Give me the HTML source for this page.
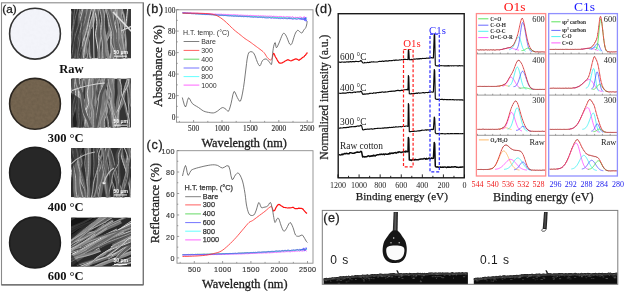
<!DOCTYPE html><html><head><meta charset="utf-8"><title>Figure</title><style>html,body{margin:0;padding:0;background:#fff;}body{width:625px;height:292px;overflow:hidden;}svg{display:block;}</style></head><body>
<svg width="625" height="292" viewBox="0 0 625 292">
<rect x="0" y="0" width="625" height="292" fill="#fff"/>
<rect x="1.5" y="2.8" width="141.8" height="282" fill="none" stroke="#8a8a8a" stroke-width="1.1"/>
<line x1="1.5" y1="284.8" x2="143.3" y2="284.8" stroke="#666" stroke-width="1.2"/>
<line x1="143.3" y1="2.8" x2="143.3" y2="284.8" stroke="#707070" stroke-width="1.1"/>
<text x="2.3" y="12.7" font-family="'Liberation Sans', Arial, sans-serif" font-size="11.8" fill="#222" text-anchor="start" font-weight="normal" stroke="#222" stroke-width="0.3">(a)</text>
<defs><filter id="paper" x="0" y="0" width="100%" height="100%"><feTurbulence type="fractalNoise" baseFrequency="0.35" numOctaves="2" seed="3" result="n"/><feColorMatrix in="n" type="matrix" values="0 0 0 0 0  0 0 0 0 0  0 0 0 0 0  0.35 0 0 0 -0.1" result="a"/><feComposite in="a" in2="SourceGraphic" operator="in"/></filter></defs>
<circle cx="35" cy="33.7" r="25.4" fill="#f3f4fa" stroke="#333" stroke-width="1.6"/>
<circle cx="35" cy="33.7" r="24.5" fill="#000" filter="url(#paper)" opacity="0.06"/>
<circle cx="35" cy="103.8" r="25.4" fill="#766651" stroke="#2b2620" stroke-width="1.6"/>
<circle cx="35" cy="103.8" r="24.5" fill="#000" filter="url(#paper)" opacity="0.4"/>
<circle cx="35" cy="172.7" r="25.4" fill="#272727" stroke="#1e1e1e" stroke-width="1.6"/>
<circle cx="35" cy="242.5" r="25.4" fill="#282828" stroke="#1e1e1e" stroke-width="1.6"/>
<clipPath id="semclip0"><rect x="71" y="9" width="60" height="49.5"/></clipPath>
<g clip-path="url(#semclip0)">
<rect x="71" y="9" width="60" height="49.5" fill="#3a3a3a"/>
<path d="M98.84 6 L98.54 8.4 L98.14 11.82 L97.89 15.25 L97.93 18.33 L98.13 21.42 L98.34 24.5 L98.57 27.58 L98.81 30.67 L98.89 33.75 L98.65 36.83 L98.26 39.92 L98.1 43 L98.38 46.08 L98.9 49.17 L99.35 52.25 L99.63 55.68 L99.86 59.1 L100.01 61.5" fill="none" stroke="#5d5d5d" stroke-width="1.41"/>
<path d="M99.55 6 L99.25 8.4 L98.84 11.82 L98.59 15.25 L98.64 18.33 L98.83 21.42 L99.04 24.5 L99.27 27.58 L99.51 30.67 L99.6 33.75 L99.36 36.83 L98.97 39.92 L98.8 43 L99.09 46.08 L99.6 49.17 L100.05 52.25 L100.34 55.68 L100.56 59.1 L100.71 61.5" fill="none" stroke="#b7b7b7" stroke-width="0.55"/>
<path d="M120.42 6 L121.49 8.4 L122.96 11.82 L124.13 15.25 L124.7 18.33 L124.97 21.42 L125.16 24.5 L125.26 27.58 L125.27 30.67 L125.36 33.75 L125.67 36.83 L126.06 39.92 L126.33 43 L126.31 46.08 L126.16 49.17 L126.12 52.25 L126.3 55.68 L126.58 59.1 L126.79 61.5" fill="none" stroke="#898989" stroke-width="1.34"/>
<path d="M119.76 6 L120.82 8.4 L122.29 11.82 L123.46 15.25 L124.03 18.33 L124.31 21.42 L124.49 24.5 L124.59 27.58 L124.6 30.67 L124.69 33.75 L125 36.83 L125.39 39.92 L125.66 43 L125.64 46.08 L125.49 49.17 L125.45 52.25 L125.63 55.68 L125.91 59.1 L126.12 61.5" fill="none" stroke="#bdbdbd" stroke-width="0.94"/>
<path d="M106.79 6 L107.45 8.4 L108.36 11.82 L109.07 15.25 L109.31 18.33 L109.34 21.42 L109.51 24.5 L109.97 27.58 L110.56 30.67 L111.16 33.75 L111.76 36.83 L112.37 39.92 L112.87 43 L113.15 46.08 L113.32 49.17 L113.6 52.25 L114.18 55.68 L114.88 59.1 L115.37 61.5" fill="none" stroke="#696969" stroke-width="2.09"/>
<path d="M105.74 6 L106.4 8.4 L107.31 11.82 L108.02 15.25 L108.26 18.33 L108.29 21.42 L108.46 24.5 L108.92 27.58 L109.51 30.67 L110.11 33.75 L110.71 36.83 L111.32 39.92 L111.82 43 L112.1 46.08 L112.27 49.17 L112.56 52.25 L113.13 55.68 L113.83 59.1 L114.32 61.5" fill="none" stroke="#c5c5c5" stroke-width="0.66"/>
<path d="M81.79 6 L82.11 8.4 L82.5 11.82 L82.57 15.25 L81.98 18.33 L81.05 21.42 L80.38 24.5 L80.33 27.58 L80.53 30.67 L80.45 33.75 L79.72 36.83 L78.7 39.92 L78 43 L78 46.08 L78.32 49.17 L78.43 52.25 L78.02 55.68 L77.4 59.1 L76.94 61.5" fill="none" stroke="#464646" stroke-width="1.67"/>
<path d="M80.96 6 L81.27 8.4 L81.67 11.82 L81.74 15.25 L81.14 18.33 L80.22 21.42 L79.54 24.5 L79.49 27.58 L79.7 30.67 L79.62 33.75 L78.88 36.83 L77.86 39.92 L77.16 43 L77.16 46.08 L77.48 49.17 L77.59 52.25 L77.18 55.68 L76.56 59.1 L76.11 61.5" fill="none" stroke="#e1e1e1" stroke-width="0.69"/>
<path d="M115.53 6 L115.07 8.4 L114.43 11.82 L114.06 15.25 L114.27 18.33 L114.73 21.42 L114.95 24.5 L114.62 27.58 L114.04 30.67 L113.56 33.75 L113.35 36.83 L113.24 39.92 L113.04 43 L112.6 46.08 L112.08 49.17 L111.77 52.25 L111.87 55.68 L112.18 59.1 L112.43 61.5" fill="none" stroke="#555555" stroke-width="1.5"/>
<path d="M114.79 6 L114.32 8.4 L113.68 11.82 L113.31 15.25 L113.52 18.33 L113.99 21.42 L114.2 24.5 L113.87 27.58 L113.29 30.67 L112.81 33.75 L112.6 36.83 L112.49 39.92 L112.29 43 L111.85 46.08 L111.33 49.17 L111.02 52.25 L111.12 55.68 L111.44 59.1 L111.68 61.5" fill="none" stroke="#a6a6a6" stroke-width="0.53"/>
<path d="M121.94 6 L121.41 8.4 L120.65 11.82 L119.84 15.25 L118.95 18.33 L118.02 21.42 L117.33 24.5 L117.2 27.58 L117.31 30.67 L117.06 33.75 L116.02 36.83 L114.63 39.92 L113.59 43 L113.35 46.08 L113.45 49.17 L113.24 52.25 L112.24 55.68 L110.92 59.1 L109.97 61.5" fill="none" stroke="#7b7b7b" stroke-width="3.38"/>
<path d="M120.25 6 L119.72 8.4 L118.96 11.82 L118.15 15.25 L117.26 18.33 L116.33 21.42 L115.64 24.5 L115.51 27.58 L115.62 30.67 L115.37 33.75 L114.34 36.83 L112.94 39.92 L111.9 43 L111.66 46.08 L111.76 49.17 L111.55 52.25 L110.55 55.68 L109.24 59.1 L108.28 61.5" fill="none" stroke="#c7c7c7" stroke-width="0.93"/>
<path d="M134.52 6 L133.82 8.4 L132.88 11.82 L132.29 15.25 L132.32 18.33 L132.7 21.42 L133.28 24.5 L134.2 27.58 L135.31 30.67 L136.06 33.75 L136.07 36.83 L135.71 39.92 L135.47 43 L135.59 46.08 L135.83 49.17 L135.91 52.25 L135.65 55.68 L135.24 59.1 L134.93 61.5" fill="none" stroke="#585858" stroke-width="1.67"/>
<path d="M135.35 6 L134.66 8.4 L133.71 11.82 L133.13 15.25 L133.15 18.33 L133.53 21.42 L134.11 24.5 L135.03 27.58 L136.15 30.67 L136.89 33.75 L136.91 36.83 L136.55 39.92 L136.3 43 L136.43 46.08 L136.67 49.17 L136.75 52.25 L136.49 55.68 L136.07 59.1 L135.76 61.5" fill="none" stroke="#a6a6a6" stroke-width="0.89"/>
<path d="M88.54 6 L88.21 8.4 L87.76 11.82 L87.46 15.25 L87.53 18.33 L87.75 21.42 L87.71 24.5 L87.11 27.58 L86.26 30.67 L85.62 33.75 L85.5 36.83 L85.59 39.92 L85.5 43 L85 46.08 L84.31 49.17 L83.72 52.25 L83.33 55.68 L83.02 59.1 L82.82 61.5" fill="none" stroke="#838383" stroke-width="3.03"/>
<path d="M87.03 6 L86.7 8.4 L86.24 11.82 L85.94 15.25 L86.01 18.33 L86.23 21.42 L86.19 24.5 L85.6 27.58 L84.74 30.67 L84.11 33.75 L83.98 36.83 L84.07 39.92 L83.98 43 L83.48 46.08 L82.8 49.17 L82.21 52.25 L81.81 55.68 L81.51 59.1 L81.31 61.5" fill="none" stroke="#d6d6d6" stroke-width="0.59"/>
<path d="M77.64 6 L77.76 8.4 L77.96 11.82 L78.31 15.25 L78.84 18.33 L79.53 21.42 L80.41 24.5 L81.59 27.58 L82.96 30.67 L84.22 33.75 L85.33 36.83 L86.34 39.92 L87.05 43 L87.15 46.08 L86.96 49.17 L87.23 52.25 L88.54 55.68 L90.32 59.1 L91.61 61.5" fill="none" stroke="#838383" stroke-width="2.53"/>
<path d="M78.9 6 L79.02 8.4 L79.22 11.82 L79.58 15.25 L80.11 18.33 L80.8 21.42 L81.67 24.5 L82.85 27.58 L84.22 30.67 L85.48 33.75 L86.59 36.83 L87.6 39.92 L88.31 43 L88.41 46.08 L88.22 49.17 L88.49 52.25 L89.8 55.68 L91.58 59.1 L92.87 61.5" fill="none" stroke="#ababab" stroke-width="0.55"/>
<path d="M68.07 6 L69.16 8.4 L70.69 11.82 L71.94 15.25 L72.46 18.33 L72.7 21.42 L73.25 24.5 L74.51 27.58 L76.08 30.67 L77.41 33.75 L78.22 36.83 L78.79 39.92 L79.34 43 L79.91 46.08 L80.46 49.17 L81.06 52.25 L81.85 55.68 L82.7 59.1 L83.3 61.5" fill="none" stroke="#4e4e4e" stroke-width="1.48"/>
<path d="M68.81 6 L69.9 8.4 L71.43 11.82 L72.68 15.25 L73.2 18.33 L73.44 21.42 L73.99 24.5 L75.25 27.58 L76.82 30.67 L78.15 33.75 L78.96 36.83 L79.53 39.92 L80.08 43 L80.65 46.08 L81.19 49.17 L81.8 52.25 L82.59 55.68 L83.44 59.1 L84.04 61.5" fill="none" stroke="#aeaeae" stroke-width="0.64"/>
<path d="M128.56 6 L128.33 8.4 L127.99 11.82 L127.62 15.25 L127.32 18.33 L126.98 21.42 L126.48 24.5 L125.63 27.58 L124.62 30.67 L123.75 33.75 L123.2 36.83 L122.81 39.92 L122.44 43 L122.05 46.08 L121.69 49.17 L121.33 52.25 L120.93 55.68 L120.54 59.1 L120.26 61.5" fill="none" stroke="#565656" stroke-width="1.4"/>
<path d="M127.86 6 L127.62 8.4 L127.29 11.82 L126.92 15.25 L126.61 18.33 L126.28 21.42 L125.77 24.5 L124.93 27.58 L123.91 30.67 L123.05 33.75 L122.5 36.83 L122.11 39.92 L121.73 43 L121.35 46.08 L120.99 49.17 L120.63 52.25 L120.23 55.68 L119.83 59.1 L119.56 61.5" fill="none" stroke="#dedede" stroke-width="0.99"/>
<path d="M111.56 6 L111.48 8.4 L111.38 11.82 L111.38 15.25 L111.56 18.33 L111.84 21.42 L112.15 24.5 L112.37 27.58 L112.63 30.67 L113.16 33.75 L114.27 36.83 L115.67 39.92 L116.72 43 L117.06 46.08 L117.05 49.17 L117.2 52.25 L117.76 55.68 L118.48 59.1 L118.99 61.5" fill="none" stroke="#484848" stroke-width="2.52"/>
<path d="M110.31 6 L110.22 8.4 L110.12 11.82 L110.12 15.25 L110.3 18.33 L110.58 21.42 L110.89 24.5 L111.11 27.58 L111.37 30.67 L111.9 33.75 L113.02 36.83 L114.41 39.92 L115.46 43 L115.8 46.08 L115.8 49.17 L115.94 52.25 L116.5 55.68 L117.22 59.1 L117.73 61.5" fill="none" stroke="#e2e2e2" stroke-width="0.53"/>
<path d="M87.61 6 L87.41 8.4 L87.11 11.82 L86.66 15.25 L86.03 18.33 L85.25 21.42 L84.4 24.5 L83.35 27.58 L82.23 30.67 L81.48 33.75 L81.5 36.83 L81.9 39.92 L81.96 43 L81.37 46.08 L80.44 49.17 L79.39 52.25 L78.09 55.68 L76.67 59.1 L75.67 61.5" fill="none" stroke="#717171" stroke-width="1.97"/>
<path d="M88.6 6 L88.4 8.4 L88.09 11.82 L87.65 15.25 L87.01 18.33 L86.24 21.42 L85.39 24.5 L84.34 27.58 L83.21 30.67 L82.47 33.75 L82.49 36.83 L82.89 39.92 L82.95 43 L82.36 46.08 L81.43 49.17 L80.37 52.25 L79.08 55.68 L77.66 59.1 L76.66 61.5" fill="none" stroke="#aeaeae" stroke-width="0.94"/>
<path d="M95.86 6 L96.03 8.4 L96.29 11.82 L96.66 15.25 L97.21 18.33 L97.86 21.42 L98.42 24.5 L98.74 27.58 L98.98 30.67 L99.35 33.75 L100 36.83 L100.79 39.92 L101.52 43 L102.18 46.08 L102.78 49.17 L103.21 52.25 L103.37 55.68 L103.37 59.1 L103.34 61.5" fill="none" stroke="#545454" stroke-width="3.39"/>
<path d="M97.55 6 L97.73 8.4 L97.99 11.82 L98.35 15.25 L98.9 18.33 L99.55 21.42 L100.11 24.5 L100.44 27.58 L100.67 30.67 L101.04 33.75 L101.69 36.83 L102.48 39.92 L103.22 43 L103.87 46.08 L104.47 49.17 L104.9 52.25 L105.07 55.68 L105.06 59.1 L105.04 61.5" fill="none" stroke="#cfcfcf" stroke-width="0.69"/>
<path d="M116.67 6 L117.2 8.4 L117.89 11.82 L118.23 15.25 L117.77 18.33 L116.95 21.42 L116.57 24.5 L117.19 27.58 L118.25 30.67 L118.89 33.75 L118.52 36.83 L117.72 39.92 L117.32 43 L117.8 46.08 L118.69 49.17 L119.37 52.25 L119.55 55.68 L119.52 59.1 L119.48 61.5" fill="none" stroke="#636363" stroke-width="3.31"/>
<path d="M115.02 6 L115.54 8.4 L116.24 11.82 L116.58 15.25 L116.12 18.33 L115.3 21.42 L114.92 24.5 L115.54 27.58 L116.6 30.67 L117.23 33.75 L116.86 36.83 L116.06 39.92 L115.66 43 L116.15 46.08 L117.04 49.17 L117.71 52.25 L117.9 55.68 L117.87 59.1 L117.83 61.5" fill="none" stroke="#e4e4e4" stroke-width="0.89"/>
<path d="M113.02 6 L112.59 8.4 L111.98 11.82 L111.47 15.25 L111.1 18.33 L110.82 21.42 L110.76 24.5 L111.09 27.58 L111.63 30.67 L112 33.75 L111.97 36.83 L111.76 39.92 L111.66 43 L111.85 46.08 L112.15 49.17 L112.24 52.25 L111.92 55.68 L111.4 59.1 L111.02 61.5" fill="none" stroke="#7e7e7e" stroke-width="2.3"/>
<path d="M111.88 6 L111.44 8.4 L110.83 11.82 L110.32 15.25 L109.95 18.33 L109.67 21.42 L109.61 24.5 L109.94 27.58 L110.48 30.67 L110.85 33.75 L110.82 36.83 L110.62 39.92 L110.51 43 L110.71 46.08 L111 49.17 L111.1 52.25 L110.78 55.68 L110.25 59.1 L109.87 61.5" fill="none" stroke="#cecece" stroke-width="0.7"/>
<path d="M84.65 6 L84.86 8.4 L85.14 11.82 L85.26 15.25 L85.03 18.33 L84.65 21.42 L84.45 24.5 L84.59 27.58 L84.91 30.67 L85.23 33.75 L85.42 36.83 L85.6 39.92 L85.99 43 L86.9 46.08 L88.02 49.17 L88.7 52.25 L88.53 55.68 L87.92 59.1 L87.45 61.5" fill="none" stroke="#575757" stroke-width="2.29"/>
<path d="M83.5 6 L83.71 8.4 L83.99 11.82 L84.11 15.25 L83.89 18.33 L83.51 21.42 L83.3 24.5 L83.45 27.58 L83.77 30.67 L84.09 33.75 L84.27 36.83 L84.45 39.92 L84.85 43 L85.75 46.08 L86.87 49.17 L87.55 52.25 L87.39 55.68 L86.78 59.1 L86.31 61.5" fill="none" stroke="#adadad" stroke-width="0.98"/>
<path d="M86.28 6 L85.66 8.4 L84.79 11.82 L83.95 15.25 L83.23 18.33 L82.55 21.42 L81.94 24.5 L81.46 27.58 L81.06 30.67 L80.67 33.75 L80.29 36.83 L79.91 39.92 L79.42 43 L78.77 46.08 L78 49.17 L77.22 52.25 L76.36 55.68 L75.49 59.1 L74.88 61.5" fill="none" stroke="#7f7f7f" stroke-width="1.9"/>
<path d="M85.33 6 L84.71 8.4 L83.84 11.82 L83 15.25 L82.28 18.33 L81.6 21.42 L80.99 24.5 L80.51 27.58 L80.11 30.67 L79.72 33.75 L79.33 36.83 L78.96 39.92 L78.47 43 L77.81 46.08 L77.05 49.17 L76.27 52.25 L75.41 55.68 L74.54 59.1 L73.93 61.5" fill="none" stroke="#c8c8c8" stroke-width="0.94"/>
<path d="M69.64 6 L69.68 8.4 L69.76 11.82 L70.07 15.25 L70.88 18.33 L71.92 21.42 L72.58 24.5 L72.41 27.58 L71.85 30.67 L71.57 33.75 L71.86 36.83 L72.43 39.92 L73.06 43 L73.78 46.08 L74.56 49.17 L75.11 52.25 L75.25 55.68 L75.15 59.1 L75.06 61.5" fill="none" stroke="#686868" stroke-width="1.72"/>
<path d="M68.78 6 L68.82 8.4 L68.9 11.82 L69.21 15.25 L70.02 18.33 L71.06 21.42 L71.72 24.5 L71.55 27.58 L70.99 30.67 L70.71 33.75 L71 36.83 L71.57 39.92 L72.2 43 L72.92 46.08 L73.7 49.17 L74.25 52.25 L74.39 55.68 L74.29 59.1 L74.2 61.5" fill="none" stroke="#ababab" stroke-width="0.99"/>
<path d="M75.64 6 L75.2 8.4 L74.54 11.82 L73.77 15.25 L72.87 18.33 L71.86 21.42 L70.84 24.5 L69.8 27.58 L68.76 30.67 L67.85 33.75 L67.1 36.83 L66.48 39.92 L66.02 43 L65.9 46.08 L65.94 49.17 L65.6 52.25 L64.46 55.68 L62.94 59.1 L61.84 61.5" fill="none" stroke="#474747" stroke-width="2.86"/>
<path d="M74.21 6 L73.77 8.4 L73.11 11.82 L72.34 15.25 L71.44 18.33 L70.43 21.42 L69.41 24.5 L68.37 27.58 L67.33 30.67 L66.42 33.75 L65.67 36.83 L65.05 39.92 L64.59 43 L64.47 46.08 L64.51 49.17 L64.17 52.25 L63.03 55.68 L61.51 59.1 L60.41 61.5" fill="none" stroke="#bbbbbb" stroke-width="0.61"/>
<path d="M121.12 6 L120.76 8.4 L120.28 11.82 L120.09 15.25 L120.57 18.33 L121.35 21.42 L121.7 24.5 L121.11 27.58 L120.11 30.67 L119.58 33.75 L120.07 36.83 L121.03 39.92 L121.73 43 L121.87 46.08 L121.75 49.17 L121.53 52.25 L121.19 55.68 L120.74 59.1 L120.42 61.5" fill="none" stroke="#7a7a7a" stroke-width="3.25"/>
<path d="M122.75 6 L122.38 8.4 L121.91 11.82 L121.72 15.25 L122.2 18.33 L122.97 21.42 L123.33 24.5 L122.74 27.58 L121.73 30.67 L121.2 33.75 L121.69 36.83 L122.65 39.92 L123.36 43 L123.5 46.08 L123.38 49.17 L123.16 52.25 L122.81 55.68 L122.37 59.1 L122.05 61.5" fill="none" stroke="#b5b5b5" stroke-width="0.73"/>
<path d="M78.31 6 L79.31 8.4 L80.71 11.82 L81.98 15.25 L82.91 18.33 L83.7 21.42 L84.42 24.5 L85 27.58 L85.5 30.67 L86.15 33.75 L87.14 36.83 L88.29 39.92 L89.18 43 L89.57 46.08 L89.71 49.17 L90 52.25 L90.68 55.68 L91.51 59.1 L92.1 61.5" fill="none" stroke="#606060" stroke-width="1.42"/>
<path d="M77.6 6 L78.6 8.4 L80 11.82 L81.27 15.25 L82.2 18.33 L82.99 21.42 L83.71 24.5 L84.29 27.58 L84.79 30.67 L85.44 33.75 L86.44 36.83 L87.58 39.92 L88.47 43 L88.86 46.08 L89.01 49.17 L89.29 52.25 L89.97 55.68 L90.8 59.1 L91.39 61.5" fill="none" stroke="#c0c0c0" stroke-width="0.62"/>
<path d="M93.74 6 L93.71 8.4 L93.63 11.82 L93.32 15.25 L92.73 18.33 L91.92 21.42 L90.91 24.5 L89.54 27.58 L87.97 30.67 L86.75 33.75 L86.3 36.83 L86.2 39.92 L85.74 43 L84.44 46.08 L82.77 49.17 L81.48 52.25 L80.9 55.68 L80.68 59.1 L80.57 61.5" fill="none" stroke="#4a4a4a" stroke-width="2.17"/>
<path d="M94.83 6 L94.79 8.4 L94.71 11.82 L94.41 15.25 L93.82 18.33 L93.01 21.42 L92 24.5 L90.62 27.58 L89.05 30.67 L87.83 33.75 L87.38 36.83 L87.28 39.92 L86.82 43 L85.52 46.08 L83.86 49.17 L82.57 52.25 L81.98 55.68 L81.76 59.1 L81.65 61.5" fill="none" stroke="#c8c8c8" stroke-width="0.74"/>
<path d="M67.15 6 L68.28 8.4 L69.81 11.82 L70.93 15.25 L71.12 18.33 L70.88 21.42 L70.89 24.5 L71.42 27.58 L72.2 30.67 L73.06 33.75 L74.11 36.83 L75.25 39.92 L76.04 43 L76.17 46.08 L75.96 49.17 L75.95 52.25 L76.46 55.68 L77.17 59.1 L77.69 61.5" fill="none" stroke="#888888" stroke-width="3.18"/>
<path d="M68.75 6 L69.87 8.4 L71.41 11.82 L72.52 15.25 L72.71 18.33 L72.47 21.42 L72.48 24.5 L73.01 27.58 L73.79 30.67 L74.65 33.75 L75.7 36.83 L76.84 39.92 L77.64 43 L77.76 46.08 L77.55 49.17 L77.54 52.25 L78.05 55.68 L78.76 59.1 L79.28 61.5" fill="none" stroke="#e4e4e4" stroke-width="0.79"/>
<path d="M113.22 6 L113.66 8.4 L114.3 11.82 L114.99 15.25 L115.74 18.33 L116.55 21.42 L117.18 24.5 L117.53 27.58 L117.71 30.67 L117.86 33.75 L117.91 36.83 L117.93 39.92 L118.18 43 L118.82 46.08 L119.7 49.17 L120.59 52.25 L121.52 55.68 L122.46 59.1 L123.12 61.5" fill="none" stroke="#666666" stroke-width="1.89"/>
<path d="M114.17 6 L114.61 8.4 L115.25 11.82 L115.93 15.25 L116.69 18.33 L117.49 21.42 L118.12 24.5 L118.48 27.58 L118.66 30.67 L118.8 33.75 L118.86 36.83 L118.87 39.92 L119.12 43 L119.76 46.08 L120.64 49.17 L121.53 52.25 L122.46 55.68 L123.4 59.1 L124.06 61.5" fill="none" stroke="#bfbfbf" stroke-width="0.65"/>
<path d="M75.88 6 L76.14 8.4 L76.5 11.82 L76.76 15.25 L76.85 18.33 L76.84 21.42 L76.77 24.5 L76.59 27.58 L76.36 30.67 L76.18 33.75 L76.07 36.83 L76.02 39.92 L76.12 43 L76.48 46.08 L76.98 49.17 L77.41 52.25 L77.72 55.68 L77.95 59.1 L78.11 61.5" fill="none" stroke="#4b4b4b" stroke-width="2.34"/>
<path d="M77.05 6 L77.31 8.4 L77.67 11.82 L77.93 15.25 L78.02 18.33 L78.01 21.42 L77.93 24.5 L77.76 27.58 L77.53 30.67 L77.35 33.75 L77.24 36.83 L77.19 39.92 L77.29 43 L77.64 46.08 L78.15 49.17 L78.58 52.25 L78.88 55.68 L79.12 59.1 L79.28 61.5" fill="none" stroke="#b4b4b4" stroke-width="0.75"/>
<path d="M114.88 6 L114.09 8.4 L113 11.82 L112.12 15.25 L111.74 18.33 L111.58 21.42 L111.23 24.5 L110.58 27.58 L109.75 30.67 L108.73 33.75 L107.35 36.83 L105.79 39.92 L104.49 43 L103.75 46.08 L103.28 49.17 L102.65 52.25 L101.51 55.68 L100.2 59.1 L99.27 61.5" fill="none" stroke="#7d7d7d" stroke-width="3.18"/>
<path d="M116.47 6 L115.68 8.4 L114.59 11.82 L113.71 15.25 L113.33 18.33 L113.17 21.42 L112.82 24.5 L112.17 27.58 L111.34 30.67 L110.32 33.75 L108.94 36.83 L107.38 39.92 L106.08 43 L105.34 46.08 L104.88 49.17 L104.24 52.25 L103.1 55.68 L101.79 59.1 L100.86 61.5" fill="none" stroke="#cdcdcd" stroke-width="0.55"/>
<path d="M95.7 6 L95.37 8.4 L94.87 11.82 L94.33 15.25 L93.88 18.33 L93.37 21.42 L92.49 24.5 L90.88 27.58 L88.9 30.67 L87.24 33.75 L86.29 36.83 L85.67 39.92 L84.96 43 L83.97 46.08 L82.9 49.17 L81.95 52.25 L81.18 55.68 L80.54 59.1 L80.1 61.5" fill="none" stroke="#737373" stroke-width="1.74"/>
<path d="M96.57 6 L96.23 8.4 L95.74 11.82 L95.2 15.25 L94.75 18.33 L94.24 21.42 L93.36 24.5 L91.75 27.58 L89.76 30.67 L88.11 33.75 L87.16 36.83 L86.54 39.92 L85.83 43 L84.84 46.08 L83.76 49.17 L82.82 52.25 L82.05 55.68 L81.41 59.1 L80.97 61.5" fill="none" stroke="#b2b2b2" stroke-width="0.75"/>
<path d="M106.3 6 L106.89 8.4 L107.72 11.82 L108.52 15.25 L109.16 18.33 L109.76 21.42 L110.43 24.5 L111.31 27.58 L112.26 30.67 L112.88 33.75 L112.79 36.83 L112.39 39.92 L112.44 43 L113.4 46.08 L114.81 49.17 L116.1 52.25 L117.11 55.68 L117.99 59.1 L118.59 61.5" fill="none" stroke="#5a5a5a" stroke-width="2.38"/>
<path d="M105.11 6 L105.7 8.4 L106.53 11.82 L107.33 15.25 L107.97 18.33 L108.57 21.42 L109.24 24.5 L110.12 27.58 L111.06 30.67 L111.69 33.75 L111.6 36.83 L111.19 39.92 L111.24 43 L112.2 46.08 L113.62 49.17 L114.9 52.25 L115.91 55.68 L116.79 59.1 L117.4 61.5" fill="none" stroke="#c0c0c0" stroke-width="0.93"/>
<path d="M107.21 6 L108.13 8.4 L109.44 11.82 L110.61 15.25 L111.42 18.33 L112.1 21.42 L112.78 24.5 L113.6 27.58 L114.41 30.67 L115.02 33.75 L115.21 36.83 L115.2 39.92 L115.36 43 L115.83 46.08 L116.49 49.17 L117.34 52.25 L118.57 55.68 L120 59.1 L121.02 61.5" fill="none" stroke="#616161" stroke-width="2.91"/>
<path d="M105.75 6 L106.68 8.4 L107.98 11.82 L109.15 15.25 L109.97 18.33 L110.64 21.42 L111.33 24.5 L112.14 27.58 L112.96 30.67 L113.57 33.75 L113.76 36.83 L113.74 39.92 L113.9 43 L114.38 46.08 L115.03 49.17 L115.88 52.25 L117.12 55.68 L118.54 59.1 L119.56 61.5" fill="none" stroke="#b1b1b1" stroke-width="0.57"/>
<path d="M82.19 6 L82.31 8.4 L82.51 11.82 L83 15.25 L84.03 18.33 L85.35 21.42 L86.31 24.5 L86.51 27.58 L86.34 30.67 L86.42 33.75 L87.13 36.83 L88.08 39.92 L88.71 43 L88.63 46.08 L88.22 49.17 L88.11 52.25 L88.67 55.68 L89.52 59.1 L90.14 61.5" fill="none" stroke="#484848" stroke-width="1.41"/>
<path d="M82.9 6 L83.02 8.4 L83.22 11.82 L83.7 15.25 L84.74 18.33 L86.06 21.42 L87.02 24.5 L87.21 27.58 L87.05 30.67 L87.13 33.75 L87.83 36.83 L88.79 39.92 L89.42 43 L89.33 46.08 L88.93 49.17 L88.81 52.25 L89.37 55.68 L90.22 59.1 L90.85 61.5" fill="none" stroke="#d3d3d3" stroke-width="0.56"/>
<path d="M100.93 6 L101.5 8.4 L102.29 11.82 L102.87 15.25 L102.99 18.33 L102.89 21.42 L102.92 24.5 L103.19 27.58 L103.58 30.67 L104.02 33.75 L104.51 36.83 L105.04 39.92 L105.55 43 L105.92 46.08 L106.27 49.17 L106.79 52.25 L107.73 55.68 L108.86 59.1 L109.66 61.5" fill="none" stroke="#878787" stroke-width="3.19"/>
<path d="M102.53 6 L103.1 8.4 L103.89 11.82 L104.47 15.25 L104.59 18.33 L104.49 21.42 L104.51 24.5 L104.78 27.58 L105.17 30.67 L105.61 33.75 L106.1 36.83 L106.64 39.92 L107.15 43 L107.52 46.08 L107.86 49.17 L108.39 52.25 L109.33 55.68 L110.45 59.1 L111.26 61.5" fill="none" stroke="#b7b7b7" stroke-width="0.59"/>
<path d="M74.45 6 L74.04 8.4 L73.47 11.82 L72.98 15.25 L72.73 18.33 L72.57 21.42 L72.25 24.5 L71.7 27.58 L70.99 30.67 L70.18 33.75 L69.12 36.83 L67.96 39.92 L67.11 43 L66.93 46.08 L67.06 49.17 L66.82 52.25 L65.76 55.68 L64.35 59.1 L63.32 61.5" fill="none" stroke="#525252" stroke-width="1.92"/>
<path d="M75.41 6 L75 8.4 L74.43 11.82 L73.94 15.25 L73.69 18.33 L73.53 21.42 L73.21 24.5 L72.66 27.58 L71.95 30.67 L71.14 33.75 L70.08 36.83 L68.92 39.92 L68.07 43 L67.89 46.08 L68.02 49.17 L67.78 52.25 L66.72 55.68 L65.31 59.1 L64.28 61.5" fill="none" stroke="#dbdbdb" stroke-width="0.76"/>
<path d="M94.7 6 L95.4 8.4 L96.38 11.82 L97.19 15.25 L97.7 18.33 L98.05 21.42 L98.15 24.5 L97.79 27.58 L97.17 30.67 L96.85 33.75 L97.1 36.83 L97.63 39.92 L98.18 43 L98.69 46.08 L99.21 49.17 L99.53 52.25 L99.52 55.68 L99.32 59.1 L99.16 61.5" fill="none" stroke="#5e5e5e" stroke-width="2.53"/>
<path d="M93.44 6 L94.14 8.4 L95.11 11.82 L95.92 15.25 L96.44 18.33 L96.79 21.42 L96.88 24.5 L96.52 27.58 L95.91 30.67 L95.59 33.75 L95.83 36.83 L96.37 39.92 L96.91 43 L97.42 46.08 L97.94 49.17 L98.27 52.25 L98.26 55.68 L98.06 59.1 L97.89 61.5" fill="none" stroke="#e6e6e6" stroke-width="0.9"/>
<path d="M90.72 6 L90.14 8.4 L89.32 11.82 L88.51 15.25 L87.77 18.33 L87.03 21.42 L86.29 24.5 L85.6 27.58 L84.9 30.67 L84.08 33.75 L83.05 36.83 L81.89 39.92 L80.74 43 L79.54 46.08 L78.33 49.17 L77.37 52.25 L76.77 55.68 L76.4 59.1 L76.17 61.5" fill="none" stroke="#717171" stroke-width="2.97"/>
<path d="M92.2 6 L91.63 8.4 L90.81 11.82 L89.99 15.25 L89.25 18.33 L88.52 21.42 L87.78 24.5 L87.08 27.58 L86.38 30.67 L85.56 33.75 L84.53 36.83 L83.38 39.92 L82.22 43 L81.02 46.08 L79.82 49.17 L78.86 52.25 L78.25 55.68 L77.89 59.1 L77.66 61.5" fill="none" stroke="#c8c8c8" stroke-width="0.96"/>
<path d="M118 6 L118.01 8.4 L118.07 11.82 L118.4 15.25 L119.24 18.33 L120.36 21.42 L121.32 24.5 L121.94 27.58 L122.4 30.67 L122.81 33.75 L123.16 36.83 L123.46 39.92 L123.84 43 L124.37 46.08 L124.99 49.17 L125.58 52.25 L126.17 55.68 L126.73 59.1 L127.12 61.5" fill="none" stroke="#797979" stroke-width="1.66"/>
<path d="M117.17 6 L117.18 8.4 L117.24 11.82 L117.57 15.25 L118.41 18.33 L119.53 21.42 L120.49 24.5 L121.11 27.58 L121.57 30.67 L121.99 33.75 L122.34 36.83 L122.63 39.92 L123.01 43 L123.55 46.08 L124.16 49.17 L124.76 52.25 L125.34 55.68 L125.9 59.1 L126.29 61.5" fill="none" stroke="#aeaeae" stroke-width="0.9"/>
<path d="M89.32 6 L88.84 8.4 L88.15 11.82 L87.39 15.25 L86.69 18.33 L85.93 21.42 L84.93 24.5 L83.44 27.58 L81.72 30.67 L80.33 33.75 L79.53 36.83 L79.06 39.92 L78.74 43 L78.68 46.08 L78.78 49.17 L78.45 52.25 L77.22 55.68 L75.57 59.1 L74.38 61.5" fill="none" stroke="#616161" stroke-width="2.65"/>
<path d="M87.99 6 L87.51 8.4 L86.82 11.82 L86.07 15.25 L85.36 18.33 L84.6 21.42 L83.6 24.5 L82.12 27.58 L80.39 30.67 L79 33.75 L78.2 36.83 L77.73 39.92 L77.41 43 L77.36 46.08 L77.45 49.17 L77.12 52.25 L75.9 55.68 L74.25 59.1 L73.05 61.5" fill="none" stroke="#aeaeae" stroke-width="0.69"/>
<path d="M135.3 6 L135.53 8.4 L135.87 11.82 L136.26 15.25 L136.81 18.33 L137.42 21.42 L137.66 24.5 L137.11 27.58 L136.2 30.67 L135.77 33.75 L136.31 36.83 L137.34 39.92 L138.22 43 L138.76 46.08 L139.15 49.17 L139.35 52.25 L139.27 55.68 L139 59.1 L138.79 61.5" fill="none" stroke="#797979" stroke-width="2.31"/>
<path d="M134.14 6 L134.38 8.4 L134.72 11.82 L135.1 15.25 L135.66 18.33 L136.26 21.42 L136.5 24.5 L135.96 27.58 L135.04 30.67 L134.61 33.75 L135.16 36.83 L136.18 39.92 L137.06 43 L137.6 46.08 L137.99 49.17 L138.2 52.25 L138.12 55.68 L137.85 59.1 L137.64 61.5" fill="none" stroke="#d5d5d5" stroke-width="0.51"/>
<path d="M84.54 6 L84.4 8.4 L84.18 11.82 L83.85 15.25 L83.37 18.33 L82.78 21.42 L82.26 24.5 L81.87 27.58 L81.56 30.67 L81.31 33.75 L81.26 36.83 L81.29 39.92 L80.98 43 L79.97 46.08 L78.64 49.17 L77.64 52.25 L77.31 55.68 L77.32 59.1 L77.36 61.5" fill="none" stroke="#4f4f4f" stroke-width="2.41"/>
<path d="M83.34 6 L83.19 8.4 L82.97 11.82 L82.65 15.25 L82.16 18.33 L81.57 21.42 L81.06 24.5 L80.67 27.58 L80.35 30.67 L80.1 33.75 L80.06 36.83 L80.08 39.92 L79.77 43 L78.77 46.08 L77.43 49.17 L76.44 52.25 L76.11 55.68 L76.12 59.1 L76.16 61.5" fill="none" stroke="#d6d6d6" stroke-width="0.97"/>
<path d="M77 6 L77.22 8.4 L77.52 11.82 L77.76 15.25 L77.93 18.33 L78.03 21.42 L77.92 24.5 L77.35 27.58 L76.56 30.67 L76.22 33.75 L76.84 36.83 L77.91 39.92 L78.55 43 L78.23 46.08 L77.48 49.17 L76.92 52.25 L76.84 55.68 L76.96 59.1 L77.06 61.5" fill="none" stroke="#6d6d6d" stroke-width="2"/>
<path d="M78 6 L78.22 8.4 L78.52 11.82 L78.76 15.25 L78.93 18.33 L79.03 21.42 L78.93 24.5 L78.35 27.58 L77.56 30.67 L77.22 33.75 L77.85 36.83 L78.92 39.92 L79.55 43 L79.23 46.08 L78.48 49.17 L77.92 52.25 L77.84 55.68 L77.96 59.1 L78.06 61.5" fill="none" stroke="#e2e2e2" stroke-width="0.83"/>
<path d="M106.12 6 L105.49 8.4 L104.59 11.82 L103.74 15.25 L103 18.33 L102.29 21.42 L101.75 24.5 L101.5 27.58 L101.42 30.67 L101.2 33.75 L100.66 36.83 L100 39.92 L99.43 43 L99.02 46.08 L98.71 49.17 L98.54 52.25 L98.62 55.68 L98.85 59.1 L99.02 61.5" fill="none" stroke="#777777" stroke-width="1.32"/>
<path d="M106.78 6 L106.15 8.4 L105.25 11.82 L104.4 15.25 L103.65 18.33 L102.95 21.42 L102.41 24.5 L102.16 27.58 L102.07 30.67 L101.85 33.75 L101.32 36.83 L100.65 39.92 L100.09 43 L99.68 46.08 L99.36 49.17 L99.2 52.25 L99.28 55.68 L99.5 59.1 L99.68 61.5" fill="none" stroke="#d7d7d7" stroke-width="0.53"/>
<path d="M132.24 6 L133.62 8.4 L135.53 11.82 L137.04 15.25 L137.63 18.33 L137.82 21.42 L138.17 24.5 L138.88 27.58 L139.76 30.67 L140.77 33.75 L142.09 36.83 L143.55 39.92 L144.63 43 L144.92 46.08 L144.83 49.17 L145.05 52.25 L146.05 55.68 L147.35 59.1 L148.3 61.5" fill="none" stroke="#818181" stroke-width="1.52"/>
<path d="M131.48 6 L132.86 8.4 L134.77 11.82 L136.28 15.25 L136.87 18.33 L137.06 21.42 L137.41 24.5 L138.13 27.58 L139 30.67 L140.02 33.75 L141.33 36.83 L142.79 39.92 L143.87 43 L144.16 46.08 L144.07 49.17 L144.29 52.25 L145.29 55.68 L146.6 59.1 L147.54 61.5" fill="none" stroke="#b3b3b3" stroke-width="0.53"/>
<path d="M97.07 6 L96.12 8.4 L94.78 11.82 L93.53 15.25 L92.53 18.33 L91.63 21.42 L90.85 24.5 L90.29 27.58 L89.87 30.67 L89.31 33.75 L88.43 36.83 L87.42 39.92 L86.56 43 L86.02 46.08 L85.64 49.17 L85.22 52.25 L84.65 55.68 L84.04 59.1 L83.62 61.5" fill="none" stroke="#7b7b7b" stroke-width="2"/>
<path d="M96.07 6 L95.12 8.4 L93.78 11.82 L92.53 15.25 L91.53 18.33 L90.63 21.42 L89.85 24.5 L89.29 27.58 L88.87 30.67 L88.31 33.75 L87.43 36.83 L86.42 39.92 L85.56 43 L85.02 46.08 L84.64 49.17 L84.22 52.25 L83.64 55.68 L83.04 59.1 L82.62 61.5" fill="none" stroke="#cacaca" stroke-width="0.87"/>
<path d="M85.01 6 L84.38 8.4 L83.48 11.82 L82.56 15.25 L81.72 18.33 L80.86 21.42 L79.97 24.5 L79.01 27.58 L78.02 30.67 L77.08 33.75 L76.2 36.83 L75.37 39.92 L74.7 43 L74.32 46.08 L74.1 49.17 L73.71 52.25 L72.9 55.68 L71.93 59.1 L71.23 61.5" fill="none" stroke="#5e5e5e" stroke-width="2.59"/>
<path d="M83.71 6 L83.08 8.4 L82.18 11.82 L81.26 15.25 L80.42 18.33 L79.56 21.42 L78.67 24.5 L77.72 27.58 L76.72 30.67 L75.79 33.75 L74.9 36.83 L74.07 39.92 L73.4 43 L73.02 46.08 L72.8 49.17 L72.41 52.25 L71.61 55.68 L70.63 59.1 L69.93 61.5" fill="none" stroke="#bdbdbd" stroke-width="0.98"/>
<path d="M100.02 6 L100.65 8.4 L101.53 11.82 L102.23 15.25 L102.64 18.33 L102.87 21.42 L102.93 24.5 L102.66 27.58 L102.22 30.67 L102.04 33.75 L102.43 36.83 L103.09 39.92 L103.59 43 L103.73 46.08 L103.72 49.17 L103.79 52.25 L104.07 55.68 L104.42 59.1 L104.67 61.5" fill="none" stroke="#626262" stroke-width="2.39"/>
<path d="M98.82 6 L99.45 8.4 L100.33 11.82 L101.04 15.25 L101.44 18.33 L101.67 21.42 L101.73 24.5 L101.46 27.58 L101.02 30.67 L100.85 33.75 L101.23 36.83 L101.89 39.92 L102.4 43 L102.54 46.08 L102.53 49.17 L102.59 52.25 L102.87 55.68 L103.22 59.1 L103.47 61.5" fill="none" stroke="#b0b0b0" stroke-width="0.96"/>
<path d="M79.76 6 L78.98 8.4 L77.88 11.82 L76.9 15.25 L76.2 18.33 L75.61 21.42 L75.06 24.5 L74.52 27.58 L74 30.67 L73.55 33.75 L73.22 36.83 L72.95 39.92 L72.51 43 L71.68 46.08 L70.68 49.17 L70.03 52.25 L70.02 55.68 L70.35 59.1 L70.62 61.5" fill="none" stroke="#555555" stroke-width="2.18"/>
<path d="M78.67 6 L77.89 8.4 L76.79 11.82 L75.81 15.25 L75.11 18.33 L74.52 21.42 L73.97 24.5 L73.42 27.58 L72.91 30.67 L72.45 33.75 L72.13 36.83 L71.85 39.92 L71.42 43 L70.59 46.08 L69.59 49.17 L68.94 52.25 L68.93 55.68 L69.26 59.1 L69.53 61.5" fill="none" stroke="#dddddd" stroke-width="0.71"/>
<path d="M71 9 L79 9 L83 58.5 L71 58.5 Z" fill="#111" opacity="0.45"/>
<path d="M113 12 L132 32" fill="none" stroke="#e0e0e0" stroke-width="1.6"/>
<path d="M121 31 L132 26" fill="none" stroke="#d0d0d0" stroke-width="1.3"/>
<path d="M93 9 L94 58.5" fill="none" stroke="#c8c8c8" stroke-width="1.0"/>
<text x="113.5" y="54" font-family="'Liberation Sans', Arial, sans-serif" font-size="5" font-weight="bold" fill="#fff">50 μm</text>
<rect x="114" y="55.7" width="13" height="0.9" fill="#fff"/>
</g>
<clipPath id="semclip1"><rect x="71" y="78.5" width="60" height="49"/></clipPath>
<g clip-path="url(#semclip1)">
<rect x="71" y="78.5" width="60" height="49" fill="#333333"/>
<path d="M99.45 75.5 L99.26 77.88 L98.99 81.27 L98.85 84.67 L98.89 87.72 L99.04 90.78 L99.35 93.83 L99.92 96.89 L100.65 99.94 L101.23 103 L101.46 106.06 L101.54 109.11 L101.82 112.17 L102.54 115.22 L103.47 118.28 L104.19 121.33 L104.52 124.73 L104.65 128.12 L104.72 130.5" fill="none" stroke="#636363" stroke-width="2.43"/>
<path d="M98.24 75.5 L98.04 77.88 L97.78 81.27 L97.64 84.67 L97.67 87.72 L97.83 90.78 L98.14 93.83 L98.71 96.89 L99.44 99.94 L100.02 103 L100.25 106.06 L100.33 109.11 L100.61 112.17 L101.33 115.22 L102.25 118.28 L102.97 121.33 L103.31 124.73 L103.43 128.12 L103.5 130.5" fill="none" stroke="#dddddd" stroke-width="0.68"/>
<path d="M90.83 75.5 L90.08 77.88 L89.02 81.27 L88.19 84.67 L87.8 87.72 L87.64 90.78 L87.47 93.83 L87.27 96.89 L87.07 99.94 L86.73 103 L86.14 106.06 L85.41 109.11 L84.75 112.17 L84.36 115.22 L84.05 118.28 L83.49 121.33 L82.33 124.73 L80.92 128.12 L79.9 130.5" fill="none" stroke="#4d4d4d" stroke-width="3"/>
<path d="M89.33 75.5 L88.57 77.88 L87.52 81.27 L86.68 84.67 L86.3 87.72 L86.14 90.78 L85.97 93.83 L85.77 96.89 L85.57 99.94 L85.23 103 L84.64 106.06 L83.9 109.11 L83.25 112.17 L82.86 115.22 L82.55 118.28 L81.98 121.33 L80.83 124.73 L79.42 128.12 L78.4 130.5" fill="none" stroke="#b0b0b0" stroke-width="0.99"/>
<path d="M96.37 75.5 L96.59 77.88 L96.88 81.27 L96.93 84.67 L96.5 87.72 L95.83 90.78 L95.41 93.83 L95.54 96.89 L95.9 99.94 L96.06 103 L95.72 106.06 L95.17 109.11 L94.85 112.17 L95.03 115.22 L95.45 118.28 L95.71 121.33 L95.6 124.73 L95.34 128.12 L95.14 130.5" fill="none" stroke="#5b5b5b" stroke-width="2.32"/>
<path d="M95.21 75.5 L95.43 77.88 L95.72 81.27 L95.77 84.67 L95.34 87.72 L94.68 90.78 L94.25 93.83 L94.38 96.89 L94.75 99.94 L94.9 103 L94.56 106.06 L94.01 109.11 L93.69 112.17 L93.87 115.22 L94.29 118.28 L94.55 121.33 L94.45 124.73 L94.18 128.12 L93.99 130.5" fill="none" stroke="#d8d8d8" stroke-width="0.8"/>
<path d="M112.79 75.5 L112.68 77.88 L112.53 81.27 L112.44 84.67 L112.51 87.72 L112.63 90.78 L112.55 93.83 L112.04 96.89 L111.32 99.94 L110.82 103 L110.68 106.06 L110.74 109.11 L110.96 112.17 L111.47 115.22 L112.14 118.28 L112.46 121.33 L112.08 124.73 L111.36 128.12 L110.82 130.5" fill="none" stroke="#747474" stroke-width="3.11"/>
<path d="M114.35 75.5 L114.24 77.88 L114.09 81.27 L113.99 84.67 L114.06 87.72 L114.18 90.78 L114.1 93.83 L113.59 96.89 L112.88 99.94 L112.37 103 L112.23 106.06 L112.29 109.11 L112.51 112.17 L113.03 115.22 L113.69 118.28 L114.01 121.33 L113.64 124.73 L112.91 128.12 L112.37 130.5" fill="none" stroke="#cccccc" stroke-width="0.56"/>
<path d="M83.26 75.5 L83.34 77.88 L83.44 81.27 L83.34 84.67 L82.94 87.72 L82.36 90.78 L81.72 93.83 L80.93 96.89 L80.09 99.94 L79.65 103 L80 106.06 L80.74 109.11 L81.12 112.17 L80.7 115.22 L79.91 118.28 L79.27 121.33 L78.98 124.73 L78.85 128.12 L78.77 130.5" fill="none" stroke="#626262" stroke-width="2.69"/>
<path d="M81.91 75.5 L82 77.88 L82.09 81.27 L82 84.67 L81.6 87.72 L81.01 90.78 L80.38 93.83 L79.59 96.89 L78.75 99.94 L78.3 103 L78.66 106.06 L79.4 109.11 L79.78 112.17 L79.36 115.22 L78.57 118.28 L77.93 121.33 L77.64 124.73 L77.5 128.12 L77.42 130.5" fill="none" stroke="#d6d6d6" stroke-width="0.6"/>
<path d="M107.06 75.5 L107.28 77.88 L107.61 81.27 L108.05 84.67 L108.63 87.72 L109.32 90.78 L109.99 93.83 L110.62 96.89 L111.24 99.94 L111.83 103 L112.37 106.06 L112.88 109.11 L113.41 112.17 L113.96 115.22 L114.52 118.28 L115.09 121.33 L115.73 124.73 L116.38 128.12 L116.83 130.5" fill="none" stroke="#878787" stroke-width="2.21"/>
<path d="M105.95 75.5 L106.17 77.88 L106.51 81.27 L106.95 84.67 L107.53 87.72 L108.21 90.78 L108.89 93.83 L109.52 96.89 L110.14 99.94 L110.73 103 L111.27 106.06 L111.78 109.11 L112.3 112.17 L112.85 115.22 L113.42 118.28 L113.99 121.33 L114.63 124.73 L115.27 128.12 L115.73 130.5" fill="none" stroke="#d0d0d0" stroke-width="0.64"/>
<path d="M98.51 75.5 L99.64 77.88 L101.19 81.27 L102.36 84.67 L102.57 87.72 L102.38 90.78 L102.68 93.83 L104.04 96.89 L105.88 99.94 L107.32 103 L107.87 106.06 L108.01 109.11 L108.27 112.17 L108.79 115.22 L109.44 118.28 L110.31 121.33 L111.67 124.73 L113.26 128.12 L114.39 130.5" fill="none" stroke="#464646" stroke-width="3.28"/>
<path d="M100.15 75.5 L101.28 77.88 L102.84 81.27 L104 84.67 L104.21 87.72 L104.02 90.78 L104.32 93.83 L105.68 96.89 L107.53 99.94 L108.96 103 L109.51 106.06 L109.65 109.11 L109.91 112.17 L110.44 115.22 L111.08 118.28 L111.95 121.33 L113.31 124.73 L114.9 128.12 L116.04 130.5" fill="none" stroke="#bbbbbb" stroke-width="0.62"/>
<path d="M68.75 75.5 L68.39 77.88 L67.87 81.27 L67.24 84.67 L66.54 87.72 L65.72 90.78 L64.75 93.83 L63.55 96.89 L62.19 99.94 L60.84 103 L59.46 106.06 L58.09 109.11 L56.96 112.17 L56.22 115.22 L55.72 118.28 L55.27 121.33 L54.78 124.73 L54.34 128.12 L54.04 130.5" fill="none" stroke="#696969" stroke-width="2.61"/>
<path d="M67.44 75.5 L67.09 77.88 L66.57 81.27 L65.94 84.67 L65.23 87.72 L64.42 90.78 L63.45 93.83 L62.25 96.89 L60.89 99.94 L59.53 103 L58.16 106.06 L56.79 109.11 L55.66 112.17 L54.92 115.22 L54.41 118.28 L53.96 121.33 L53.48 124.73 L53.04 128.12 L52.74 130.5" fill="none" stroke="#e5e5e5" stroke-width="0.74"/>
<path d="M111.31 75.5 L111.01 77.88 L110.54 81.27 L109.86 84.67 L108.8 87.72 L107.52 90.78 L106.51 93.83 L105.97 96.89 L105.69 99.94 L105.56 103 L105.7 106.06 L105.98 109.11 L105.89 112.17 L105.01 115.22 L103.77 118.28 L102.92 121.33 L102.86 124.73 L103.2 128.12 L103.47 130.5" fill="none" stroke="#878787" stroke-width="2.61"/>
<path d="M112.62 75.5 L112.31 77.88 L111.85 81.27 L111.17 84.67 L110.1 87.72 L108.82 90.78 L107.81 93.83 L107.27 96.89 L107 99.94 L106.87 103 L107 106.06 L107.28 109.11 L107.19 112.17 L106.31 115.22 L105.07 118.28 L104.22 121.33 L104.17 124.73 L104.5 128.12 L104.78 130.5" fill="none" stroke="#c0c0c0" stroke-width="0.87"/>
<path d="M101.89 75.5 L101.18 77.88 L100.19 81.27 L99.36 84.67 L98.97 87.72 L98.74 90.78 L98.25 93.83 L97.27 96.89 L96.03 99.94 L94.84 103 L93.8 106.06 L92.82 109.11 L91.89 112.17 L91.02 115.22 L90.21 118.28 L89.47 121.33 L88.75 124.73 L88.09 128.12 L87.64 130.5" fill="none" stroke="#4d4d4d" stroke-width="2.43"/>
<path d="M103.1 75.5 L102.39 77.88 L101.41 81.27 L100.57 84.67 L100.19 87.72 L99.95 90.78 L99.47 93.83 L98.48 96.89 L97.24 99.94 L96.06 103 L95.02 106.06 L94.03 109.11 L93.11 112.17 L92.24 115.22 L91.43 118.28 L90.69 121.33 L89.96 124.73 L89.31 128.12 L88.85 130.5" fill="none" stroke="#aaaaaa" stroke-width="0.71"/>
<path d="M107.1 75.5 L107.52 77.88 L108.13 81.27 L108.72 84.67 L109.22 87.72 L109.71 90.78 L110.28 93.83 L110.94 96.89 L111.69 99.94 L112.54 103 L113.6 106.06 L114.77 109.11 L115.77 112.17 L116.5 115.22 L117.06 118.28 L117.5 121.33 L117.82 124.73 L118.04 128.12 L118.17 130.5" fill="none" stroke="#595959" stroke-width="3.19"/>
<path d="M105.51 75.5 L105.93 77.88 L106.53 81.27 L107.13 84.67 L107.62 87.72 L108.11 90.78 L108.68 93.83 L109.35 96.89 L110.09 99.94 L110.95 103 L112.01 106.06 L113.18 109.11 L114.18 112.17 L114.9 115.22 L115.46 118.28 L115.9 121.33 L116.23 124.73 L116.44 128.12 L116.58 130.5" fill="none" stroke="#aeaeae" stroke-width="0.96"/>
<path d="M102.52 75.5 L102.67 77.88 L102.91 81.27 L103.32 84.67 L104.01 87.72 L104.86 90.78 L105.62 93.83 L106.11 96.89 L106.5 99.94 L107.1 103 L108.16 106.06 L109.43 109.11 L110.43 112.17 L110.9 115.22 L111.1 118.28 L111.34 121.33 L111.75 124.73 L112.2 128.12 L112.51 130.5" fill="none" stroke="#555555" stroke-width="1.67"/>
<path d="M103.35 75.5 L103.5 77.88 L103.75 81.27 L104.15 84.67 L104.84 87.72 L105.7 90.78 L106.46 93.83 L106.94 96.89 L107.33 99.94 L107.93 103 L109 106.06 L110.26 109.11 L111.26 112.17 L111.74 115.22 L111.94 118.28 L112.17 121.33 L112.58 124.73 L113.03 128.12 L113.35 130.5" fill="none" stroke="#c4c4c4" stroke-width="0.54"/>
<path d="M91.47 75.5 L91.17 77.88 L90.72 81.27 L90.17 84.67 L89.55 87.72 L88.83 90.78 L87.97 93.83 L86.88 96.89 L85.66 99.94 L84.52 103 L83.51 106.06 L82.59 109.11 L81.86 112.17 L81.48 115.22 L81.3 118.28 L80.96 121.33 L80.18 124.73 L79.23 128.12 L78.55 130.5" fill="none" stroke="#7d7d7d" stroke-width="2"/>
<path d="M90.47 75.5 L90.17 77.88 L89.72 81.27 L89.17 84.67 L88.55 87.72 L87.82 90.78 L86.97 93.83 L85.88 96.89 L84.66 99.94 L83.52 103 L82.51 106.06 L81.58 109.11 L80.86 112.17 L80.48 115.22 L80.3 118.28 L79.96 121.33 L79.17 124.73 L78.22 128.12 L77.54 130.5" fill="none" stroke="#bfbfbf" stroke-width="0.74"/>
<path d="M98.22 75.5 L97.5 77.88 L96.49 81.27 L95.54 84.67 L94.79 87.72 L94.11 90.78 L93.49 93.83 L92.89 96.89 L92.35 99.94 L91.97 103 L92.01 106.06 L92.22 109.11 L91.94 112.17 L90.66 115.22 L88.91 118.28 L87.55 121.33 L87 124.73 L86.84 128.12 L86.78 130.5" fill="none" stroke="#696969" stroke-width="3.07"/>
<path d="M99.75 75.5 L99.03 77.88 L98.02 81.27 L97.07 84.67 L96.32 87.72 L95.64 90.78 L95.02 93.83 L94.42 96.89 L93.88 99.94 L93.51 103 L93.55 106.06 L93.75 109.11 L93.47 112.17 L92.2 115.22 L90.44 118.28 L89.09 121.33 L88.53 124.73 L88.38 128.12 L88.31 130.5" fill="none" stroke="#cacaca" stroke-width="0.61"/>
<path d="M130.04 75.5 L129.56 77.88 L128.92 81.27 L128.54 84.67 L128.67 87.72 L129.06 90.78 L129.39 93.83 L129.55 96.89 L129.66 99.94 L129.8 103 L130.08 106.06 L130.4 109.11 L130.46 112.17 L130 115.22 L129.28 118.28 L128.81 121.33 L128.86 124.73 L129.16 128.12 L129.4 130.5" fill="none" stroke="#4c4c4c" stroke-width="3.03"/>
<path d="M128.52 75.5 L128.05 77.88 L127.41 81.27 L127.03 84.67 L127.15 87.72 L127.54 90.78 L127.88 93.83 L128.04 96.89 L128.14 99.94 L128.28 103 L128.57 106.06 L128.89 109.11 L128.95 112.17 L128.49 115.22 L127.77 118.28 L127.29 121.33 L127.35 124.73 L127.65 128.12 L127.89 130.5" fill="none" stroke="#d9d9d9" stroke-width="0.77"/>
<path d="M119.44 75.5 L119.25 77.88 L119 81.27 L118.84 84.67 L118.94 87.72 L119.15 90.78 L119.13 93.83 L118.64 96.89 L117.92 99.94 L117.38 103 L117.24 106.06 L117.27 109.11 L117.16 112.17 L116.68 115.22 L116.06 118.28 L115.66 121.33 L115.69 124.73 L115.95 128.12 L116.15 130.5" fill="none" stroke="#6f6f6f" stroke-width="2.91"/>
<path d="M120.89 75.5 L120.71 77.88 L120.45 81.27 L120.29 84.67 L120.4 87.72 L120.6 90.78 L120.58 93.83 L120.09 96.89 L119.38 99.94 L118.83 103 L118.69 106.06 L118.72 109.11 L118.61 112.17 L118.13 115.22 L117.51 118.28 L117.11 121.33 L117.15 124.73 L117.4 128.12 L117.6 130.5" fill="none" stroke="#cccccc" stroke-width="0.59"/>
<path d="M97.88 75.5 L98.61 77.88 L99.64 81.27 L100.54 84.67 L101.12 87.72 L101.56 90.78 L102.01 93.83 L102.49 96.89 L102.97 99.94 L103.49 103 L104.04 106.06 L104.62 109.11 L105.26 112.17 L106.04 115.22 L106.87 118.28 L107.53 121.33 L107.9 124.73 L108.1 128.12 L108.22 130.5" fill="none" stroke="#6f6f6f" stroke-width="1.53"/>
<path d="M98.64 75.5 L99.37 77.88 L100.4 81.27 L101.3 84.67 L101.88 87.72 L102.33 90.78 L102.77 93.83 L103.25 96.89 L103.73 99.94 L104.25 103 L104.8 106.06 L105.39 109.11 L106.03 112.17 L106.8 115.22 L107.64 118.28 L108.29 121.33 L108.67 124.73 L108.86 128.12 L108.98 130.5" fill="none" stroke="#a9a9a9" stroke-width="0.92"/>
<path d="M107.62 75.5 L108.23 77.88 L109.08 81.27 L109.76 84.67 L110.01 87.72 L110.1 90.78 L110.33 93.83 L110.9 96.89 L111.63 99.94 L112.3 103 L112.83 106.06 L113.3 109.11 L113.78 112.17 L114.3 115.22 L114.83 118.28 L115.36 121.33 L115.96 124.73 L116.55 128.12 L116.97 130.5" fill="none" stroke="#5d5d5d" stroke-width="1.57"/>
<path d="M106.83 75.5 L107.45 77.88 L108.3 81.27 L108.97 84.67 L109.23 87.72 L109.31 90.78 L109.54 93.83 L110.11 96.89 L110.84 99.94 L111.51 103 L112.04 106.06 L112.51 109.11 L113 112.17 L113.52 115.22 L114.04 118.28 L114.58 121.33 L115.17 124.73 L115.76 128.12 L116.18 130.5" fill="none" stroke="#c5c5c5" stroke-width="0.55"/>
<path d="M85.55 75.5 L85.92 77.88 L86.45 81.27 L87.08 84.67 L87.82 87.72 L88.66 90.78 L89.46 93.83 L90.14 96.89 L90.79 99.94 L91.52 103 L92.45 106.06 L93.47 109.11 L94.39 112.17 L95.12 115.22 L95.74 118.28 L96.34 121.33 L97 124.73 L97.63 128.12 L98.07 130.5" fill="none" stroke="#6d6d6d" stroke-width="3.03"/>
<path d="M84.04 75.5 L84.4 77.88 L84.93 81.27 L85.56 84.67 L86.31 87.72 L87.14 90.78 L87.95 93.83 L88.63 96.89 L89.27 99.94 L90 103 L90.94 106.06 L91.96 109.11 L92.88 112.17 L93.6 115.22 L94.23 118.28 L94.83 121.33 L95.48 124.73 L96.12 128.12 L96.56 130.5" fill="none" stroke="#a8a8a8" stroke-width="0.78"/>
<path d="M68.48 75.5 L68.86 77.88 L69.43 81.27 L70.19 84.67 L71.26 87.72 L72.51 90.78 L73.61 93.83 L74.4 96.89 L75.04 99.94 L75.65 103 L76.31 106.06 L76.95 109.11 L77.51 112.17 L77.94 115.22 L78.29 118.28 L78.64 121.33 L79.04 124.73 L79.43 128.12 L79.71 130.5" fill="none" stroke="#484848" stroke-width="2.54"/>
<path d="M67.22 75.5 L67.6 77.88 L68.17 81.27 L68.93 84.67 L69.99 87.72 L71.25 90.78 L72.35 93.83 L73.13 96.89 L73.77 99.94 L74.38 103 L75.04 106.06 L75.68 109.11 L76.24 112.17 L76.67 115.22 L77.02 118.28 L77.37 121.33 L77.77 124.73 L78.16 128.12 L78.44 130.5" fill="none" stroke="#d3d3d3" stroke-width="0.84"/>
<path d="M103.63 75.5 L103.65 77.88 L103.67 81.27 L103.7 84.67 L103.78 87.72 L103.88 90.78 L103.83 93.83 L103.51 96.89 L103.05 99.94 L102.72 103 L102.69 106.06 L102.79 109.11 L102.8 112.17 L102.58 115.22 L102.26 118.28 L102.05 121.33 L102.05 124.73 L102.15 128.12 L102.23 130.5" fill="none" stroke="#777777" stroke-width="3.08"/>
<path d="M102.1 75.5 L102.11 77.88 L102.13 81.27 L102.16 84.67 L102.25 87.72 L102.34 90.78 L102.29 93.83 L101.97 96.89 L101.51 99.94 L101.18 103 L101.15 106.06 L101.26 109.11 L101.26 112.17 L101.04 115.22 L100.72 118.28 L100.51 121.33 L100.51 124.73 L100.61 128.12 L100.69 130.5" fill="none" stroke="#c8c8c8" stroke-width="0.51"/>
<path d="M76.71 75.5 L76.78 77.88 L76.92 81.27 L77.38 84.67 L78.42 87.72 L79.77 90.78 L80.87 93.83 L81.48 96.89 L81.85 99.94 L82.15 103 L82.37 106.06 L82.52 109.11 L82.87 112.17 L83.7 115.22 L84.73 118.28 L85.45 121.33 L85.57 124.73 L85.38 128.12 L85.22 130.5" fill="none" stroke="#4f4f4f" stroke-width="3.05"/>
<path d="M75.18 75.5 L75.26 77.88 L75.4 81.27 L75.86 84.67 L76.9 87.72 L78.24 90.78 L79.35 93.83 L79.96 96.89 L80.33 99.94 L80.63 103 L80.84 106.06 L80.99 109.11 L81.35 112.17 L82.18 115.22 L83.21 118.28 L83.92 121.33 L84.05 124.73 L83.86 128.12 L83.69 130.5" fill="none" stroke="#d1d1d1" stroke-width="0.53"/>
<path d="M73.86 75.5 L73.2 77.88 L72.28 81.27 L71.44 84.67 L70.88 87.72 L70.41 90.78 L69.83 93.83 L68.94 96.89 L67.94 99.94 L67.16 103 L66.85 106.06 L66.76 109.11 L66.47 112.17 L65.74 115.22 L64.8 118.28 L63.99 121.33 L63.42 124.73 L62.98 128.12 L62.69 130.5" fill="none" stroke="#494949" stroke-width="2.51"/>
<path d="M75.11 75.5 L74.45 77.88 L73.53 81.27 L72.69 84.67 L72.13 87.72 L71.67 90.78 L71.08 93.83 L70.2 96.89 L69.19 99.94 L68.41 103 L68.1 106.06 L68.01 109.11 L67.73 112.17 L66.99 115.22 L66.05 118.28 L65.25 121.33 L64.67 124.73 L64.23 128.12 L63.94 130.5" fill="none" stroke="#bfbfbf" stroke-width="0.73"/>
<path d="M90.55 75.5 L90.78 77.88 L91.1 81.27 L91.29 84.67 L91.19 87.72 L90.98 90.78 L90.97 93.83 L91.41 96.89 L92.07 99.94 L92.54 103 L92.63 106.06 L92.54 109.11 L92.47 112.17 L92.37 115.22 L92.28 118.28 L92.51 121.33 L93.37 124.73 L94.55 128.12 L95.41 130.5" fill="none" stroke="#747474" stroke-width="1.51"/>
<path d="M89.8 75.5 L90.03 77.88 L90.34 81.27 L90.54 84.67 L90.44 87.72 L90.22 90.78 L90.21 93.83 L90.66 96.89 L91.31 99.94 L91.78 103 L91.88 106.06 L91.79 109.11 L91.71 112.17 L91.61 115.22 L91.53 118.28 L91.76 121.33 L92.62 124.73 L93.79 128.12 L94.65 130.5" fill="none" stroke="#e3e3e3" stroke-width="0.8"/>
<path d="M112.62 75.5 L112.11 77.88 L111.38 81.27 L110.65 84.67 L110 87.72 L109.36 90.78 L108.66 93.83 L107.9 96.89 L107.1 99.94 L106.25 103 L105.36 106.06 L104.42 109.11 L103.37 112.17 L102.11 115.22 L100.75 118.28 L99.52 121.33 L98.48 124.73 L97.58 128.12 L96.96 130.5" fill="none" stroke="#848484" stroke-width="1.95"/>
<path d="M113.59 75.5 L113.08 77.88 L112.35 81.27 L111.62 84.67 L110.98 87.72 L110.33 90.78 L109.64 93.83 L108.88 96.89 L108.08 99.94 L107.22 103 L106.33 106.06 L105.4 109.11 L104.35 112.17 L103.09 115.22 L101.72 118.28 L100.5 121.33 L99.45 124.73 L98.55 128.12 L97.94 130.5" fill="none" stroke="#adadad" stroke-width="0.62"/>
<path d="M91.96 75.5 L92.42 77.88 L93.08 81.27 L93.73 84.67 L94.39 87.72 L95.04 90.78 L95.5 93.83 L95.67 96.89 L95.65 99.94 L95.54 103 L95.28 106.06 L94.93 109.11 L94.78 112.17 L95.05 115.22 L95.53 118.28 L95.86 121.33 L95.87 124.73 L95.72 128.12 L95.6 130.5" fill="none" stroke="#858585" stroke-width="1.58"/>
<path d="M91.17 75.5 L91.63 77.88 L92.29 81.27 L92.94 84.67 L93.6 87.72 L94.25 90.78 L94.71 93.83 L94.88 96.89 L94.86 99.94 L94.75 103 L94.49 106.06 L94.14 109.11 L93.99 112.17 L94.26 115.22 L94.74 118.28 L95.07 121.33 L95.08 124.73 L94.93 128.12 L94.81 130.5" fill="none" stroke="#c8c8c8" stroke-width="0.69"/>
<path d="M89.72 75.5 L88.95 77.88 L87.87 81.27 L87.06 84.67 L86.8 87.72 L86.8 90.78 L86.74 93.83 L86.5 96.89 L86.2 99.94 L85.82 103 L85.29 106.06 L84.67 109.11 L84.22 112.17 L84.1 115.22 L84.15 118.28 L84.06 121.33 L83.65 124.73 L83.11 128.12 L82.71 130.5" fill="none" stroke="#6f6f6f" stroke-width="2.57"/>
<path d="M91.01 75.5 L90.23 77.88 L89.15 81.27 L88.34 84.67 L88.08 87.72 L88.09 90.78 L88.02 93.83 L87.79 96.89 L87.48 99.94 L87.11 103 L86.57 106.06 L85.96 109.11 L85.5 112.17 L85.39 115.22 L85.43 118.28 L85.34 121.33 L84.93 124.73 L84.39 128.12 L84 130.5" fill="none" stroke="#b7b7b7" stroke-width="0.65"/>
<path d="M89.03 75.5 L89.34 77.88 L89.78 81.27 L90.23 84.67 L90.71 87.72 L91.2 90.78 L91.46 93.83 L91.24 96.89 L90.8 99.94 L90.72 103 L91.45 106.06 L92.54 109.11 L93.26 112.17 L93.19 115.22 L92.75 118.28 L92.53 121.33 L92.86 124.73 L93.41 128.12 L93.82 130.5" fill="none" stroke="#848484" stroke-width="3.38"/>
<path d="M90.72 75.5 L91.03 77.88 L91.47 81.27 L91.92 84.67 L92.4 87.72 L92.89 90.78 L93.15 93.83 L92.93 96.89 L92.49 99.94 L92.41 103 L93.14 106.06 L94.23 109.11 L94.95 112.17 L94.88 115.22 L94.44 118.28 L94.22 121.33 L94.55 124.73 L95.1 128.12 L95.51 130.5" fill="none" stroke="#bababa" stroke-width="0.9"/>
<path d="M83.85 75.5 L82.81 77.88 L81.34 81.27 L80.07 84.67 L79.26 87.72 L78.63 90.78 L77.93 93.83 L77.02 96.89 L76.03 99.94 L75.12 103 L74.37 106.06 L73.7 109.11 L72.99 112.17 L72.13 115.22 L71.24 118.28 L70.53 121.33 L70.11 124.73 L69.87 128.12 L69.72 130.5" fill="none" stroke="#6d6d6d" stroke-width="2.21"/>
<path d="M84.95 75.5 L83.91 77.88 L82.45 81.27 L81.17 84.67 L80.36 87.72 L79.73 90.78 L79.03 93.83 L78.12 96.89 L77.13 99.94 L76.22 103 L75.48 106.06 L74.81 109.11 L74.1 112.17 L73.24 115.22 L72.35 118.28 L71.63 121.33 L71.21 124.73 L70.97 128.12 L70.82 130.5" fill="none" stroke="#d7d7d7" stroke-width="0.72"/>
<path d="M94.97 75.5 L94.02 77.88 L92.71 81.27 L91.74 84.67 L91.49 87.72 L91.57 90.78 L91.6 93.83 L91.46 96.89 L91.25 99.94 L90.89 103 L90.25 106.06 L89.45 109.11 L88.81 112.17 L88.47 115.22 L88.27 118.28 L88.05 121.33 L87.67 124.73 L87.25 128.12 L86.95 130.5" fill="none" stroke="#717171" stroke-width="1.98"/>
<path d="M95.96 75.5 L95.01 77.88 L93.7 81.27 L92.73 84.67 L92.48 87.72 L92.56 90.78 L92.59 93.83 L92.45 96.89 L92.24 99.94 L91.88 103 L91.24 106.06 L90.45 109.11 L89.8 112.17 L89.46 115.22 L89.27 118.28 L89.04 121.33 L88.66 124.73 L88.24 128.12 L87.95 130.5" fill="none" stroke="#b6b6b6" stroke-width="0.51"/>
<path d="M126.71 75.5 L127.61 77.88 L128.87 81.27 L129.92 84.67 L130.6 87.72 L131.07 90.78 L131.34 93.83 L131.16 96.89 L130.77 99.94 L130.83 103 L131.82 106.06 L133.25 109.11 L134.34 112.17 L134.68 115.22 L134.68 118.28 L134.77 121.33 L135.19 124.73 L135.7 128.12 L136.07 130.5" fill="none" stroke="#676767" stroke-width="2.13"/>
<path d="M125.65 75.5 L126.55 77.88 L127.8 81.27 L128.86 84.67 L129.53 87.72 L130.01 90.78 L130.27 93.83 L130.1 96.89 L129.71 99.94 L129.76 103 L130.75 106.06 L132.18 109.11 L133.28 112.17 L133.62 115.22 L133.61 118.28 L133.71 121.33 L134.12 124.73 L134.63 128.12 L135 130.5" fill="none" stroke="#b7b7b7" stroke-width="0.53"/>
<path d="M74.34 75.5 L73.96 77.88 L73.45 81.27 L73.18 84.67 L73.45 87.72 L73.96 90.78 L74.1 93.83 L73.51 96.89 L72.56 99.94 L71.78 103 L71.41 106.06 L71.22 109.11 L71.03 112.17 L70.75 115.22 L70.48 118.28 L70.28 121.33 L70.18 124.73 L70.16 128.12 L70.15 130.5" fill="none" stroke="#585858" stroke-width="3.05"/>
<path d="M75.86 75.5 L75.48 77.88 L74.97 81.27 L74.7 84.67 L74.97 87.72 L75.48 90.78 L75.63 93.83 L75.03 96.89 L74.08 99.94 L73.3 103 L72.93 106.06 L72.74 109.11 L72.55 112.17 L72.28 115.22 L72 118.28 L71.8 121.33 L71.71 124.73 L71.68 128.12 L71.67 130.5" fill="none" stroke="#c5c5c5" stroke-width="0.97"/>
<path d="M102.3 75.5 L102.72 77.88 L103.29 81.27 L103.59 84.67 L103.4 87.72 L102.93 90.78 L102.45 93.83 L101.97 96.89 L101.48 99.94 L101.12 103 L101.09 106.06 L101.19 109.11 L101.06 112.17 L100.4 115.22 L99.5 118.28 L98.84 121.33 L98.69 124.73 L98.78 128.12 L98.88 130.5" fill="none" stroke="#7e7e7e" stroke-width="1.44"/>
<path d="M101.58 75.5 L102 77.88 L102.57 81.27 L102.87 84.67 L102.68 87.72 L102.21 90.78 L101.73 93.83 L101.25 96.89 L100.76 99.94 L100.4 103 L100.37 106.06 L100.47 109.11 L100.34 112.17 L99.68 115.22 L98.78 118.28 L98.12 121.33 L97.97 124.73 L98.07 128.12 L98.16 130.5" fill="none" stroke="#acacac" stroke-width="0.72"/>
<path d="M68.08 75.5 L68.14 77.88 L68.21 81.27 L68.16 84.67 L67.8 87.72 L67.33 90.78 L67.23 93.83 L67.89 96.89 L68.91 99.94 L69.55 103 L69.38 106.06 L68.82 109.11 L68.4 112.17 L68.31 115.22 L68.36 118.28 L68.48 121.33 L68.71 124.73 L69.01 128.12 L69.24 130.5" fill="none" stroke="#8c8c8c" stroke-width="2.08"/>
<path d="M67.04 75.5 L67.1 77.88 L67.17 81.27 L67.12 84.67 L66.76 87.72 L66.29 90.78 L66.19 93.83 L66.85 96.89 L67.87 99.94 L68.51 103 L68.34 106.06 L67.78 109.11 L67.36 112.17 L67.27 115.22 L67.32 118.28 L67.44 121.33 L67.67 124.73 L67.98 128.12 L68.2 130.5" fill="none" stroke="#e5e5e5" stroke-width="0.69"/>
<path d="M129.91 75.5 L129 77.88 L127.72 81.27 L126.54 84.67 L125.66 87.72 L124.88 90.78 L124.19 93.83 L123.73 96.89 L123.34 99.94 L122.61 103 L121.15 106.06 L119.34 109.11 L117.83 112.17 L116.92 115.22 L116.3 118.28 L115.74 121.33 L115.14 124.73 L114.6 128.12 L114.23 130.5" fill="none" stroke="#787878" stroke-width="2.35"/>
<path d="M128.74 75.5 L127.82 77.88 L126.54 81.27 L125.37 84.67 L124.48 87.72 L123.71 90.78 L123.02 93.83 L122.55 96.89 L122.17 99.94 L121.43 103 L119.98 106.06 L118.17 109.11 L116.66 112.17 L115.74 115.22 L115.12 118.28 L114.57 121.33 L113.96 124.73 L113.42 128.12 L113.05 130.5" fill="none" stroke="#c9c9c9" stroke-width="0.83"/>
<path d="M90.92 75.5 L90.66 77.88 L90.28 81.27 L89.86 84.67 L89.31 87.72 L88.73 90.78 L88.46 93.83 L88.91 96.89 L89.68 99.94 L89.9 103 L88.96 106.06 L87.48 109.11 L86.39 112.17 L86.26 115.22 L86.53 118.28 L86.51 121.33 L85.78 124.73 L84.77 128.12 L84.03 130.5" fill="none" stroke="#868686" stroke-width="2.37"/>
<path d="M89.73 75.5 L89.47 77.88 L89.09 81.27 L88.67 84.67 L88.13 87.72 L87.54 90.78 L87.27 93.83 L87.73 96.89 L88.5 99.94 L88.71 103 L87.78 106.06 L86.29 109.11 L85.2 112.17 L85.07 115.22 L85.34 118.28 L85.33 121.33 L84.6 124.73 L83.58 128.12 L82.84 130.5" fill="none" stroke="#d2d2d2" stroke-width="0.99"/>
<path d="M82.81 75.5 L82.33 77.88 L81.67 81.27 L81.22 84.67 L81.19 87.72 L81.36 90.78 L81.49 93.83 L81.47 96.89 L81.41 99.94 L81.32 103 L81.2 106.06 L81.06 109.11 L80.92 112.17 L80.82 115.22 L80.73 118.28 L80.59 121.33 L80.35 124.73 L80.06 128.12 L79.85 130.5" fill="none" stroke="#6a6a6a" stroke-width="2.15"/>
<path d="M83.89 75.5 L83.41 77.88 L82.75 81.27 L82.29 84.67 L82.26 87.72 L82.44 90.78 L82.56 93.83 L82.55 96.89 L82.48 99.94 L82.4 103 L82.28 106.06 L82.14 109.11 L82 112.17 L81.9 115.22 L81.81 118.28 L81.67 121.33 L81.42 124.73 L81.13 128.12 L80.93 130.5" fill="none" stroke="#bfbfbf" stroke-width="0.58"/>
<path d="M67.79 75.5 L67.71 77.88 L67.61 81.27 L67.72 84.67 L68.23 87.72 L68.94 90.78 L69.51 93.83 L69.76 96.89 L69.87 99.94 L69.97 103 L70.08 106.06 L70.18 109.11 L70.39 112.17 L70.8 115.22 L71.31 118.28 L71.74 121.33 L72.01 124.73 L72.21 128.12 L72.33 130.5" fill="none" stroke="#898989" stroke-width="2.57"/>
<path d="M66.51 75.5 L66.42 77.88 L66.33 81.27 L66.44 84.67 L66.95 87.72 L67.66 90.78 L68.22 93.83 L68.47 96.89 L68.58 99.94 L68.68 103 L68.79 106.06 L68.9 109.11 L69.11 112.17 L69.51 115.22 L70.02 118.28 L70.45 121.33 L70.73 124.73 L70.92 128.12 L71.05 130.5" fill="none" stroke="#cbcbcb" stroke-width="0.81"/>
<path d="M106.63 75.5 L106.25 77.88 L105.68 81.27 L104.87 84.67 L103.63 87.72 L102.15 90.78 L100.98 93.83 L100.41 96.89 L100.14 99.94 L99.86 103 L99.44 106.06 L99.01 109.11 L98.54 112.17 L98.02 115.22 L97.46 118.28 L96.86 121.33 L96.14 124.73 L95.39 128.12 L94.85 130.5" fill="none" stroke="#515151" stroke-width="3.31"/>
<path d="M104.97 75.5 L104.6 77.88 L104.02 81.27 L103.21 84.67 L101.97 87.72 L100.5 90.78 L99.33 93.83 L98.76 96.89 L98.49 99.94 L98.2 103 L97.79 106.06 L97.35 109.11 L96.88 112.17 L96.36 115.22 L95.8 118.28 L95.21 121.33 L94.49 124.73 L93.73 128.12 L93.2 130.5" fill="none" stroke="#bbbbbb" stroke-width="0.87"/>
<path d="M133.25 75.5 L133.9 77.88 L134.83 81.27 L135.72 84.67 L136.39 87.72 L137.02 90.78 L137.77 93.83 L138.75 96.89 L139.84 99.94 L140.94 103 L142 106.06 L143.05 109.11 L144.05 112.17 L144.91 115.22 L145.71 118.28 L146.62 121.33 L147.85 124.73 L149.18 128.12 L150.12 130.5" fill="none" stroke="#6e6e6e" stroke-width="2.65"/>
<path d="M134.57 75.5 L135.23 77.88 L136.16 81.27 L137.04 84.67 L137.72 87.72 L138.35 90.78 L139.1 93.83 L140.07 96.89 L141.17 99.94 L142.26 103 L143.32 106.06 L144.38 109.11 L145.37 112.17 L146.24 115.22 L147.04 118.28 L147.95 121.33 L149.18 124.73 L150.51 128.12 L151.45 130.5" fill="none" stroke="#bfbfbf" stroke-width="0.93"/>
<path d="M109.12 75.5 L109.41 77.88 L109.84 81.27 L110.42 84.67 L111.31 87.72 L112.35 90.78 L113.1 93.83 L113.22 96.89 L113.05 99.94 L113.09 103 L113.51 106.06 L114.15 109.11 L114.99 112.17 L116.21 115.22 L117.65 118.28 L118.75 121.33 L119.25 124.73 L119.42 128.12 L119.5 130.5" fill="none" stroke="#777777" stroke-width="2.75"/>
<path d="M107.74 75.5 L108.03 77.88 L108.46 81.27 L109.04 84.67 L109.93 87.72 L110.97 90.78 L111.72 93.83 L111.84 96.89 L111.67 99.94 L111.71 103 L112.13 106.06 L112.77 109.11 L113.61 112.17 L114.84 115.22 L116.27 118.28 L117.37 121.33 L117.87 124.73 L118.04 128.12 L118.13 130.5" fill="none" stroke="#b6b6b6" stroke-width="0.8"/>
<path d="M78.37 75.5 L78.09 77.88 L77.69 81.27 L77.4 84.67 L77.3 87.72 L77.31 90.78 L77.37 93.83 L77.53 96.89 L77.74 99.94 L77.8 103 L77.55 106.06 L77.16 109.11 L76.99 112.17 L77.29 115.22 L77.8 118.28 L78.09 121.33 L77.88 124.73 L77.43 128.12 L77.1 130.5" fill="none" stroke="#7f7f7f" stroke-width="2.34"/>
<path d="M79.54 75.5 L79.25 77.88 L78.86 81.27 L78.57 84.67 L78.47 87.72 L78.48 90.78 L78.54 93.83 L78.7 96.89 L78.9 99.94 L78.97 103 L78.72 106.06 L78.33 109.11 L78.16 112.17 L78.46 115.22 L78.97 118.28 L79.26 121.33 L79.04 124.73 L78.6 128.12 L78.27 130.5" fill="none" stroke="#d7d7d7" stroke-width="0.95"/>
<path d="M78.06 75.5 L78.19 77.88 L78.4 81.27 L78.86 84.67 L79.8 87.72 L80.98 90.78 L81.88 93.83 L82.12 96.89 L82.09 99.94 L82.4 103 L83.44 106.06 L84.82 109.11 L86.02 112.17 L86.81 115.22 L87.42 118.28 L87.99 121.33 L88.61 124.73 L89.2 128.12 L89.61 130.5" fill="none" stroke="#5b5b5b" stroke-width="1.3"/>
<path d="M78.71 75.5 L78.84 77.88 L79.05 81.27 L79.51 84.67 L80.45 87.72 L81.62 90.78 L82.53 93.83 L82.77 96.89 L82.73 99.94 L83.04 103 L84.09 106.06 L85.47 109.11 L86.67 112.17 L87.46 115.22 L88.07 118.28 L88.63 121.33 L89.26 124.73 L89.85 128.12 L90.26 130.5" fill="none" stroke="#e3e3e3" stroke-width="0.87"/>
<path d="M76.77 75.5 L76.97 77.88 L77.31 81.27 L77.93 84.67 L79.09 87.72 L80.55 90.78 L81.7 93.83 L82.24 96.89 L82.49 99.94 L82.76 103 L83.08 106.06 L83.43 109.11 L84.1 112.17 L85.37 115.22 L86.95 118.28 L88.34 121.33 L89.36 124.73 L90.17 128.12 L90.73 130.5" fill="none" stroke="#585858" stroke-width="3.17"/>
<path d="M75.18 75.5 L75.39 77.88 L75.72 81.27 L76.35 84.67 L77.51 87.72 L78.96 90.78 L80.12 93.83 L80.66 96.89 L80.9 99.94 L81.18 103 L81.5 106.06 L81.85 109.11 L82.52 112.17 L83.79 115.22 L85.37 118.28 L86.75 121.33 L87.77 124.73 L88.59 128.12 L89.14 130.5" fill="none" stroke="#c6c6c6" stroke-width="0.63"/>
<path d="M94.79 75.5 L94.55 77.88 L94.22 81.27 L94.02 84.67 L94.11 87.72 L94.33 90.78 L94.37 93.83 L93.95 96.89 L93.36 99.94 L93.11 103 L93.57 106.06 L94.39 109.11 L94.97 112.17 L95.05 115.22 L94.9 118.28 L94.82 121.33 L94.95 124.73 L95.14 128.12 L95.28 130.5" fill="none" stroke="#5f5f5f" stroke-width="2.59"/>
<path d="M93.5 75.5 L93.26 77.88 L92.93 81.27 L92.73 84.67 L92.82 87.72 L93.04 90.78 L93.08 93.83 L92.66 96.89 L92.06 99.94 L91.82 103 L92.28 106.06 L93.09 109.11 L93.68 112.17 L93.76 115.22 L93.61 118.28 L93.53 121.33 L93.65 124.73 L93.85 128.12 L93.99 130.5" fill="none" stroke="#acacac" stroke-width="0.84"/>
<path d="M69.03 75.5 L68.37 77.88 L67.44 81.27 L66.59 84.67 L66.05 87.72 L65.6 90.78 L64.95 93.83 L63.84 96.89 L62.54 99.94 L61.56 103 L61.23 106.06 L61.22 109.11 L61.05 112.17 L60.51 115.22 L59.81 118.28 L59.14 121.33 L58.49 124.73 L57.86 128.12 L57.43 130.5" fill="none" stroke="#515151" stroke-width="2.32"/>
<path d="M70.19 75.5 L69.53 77.88 L68.6 81.27 L67.75 84.67 L67.21 87.72 L66.76 90.78 L66.11 93.83 L65 96.89 L63.7 99.94 L62.72 103 L62.39 106.06 L62.38 109.11 L62.21 112.17 L61.67 115.22 L60.97 118.28 L60.3 121.33 L59.65 124.73 L59.02 128.12 L58.59 130.5" fill="none" stroke="#adadad" stroke-width="0.9"/>
<path d="M129.67 75.5 L129.6 77.88 L129.43 81.27 L128.82 84.67 L127.41 87.72 L125.56 90.78 L123.94 93.83 L122.82 96.89 L121.94 99.94 L121.13 103 L120.34 106.06 L119.62 109.11 L119.04 112.17 L118.79 115.22 L118.68 118.28 L118.18 121.33 L116.82 124.73 L115.08 128.12 L113.81 130.5" fill="none" stroke="#737373" stroke-width="1.46"/>
<path d="M128.94 75.5 L128.87 77.88 L128.7 81.27 L128.09 84.67 L126.68 87.72 L124.83 90.78 L123.21 93.83 L122.09 96.89 L121.21 99.94 L120.4 103 L119.61 106.06 L118.89 109.11 L118.31 112.17 L118.06 115.22 L117.95 118.28 L117.45 121.33 L116.09 124.73 L114.34 128.12 L113.08 130.5" fill="none" stroke="#dddddd" stroke-width="0.8"/>
<path d="M116.63 75.5 L117.68 77.88 L119.14 81.27 L120.25 84.67 L120.52 87.72 L120.44 90.78 L120.71 93.83 L121.74 96.89 L123.12 99.94 L124.31 103 L125.08 106.06 L125.67 109.11 L126.3 112.17 L127.15 115.22 L128.03 118.28 L128.62 121.33 L128.67 124.73 L128.41 128.12 L128.2 130.5" fill="none" stroke="#696969" stroke-width="1.71"/>
<path d="M117.48 75.5 L118.54 77.88 L120 81.27 L121.1 84.67 L121.37 87.72 L121.29 90.78 L121.56 93.83 L122.59 96.89 L123.97 99.94 L125.17 103 L125.94 106.06 L126.53 109.11 L127.15 112.17 L128 115.22 L128.89 118.28 L129.47 121.33 L129.52 124.73 L129.26 128.12 L129.05 130.5" fill="none" stroke="#c5c5c5" stroke-width="0.89"/>
<path d="M71 92.5 L80 98.5 L85 127.5 L71 127.5 Z" fill="#111" opacity="0.55"/>
<path d="M72 90.5 Q87 84.5 105 83" fill="none" stroke="#d8d8d8" stroke-width="1.2"/>
<text x="113.5" y="123" font-family="'Liberation Sans', Arial, sans-serif" font-size="5" font-weight="bold" fill="#fff">50 μm</text>
<rect x="114" y="124.7" width="13" height="0.9" fill="#fff"/>
</g>
<clipPath id="semclip2"><rect x="71" y="148" width="60" height="49.3"/></clipPath>
<g clip-path="url(#semclip2)">
<rect x="71" y="148" width="60" height="49.3" fill="#2e2e2e"/>
<path d="M84.79 145 L85.27 147.39 L85.9 150.8 L86.28 154.22 L86.1 157.29 L85.66 160.36 L85.45 163.43 L85.7 166.51 L86.17 169.58 L86.6 172.65 L86.87 175.72 L87.11 178.79 L87.39 181.87 L87.73 184.94 L88.11 188.01 L88.63 191.08 L89.45 194.5 L90.4 197.91 L91.08 200.3" fill="none" stroke="#424242" stroke-width="1.36"/>
<path d="M84.12 145 L84.59 147.39 L85.22 150.8 L85.6 154.22 L85.42 157.29 L84.99 160.36 L84.77 163.43 L85.02 166.51 L85.49 169.58 L85.92 172.65 L86.19 175.72 L86.43 178.79 L86.71 181.87 L87.05 184.94 L87.43 188.01 L87.95 191.08 L88.77 194.5 L89.72 197.91 L90.4 200.3" fill="none" stroke="#bbbbbb" stroke-width="0.65"/>
<path d="M96.04 145 L96.01 147.39 L95.99 150.8 L96.25 154.22 L96.98 157.29 L97.97 160.36 L98.85 163.43 L99.34 166.51 L99.71 169.58 L100.35 172.65 L101.56 175.72 L103.02 178.79 L104.25 181.87 L104.97 184.94 L105.45 188.01 L105.94 191.08 L106.62 194.5 L107.31 197.91 L107.8 200.3" fill="none" stroke="#6e6e6e" stroke-width="2.19"/>
<path d="M97.14 145 L97.1 147.39 L97.09 150.8 L97.34 154.22 L98.07 157.29 L99.07 160.36 L99.94 163.43 L100.44 166.51 L100.81 169.58 L101.45 172.65 L102.65 175.72 L104.12 178.79 L105.34 181.87 L106.07 184.94 L106.54 188.01 L107.04 191.08 L107.72 194.5 L108.41 197.91 L108.9 200.3" fill="none" stroke="#c8c8c8" stroke-width="0.57"/>
<path d="M126.15 145 L126.53 147.39 L127.03 150.8 L127.21 154.22 L126.75 157.29 L125.97 160.36 L125.44 163.43 L125.49 166.51 L125.79 169.58 L125.85 172.65 L125.39 175.72 L124.71 178.79 L124.18 181.87 L124.06 184.94 L124.1 188.01 L124 191.08 L123.54 194.5 L122.94 197.91 L122.5 200.3" fill="none" stroke="#636363" stroke-width="1.46"/>
<path d="M126.88 145 L127.26 147.39 L127.76 150.8 L127.94 154.22 L127.48 157.29 L126.7 160.36 L126.17 163.43 L126.22 166.51 L126.52 169.58 L126.58 172.65 L126.12 175.72 L125.44 178.79 L124.91 181.87 L124.79 184.94 L124.83 188.01 L124.73 191.08 L124.27 194.5 L123.66 197.91 L123.23 200.3" fill="none" stroke="#b8b8b8" stroke-width="0.72"/>
<path d="M107.52 145 L108.47 147.39 L109.82 150.8 L111.02 154.22 L111.84 157.29 L112.51 160.36 L113.17 163.43 L113.84 166.51 L114.49 169.58 L115.19 172.65 L115.92 175.72 L116.7 178.79 L117.56 181.87 L118.58 184.94 L119.69 188.01 L120.75 191.08 L121.8 194.5 L122.79 197.91 L123.49 200.3" fill="none" stroke="#4a4a4a" stroke-width="2.53"/>
<path d="M108.78 145 L109.74 147.39 L111.09 150.8 L112.29 154.22 L113.11 157.29 L113.78 160.36 L114.44 163.43 L115.11 166.51 L115.76 169.58 L116.45 172.65 L117.19 175.72 L117.96 178.79 L118.83 181.87 L119.85 184.94 L120.96 188.01 L122.02 191.08 L123.06 194.5 L124.06 197.91 L124.75 200.3" fill="none" stroke="#c4c4c4" stroke-width="0.57"/>
<path d="M100.11 145 L99.68 147.39 L99.08 150.8 L98.54 154.22 L98.21 157.29 L97.96 160.36 L97.55 163.43 L96.8 166.51 L95.9 169.58 L95.27 172.65 L95.17 175.72 L95.34 178.79 L95.43 181.87 L95.37 184.94 L95.22 188.01 L94.81 191.08 L93.86 194.5 L92.65 197.91 L91.77 200.3" fill="none" stroke="#686868" stroke-width="2.13"/>
<path d="M99.05 145 L98.62 147.39 L98.01 150.8 L97.47 154.22 L97.15 157.29 L96.89 160.36 L96.49 163.43 L95.73 166.51 L94.83 169.58 L94.2 172.65 L94.1 175.72 L94.27 178.79 L94.36 181.87 L94.3 184.94 L94.16 188.01 L93.74 191.08 L92.8 194.5 L91.58 197.91 L90.7 200.3" fill="none" stroke="#9a9a9a" stroke-width="0.57"/>
<path d="M121.6 145 L121.66 147.39 L121.78 150.8 L122.12 154.22 L122.81 157.29 L123.73 160.36 L124.7 163.43 L125.75 166.51 L126.87 169.58 L127.85 172.65 L128.59 175.72 L129.19 178.79 L129.77 181.87 L130.39 184.94 L130.98 188.01 L131.4 191.08 L131.58 194.5 L131.6 197.91 L131.59 200.3" fill="none" stroke="#707070" stroke-width="2.59"/>
<path d="M120.3 145 L120.36 147.39 L120.48 150.8 L120.83 154.22 L121.52 157.29 L122.43 160.36 L123.41 163.43 L124.46 166.51 L125.58 169.58 L126.55 172.65 L127.29 175.72 L127.9 178.79 L128.47 181.87 L129.09 184.94 L129.68 188.01 L130.11 191.08 L130.29 194.5 L130.3 197.91 L130.3 200.3" fill="none" stroke="#c5c5c5" stroke-width="0.99"/>
<path d="M106.83 145 L107.49 147.39 L108.41 150.8 L109.2 154.22 L109.66 157.29 L109.99 160.36 L110.33 163.43 L110.76 166.51 L111.21 169.58 L111.59 172.65 L111.77 175.72 L111.88 178.79 L112.17 181.87 L112.88 184.94 L113.77 188.01 L114.43 191.08 L114.64 194.5 L114.62 197.91 L114.58 200.3" fill="none" stroke="#4c4c4c" stroke-width="1.62"/>
<path d="M106.02 145 L106.68 147.39 L107.6 150.8 L108.38 154.22 L108.85 157.29 L109.17 160.36 L109.51 163.43 L109.95 166.51 L110.4 169.58 L110.78 172.65 L110.96 175.72 L111.06 178.79 L111.36 181.87 L112.07 184.94 L112.96 188.01 L113.62 191.08 L113.83 194.5 L113.81 197.91 L113.77 200.3" fill="none" stroke="#c5c5c5" stroke-width="0.61"/>
<path d="M71.6 145 L71.85 147.39 L72.18 150.8 L72.36 154.22 L72.16 157.29 L71.81 160.36 L71.74 163.43 L72.24 166.51 L73.03 169.58 L73.66 172.65 L73.95 175.72 L74.09 178.79 L74.18 181.87 L74.22 184.94 L74.22 188.01 L74.27 191.08 L74.44 194.5 L74.66 197.91 L74.81 200.3" fill="none" stroke="#4d4d4d" stroke-width="1.47"/>
<path d="M72.33 145 L72.58 147.39 L72.91 150.8 L73.09 154.22 L72.89 157.29 L72.54 160.36 L72.47 163.43 L72.98 166.51 L73.76 169.58 L74.39 172.65 L74.68 175.72 L74.82 178.79 L74.91 181.87 L74.96 184.94 L74.96 188.01 L75.01 191.08 L75.17 194.5 L75.39 197.91 L75.55 200.3" fill="none" stroke="#c6c6c6" stroke-width="0.63"/>
<path d="M108.29 145 L107.55 147.39 L106.52 150.8 L105.66 154.22 L105.34 157.29 L105.19 160.36 L104.64 163.43 L103.23 166.51 L101.43 169.58 L99.98 172.65 L99.29 175.72 L98.95 178.79 L98.56 181.87 L97.94 184.94 L97.26 188.01 L96.68 191.08 L96.24 194.5 L95.9 197.91 L95.67 200.3" fill="none" stroke="#5b5b5b" stroke-width="3.01"/>
<path d="M106.78 145 L106.04 147.39 L105.01 150.8 L104.16 154.22 L103.83 157.29 L103.68 160.36 L103.13 163.43 L101.73 166.51 L99.92 169.58 L98.47 172.65 L97.78 175.72 L97.44 178.79 L97.06 181.87 L96.43 184.94 L95.75 188.01 L95.17 191.08 L94.73 194.5 L94.39 197.91 L94.16 200.3" fill="none" stroke="#b6b6b6" stroke-width="0.6"/>
<path d="M122.14 145 L121.5 147.39 L120.61 150.8 L119.9 154.22 L119.52 157.29 L119.3 160.36 L119.18 163.43 L119.14 166.51 L119.19 169.58 L119.28 172.65 L119.5 175.72 L119.76 178.79 L119.71 181.87 L119.04 184.94 L118.05 188.01 L117.32 191.08 L117.11 194.5 L117.16 197.91 L117.22 200.3" fill="none" stroke="#494949" stroke-width="1.98"/>
<path d="M121.15 145 L120.51 147.39 L119.62 150.8 L118.91 154.22 L118.52 157.29 L118.31 160.36 L118.19 163.43 L118.15 166.51 L118.2 169.58 L118.29 172.65 L118.51 175.72 L118.77 178.79 L118.72 181.87 L118.05 184.94 L117.06 188.01 L116.33 191.08 L116.12 194.5 L116.17 197.91 L116.23 200.3" fill="none" stroke="#b1b1b1" stroke-width="0.64"/>
<path d="M79.84 145 L79.95 147.39 L80.09 150.8 L80.02 154.22 L79.49 157.29 L78.75 160.36 L78.32 163.43 L78.56 166.51 L79.1 169.58 L79.38 172.65 L79.17 175.72 L78.71 178.79 L78.11 181.87 L77.23 184.94 L76.21 188.01 L75.62 191.08 L75.83 194.5 L76.46 197.91 L76.95 200.3" fill="none" stroke="#464646" stroke-width="2.19"/>
<path d="M80.93 145 L81.05 147.39 L81.18 150.8 L81.11 154.22 L80.59 157.29 L79.85 160.36 L79.42 163.43 L79.65 166.51 L80.19 169.58 L80.47 172.65 L80.27 175.72 L79.8 178.79 L79.2 181.87 L78.32 184.94 L77.3 188.01 L76.71 191.08 L76.92 194.5 L77.56 197.91 L78.04 200.3" fill="none" stroke="#a1a1a1" stroke-width="0.53"/>
<path d="M101.11 145 L101.65 147.39 L102.43 150.8 L103.34 154.22 L104.44 157.29 L105.66 160.36 L106.72 163.43 L107.43 166.51 L107.97 169.58 L108.62 172.65 L109.51 175.72 L110.5 178.79 L111.55 181.87 L112.69 184.94 L113.87 188.01 L114.87 191.08 L115.6 194.5 L116.13 197.91 L116.49 200.3" fill="none" stroke="#505050" stroke-width="1.48"/>
<path d="M101.85 145 L102.39 147.39 L103.17 150.8 L104.08 154.22 L105.18 157.29 L106.4 160.36 L107.46 163.43 L108.17 166.51 L108.71 169.58 L109.37 172.65 L110.25 175.72 L111.25 178.79 L112.29 181.87 L113.43 184.94 L114.61 188.01 L115.61 191.08 L116.34 194.5 L116.88 197.91 L117.23 200.3" fill="none" stroke="#ababab" stroke-width="0.72"/>
<path d="M124.44 145 L125.59 147.39 L127.2 150.8 L128.52 154.22 L129.12 157.29 L129.44 160.36 L130.1 163.43 L131.52 166.51 L133.29 169.58 L134.69 172.65 L135.28 175.72 L135.5 178.79 L136.06 181.87 L137.37 184.94 L139.01 188.01 L140.36 191.08 L141.19 194.5 L141.74 197.91 L142.1 200.3" fill="none" stroke="#424242" stroke-width="3.19"/>
<path d="M122.85 145 L124 147.39 L125.6 150.8 L126.93 154.22 L127.53 157.29 L127.85 160.36 L128.5 163.43 L129.93 166.51 L131.7 169.58 L133.1 172.65 L133.69 175.72 L133.91 178.79 L134.46 181.87 L135.78 184.94 L137.41 188.01 L138.77 191.08 L139.6 194.5 L140.15 197.91 L140.5 200.3" fill="none" stroke="#c6c6c6" stroke-width="0.93"/>
<path d="M76.86 145 L76.76 147.39 L76.64 150.8 L76.67 154.22 L77.07 157.29 L77.61 160.36 L77.83 163.43 L77.35 166.51 L76.54 169.58 L76.07 172.65 L76.33 175.72 L76.94 178.79 L77.37 181.87 L77.36 184.94 L77.18 188.01 L77.1 191.08 L77.27 194.5 L77.54 197.91 L77.74 200.3" fill="none" stroke="#5b5b5b" stroke-width="2.93"/>
<path d="M78.33 145 L78.23 147.39 L78.11 150.8 L78.14 154.22 L78.53 157.29 L79.08 160.36 L79.3 163.43 L78.81 166.51 L78 169.58 L77.53 172.65 L77.8 175.72 L78.4 178.79 L78.83 181.87 L78.83 184.94 L78.65 188.01 L78.57 191.08 L78.74 194.5 L79.01 197.91 L79.21 200.3" fill="none" stroke="#989898" stroke-width="0.79"/>
<path d="M109.7 145 L109.54 147.39 L109.34 150.8 L109.39 154.22 L109.83 157.29 L110.52 160.36 L111.33 163.43 L112.26 166.51 L113.31 169.58 L114.32 172.65 L115.29 175.72 L116.22 178.79 L116.98 181.87 L117.45 184.94 L117.76 188.01 L118.08 191.08 L118.52 194.5 L118.98 197.91 L119.3 200.3" fill="none" stroke="#5c5c5c" stroke-width="1.86"/>
<path d="M108.78 145 L108.61 147.39 L108.41 150.8 L108.46 154.22 L108.9 157.29 L109.6 160.36 L110.4 163.43 L111.33 166.51 L112.38 169.58 L113.39 172.65 L114.36 175.72 L115.29 178.79 L116.05 181.87 L116.53 184.94 L116.83 188.01 L117.15 191.08 L117.59 194.5 L118.05 197.91 L118.37 200.3" fill="none" stroke="#a3a3a3" stroke-width="0.53"/>
<path d="M67.56 145 L68.37 147.39 L69.52 150.8 L70.52 154.22 L71.17 157.29 L71.69 160.36 L72.19 163.43 L72.77 166.51 L73.35 169.58 L73.82 172.65 L74.15 175.72 L74.38 178.79 L74.54 181.87 L74.58 184.94 L74.56 188.01 L74.72 191.08 L75.27 194.5 L76 197.91 L76.53 200.3" fill="none" stroke="#6f6f6f" stroke-width="2.68"/>
<path d="M68.9 145 L69.72 147.39 L70.86 150.8 L71.86 154.22 L72.52 157.29 L73.03 160.36 L73.54 163.43 L74.12 166.51 L74.69 169.58 L75.16 172.65 L75.49 175.72 L75.72 178.79 L75.89 181.87 L75.93 184.94 L75.9 188.01 L76.06 191.08 L76.61 194.5 L77.34 197.91 L77.87 200.3" fill="none" stroke="#c6c6c6" stroke-width="0.88"/>
<path d="M76.17 145 L75.49 147.39 L74.52 150.8 L73.65 154.22 L72.96 157.29 L72.38 160.36 L72.02 163.43 L72.08 166.51 L72.38 169.58 L72.4 172.65 L71.93 175.72 L71.19 178.79 L70.41 181.87 L69.61 184.94 L68.78 188.01 L68.1 191.08 L67.64 194.5 L67.32 197.91 L67.11 200.3" fill="none" stroke="#4a4a4a" stroke-width="1.81"/>
<path d="M75.27 145 L74.58 147.39 L73.61 150.8 L72.74 154.22 L72.06 157.29 L71.47 160.36 L71.11 163.43 L71.18 166.51 L71.47 169.58 L71.5 172.65 L71.02 175.72 L70.28 178.79 L69.5 181.87 L68.71 184.94 L67.88 188.01 L67.2 191.08 L66.73 194.5 L66.41 197.91 L66.21 200.3" fill="none" stroke="#c7c7c7" stroke-width="1"/>
<path d="M130.71 145 L131.1 147.39 L131.71 150.8 L132.6 154.22 L133.95 157.29 L135.59 160.36 L137 163.43 L137.99 166.51 L138.75 169.58 L139.4 172.65 L139.93 175.72 L140.35 178.79 L140.81 181.87 L141.31 184.94 L141.85 188.01 L142.6 191.08 L143.82 194.5 L145.26 197.91 L146.29 200.3" fill="none" stroke="#5c5c5c" stroke-width="2.22"/>
<path d="M131.82 145 L132.21 147.39 L132.82 150.8 L133.71 154.22 L135.06 157.29 L136.7 160.36 L138.11 163.43 L139.1 166.51 L139.86 169.58 L140.51 172.65 L141.04 175.72 L141.46 178.79 L141.92 181.87 L142.42 184.94 L142.96 188.01 L143.71 191.08 L144.93 194.5 L146.37 197.91 L147.4 200.3" fill="none" stroke="#b9b9b9" stroke-width="0.74"/>
<path d="M78.53 145 L79.36 147.39 L80.47 150.8 L81.14 154.22 L80.91 157.29 L80.24 160.36 L79.74 163.43 L79.63 166.51 L79.7 169.58 L79.94 172.65 L80.49 175.72 L81.21 178.79 L81.7 181.87 L81.64 184.94 L81.34 188.01 L81.31 191.08 L81.89 194.5 L82.72 197.91 L83.34 200.3" fill="none" stroke="#595959" stroke-width="2.46"/>
<path d="M77.31 145 L78.13 147.39 L79.24 150.8 L79.91 154.22 L79.68 157.29 L79.01 160.36 L78.52 163.43 L78.4 166.51 L78.47 169.58 L78.71 172.65 L79.26 175.72 L79.98 178.79 L80.47 181.87 L80.41 184.94 L80.12 188.01 L80.09 191.08 L80.66 194.5 L81.49 197.91 L82.11 200.3" fill="none" stroke="#999999" stroke-width="0.85"/>
<path d="M127.29 145 L127.96 147.39 L128.9 150.8 L129.76 154.22 L130.43 157.29 L131.02 160.36 L131.5 163.43 L131.87 166.51 L132.12 169.58 L132.29 172.65 L132.27 175.72 L132.17 178.79 L132.28 181.87 L132.82 184.94 L133.57 188.01 L134.24 191.08 L134.72 194.5 L135.11 197.91 L135.38 200.3" fill="none" stroke="#686868" stroke-width="2.3"/>
<path d="M128.44 145 L129.11 147.39 L130.05 150.8 L130.91 154.22 L131.58 157.29 L132.17 160.36 L132.65 163.43 L133.02 166.51 L133.28 169.58 L133.44 172.65 L133.43 175.72 L133.32 178.79 L133.43 181.87 L133.97 184.94 L134.72 188.01 L135.39 191.08 L135.87 194.5 L136.26 197.91 L136.53 200.3" fill="none" stroke="#9a9a9a" stroke-width="0.74"/>
<path d="M108.89 145 L108.05 147.39 L106.88 150.8 L106.02 154.22 L105.77 157.29 L105.82 160.36 L105.83 163.43 L105.75 166.51 L105.63 169.58 L105.28 172.65 L104.54 175.72 L103.57 178.79 L102.69 181.87 L102.05 184.94 L101.5 188.01 L100.94 191.08 L100.25 194.5 L99.54 197.91 L99.05 200.3" fill="none" stroke="#666666" stroke-width="3.38"/>
<path d="M107.2 145 L106.36 147.39 L105.19 150.8 L104.33 154.22 L104.08 157.29 L104.13 160.36 L104.14 163.43 L104.06 166.51 L103.94 169.58 L103.59 172.65 L102.85 175.72 L101.88 178.79 L101 181.87 L100.36 184.94 L99.81 188.01 L99.25 191.08 L98.56 194.5 L97.85 197.91 L97.35 200.3" fill="none" stroke="#c6c6c6" stroke-width="0.76"/>
<path d="M67.12 145 L67.2 147.39 L67.31 150.8 L67.28 154.22 L67.04 157.29 L66.65 160.36 L66.24 163.43 L65.77 166.51 L65.27 169.58 L64.9 172.65 L64.8 175.72 L64.84 178.79 L64.77 181.87 L64.47 184.94 L64.06 188.01 L63.71 191.08 L63.47 194.5 L63.28 197.91 L63.15 200.3" fill="none" stroke="#3f3f3f" stroke-width="1.77"/>
<path d="M66.23 145 L66.32 147.39 L66.43 150.8 L66.4 154.22 L66.15 157.29 L65.77 160.36 L65.36 163.43 L64.89 166.51 L64.39 169.58 L64.02 172.65 L63.92 175.72 L63.95 178.79 L63.89 181.87 L63.58 184.94 L63.18 188.01 L62.83 191.08 L62.58 194.5 L62.39 197.91 L62.26 200.3" fill="none" stroke="#949494" stroke-width="0.86"/>
<path d="M108.76 145 L108.11 147.39 L107.17 150.8 L106.22 154.22 L105.28 157.29 L104.33 160.36 L103.49 163.43 L102.86 166.51 L102.34 169.58 L101.77 172.65 L101.15 175.72 L100.47 178.79 L99.6 181.87 L98.35 184.94 L96.91 188.01 L95.77 191.08 L95.11 194.5 L94.75 197.91 L94.53 200.3" fill="none" stroke="#595959" stroke-width="2.97"/>
<path d="M110.24 145 L109.59 147.39 L108.66 150.8 L107.7 154.22 L106.77 157.29 L105.82 160.36 L104.97 163.43 L104.34 166.51 L103.83 169.58 L103.26 172.65 L102.63 175.72 L101.95 178.79 L101.09 181.87 L99.84 184.94 L98.4 188.01 L97.25 191.08 L96.6 194.5 L96.24 197.91 L96.01 200.3" fill="none" stroke="#909090" stroke-width="0.97"/>
<path d="M95.96 145 L96.86 147.39 L98.14 150.8 L99.39 154.22 L100.52 157.29 L101.62 160.36 L102.57 163.43 L103.29 166.51 L103.87 169.58 L104.43 172.65 L104.99 175.72 L105.53 178.79 L106.07 181.87 L106.55 184.94 L107.03 188.01 L107.73 191.08 L108.93 194.5 L110.35 197.91 L111.36 200.3" fill="none" stroke="#545454" stroke-width="1.86"/>
<path d="M95.03 145 L95.93 147.39 L97.21 150.8 L98.46 154.22 L99.59 157.29 L100.69 160.36 L101.64 163.43 L102.36 166.51 L102.94 169.58 L103.5 172.65 L104.06 175.72 L104.6 178.79 L105.14 181.87 L105.62 184.94 L106.1 188.01 L106.8 191.08 L108 194.5 L109.42 197.91 L110.43 200.3" fill="none" stroke="#b9b9b9" stroke-width="0.72"/>
<path d="M95.5 145 L95.02 147.39 L94.37 150.8 L93.98 154.22 L94.08 157.29 L94.43 160.36 L94.71 163.43 L94.78 166.51 L94.79 169.58 L94.87 172.65 L95.13 175.72 L95.46 178.79 L95.73 181.87 L95.79 184.94 L95.8 188.01 L96.01 191.08 L96.69 194.5 L97.59 197.91 L98.24 200.3" fill="none" stroke="#474747" stroke-width="2.15"/>
<path d="M96.57 145 L96.1 147.39 L95.45 150.8 L95.05 154.22 L95.15 157.29 L95.5 160.36 L95.79 163.43 L95.86 166.51 L95.86 169.58 L95.95 172.65 L96.2 175.72 L96.53 178.79 L96.8 181.87 L96.87 184.94 L96.87 188.01 L97.09 191.08 L97.77 194.5 L98.67 197.91 L99.31 200.3" fill="none" stroke="#8c8c8c" stroke-width="0.6"/>
<path d="M132.91 145 L132.34 147.39 L131.52 150.8 L130.68 154.22 L129.84 157.29 L128.98 160.36 L128.24 163.43 L127.75 166.51 L127.38 169.58 L126.86 172.65 L126.03 175.72 L125.05 178.79 L124.1 181.87 L123.28 184.94 L122.49 188.01 L121.68 191.08 L120.71 194.5 L119.71 197.91 L119.01 200.3" fill="none" stroke="#666666" stroke-width="1.61"/>
<path d="M132.11 145 L131.54 147.39 L130.72 150.8 L129.88 154.22 L129.04 157.29 L128.18 160.36 L127.43 163.43 L126.95 166.51 L126.58 169.58 L126.06 172.65 L125.23 175.72 L124.24 178.79 L123.3 181.87 L122.47 184.94 L121.69 188.01 L120.88 191.08 L119.9 194.5 L118.9 197.91 L118.2 200.3" fill="none" stroke="#9a9a9a" stroke-width="0.72"/>
<path d="M135.34 145 L134.61 147.39 L133.57 150.8 L132.55 154.22 L131.57 157.29 L130.59 160.36 L129.85 163.43 L129.52 166.51 L129.42 169.58 L129.21 172.65 L128.76 175.72 L128.2 178.79 L127.5 181.87 L126.55 184.94 L125.47 188.01 L124.59 191.08 L124.05 194.5 L123.7 197.91 L123.48 200.3" fill="none" stroke="#3d3d3d" stroke-width="2.34"/>
<path d="M134.17 145 L133.44 147.39 L132.4 150.8 L131.38 154.22 L130.39 157.29 L129.42 160.36 L128.68 163.43 L128.35 166.51 L128.25 169.58 L128.03 172.65 L127.59 175.72 L127.03 178.79 L126.33 181.87 L125.38 184.94 L124.3 188.01 L123.42 191.08 L122.88 194.5 L122.53 197.91 L122.31 200.3" fill="none" stroke="#919191" stroke-width="0.85"/>
<path d="M95.43 145 L95.31 147.39 L95.16 150.8 L95.1 154.22 L95.21 157.29 L95.4 160.36 L95.5 163.43 L95.36 166.51 L95.12 169.58 L94.99 172.65 L95.2 175.72 L95.53 178.79 L95.55 181.87 L94.91 184.94 L93.97 188.01 L93.36 191.08 L93.43 194.5 L93.83 197.91 L94.14 200.3" fill="none" stroke="#404040" stroke-width="3.05"/>
<path d="M93.9 145 L93.79 147.39 L93.64 150.8 L93.57 154.22 L93.69 157.29 L93.88 160.36 L93.97 163.43 L93.83 166.51 L93.59 169.58 L93.47 172.65 L93.68 175.72 L94 178.79 L94.02 181.87 L93.39 184.94 L92.45 188.01 L91.84 191.08 L91.91 194.5 L92.31 197.91 L92.62 200.3" fill="none" stroke="#969696" stroke-width="0.52"/>
<path d="M73.68 145 L74.79 147.39 L76.31 150.8 L77.45 154.22 L77.84 157.29 L77.85 160.36 L77.81 163.43 L77.72 166.51 L77.58 169.58 L77.73 172.65 L78.41 175.72 L79.36 178.79 L80.23 181.87 L80.92 184.94 L81.53 188.01 L81.92 191.08 L82 194.5 L81.88 197.91 L81.77 200.3" fill="none" stroke="#737373" stroke-width="2.47"/>
<path d="M74.92 145 L76.02 147.39 L77.54 150.8 L78.68 154.22 L79.07 157.29 L79.08 160.36 L79.04 163.43 L78.95 166.51 L78.82 169.58 L78.97 172.65 L79.64 175.72 L80.6 178.79 L81.46 181.87 L82.16 184.94 L82.76 188.01 L83.16 191.08 L83.24 194.5 L83.11 197.91 L83.01 200.3" fill="none" stroke="#949494" stroke-width="0.85"/>
<path d="M82.79 145 L82.16 147.39 L81.31 150.8 L80.85 154.22 L81.28 157.29 L82.1 160.36 L82.39 163.43 L81.6 166.51 L80.29 169.58 L79.23 172.65 L78.69 175.72 L78.4 178.79 L78.33 181.87 L78.6 184.94 L79.08 188.01 L79.35 191.08 L79.17 194.5 L78.77 197.91 L78.48 200.3" fill="none" stroke="#565656" stroke-width="1.23"/>
<path d="M82.17 145 L81.54 147.39 L80.69 150.8 L80.23 154.22 L80.66 157.29 L81.48 160.36 L81.78 163.43 L80.98 166.51 L79.67 169.58 L78.61 172.65 L78.07 175.72 L77.79 178.79 L77.71 181.87 L77.98 184.94 L78.46 188.01 L78.73 191.08 L78.55 194.5 L78.16 197.91 L77.86 200.3" fill="none" stroke="#b9b9b9" stroke-width="0.5"/>
<path d="M101.88 145 L102.23 147.39 L102.66 150.8 L102.57 154.22 L101.49 157.29 L99.89 160.36 L98.67 163.43 L98.26 166.51 L98.23 169.58 L98.22 172.65 L98.14 175.72 L98.08 178.79 L97.89 181.87 L97.56 184.94 L97.11 188.01 L96.46 191.08 L95.41 194.5 L94.15 197.91 L93.25 200.3" fill="none" stroke="#696969" stroke-width="1.55"/>
<path d="M101.1 145 L101.45 147.39 L101.88 150.8 L101.8 154.22 L100.71 157.29 L99.11 160.36 L97.9 163.43 L97.49 166.51 L97.46 169.58 L97.44 172.65 L97.37 175.72 L97.3 178.79 L97.12 181.87 L96.79 184.94 L96.33 188.01 L95.69 191.08 L94.63 194.5 L93.38 197.91 L92.48 200.3" fill="none" stroke="#b4b4b4" stroke-width="0.71"/>
<path d="M69.84 145 L70.21 147.39 L70.77 150.8 L71.5 154.22 L72.54 157.29 L73.76 160.36 L74.83 163.43 L75.57 166.51 L76.16 169.58 L76.8 172.65 L77.47 175.72 L78.19 178.79 L79.17 181.87 L80.68 184.94 L82.45 188.01 L83.92 191.08 L84.9 194.5 L85.58 197.91 L86.03 200.3" fill="none" stroke="#535353" stroke-width="2.94"/>
<path d="M71.31 145 L71.68 147.39 L72.23 150.8 L72.97 154.22 L74.01 157.29 L75.23 160.36 L76.3 163.43 L77.04 166.51 L77.63 169.58 L78.26 172.65 L78.94 175.72 L79.66 178.79 L80.64 181.87 L82.15 184.94 L83.92 188.01 L85.39 191.08 L86.37 194.5 L87.05 197.91 L87.5 200.3" fill="none" stroke="#c6c6c6" stroke-width="0.71"/>
<path d="M86.18 145 L86.64 147.39 L87.27 150.8 L87.69 154.22 L87.69 157.29 L87.48 160.36 L87.33 163.43 L87.33 166.51 L87.39 169.58 L87.53 172.65 L87.85 175.72 L88.25 178.79 L88.47 181.87 L88.32 184.94 L88 188.01 L87.82 191.08 L87.94 194.5 L88.2 197.91 L88.39 200.3" fill="none" stroke="#6a6a6a" stroke-width="2.33"/>
<path d="M87.34 145 L87.8 147.39 L88.43 150.8 L88.86 154.22 L88.85 157.29 L88.64 160.36 L88.49 163.43 L88.49 166.51 L88.55 169.58 L88.7 172.65 L89.01 175.72 L89.41 178.79 L89.63 181.87 L89.49 184.94 L89.17 188.01 L88.98 191.08 L89.1 194.5 L89.36 197.91 L89.55 200.3" fill="none" stroke="#bbbbbb" stroke-width="0.57"/>
<path d="M121.43 145 L120.1 147.39 L118.28 150.8 L116.96 154.22 L116.85 157.29 L117.26 160.36 L117.08 163.43 L115.64 166.51 L113.62 169.58 L111.96 172.65 L111.1 175.72 L110.6 178.79 L110.07 181.87 L109.37 184.94 L108.64 188.01 L107.97 191.08 L107.36 194.5 L106.81 197.91 L106.43 200.3" fill="none" stroke="#464646" stroke-width="2.83"/>
<path d="M122.85 145 L121.52 147.39 L119.69 150.8 L118.37 154.22 L118.27 157.29 L118.67 160.36 L118.5 163.43 L117.06 166.51 L115.04 169.58 L113.37 172.65 L112.51 175.72 L112.01 178.79 L111.49 181.87 L110.78 184.94 L110.05 188.01 L109.39 191.08 L108.77 194.5 L108.22 197.91 L107.84 200.3" fill="none" stroke="#a5a5a5" stroke-width="0.92"/>
<path d="M77.19 145 L77.74 147.39 L78.51 150.8 L79.07 154.22 L79.14 157.29 L79 160.36 L79.14 163.43 L79.78 166.51 L80.68 169.58 L81.61 172.65 L82.52 175.72 L83.44 178.79 L84.23 181.87 L84.77 184.94 L85.17 188.01 L85.53 191.08 L85.93 194.5 L86.3 197.91 L86.55 200.3" fill="none" stroke="#555555" stroke-width="1.65"/>
<path d="M76.36 145 L76.92 147.39 L77.68 150.8 L78.24 154.22 L78.31 157.29 L78.18 160.36 L78.31 163.43 L78.95 166.51 L79.86 169.58 L80.78 172.65 L81.69 175.72 L82.62 178.79 L83.4 181.87 L83.94 184.94 L84.34 188.01 L84.71 191.08 L85.11 194.5 L85.48 197.91 L85.73 200.3" fill="none" stroke="#b8b8b8" stroke-width="0.51"/>
<path d="M102.05 145 L102.79 147.39 L103.81 150.8 L104.53 154.22 L104.61 157.29 L104.39 160.36 L104.41 163.43 L105.01 166.51 L105.84 169.58 L106.44 172.65 L106.51 175.72 L106.34 178.79 L106.31 181.87 L106.6 184.94 L107.03 188.01 L107.45 191.08 L107.83 194.5 L108.2 197.91 L108.46 200.3" fill="none" stroke="#626262" stroke-width="2.19"/>
<path d="M100.95 145 L101.7 147.39 L102.71 150.8 L103.44 154.22 L103.51 157.29 L103.29 160.36 L103.31 163.43 L103.91 166.51 L104.75 169.58 L105.35 172.65 L105.42 175.72 L105.25 178.79 L105.22 181.87 L105.51 184.94 L105.94 188.01 L106.35 191.08 L106.74 194.5 L107.11 197.91 L107.37 200.3" fill="none" stroke="#8f8f8f" stroke-width="0.86"/>
<path d="M101.47 145 L100.36 147.39 L98.84 150.8 L97.74 154.22 L97.57 157.29 L97.83 160.36 L97.84 163.43 L97.3 166.51 L96.51 169.58 L95.66 172.65 L94.71 175.72 L93.69 178.79 L92.87 181.87 L92.44 184.94 L92.21 188.01 L91.86 191.08 L91.21 194.5 L90.44 197.91 L89.89 200.3" fill="none" stroke="#3c3c3c" stroke-width="1.64"/>
<path d="M102.29 145 L101.18 147.39 L99.66 150.8 L98.56 154.22 L98.39 157.29 L98.66 160.36 L98.66 163.43 L98.13 166.51 L97.34 169.58 L96.48 172.65 L95.53 175.72 L94.52 178.79 L93.7 181.87 L93.26 184.94 L93.03 188.01 L92.69 191.08 L92.03 194.5 L91.26 197.91 L90.72 200.3" fill="none" stroke="#adadad" stroke-width="0.98"/>
<path d="M77.13 145 L76.91 147.39 L76.65 150.8 L76.78 154.22 L77.66 157.29 L78.93 160.36 L79.94 163.43 L80.33 166.51 L80.47 169.58 L80.81 172.65 L81.6 175.72 L82.6 178.79 L83.55 181.87 L84.43 184.94 L85.26 188.01 L85.92 191.08 L86.34 194.5 L86.57 197.91 L86.72 200.3" fill="none" stroke="#595959" stroke-width="1.2"/>
<path d="M76.53 145 L76.31 147.39 L76.05 150.8 L76.18 154.22 L77.06 157.29 L78.33 160.36 L79.34 163.43 L79.73 166.51 L79.86 169.58 L80.21 172.65 L81 175.72 L82 178.79 L82.95 181.87 L83.83 184.94 L84.66 188.01 L85.32 191.08 L85.73 194.5 L85.97 197.91 L86.12 200.3" fill="none" stroke="#909090" stroke-width="0.73"/>
<path d="M73.3 145 L74.04 147.39 L75.05 150.8 L75.82 154.22 L75.99 157.29 L75.91 160.36 L76.06 163.43 L76.77 166.51 L77.7 169.58 L78.36 172.65 L78.43 175.72 L78.22 178.79 L78.16 181.87 L78.37 184.94 L78.74 188.01 L79.3 191.08 L80.24 194.5 L81.37 197.91 L82.19 200.3" fill="none" stroke="#686868" stroke-width="3.4"/>
<path d="M75 145 L75.74 147.39 L76.75 150.8 L77.51 154.22 L77.69 157.29 L77.61 160.36 L77.76 163.43 L78.47 166.51 L79.4 169.58 L80.06 172.65 L80.13 175.72 L79.92 178.79 L79.86 181.87 L80.07 184.94 L80.44 188.01 L81 191.08 L81.94 194.5 L83.07 197.91 L83.89 200.3" fill="none" stroke="#b7b7b7" stroke-width="0.9"/>
<path d="M89.71 145 L89.76 147.39 L89.83 150.8 L89.89 154.22 L89.93 157.29 L89.95 160.36 L89.92 163.43 L89.84 166.51 L89.71 169.58 L89.52 172.65 L89.16 175.72 L88.73 178.79 L88.5 181.87 L88.67 184.94 L89.04 188.01 L89.22 191.08 L88.99 194.5 L88.58 197.91 L88.27 200.3" fill="none" stroke="#6c6c6c" stroke-width="2.46"/>
<path d="M88.48 145 L88.53 147.39 L88.6 150.8 L88.66 154.22 L88.7 157.29 L88.72 160.36 L88.7 163.43 L88.61 166.51 L88.48 169.58 L88.29 172.65 L87.93 175.72 L87.5 178.79 L87.27 181.87 L87.44 184.94 L87.81 188.01 L87.99 191.08 L87.76 194.5 L87.35 197.91 L87.04 200.3" fill="none" stroke="#acacac" stroke-width="0.86"/>
<path d="M71 148 L85 148 L71 170 Z" fill="#111" opacity="0.5"/>
<path d="M71 164 Q81 154 95 152" fill="none" stroke="#b8b8b8" stroke-width="1.1"/>
<ellipse cx="104" cy="183" rx="1.6" ry="1.2" fill="#f0f0f0"/>
<path d="M104 183 Q107 172 114 168" fill="none" stroke="#c0c0c0" stroke-width="1.2"/>
<text x="113.5" y="192.8" font-family="'Liberation Sans', Arial, sans-serif" font-size="5" font-weight="bold" fill="#fff">50 μm</text>
<rect x="114" y="194.5" width="13" height="0.9" fill="#fff"/>
</g>
<clipPath id="semclip3"><rect x="71" y="217.5" width="60" height="49.3"/></clipPath>
<g clip-path="url(#semclip3)">
<rect x="71" y="217.5" width="60" height="49.3" fill="#2a2a2a"/>
<path d="M30.6 265.4 L33.69 264.11 L38.13 262.26 L42.7 260.35 L47.09 258.58 L51.61 256.75 L55.98 254.84 L60.09 252.82 L64.05 250.71 L67.94 248.5 L71.69 246.16 L75.36 243.72 L79.22 241.18 L83.5 238.53 L87.98 235.79 L92.28 232.98 L96.63 229.76 L100.81 226.48 L103.72 224.18" fill="none" stroke="#555555" stroke-width="1.78"/>
<path d="M31.04 265.84 L34.14 264.55 L38.58 262.7 L43.14 260.8 L47.53 259.02 L52.06 257.2 L56.43 255.28 L60.54 253.27 L64.5 251.16 L68.38 248.94 L72.13 246.61 L75.8 244.17 L79.67 241.63 L83.95 238.98 L88.42 236.23 L92.72 233.42 L97.08 230.21 L101.26 226.93 L104.17 224.63" fill="none" stroke="#d7d7d7" stroke-width="0.9"/>
<path d="M55.66 266.7 L58.35 265.77 L62.19 264.42 L66.07 262.96 L69.59 261.5 L73.14 259.92 L76.78 258.25 L80.51 256.47 L84.33 254.59 L88.27 252.65 L92.48 250.64 L96.82 248.56 L100.87 246.46 L104.32 244.35 L107.48 242.22 L110.85 240.14 L115.13 237.9 L119.62 235.69 L122.79 234.15" fill="none" stroke="#767676" stroke-width="2.09"/>
<path d="M56.18 267.22 L58.87 266.29 L62.71 264.94 L66.59 263.48 L70.11 262.02 L73.66 260.45 L77.3 258.77 L81.03 256.99 L84.85 255.12 L88.79 253.17 L93 251.16 L97.34 249.08 L101.39 246.98 L104.84 244.87 L108 242.75 L111.38 240.66 L115.65 238.42 L120.15 236.21 L123.31 234.68" fill="none" stroke="#b6b6b6" stroke-width="0.94"/>
<path d="M85.49 251.55 L88.41 249.71 L92.61 247.07 L97.05 244.37 L101.55 241.83 L106.27 239.22 L110.69 236.6 L114.53 233.96 L118.06 231.31 L121.6 228.7 L125.2 226.12 L128.82 223.59 L132.6 221.13 L136.67 218.77 L140.89 216.49 L144.99 214.31 L149.23 212.07 L153.33 209.93 L156.2 208.45" fill="none" stroke="#6a6a6a" stroke-width="2.3"/>
<path d="M84.91 250.98 L87.83 249.14 L92.04 246.5 L96.48 243.79 L100.97 241.25 L105.7 238.65 L110.12 236.03 L113.95 233.39 L117.48 230.74 L121.02 228.12 L124.63 225.55 L128.25 223.01 L132.02 220.56 L136.09 218.19 L140.32 215.91 L144.41 213.74 L148.65 211.49 L152.76 209.36 L155.62 207.87" fill="none" stroke="#b9b9b9" stroke-width="0.91"/>
<path d="M28.58 253.48 L31.11 251.33 L34.7 248.25 L38.06 245.22 L40.63 242.53 L42.97 239.87 L45.52 237.3 L48.53 234.82 L51.77 232.42 L54.95 230.12 L58.01 227.94 L61.02 225.87 L63.94 223.9 L66.71 222.05 L69.38 220.3 L72.07 218.62 L75.14 216.87 L78.22 215.2 L80.38 214.03" fill="none" stroke="#848484" stroke-width="2.21"/>
<path d="M29.13 254.03 L31.67 251.88 L35.25 248.81 L38.62 245.77 L41.18 243.08 L43.52 240.43 L46.08 237.85 L49.09 235.37 L52.32 232.97 L55.5 230.68 L58.56 228.5 L61.57 226.42 L64.49 224.46 L67.26 222.6 L69.93 220.85 L72.63 219.17 L75.69 217.42 L78.77 215.75 L80.93 214.58" fill="none" stroke="#b6b6b6" stroke-width="0.63"/>
<path d="M58.6 254.88 L61.66 253.2 L66.01 250.81 L70.33 248.54 L74.12 246.64 L77.87 244.85 L81.72 243.16 L85.75 241.58 L89.88 240.11 L94.07 238.72 L98.38 237.41 L102.75 236.17 L106.91 234.97 L110.6 233.8 L114.08 232.65 L117.83 231.49 L122.58 230.14 L127.6 228.77 L131.14 227.8" fill="none" stroke="#484848" stroke-width="1.96"/>
<path d="M59.09 255.37 L62.15 253.69 L66.51 251.31 L70.83 249.03 L74.61 247.13 L78.36 245.34 L82.21 243.65 L86.24 242.07 L90.37 240.6 L94.56 239.21 L98.87 237.9 L103.24 236.66 L107.4 235.46 L111.09 234.29 L114.57 233.15 L118.32 231.98 L123.07 230.63 L128.09 229.26 L131.64 228.29" fill="none" stroke="#e6e6e6" stroke-width="0.63"/>
<path d="M49.13 246.36 L52.37 245.2 L56.97 243.56 L61.45 241.99 L65.19 240.7 L68.81 239.48 L72.6 238.3 L76.67 237.15 L80.92 236.03 L85.26 234.89 L89.83 233.72 L94.49 232.53 L98.87 231.27 L102.74 229.93 L106.32 228.52 L109.92 227.01 L114.08 225.15 L118.26 223.2 L121.19 221.82" fill="none" stroke="#737373" stroke-width="3.38"/>
<path d="M48.29 245.52 L51.52 244.36 L56.13 242.71 L60.6 241.14 L64.35 239.85 L67.97 238.64 L71.75 237.46 L75.83 236.31 L80.07 235.19 L84.42 234.05 L88.98 232.88 L93.65 231.69 L98.03 230.43 L101.89 229.09 L105.47 227.68 L109.07 226.16 L113.23 224.31 L117.42 222.36 L120.35 220.98" fill="none" stroke="#aeaeae" stroke-width="0.98"/>
<path d="M93.86 243.55 L96.37 242.65 L99.98 241.35 L103.71 240.03 L107.35 238.83 L111.1 237.61 L114.64 236.31 L117.71 234.93 L120.55 233.49 L123.6 231.94 L127.06 230.28 L130.72 228.52 L134.33 226.65 L137.86 224.67 L141.34 222.57 L144.54 220.39 L147.58 217.85 L150.35 215.21 L152.26 213.36" fill="none" stroke="#5a5a5a" stroke-width="2.32"/>
<path d="M93.28 242.97 L95.79 242.07 L99.4 240.77 L103.13 239.46 L106.77 238.25 L110.52 237.03 L114.06 235.73 L117.13 234.35 L119.97 232.91 L123.02 231.36 L126.48 229.7 L130.14 227.94 L133.75 226.07 L137.28 224.09 L140.76 221.99 L143.96 219.81 L147 217.27 L149.77 214.63 L151.68 212.78" fill="none" stroke="#d8d8d8" stroke-width="0.75"/>
<path d="M44.23 258.72 L47.64 257.27 L52.46 255.18 L56.91 252.98 L60.14 250.87 L63 248.65 L66.26 246.33 L70.41 243.89 L74.96 241.34 L79.3 238.7 L83.08 235.97 L86.64 233.16 L90.34 230.3 L94.47 227.39 L98.74 224.43 L102.73 221.49 L106.59 218.24 L110.17 215.01 L112.66 212.75" fill="none" stroke="#535353" stroke-width="1.49"/>
<path d="M43.86 258.35 L47.27 256.9 L52.09 254.81 L56.54 252.61 L59.77 250.5 L62.63 248.28 L65.89 245.96 L70.04 243.52 L74.59 240.97 L78.92 238.33 L82.7 235.6 L86.26 232.79 L89.97 229.93 L94.1 227.02 L98.37 224.06 L102.36 221.11 L106.22 217.87 L109.8 214.64 L112.28 212.38" fill="none" stroke="#bcbcbc" stroke-width="0.61"/>
<path d="M66.32 252.29 L70.28 251.09 L75.9 249.36 L81.32 247.54 L85.85 245.76 L90.17 243.91 L94.5 242 L98.9 240.05 L103.32 238.05 L107.77 236.06 L112.32 234.08 L116.91 232.11 L121.4 230.2 L125.61 228.35 L129.72 226.56 L134.11 224.86 L139.58 223.15 L145.34 221.52 L149.4 220.39" fill="none" stroke="#5c5c5c" stroke-width="1.52"/>
<path d="M65.94 251.91 L69.9 250.71 L75.52 248.97 L80.94 247.16 L85.47 245.38 L89.79 243.52 L94.12 241.62 L98.52 239.67 L102.93 237.67 L107.39 235.68 L111.94 233.7 L116.53 231.73 L121.02 229.82 L125.23 227.97 L129.34 226.18 L133.73 224.48 L139.2 222.76 L144.96 221.14 L149.02 220.01" fill="none" stroke="#d7d7d7" stroke-width="1"/>
<path d="M77.49 270.62 L81.12 268.62 L86.26 265.76 L91.11 262.92 L94.91 260.35 L98.41 257.79 L102.01 255.29 L105.84 252.85 L109.78 250.48 L113.86 248.19 L118.11 246.02 L122.5 243.94 L126.99 241.96 L131.66 240.11 L136.43 238.36 L140.93 236.71 L145.4 235.02 L149.6 233.42 L152.52 232.31" fill="none" stroke="#8b8b8b" stroke-width="3.01"/>
<path d="M76.74 269.86 L80.37 267.86 L85.51 265.01 L90.35 262.16 L94.15 259.6 L97.66 257.04 L101.26 254.54 L105.09 252.1 L109.03 249.72 L113.11 247.44 L117.36 245.26 L121.75 243.18 L126.23 241.21 L130.91 239.35 L135.68 237.61 L140.18 235.96 L144.65 234.26 L148.85 232.67 L151.77 231.56" fill="none" stroke="#e0e0e0" stroke-width="0.92"/>
<path d="M30.74 243.96 L34.42 242.44 L39.62 240.29 L44.47 238.23 L48.09 236.5 L51.36 234.87 L55.05 233.36 L59.64 231.95 L64.66 230.66 L69.4 229.46 L73.6 228.37 L77.51 227.37 L81.26 226.43 L84.69 225.55 L87.95 224.73 L91.59 223.92 L96.47 223.01 L101.73 222.1 L105.45 221.47" fill="none" stroke="#818181" stroke-width="2.93"/>
<path d="M31.48 244.69 L35.15 243.17 L40.35 241.02 L45.2 238.96 L48.82 237.23 L52.09 235.61 L55.78 234.09 L60.38 232.68 L65.39 231.39 L70.13 230.19 L74.33 229.1 L78.25 228.1 L81.99 227.16 L85.42 226.28 L88.68 225.46 L92.33 224.65 L97.2 223.74 L102.46 222.83 L106.18 222.2" fill="none" stroke="#acacac" stroke-width="0.65"/>
<path d="M112.09 247.96 L116.05 246.5 L121.65 244.44 L126.78 242.48 L130.46 240.85 L133.66 239.32 L137.26 237.85 L141.77 236.44 L146.68 235.1 L151.38 233.75 L155.57 232.42 L159.55 231.09 L163.54 229.72 L167.62 228.3 L171.7 226.83 L175.78 225.28 L180.3 223.4 L184.82 221.43 L187.98 220.05" fill="none" stroke="#787878" stroke-width="2.04"/>
<path d="M112.6 248.47 L116.56 247.01 L122.16 244.95 L127.29 242.99 L130.97 241.36 L134.17 239.83 L137.77 238.36 L142.28 236.96 L147.19 235.61 L151.89 234.26 L156.09 232.93 L160.06 231.6 L164.05 230.23 L168.13 228.81 L172.21 227.34 L176.29 225.79 L180.81 223.91 L185.33 221.94 L188.49 220.56" fill="none" stroke="#d6d6d6" stroke-width="0.86"/>
<path d="M53.32 249.93 L55.59 248.94 L58.85 247.51 L62.2 246.1 L65.35 244.85 L68.59 243.62 L71.95 242.33 L75.5 241 L79.16 239.62 L82.82 238.15 L86.51 236.59 L90.19 234.94 L93.55 233.19 L96.26 231.31 L98.64 229.33 L101.43 227.25 L105.41 224.78 L109.79 222.21 L112.9 220.4" fill="none" stroke="#7e7e7e" stroke-width="1.95"/>
<path d="M53.81 250.42 L56.08 249.42 L59.34 248 L62.69 246.59 L65.83 245.34 L69.08 244.1 L72.44 242.82 L75.98 241.49 L79.65 240.11 L83.3 238.64 L87 237.08 L90.67 235.43 L94.04 233.67 L96.74 231.8 L99.13 229.82 L101.92 227.74 L105.9 225.27 L110.28 222.69 L113.39 220.88" fill="none" stroke="#e0e0e0" stroke-width="0.63"/>
<path d="M93.23 275.17 L97.14 273.93 L102.7 272.15 L108.04 270.27 L112.38 268.47 L116.51 266.58 L120.91 264.59 L125.88 262.47 L131.13 260.25 L136.28 257.93 L141.18 255.5 L145.97 252.96 L150.66 250.36 L155.2 247.67 L159.64 244.92 L164.15 242.15 L169.34 239.05 L174.61 235.92 L178.31 233.73" fill="none" stroke="#5e5e5e" stroke-width="1.76"/>
<path d="M92.79 274.73 L96.7 273.49 L102.26 271.7 L107.6 269.83 L111.94 268.03 L116.07 266.14 L120.47 264.15 L125.44 262.03 L130.69 259.81 L135.84 257.49 L140.74 255.06 L145.53 252.52 L150.22 249.92 L154.76 247.23 L159.2 244.48 L163.71 241.71 L168.9 238.61 L174.17 235.48 L177.87 233.29" fill="none" stroke="#c9c9c9" stroke-width="0.9"/>
<path d="M64.82 268.16 L66.94 266.98 L69.96 265.28 L72.95 263.48 L75.5 261.71 L78.01 259.83 L80.81 257.89 L84.18 255.87 L87.82 253.77 L91.14 251.66 L93.72 249.52 L95.97 247.36 L98.48 245.23 L101.65 243.13 L105.08 241.07 L108.16 239.08 L110.85 237.01 L113.19 235.01 L114.8 233.62" fill="none" stroke="#4f4f4f" stroke-width="2.75"/>
<path d="M64.13 267.47 L66.25 266.29 L69.27 264.59 L72.26 262.79 L74.81 261.02 L77.33 259.15 L80.12 257.2 L83.49 255.18 L87.14 253.09 L90.45 250.97 L93.03 248.83 L95.28 246.67 L97.79 244.54 L100.96 242.44 L104.39 240.38 L107.48 238.39 L110.16 236.32 L112.5 234.33 L114.11 232.94" fill="none" stroke="#d9d9d9" stroke-width="0.73"/>
<path d="M40.68 250.39 L43.12 248.76 L46.64 246.42 L50.3 244.07 L53.82 241.89 L57.5 239.7 L61.23 237.54 L65.15 235.41 L69.14 233.31 L72.76 231.29 L75.61 229.36 L78.1 227.5 L80.98 225.75 L84.71 224.11 L88.84 222.57 L92.78 221.14 L96.65 219.72 L100.33 218.4 L102.88 217.49" fill="none" stroke="#696969" stroke-width="2.25"/>
<path d="M41.24 250.95 L43.68 249.32 L47.2 246.98 L50.86 244.63 L54.39 242.46 L58.06 240.26 L61.8 238.1 L65.72 235.97 L69.7 233.88 L73.32 231.86 L76.17 229.92 L78.66 228.06 L81.54 226.31 L85.28 224.67 L89.4 223.13 L93.34 221.7 L97.21 220.28 L100.89 218.96 L103.44 218.05" fill="none" stroke="#b0b0b0" stroke-width="0.58"/>
<path d="M70.18 263.65 L73.57 261.65 L78.35 258.79 L82.77 256.01 L85.98 253.61 L88.83 251.29 L92.05 249.07 L96.15 246.97 L100.62 244.97 L104.72 243.07 L107.96 241.29 L110.83 239.62 L114.03 238.03 L118 236.52 L122.3 235.1 L126.36 233.72 L130.27 232.22 L133.93 230.76 L136.47 229.75" fill="none" stroke="#565656" stroke-width="3.13"/>
<path d="M69.4 262.87 L72.79 260.86 L77.57 258.01 L81.99 255.23 L85.2 252.83 L88.05 250.51 L91.27 248.29 L95.37 246.19 L99.84 244.18 L103.94 242.29 L107.18 240.51 L110.05 238.84 L113.25 237.25 L117.22 235.74 L121.52 234.32 L125.58 232.94 L129.49 231.44 L133.15 229.98 L135.69 228.96" fill="none" stroke="#d1d1d1" stroke-width="0.92"/>
<path d="M76.53 265.13 L80.38 263.93 L85.85 262.24 L91.09 260.66 L95.42 259.39 L99.52 258.22 L103.61 257.14 L107.7 256.15 L111.76 255.24 L115.96 254.36 L120.36 253.53 L124.88 252.73 L129.48 251.92 L134.27 251.09 L139.14 250.24 L143.65 249.33 L147.95 248.19 L151.91 246.99 L154.64 246.14" fill="none" stroke="#4b4b4b" stroke-width="1.87"/>
<path d="M77 265.59 L80.85 264.4 L86.31 262.71 L91.55 261.12 L95.88 259.85 L99.99 258.69 L104.08 257.61 L108.16 256.61 L112.23 255.7 L116.43 254.83 L120.83 254 L125.35 253.2 L129.95 252.39 L134.74 251.55 L139.61 250.71 L144.12 249.79 L148.42 248.66 L152.37 247.46 L155.1 246.61" fill="none" stroke="#bfbfbf" stroke-width="0.65"/>
<path d="M98.76 247.51 L101.22 246.29 L104.76 244.56 L108.52 242.86 L112.3 241.4 L116.29 239.98 L120.23 238.54 L124.01 237.08 L127.74 235.61 L131.41 234.07 L134.9 232.46 L138.34 230.78 L142.08 229.01 L146.46 227.13 L151.15 225.15 L155.5 223.06 L159.58 220.56 L163.32 217.96 L165.9 216.13" fill="none" stroke="#4f4f4f" stroke-width="2.75"/>
<path d="M98.07 246.82 L100.53 245.61 L104.07 243.87 L107.83 242.17 L111.61 240.71 L115.6 239.29 L119.54 237.85 L123.32 236.39 L127.05 234.92 L130.73 233.38 L134.22 231.77 L137.65 230.1 L141.39 228.32 L145.77 226.44 L150.46 224.46 L154.81 222.37 L158.89 219.87 L162.63 217.27 L165.21 215.44" fill="none" stroke="#b1b1b1" stroke-width="0.8"/>
<path d="M40.6 261.14 L43.55 260.32 L47.8 259.14 L52.36 257.89 L57.07 256.68 L62.08 255.41 L66.83 254.04 L71.02 252.56 L74.94 250.98 L78.99 249.29 L83.39 247.49 L87.92 245.58 L92.19 243.57 L95.88 241.47 L99.31 239.28 L103.11 237.03 L108.16 234.47 L113.59 231.86 L117.43 230.03" fill="none" stroke="#515151" stroke-width="3.12"/>
<path d="M39.82 260.36 L42.77 259.54 L47.02 258.36 L51.58 257.11 L56.29 255.9 L61.3 254.63 L66.06 253.26 L70.24 251.78 L74.16 250.2 L78.21 248.51 L82.62 246.71 L87.14 244.8 L91.41 242.79 L95.1 240.69 L98.53 238.5 L102.33 236.25 L107.38 233.69 L112.81 231.08 L116.65 229.25" fill="none" stroke="#c6c6c6" stroke-width="0.95"/>
<path d="M30.05 262.26 L33.32 261.06 L37.98 259.32 L42.57 257.48 L46.64 255.67 L50.64 253.75 L54.38 251.73 L57.65 249.62 L60.67 247.42 L64 245.16 L68.02 242.85 L72.34 240.49 L76.37 238.13 L79.77 235.77 L82.87 233.41 L86.11 231.11 L90.06 228.65 L94.15 226.24 L97.03 224.56" fill="none" stroke="#808080" stroke-width="2.26"/>
<path d="M29.48 261.69 L32.75 260.49 L37.42 258.76 L42 256.92 L46.08 255.1 L50.07 253.18 L53.82 251.17 L57.08 249.05 L60.11 246.85 L63.43 244.6 L67.45 242.29 L71.77 239.93 L75.8 237.56 L79.2 235.21 L82.3 232.85 L85.54 230.54 L89.5 228.08 L93.59 225.68 L96.46 224" fill="none" stroke="#d7d7d7" stroke-width="0.52"/>
<path d="M63.26 248.4 L65.38 246.72 L68.43 244.32 L71.62 241.86 L74.76 239.56 L78.05 237.21 L81.3 234.86 L84.45 232.51 L87.56 230.17 L90.64 227.87 L93.69 225.63 L96.71 223.45 L99.68 221.36 L102.64 219.37 L105.56 217.46 L108.35 215.67 L111.22 213.86 L113.97 212.15 L115.87 210.96" fill="none" stroke="#5c5c5c" stroke-width="2.86"/>
<path d="M62.55 247.69 L64.67 246.01 L67.72 243.61 L70.91 241.15 L74.05 238.85 L77.33 236.5 L80.58 234.15 L83.73 231.8 L86.85 229.45 L89.93 227.16 L92.98 224.92 L95.99 222.74 L98.97 220.64 L101.93 218.65 L104.85 216.75 L107.64 214.96 L110.51 213.14 L113.25 211.44 L115.16 210.25" fill="none" stroke="#e0e0e0" stroke-width="0.81"/>
<path d="M67.68 250.18 L70.82 247.91 L75.33 244.68 L80.05 241.5 L84.71 238.7 L89.58 235.95 L94.31 233.3 L98.69 230.74 L102.93 228.28 L107.28 225.92 L111.9 223.68 L116.63 221.55 L121.21 219.52 L125.47 217.6 L129.59 215.77 L133.88 214.01 L139.01 212.14 L144.32 210.34 L148.05 209.08" fill="none" stroke="#6b6b6b" stroke-width="1.68"/>
<path d="M67.26 249.76 L70.4 247.49 L74.91 244.26 L79.64 241.08 L84.3 238.28 L89.16 235.53 L93.89 232.88 L98.27 230.32 L102.51 227.86 L106.86 225.5 L111.48 223.26 L116.21 221.13 L120.8 219.1 L125.06 217.18 L129.17 215.35 L133.46 213.59 L138.6 211.72 L143.9 209.92 L147.63 208.66" fill="none" stroke="#cacaca" stroke-width="0.62"/>
<path d="M80.54 247.28 L82.8 245.88 L86.07 243.89 L89.59 242.01 L93.27 240.47 L97.2 239.04 L100.92 237.71 L104.22 236.49 L107.3 235.37 L110.3 234.3 L113.18 233.31 L115.99 232.39 L119.05 231.48 L122.63 230.58 L126.46 229.7 L130.04 228.78 L133.45 227.67 L136.61 226.53 L138.8 225.72" fill="none" stroke="#626262" stroke-width="1.93"/>
<path d="M80.06 246.8 L82.32 245.4 L85.59 243.41 L89.1 241.53 L92.78 239.99 L96.72 238.56 L100.44 237.23 L103.73 236.01 L106.81 234.88 L109.82 233.82 L112.7 232.83 L115.51 231.9 L118.56 230.99 L122.14 230.1 L125.97 229.21 L129.56 228.29 L132.97 227.19 L136.13 226.04 L138.32 225.24" fill="none" stroke="#c7c7c7" stroke-width="0.53"/>
<path d="M47.5 246.34 L50.22 244.94 L54.12 242.96 L58.18 241.04 L62.08 239.42 L66.15 237.86 L70.23 236.31 L74.31 234.79 L78.41 233.27 L82.44 231.72 L86.34 230.13 L90.16 228.49 L93.92 226.78 L97.62 224.97 L101.25 223.08 L104.86 221.09 L108.84 218.69 L112.8 216.2 L115.57 214.44" fill="none" stroke="#606060" stroke-width="2.76"/>
<path d="M48.2 247.03 L50.91 245.63 L54.81 243.65 L58.87 241.73 L62.78 240.11 L66.84 238.55 L70.92 237.01 L75 235.48 L79.11 233.97 L83.13 232.41 L87.03 230.82 L90.85 229.19 L94.62 227.47 L98.31 225.66 L101.94 223.77 L105.55 221.78 L109.53 219.39 L113.49 216.89 L116.26 215.13" fill="none" stroke="#c3c3c3" stroke-width="0.75"/>
<path d="M106.35 253.15 L109.42 252.13 L113.76 250.67 L117.67 249.16 L120.39 247.77 L122.68 246.34 L125.17 244.82 L128.16 243.21 L131.35 241.52 L134.47 239.73 L137.41 237.82 L140.29 235.8 L143.21 233.68 L146.21 231.45 L149.25 229.11 L152.34 226.69 L155.86 223.9 L159.42 221.04 L161.92 219.02" fill="none" stroke="#474747" stroke-width="3.37"/>
<path d="M105.5 252.31 L108.58 251.29 L112.92 249.82 L116.83 248.32 L119.55 246.93 L121.84 245.49 L124.33 243.98 L127.32 242.37 L130.5 240.68 L133.63 238.89 L136.57 236.98 L139.44 234.96 L142.37 232.84 L145.36 230.6 L148.41 228.27 L151.5 225.85 L155.01 223.06 L158.58 220.2 L161.07 218.18" fill="none" stroke="#c9c9c9" stroke-width="0.58"/>
<path d="M39.57 255.1 L41.89 253.76 L45.25 251.82 L48.97 249.77 L52.95 247.78 L57.29 245.69 L61.55 243.49 L65.66 241.17 L69.69 238.76 L73.45 236.26 L76.68 233.69 L79.64 231.04 L82.81 228.36 L86.38 225.64 L90.16 222.9 L94.07 220.18 L98.59 217.22 L103.24 214.28 L106.51 212.23" fill="none" stroke="#606060" stroke-width="2.89"/>
<path d="M40.29 255.82 L42.61 254.48 L45.97 252.54 L49.69 250.5 L53.67 248.51 L58.01 246.41 L62.27 244.21 L66.38 241.9 L70.42 239.48 L74.17 236.99 L77.41 234.41 L80.36 231.76 L83.53 229.08 L87.1 226.37 L90.88 223.62 L94.79 220.9 L99.31 217.94 L103.96 215 L107.23 212.95" fill="none" stroke="#dfdfdf" stroke-width="0.86"/>
<path d="M64.76 259.09 L67.96 257.44 L72.56 255.09 L77.24 252.65 L81.64 250.34 L86.14 247.96 L90.54 245.54 L94.68 243.09 L98.73 240.61 L103.06 238.16 L107.99 235.73 L113.21 233.33 L118.12 230.99 L122.37 228.74 L126.3 226.56 L130.41 224.48 L135.43 222.34 L140.61 220.31 L144.26 218.89" fill="none" stroke="#848484" stroke-width="2.66"/>
<path d="M64.09 258.42 L67.3 256.78 L71.89 254.42 L76.58 251.99 L80.98 249.68 L85.47 247.29 L89.88 244.87 L94.01 242.42 L98.06 239.95 L102.39 237.49 L107.33 235.06 L112.55 232.66 L117.45 230.33 L121.7 228.08 L125.64 225.89 L129.75 223.82 L134.76 221.68 L139.95 219.64 L143.59 218.23" fill="none" stroke="#e6e6e6" stroke-width="0.96"/>
<path d="M26.39 257.9 L30.21 255.66 L35.62 252.45 L40.78 249.28 L44.93 246.43 L48.81 243.62 L52.85 240.87 L57.18 238.2 L61.66 235.61 L66.25 233.12 L70.93 230.73 L75.71 228.45 L80.6 226.28 L85.75 224.23 L91 222.28 L95.85 220.42 L100.41 218.47 L104.57 216.62 L107.44 215.33" fill="none" stroke="#6f6f6f" stroke-width="1.34"/>
<path d="M26.06 257.57 L29.87 255.32 L35.29 252.12 L40.44 248.94 L44.59 246.1 L48.48 243.28 L52.52 240.54 L56.85 237.87 L61.33 235.27 L65.91 232.78 L70.59 230.4 L75.38 228.12 L80.26 225.95 L85.41 223.89 L90.66 221.94 L95.51 220.08 L100.08 218.14 L104.23 216.28 L107.1 214.99" fill="none" stroke="#acacac" stroke-width="0.55"/>
<path d="M28.9 271.47 L31.46 269.96 L35.08 267.83 L38.43 265.79 L40.91 264.1 L43.12 262.52 L45.53 261.04 L48.38 259.68 L51.44 258.42 L54.5 257.26 L57.53 256.18 L60.55 255.19 L63.47 254.25 L66.16 253.35 L68.74 252.5 L71.42 251.64 L74.65 250.64 L77.99 249.64 L80.34 248.94" fill="none" stroke="#484848" stroke-width="2.58"/>
<path d="M29.54 272.11 L32.1 270.6 L35.73 268.47 L39.08 266.44 L41.56 264.75 L43.76 263.16 L46.18 261.68 L49.03 260.32 L52.08 259.07 L55.14 257.9 L58.17 256.82 L61.2 255.84 L64.11 254.89 L66.8 253.99 L69.38 253.14 L72.07 252.28 L75.3 251.29 L78.63 250.29 L80.98 249.59" fill="none" stroke="#acacac" stroke-width="0.95"/>
<path d="M26.21 269.17 L29.66 268.18 L34.55 266.79 L39.2 265.48 L42.91 264.44 L46.37 263.49 L50.06 262.58 L54.26 261.71 L58.68 260.9 L62.98 260.07 L66.92 259.23 L70.75 258.38 L74.79 257.47 L79.31 256.5 L84.04 255.47 L88.54 254.34 L93.01 252.92 L97.25 251.41 L100.19 250.34" fill="none" stroke="#818181" stroke-width="2.89"/>
<path d="M26.93 269.89 L30.38 268.91 L35.27 267.51 L39.93 266.21 L43.63 265.17 L47.09 264.21 L50.79 263.3 L54.98 262.44 L59.4 261.62 L63.7 260.79 L67.65 259.95 L71.47 259.1 L75.52 258.2 L80.03 257.23 L84.77 256.19 L89.27 255.06 L93.74 253.65 L97.97 252.13 L100.91 251.07" fill="none" stroke="#c1c1c1" stroke-width="0.62"/>
<path d="M113.34 267.16 L116.82 266.32 L121.79 265.11 L126.84 263.9 L131.57 262.81 L136.38 261.72 L141.09 260.56 L145.55 259.34 L149.91 258.06 L154.41 256.69 L159.24 255.21 L164.22 253.63 L169.05 251.94 L173.58 250.14 L177.95 248.23 L182.35 246.22 L187.31 243.85 L192.3 241.38 L195.79 239.65" fill="none" stroke="#838383" stroke-width="1.55"/>
<path d="M112.96 266.77 L116.43 265.93 L121.4 264.72 L126.45 263.51 L131.18 262.43 L135.99 261.33 L140.7 260.18 L145.16 258.96 L149.52 257.68 L154.02 256.3 L158.86 254.82 L163.83 253.24 L168.66 251.56 L173.19 249.75 L177.56 247.84 L181.96 245.83 L186.93 243.46 L191.91 240.99 L195.4 239.26" fill="none" stroke="#dbdbdb" stroke-width="0.67"/>
<path d="M39.17 270.27 L42.18 269.38 L46.47 268.1 L50.61 266.72 L54.04 265.35 L57.32 263.89 L60.78 262.31 L64.62 260.62 L68.64 258.82 L72.47 256.92 L75.87 254.92 L79.1 252.83 L82.56 250.67 L86.46 248.46 L90.6 246.19 L94.82 243.91 L99.55 241.39 L104.36 238.86 L107.73 237.09" fill="none" stroke="#878787" stroke-width="2.93"/>
<path d="M38.44 269.54 L41.45 268.65 L45.73 267.37 L49.87 265.99 L53.3 264.62 L56.59 263.15 L60.05 261.58 L63.89 259.88 L67.9 258.08 L71.74 256.19 L75.14 254.19 L78.36 252.09 L81.83 249.94 L85.73 247.73 L89.87 245.46 L94.08 243.18 L98.82 240.66 L103.63 238.13 L107 236.36" fill="none" stroke="#adadad" stroke-width="0.77"/>
<path d="M107.22 258.35 L110.3 256.57 L114.68 254.01 L119.06 251.36 L122.99 248.82 L126.91 246.19 L130.85 243.5 L134.88 240.75 L138.93 237.95 L142.87 235.13 L146.63 232.31 L150.28 229.49 L153.91 226.71 L157.53 223.98 L161.13 221.3 L164.75 218.7 L168.84 215.97 L172.96 213.33 L175.84 211.49" fill="none" stroke="#565656" stroke-width="2.98"/>
<path d="M107.97 259.1 L111.04 257.32 L115.43 254.76 L119.81 252.1 L123.73 249.57 L127.65 246.94 L131.59 244.25 L135.62 241.5 L139.68 238.69 L143.62 235.88 L147.38 233.06 L151.03 230.23 L154.66 227.45 L158.27 224.72 L161.87 222.04 L165.5 219.45 L169.59 216.72 L173.7 214.07 L176.59 212.23" fill="none" stroke="#dddddd" stroke-width="0.93"/>
<path d="M49.74 272.53 L52.99 270.51 L57.64 267.62 L62.35 264.73 L66.71 262.09 L71.14 259.46 L75.52 256.86 L79.84 254.32 L84.12 251.83 L88.26 249.42 L92.1 247.11 L95.8 244.89 L99.73 242.77 L104.17 240.77 L108.84 238.88 L113.21 237.09 L117.41 235.26 L121.31 233.53 L124.01 232.33" fill="none" stroke="#7f7f7f" stroke-width="1.44"/>
<path d="M49.38 272.17 L52.63 270.15 L57.28 267.26 L61.99 264.36 L66.35 261.73 L70.78 259.09 L75.16 256.5 L79.48 253.96 L83.76 251.47 L87.9 249.06 L91.74 246.75 L95.44 244.53 L99.37 242.41 L103.81 240.41 L108.48 238.52 L112.85 236.73 L117.05 234.9 L120.95 233.17 L123.65 231.97" fill="none" stroke="#dadada" stroke-width="0.69"/>
<path d="M31.8 252.76 L34.76 250.7 L38.99 247.76 L43.08 244.92 L46.57 242.47 L49.93 240.11 L53.14 237.86 L56.1 235.73 L58.91 233.71 L61.97 231.79 L65.48 229.97 L69.23 228.26 L72.93 226.62 L76.58 225.05 L80.19 223.56 L83.5 222.08 L86.65 220.46 L89.51 218.86 L91.48 217.74" fill="none" stroke="#8c8c8c" stroke-width="1.84"/>
<path d="M32.26 253.22 L35.23 251.16 L39.45 248.22 L43.54 245.38 L47.03 242.93 L50.39 240.57 L53.61 238.33 L56.56 236.19 L59.37 234.17 L62.43 232.25 L65.94 230.43 L69.69 228.72 L73.4 227.08 L77.04 225.51 L80.65 224.02 L83.96 222.54 L87.11 220.92 L89.97 219.32 L91.94 218.2" fill="none" stroke="#bababa" stroke-width="0.67"/>
<path d="M111.02 268 L113.86 266.45 L117.91 264.26 L122.01 262.17 L125.88 260.44 L129.78 258.81 L133.36 257.25 L136.34 255.77 L138.99 254.35 L141.83 252.96 L145.05 251.59 L148.45 250.25 L152.02 248.87 L155.91 247.46 L159.96 246.01 L163.69 244.49 L167.15 242.65 L170.3 240.74 L172.47 239.4" fill="none" stroke="#6e6e6e" stroke-width="2.77"/>
<path d="M110.33 267.3 L113.16 265.76 L117.22 263.56 L121.32 261.47 L125.18 259.74 L129.09 258.11 L132.67 256.56 L135.64 255.07 L138.3 253.66 L141.14 252.27 L144.36 250.9 L147.76 249.55 L151.33 248.18 L155.22 246.76 L159.26 245.32 L162.99 243.79 L166.46 241.96 L169.6 240.05 L171.77 238.71" fill="none" stroke="#bdbdbd" stroke-width="0.54"/>
<path d="M78.28 268.27 L81.63 266.93 L86.42 265.01 L91.35 263.12 L96.06 261.46 L100.89 259.83 L105.58 258.16 L109.94 256.46 L114.16 254.73 L118.46 252.92 L123 251.02 L127.63 249.05 L132.12 246.97 L136.32 244.78 L140.39 242.48 L144.56 240.08 L149.45 237.24 L154.45 234.3 L157.95 232.23" fill="none" stroke="#6e6e6e" stroke-width="3.01"/>
<path d="M77.53 267.52 L80.87 266.18 L85.67 264.26 L90.6 262.37 L95.3 260.71 L100.14 259.08 L104.83 257.41 L109.19 255.71 L113.4 253.98 L117.7 252.17 L122.25 250.27 L126.87 248.3 L131.37 246.22 L135.57 244.02 L139.64 241.73 L143.81 239.32 L148.7 236.49 L153.7 233.55 L157.2 231.48" fill="none" stroke="#eaeaea" stroke-width="0.74"/>
<path d="M30.35 258.06 L33.13 257.18 L37.08 255.92 L40.96 254.57 L44.33 253.27 L47.62 251.88 L50.86 250.39 L54.05 248.78 L57.2 247.07 L60.35 245.26 L63.58 243.33 L66.8 241.29 L69.82 239.17 L72.41 236.97 L74.8 234.68 L77.51 232.36 L81.24 229.74 L85.29 227.08 L88.15 225.22" fill="none" stroke="#737373" stroke-width="2.54"/>
<path d="M30.98 258.69 L33.76 257.82 L37.72 256.55 L41.6 255.21 L44.96 253.9 L48.25 252.51 L51.49 251.02 L54.69 249.42 L57.84 247.71 L60.99 245.89 L64.21 243.96 L67.43 241.93 L70.46 239.81 L73.04 237.6 L75.43 235.32 L78.15 233 L81.87 230.38 L85.92 227.72 L88.79 225.86" fill="none" stroke="#e6e6e6" stroke-width="0.71"/>
<path d="M111.98 256.63 L114.42 254.97 L117.94 252.58 L121.61 250.09 L125.24 247.68 L129.03 245.18 L132.61 242.59 L135.73 239.91 L138.65 237.15 L141.72 234.36 L145.13 231.52 L148.69 228.65 L152.25 225.8 L155.82 222.97 L159.38 220.15 L162.76 217.4 L166.15 214.47 L169.35 211.6 L171.57 209.6" fill="none" stroke="#7f7f7f" stroke-width="1.81"/>
<path d="M111.52 256.18 L113.97 254.52 L117.49 252.13 L121.15 249.63 L124.79 247.23 L128.58 244.72 L132.16 242.14 L135.28 239.46 L138.2 236.7 L141.27 233.91 L144.67 231.07 L148.24 228.2 L151.8 225.35 L155.37 222.52 L158.93 219.7 L162.31 216.95 L165.69 214.02 L168.89 211.15 L171.11 209.15" fill="none" stroke="#e7e7e7" stroke-width="0.64"/>
<path d="M114.21 262.55 L115.79 260.48 L118.11 257.52 L120.85 254.53 L124.1 251.76 L127.77 248.96 L131.23 246.17 L134.21 243.4 L136.97 240.65 L139.71 237.97 L142.54 235.36 L145.35 232.82 L148.1 230.37 L150.71 228.03 L153.26 225.8 L155.98 223.67 L159.37 221.48 L162.94 219.39 L165.45 217.94" fill="none" stroke="#555555" stroke-width="2.41"/>
<path d="M114.81 263.15 L116.39 261.09 L118.71 258.12 L121.45 255.13 L124.7 252.36 L128.37 249.56 L131.84 246.77 L134.81 244.01 L137.57 241.26 L140.32 238.57 L143.14 235.96 L145.95 233.42 L148.7 230.97 L151.31 228.64 L153.86 226.4 L156.59 224.27 L159.97 222.08 L163.54 219.99 L166.05 218.54" fill="none" stroke="#c4c4c4" stroke-width="0.79"/>
<path d="M87.62 250.36 L90.2 248.59 L93.92 246.08 L97.78 243.63 L101.52 241.51 L105.41 239.46 L109.19 237.51 L112.77 235.66 L116.24 233.91 L119.69 232.28 L123.12 230.76 L126.52 229.34 L130 228.02 L133.62 226.8 L137.32 225.67 L141.06 224.59 L145.26 223.45 L149.5 222.36 L152.47 221.6" fill="none" stroke="#5f5f5f" stroke-width="1.89"/>
<path d="M88.09 250.83 L90.68 249.06 L94.39 246.55 L98.25 244.1 L101.99 241.98 L105.88 239.93 L109.67 237.98 L113.24 236.13 L116.71 234.39 L120.17 232.75 L123.59 231.23 L126.99 229.82 L130.47 228.5 L134.09 227.27 L137.79 226.14 L141.53 225.06 L145.73 223.92 L149.97 222.83 L152.94 222.07" fill="none" stroke="#bebebe" stroke-width="0.57"/>
<path d="M56.01 255.46 L59.46 253.68 L64.4 251.14 L69.36 248.72 L73.84 246.69 L78.35 244.77 L82.91 242.95 L87.53 241.22 L92.19 239.58 L96.86 237.99 L101.53 236.46 L106.22 234.98 L110.98 233.49 L115.96 232.01 L121.02 230.52 L125.72 228.98 L130.23 227.16 L134.38 225.29 L137.25 223.97" fill="none" stroke="#5e5e5e" stroke-width="2.17"/>
<path d="M56.55 256 L60 254.22 L64.94 251.68 L69.9 249.26 L74.38 247.23 L78.9 245.32 L83.45 243.49 L88.07 241.76 L92.73 240.12 L97.41 238.53 L102.08 237 L106.76 235.52 L111.52 234.03 L116.51 232.55 L121.56 231.06 L126.26 229.52 L130.77 227.7 L134.92 225.83 L137.79 224.52" fill="none" stroke="#b2b2b2" stroke-width="0.8"/>
<path d="M88.56 270.43 L91.48 269.02 L95.68 267.01 L100 265.05 L104.11 263.37 L108.34 261.74 L112.58 260.12 L116.83 258.49 L121.09 256.85 L125.26 255.17 L129.32 253.42 L133.3 251.63 L137.16 249.73 L140.82 247.74 L144.37 245.66 L148.11 243.47 L152.66 240.86 L157.4 238.14 L160.73 236.22" fill="none" stroke="#898989" stroke-width="3.26"/>
<path d="M87.74 269.62 L90.67 268.21 L94.87 266.19 L99.19 264.23 L103.3 262.56 L107.53 260.93 L111.77 259.3 L116.02 257.67 L120.27 256.04 L124.45 254.35 L128.51 252.61 L132.48 250.81 L136.35 248.92 L140.01 246.93 L143.56 244.84 L147.29 242.65 L151.84 240.04 L156.58 237.32 L159.92 235.41" fill="none" stroke="#bababa" stroke-width="0.66"/>
<path d="M60.05 262.21 L62.01 261.36 L64.86 260.13 L68.05 258.85 L71.55 257.64 L75.38 256.37 L79.02 255.01 L82.19 253.55 L85.17 252 L88.28 250.34 L91.68 248.56 L95.21 246.67 L98.77 244.69 L102.33 242.6 L105.93 240.41 L109.56 238.15 L113.64 235.56 L117.76 232.91 L120.65 231.05" fill="none" stroke="#686868" stroke-width="2.23"/>
<path d="M60.61 262.76 L62.57 261.91 L65.42 260.69 L68.6 259.41 L72.1 258.2 L75.93 256.93 L79.58 255.57 L82.74 254.11 L85.72 252.56 L88.84 250.9 L92.23 249.12 L95.76 247.23 L99.33 245.24 L102.89 243.15 L106.48 240.96 L110.11 238.71 L114.2 236.12 L118.32 233.47 L121.21 231.6" fill="none" stroke="#b9b9b9" stroke-width="0.58"/>
<path d="M48.33 251.19 L51.12 249.59 L55.16 247.29 L59.53 244.88 L64.08 242.55 L68.97 240.11 L73.79 237.58 L78.43 234.94 L82.99 232.2 L87.36 229.4 L91.37 226.53 L95.2 223.6 L99.24 220.65 L103.83 217.69 L108.64 214.72 L113.15 211.78 L117.48 208.6 L121.5 205.46 L124.29 203.27" fill="none" stroke="#888888" stroke-width="3.15"/>
<path d="M49.11 251.98 L51.91 250.38 L55.94 248.07 L60.32 245.66 L64.87 243.34 L69.76 240.9 L74.58 238.37 L79.21 235.73 L83.78 232.99 L88.15 230.19 L92.16 227.32 L95.98 224.39 L100.03 221.44 L104.62 218.48 L109.43 215.5 L113.93 212.57 L118.27 209.39 L122.29 206.25 L125.07 204.06" fill="none" stroke="#b6b6b6" stroke-width="0.79"/>
<path d="M73.74 274.2 L75.65 272.88 L78.4 270.97 L81.37 269.01 L84.52 267.14 L87.9 265.2 L90.99 263.25 L93.48 261.28 L95.7 259.31 L98.1 257.37 L100.87 255.47 L103.83 253.62 L106.95 251.85 L110.31 250.16 L113.82 248.57 L117.19 247.08 L120.58 245.59 L123.81 244.22 L126.06 243.27" fill="none" stroke="#8b8b8b" stroke-width="1.54"/>
<path d="M73.36 273.82 L75.26 272.49 L78.01 270.59 L80.99 268.63 L84.14 266.75 L87.51 264.82 L90.61 262.87 L93.1 260.9 L95.31 258.92 L97.71 256.98 L100.48 255.09 L103.45 253.23 L106.56 251.46 L109.92 249.78 L113.44 248.18 L116.8 246.69 L120.19 245.21 L123.43 243.83 L125.68 242.88" fill="none" stroke="#dedede" stroke-width="0.53"/>
<path d="M113.89 262.17 L115.59 259.84 L118.06 256.51 L120.82 253.23 L123.86 250.31 L127.2 247.44 L130.35 244.64 L133.1 241.94 L135.67 239.33 L138.3 236.82 L141.09 234.42 L143.95 232.13 L146.81 229.95 L149.59 227.87 L152.39 225.9 L155.41 224.01 L159.21 222.01 L163.25 220.09 L166.1 218.76" fill="none" stroke="#626262" stroke-width="2.75"/>
<path d="M113.21 261.48 L114.91 259.15 L117.38 255.82 L120.13 252.54 L123.18 249.62 L126.51 246.75 L129.66 243.96 L132.41 241.26 L134.98 238.64 L137.61 236.13 L140.41 233.73 L143.26 231.44 L146.12 229.26 L148.91 227.19 L151.7 225.22 L154.72 223.32 L158.53 221.33 L162.56 219.4 L165.41 218.07" fill="none" stroke="#d5d5d5" stroke-width="0.64"/>
<path d="M111.34 247.74 L113.29 246.44 L116.12 244.6 L119.3 242.87 L122.82 241.47 L126.7 240.17 L130.42 238.97 L133.83 237.89 L137.07 236.91 L140.11 236 L142.78 235.18 L145.24 234.43 L147.92 233.71 L151.05 233.03 L154.4 232.37 L157.79 231.68 L161.54 230.86 L165.33 230.02 L167.99 229.42" fill="none" stroke="#848484" stroke-width="2.19"/>
<path d="M110.79 247.19 L112.74 245.89 L115.57 244.06 L118.75 242.33 L122.28 240.92 L126.15 239.62 L129.87 238.42 L133.28 237.34 L136.53 236.36 L139.56 235.46 L142.23 234.63 L144.69 233.89 L147.38 233.17 L150.5 232.48 L153.85 231.82 L157.24 231.13 L160.99 230.31 L164.79 229.47 L167.45 228.87" fill="none" stroke="#d7d7d7" stroke-width="1"/>
<path d="M43.2 265.75 L45.96 264.29 L49.84 262.21 L53.29 260.21 L55.56 258.54 L57.4 256.93 L59.54 255.36 L62.33 253.81 L65.43 252.3 L68.53 250.76 L71.54 249.19 L74.56 247.6 L77.55 245.93 L80.49 244.18 L83.39 242.37 L86.35 240.45 L89.72 238.14 L93.15 235.73 L95.55 234.04" fill="none" stroke="#565656" stroke-width="1.27"/>
<path d="M42.88 265.43 L45.64 263.97 L49.52 261.9 L52.98 259.9 L55.24 258.22 L57.08 256.61 L59.22 255.04 L62.01 253.5 L65.11 251.98 L68.21 250.44 L71.23 248.87 L74.24 247.28 L77.24 245.61 L80.17 243.87 L83.08 242.05 L86.03 240.13 L89.41 237.82 L92.83 235.42 L95.23 233.72" fill="none" stroke="#c8c8c8" stroke-width="0.99"/>
<path d="M29.46 265.79 L32.36 264.65 L36.47 263.03 L40.33 261.39 L43.33 259.88 L46.08 258.36 L49.04 256.76 L52.45 255.08 L56.08 253.33 L59.63 251.47 L63 249.51 L66.31 247.44 L69.57 245.26 L72.79 242.97 L75.96 240.57 L79.11 238.09 L82.6 235.2 L86.07 232.23 L88.49 230.14" fill="none" stroke="#7e7e7e" stroke-width="1.38"/>
<path d="M29.8 266.13 L32.7 265 L36.81 263.38 L40.68 261.73 L43.67 260.23 L46.43 258.7 L49.39 257.1 L52.8 255.42 L56.42 253.67 L59.97 251.82 L63.35 249.85 L66.66 247.78 L69.92 245.61 L73.13 243.32 L76.3 240.92 L79.46 238.43 L82.94 235.55 L86.41 232.57 L88.84 230.48" fill="none" stroke="#b8b8b8" stroke-width="0.54"/>
<path d="M111.06 250.55 L112.75 249.87 L115.21 248.89 L118.02 247.8 L121.16 246.68 L124.64 245.45 L128.04 244.12 L131.19 242.67 L134.27 241.12 L137.28 239.48 L140.16 237.74 L142.99 235.93 L145.98 234.06 L149.34 232.15 L152.87 230.2 L156.16 228.26 L159.29 226.14 L162.17 224.03 L164.16 222.55" fill="none" stroke="#464646" stroke-width="2.99"/>
<path d="M110.31 249.8 L112 249.12 L114.47 248.14 L117.27 247.05 L120.41 245.93 L123.89 244.71 L127.29 243.37 L130.45 241.93 L133.52 240.37 L136.53 238.73 L139.42 237 L142.24 235.18 L145.23 233.32 L148.6 231.41 L152.13 229.46 L155.41 227.51 L158.54 225.39 L161.42 223.28 L163.42 221.8" fill="none" stroke="#dbdbdb" stroke-width="0.95"/>
<path d="M42.74 268.18 L45.34 266.63 L49.07 264.41 L52.98 262.1 L56.85 259.89 L60.9 257.59 L64.84 255.25 L68.49 252.87 L72.03 250.44 L75.64 248.02 L79.42 245.61 L83.27 243.21 L87.07 240.87 L90.81 238.6 L94.5 236.39 L98 234.27 L101.53 232.09 L104.87 230 L107.19 228.55" fill="none" stroke="#898989" stroke-width="1.91"/>
<path d="M42.27 267.7 L44.86 266.16 L48.59 263.93 L52.5 261.63 L56.37 259.41 L60.43 257.12 L64.36 254.78 L68.02 252.39 L71.56 249.96 L75.17 247.54 L78.95 245.13 L82.8 242.73 L86.59 240.4 L90.33 238.12 L94.02 235.91 L97.52 233.8 L101.05 231.61 L104.39 229.52 L106.71 228.07" fill="none" stroke="#c3c3c3" stroke-width="0.72"/>
<path d="M106.45 256.39 L109.6 254.08 L114.05 250.79 L118.25 247.5 L121.52 244.54 L124.54 241.59 L127.75 238.7 L131.43 235.87 L135.32 233.11 L139.05 230.44 L142.51 227.88 L145.82 225.41 L149.01 223.06 L151.96 220.82 L154.79 218.69 L157.86 216.65 L161.75 214.53 L165.88 212.5 L168.79 211.09" fill="none" stroke="#888888" stroke-width="1.44"/>
<path d="M106.81 256.75 L109.96 254.44 L114.41 251.15 L118.61 247.86 L121.88 244.9 L124.9 241.95 L128.11 239.06 L131.79 236.23 L135.68 233.47 L139.41 230.8 L142.87 228.24 L146.18 225.77 L149.37 223.42 L152.32 221.18 L155.15 219.05 L158.21 217.01 L162.11 214.89 L166.24 212.86 L169.15 211.45" fill="none" stroke="#dbdbdb" stroke-width="0.84"/>
<path d="M112.25 244.97 L116.05 243 L121.45 240.21 L126.73 237.51 L131.28 235.22 L135.7 233.02 L140.08 230.92 L144.5 228.95 L148.88 227.09 L153.07 225.32 L156.88 223.65 L160.52 222.07 L164.38 220.56 L168.67 219.1 L173.19 217.7 L177.77 216.31 L182.92 214.75 L188.13 213.2 L191.79 212.11" fill="none" stroke="#5d5d5d" stroke-width="2.22"/>
<path d="M112.81 245.52 L116.61 243.56 L122.01 240.76 L127.29 238.07 L131.84 235.77 L136.26 233.57 L140.64 231.48 L145.06 229.51 L149.43 227.64 L153.62 225.87 L157.44 224.2 L161.07 222.63 L164.93 221.11 L169.22 219.66 L173.74 218.26 L178.33 216.86 L183.47 215.31 L188.69 213.75 L192.35 212.66" fill="none" stroke="#c5c5c5" stroke-width="0.73"/>
<path d="M71 217.5 L99 217.5 L71 239.5 Z" fill="#0c0c0c" opacity="0.7"/>
<path d="M71 266.8 L71 252.8 L81 266.8 Z" fill="#0c0c0c" opacity="0.5"/>
<text x="113.5" y="262.3" font-family="'Liberation Sans', Arial, sans-serif" font-size="5" font-weight="bold" fill="#fff">50 μm</text>
<rect x="114" y="264" width="13" height="0.9" fill="#fff"/>
</g>
<text x="83.6" y="72.5" font-family="'Liberation Serif', 'Times New Roman', serif" font-size="12.5" fill="#111" text-anchor="end" font-weight="bold" >Raw</text>
<text x="83.6" y="141.7" font-family="'Liberation Serif', 'Times New Roman', serif" font-size="12.5" fill="#111" text-anchor="end" font-weight="bold" >300 °C</text>
<text x="83.6" y="211.3" font-family="'Liberation Serif', 'Times New Roman', serif" font-size="12.5" fill="#111" text-anchor="end" font-weight="bold" >400 °C</text>
<text x="83.6" y="280.4" font-family="'Liberation Serif', 'Times New Roman', serif" font-size="12.5" fill="#111" text-anchor="end" font-weight="bold" >600 °C</text>
<rect x="176.5" y="9.8" width="136.5" height="112.4" fill="none" stroke="#8c8c8c" stroke-width="0.9"/>
<line x1="176.5" y1="117.1" x2="178.7" y2="117.1" stroke="#777" stroke-width="0.7"/>
<text x="175.3" y="120" font-family="'Liberation Serif', 'Times New Roman', serif" font-size="7.3" fill="#333" text-anchor="end" font-weight="normal" letter-spacing="0.0" stroke="#333" stroke-width="0.15">0</text>
<line x1="176.5" y1="106.35" x2="177.8" y2="106.35" stroke="#777" stroke-width="0.7"/>
<line x1="176.5" y1="95.6" x2="178.7" y2="95.6" stroke="#777" stroke-width="0.7"/>
<text x="175.3" y="98.5" font-family="'Liberation Serif', 'Times New Roman', serif" font-size="7.3" fill="#333" text-anchor="end" font-weight="normal" letter-spacing="0.0" stroke="#333" stroke-width="0.15">20</text>
<line x1="176.5" y1="84.85" x2="177.8" y2="84.85" stroke="#777" stroke-width="0.7"/>
<line x1="176.5" y1="74.1" x2="178.7" y2="74.1" stroke="#777" stroke-width="0.7"/>
<text x="175.3" y="77" font-family="'Liberation Serif', 'Times New Roman', serif" font-size="7.3" fill="#333" text-anchor="end" font-weight="normal" letter-spacing="0.0" stroke="#333" stroke-width="0.15">40</text>
<line x1="176.5" y1="63.35" x2="177.8" y2="63.35" stroke="#777" stroke-width="0.7"/>
<line x1="176.5" y1="52.6" x2="178.7" y2="52.6" stroke="#777" stroke-width="0.7"/>
<text x="175.3" y="55.5" font-family="'Liberation Serif', 'Times New Roman', serif" font-size="7.3" fill="#333" text-anchor="end" font-weight="normal" letter-spacing="0.0" stroke="#333" stroke-width="0.15">60</text>
<line x1="176.5" y1="41.85" x2="177.8" y2="41.85" stroke="#777" stroke-width="0.7"/>
<line x1="176.5" y1="31.1" x2="178.7" y2="31.1" stroke="#777" stroke-width="0.7"/>
<text x="175.3" y="34" font-family="'Liberation Serif', 'Times New Roman', serif" font-size="7.3" fill="#333" text-anchor="end" font-weight="normal" letter-spacing="0.0" stroke="#333" stroke-width="0.15">80</text>
<line x1="176.5" y1="20.35" x2="177.8" y2="20.35" stroke="#777" stroke-width="0.7"/>
<line x1="176.5" y1="9.6" x2="178.7" y2="9.6" stroke="#777" stroke-width="0.7"/>
<text x="175.3" y="12.5" font-family="'Liberation Serif', 'Times New Roman', serif" font-size="7.3" fill="#333" text-anchor="end" font-weight="normal" letter-spacing="0.0" stroke="#333" stroke-width="0.15">100</text>
<line x1="179.4" y1="122.2" x2="179.4" y2="120.9" stroke="#777" stroke-width="0.7"/>
<line x1="193.6" y1="122.2" x2="193.6" y2="120" stroke="#777" stroke-width="0.7"/>
<text x="193.6" y="131.1" font-family="'Liberation Serif', 'Times New Roman', serif" font-size="7.3" fill="#333" text-anchor="middle" font-weight="normal" letter-spacing="0.0" stroke="#333" stroke-width="0.15">500</text>
<line x1="207.8" y1="122.2" x2="207.8" y2="120.9" stroke="#777" stroke-width="0.7"/>
<line x1="222" y1="122.2" x2="222" y2="120" stroke="#777" stroke-width="0.7"/>
<text x="222" y="131.1" font-family="'Liberation Serif', 'Times New Roman', serif" font-size="7.3" fill="#333" text-anchor="middle" font-weight="normal" letter-spacing="0.0" stroke="#333" stroke-width="0.15">1000</text>
<line x1="236.2" y1="122.2" x2="236.2" y2="120.9" stroke="#777" stroke-width="0.7"/>
<line x1="250.4" y1="122.2" x2="250.4" y2="120" stroke="#777" stroke-width="0.7"/>
<text x="250.4" y="131.1" font-family="'Liberation Serif', 'Times New Roman', serif" font-size="7.3" fill="#333" text-anchor="middle" font-weight="normal" letter-spacing="0.0" stroke="#333" stroke-width="0.15">1500</text>
<line x1="264.6" y1="122.2" x2="264.6" y2="120.9" stroke="#777" stroke-width="0.7"/>
<line x1="278.8" y1="122.2" x2="278.8" y2="120" stroke="#777" stroke-width="0.7"/>
<text x="278.8" y="131.1" font-family="'Liberation Serif', 'Times New Roman', serif" font-size="7.3" fill="#333" text-anchor="middle" font-weight="normal" letter-spacing="0.0" stroke="#333" stroke-width="0.15">2000</text>
<line x1="293" y1="122.2" x2="293" y2="120.9" stroke="#777" stroke-width="0.7"/>
<line x1="307.2" y1="122.2" x2="307.2" y2="120" stroke="#777" stroke-width="0.7"/>
<text x="307.2" y="131.1" font-family="'Liberation Serif', 'Times New Roman', serif" font-size="7.3" fill="#333" text-anchor="middle" font-weight="normal" letter-spacing="0.0" stroke="#333" stroke-width="0.15">2500</text>
<text x="244.2" y="147" font-family="'Liberation Serif', 'Times New Roman', serif" font-size="12.3" fill="#222" text-anchor="middle" font-weight="normal" stroke="#222" stroke-width="0.3">Wavelength (nm)</text>
<text x="0" y="0" font-family="'Liberation Serif', 'Times New Roman', serif" font-size="12.55" fill="#222" stroke="#222" stroke-width="0.3" text-anchor="middle" transform="translate(161.9 66.1) rotate(-90)">Absorbance (%)</text>
<text x="146.3" y="12.9" font-family="'Liberation Sans', Arial, sans-serif" font-size="12.6" fill="#222" text-anchor="start" font-weight="normal" letter-spacing="0.8" stroke="#222" stroke-width="0.3">(b)</text>
<path d="M182.5 12.82 L183.1 13.01 L183.7 13.03 L184.3 12.96 L184.9 13.04 L185.5 13.07 L186.1 13.15 L186.7 13.21 L187.3 13.1 L187.9 13.12 L188.5 13.33 L189.1 13.28 L189.7 13.39 L190.3 13.26 L190.9 13.39 L191.5 13.49 L192.1 13.42 L192.7 13.6 L193.3 13.63 L193.9 13.48 L194.5 13.52 L195.1 13.66 L195.7 13.78 L196.3 13.7 L196.9 13.7 L197.5 13.78 L198.1 13.73 L198.7 13.81 L199.3 13.89 L199.9 13.94 L200.5 13.91 L201.1 13.95 L201.7 13.98 L202.3 14.07 L202.9 14.07 L203.5 14.04 L204.1 14.25 L204.7 14.23 L205.3 14.28 L205.9 14.22 L206.5 14.43 L207.1 14.43 L207.7 14.31 L208.3 14.39 L208.9 14.5 L209.5 14.54 L210.1 14.62 L210.7 14.54 L211.3 14.66 L211.9 14.66 L212.5 14.62 L213.1 14.71 L213.7 14.81 L214.3 14.84 L214.9 14.79 L215.5 14.85 L216.1 14.75 L216.7 14.83 L217.3 14.99 L217.9 14.94 L218.5 14.91 L219.1 15.03 L219.7 15.1 L220.3 15.13 L220.9 15.09 L221.5 15.14 L222.1 15.18 L222.7 15.28 L223.3 15.25 L223.9 15.25 L224.5 15.31 L225.1 15.23 L225.7 15.26 L226.3 15.45 L226.9 15.55 L227.5 15.49 L228.1 15.47 L228.7 15.44 L229.3 15.56 L229.9 15.71 L230.5 15.69 L231.1 15.66 L231.7 15.77 L232.3 15.64 L232.9 15.74 L233.5 15.89 L234.1 15.82 L234.7 15.81 L235.3 15.79 L235.9 15.9 L236.5 16.04 L237.1 15.8 L237.7 16.05 L238.3 16.09 L238.9 16.14 L239.5 16.12 L240.1 16.17 L240.7 16.12 L241.3 16.16 L241.9 16.14 L242.5 16.06 L243.1 16.33 L243.7 16.27 L244.3 16.18 L244.9 16.3 L245.5 16.32 L246.1 16.31 L246.7 16.33 L247.3 16.42 L247.9 16.48 L248.5 16.5 L249.1 16.47 L249.7 16.35 L250.3 16.45 L250.9 16.45 L251.5 16.62 L252.1 16.74 L252.7 16.75 L253.3 16.77 L253.9 16.81 L254.5 16.62 L255.1 16.87 L255.7 16.83 L256.3 16.63 L256.9 16.63 L257.5 16.65 L258.1 16.96 L258.7 16.79 L259.3 16.75 L259.9 16.98 L260.5 16.89 L261.1 16.8 L261.7 16.86 L262.3 17.04 L262.9 16.91 L263.5 16.97 L264.1 17.19 L264.7 17.1 L265.3 17.06 L265.9 17.15 L266.5 16.96 L267.1 17.15 L267.7 17.19 L268.3 17.1 L268.9 17.08 L269.5 17.49 L270.1 17.32 L270.7 17.19 L271.3 17.41 L271.9 17.55 L272.5 17.15 L273.1 17.17 L273.7 17.25 L274.3 17.58 L274.9 17.3 L275.5 17.62 L276.1 17.63 L276.7 17.57 L277.3 17.41 L277.9 17.87 L278.5 17.78 L279.1 17.64 L279.7 17.48 L280.3 17.76 L280.9 17.62 L281.5 17.76 L282.1 17.61 L282.7 17.83 L283.3 17.48 L283.9 17.65 L284.5 18.12 L285.1 18.08 L285.7 17.71 L286.3 18.11 L286.9 17.75 L287.5 18.21 L288.1 18.1 L288.7 17.88 L289.3 17.77 L289.9 17.61 L290.5 18.28 L291.1 17.66 L291.7 18.28 L292.3 18.41 L292.9 18.13 L293.5 17.82 L294.1 18.4 L294.7 18.51 L295.3 18.31 L295.9 18.17 L296.5 18.08 L297.1 18.07 L297.7 17.96 L298.3 18.39 L298.9 17.98 L299.5 18.42 L300.1 18.29 L300.7 18.65 L301.3 17.87 L301.9 18.18 L302.5 18.63 L303.1 18.1 L303.7 18.73 L304.3 18.26 L304.9 18.62 L305.5 18.94 L306.1 18.7 L306.7 18.14" fill="none" stroke="#33cc33" stroke-width="0.75" stroke-linejoin="round" />
<path d="M182.5 12.8 L183.1 12.83 L183.7 12.68 L184.3 12.72 L184.9 12.91 L185.5 12.92 L186.1 12.94 L186.7 12.9 L187.3 13 L187.9 13.03 L188.5 13.06 L189.1 13.01 L189.7 13.1 L190.3 13.12 L190.9 13.23 L191.5 13.32 L192.1 13.34 L192.7 13.29 L193.3 13.31 L193.9 13.3 L194.5 13.29 L195.1 13.32 L195.7 13.45 L196.3 13.45 L196.9 13.5 L197.5 13.64 L198.1 13.6 L198.7 13.64 L199.3 13.6 L199.9 13.59 L200.5 13.69 L201.1 13.68 L201.7 13.8 L202.3 13.93 L202.9 13.9 L203.5 13.83 L204.1 14.01 L204.7 14.03 L205.3 14.05 L205.9 14.12 L206.5 14.12 L207.1 14.16 L207.7 14.1 L208.3 14.27 L208.9 14.3 L209.5 14.16 L210.1 14.32 L210.7 14.34 L211.3 14.32 L211.9 14.37 L212.5 14.39 L213.1 14.52 L213.7 14.46 L214.3 14.57 L214.9 14.49 L215.5 14.64 L216.1 14.68 L216.7 14.61 L217.3 14.67 L217.9 14.78 L218.5 14.77 L219.1 14.75 L219.7 14.72 L220.3 14.77 L220.9 14.89 L221.5 14.8 L222.1 15.01 L222.7 14.89 L223.3 15.07 L223.9 14.96 L224.5 15.15 L225.1 15.12 L225.7 15.1 L226.3 15.13 L226.9 15.2 L227.5 15.21 L228.1 15.18 L228.7 15.18 L229.3 15.29 L229.9 15.43 L230.5 15.38 L231.1 15.27 L231.7 15.49 L232.3 15.5 L232.9 15.57 L233.5 15.41 L234.1 15.59 L234.7 15.44 L235.3 15.63 L235.9 15.55 L236.5 15.57 L237.1 15.78 L237.7 15.59 L238.3 15.74 L238.9 15.87 L239.5 15.72 L240.1 15.74 L240.7 15.96 L241.3 15.86 L241.9 15.97 L242.5 15.8 L243.1 15.92 L243.7 15.89 L244.3 16.08 L244.9 15.92 L245.5 16.23 L246.1 15.96 L246.7 16.21 L247.3 16.01 L247.9 16.11 L248.5 16.33 L249.1 16.13 L249.7 16.17 L250.3 16.37 L250.9 16.29 L251.5 16.2 L252.1 16.56 L252.7 16.29 L253.3 16.27 L253.9 16.41 L254.5 16.54 L255.1 16.61 L255.7 16.4 L256.3 16.51 L256.9 16.42 L257.5 16.61 L258.1 16.76 L258.7 16.78 L259.3 16.87 L259.9 16.84 L260.5 16.91 L261.1 16.87 L261.7 16.8 L262.3 16.72 L262.9 16.93 L263.5 16.81 L264.1 16.74 L264.7 16.92 L265.3 17.14 L265.9 16.82 L266.5 17.06 L267.1 16.99 L267.7 17.07 L268.3 16.92 L268.9 17.34 L269.5 17.02 L270.1 17.22 L270.7 17.15 L271.3 16.97 L271.9 17.27 L272.5 17.08 L273.1 17.05 L273.7 17.06 L274.3 17.15 L274.9 17.14 L275.5 17.46 L276.1 17.42 L276.7 17.71 L277.3 17.71 L277.9 17.77 L278.5 17.35 L279.1 17.5 L279.7 17.4 L280.3 17.63 L280.9 17.68 L281.5 17.81 L282.1 17.78 L282.7 17.52 L283.3 17.65 L283.9 17.74 L284.5 17.41 L285.1 17.45 L285.7 17.73 L286.3 17.54 L286.9 17.99 L287.5 17.67 L288.1 17.59 L288.7 17.67 L289.3 17.73 L289.9 17.74 L290.5 17.99 L291.1 17.97 L291.7 17.87 L292.3 18.15 L292.9 17.84 L293.5 18.41 L294.1 18.49 L294.7 18.32 L295.3 18.1 L295.9 18.19 L296.5 18.27 L297.1 17.84 L297.7 18.17 L298.3 18.29 L298.9 17.88 L299.5 18.3 L300.1 18.73 L300.7 18.25 L301.3 18.73 L301.9 18.01 L302.5 17.69 L303.1 19.16 L303.7 17.55 L304.3 18.3 L304.9 17.96 L305.5 17.29 L306.1 18.67 L306.7 17.65" fill="none" stroke="#33ffff" stroke-width="0.75" stroke-linejoin="round" />
<path d="M182.5 12.54 L183.1 12.64 L183.7 12.62 L184.3 12.71 L184.9 12.74 L185.5 12.63 L186.1 12.65 L186.7 12.87 L187.3 12.76 L187.9 12.78 L188.5 12.99 L189.1 12.89 L189.7 13.01 L190.3 12.95 L190.9 13.01 L191.5 12.92 L192.1 13.07 L192.7 13.15 L193.3 13.09 L193.9 13.17 L194.5 13.18 L195.1 13.06 L195.7 13.26 L196.3 13.24 L196.9 13.2 L197.5 13.16 L198.1 13.39 L198.7 13.32 L199.3 13.41 L199.9 13.47 L200.5 13.46 L201.1 13.54 L201.7 13.44 L202.3 13.56 L202.9 13.5 L203.5 13.65 L204.1 13.66 L204.7 13.5 L205.3 13.53 L205.9 13.58 L206.5 13.79 L207.1 13.69 L207.7 13.76 L208.3 13.71 L208.9 13.78 L209.5 13.78 L210.1 13.8 L210.7 13.88 L211.3 13.91 L211.9 14.02 L212.5 13.99 L213.1 14.08 L213.7 14.08 L214.3 14.14 L214.9 14.09 L215.5 13.98 L216.1 14.19 L216.7 14.24 L217.3 14.25 L217.9 14.19 L218.5 14.26 L219.1 14.15 L219.7 14.34 L220.3 14.3 L220.9 14.25 L221.5 14.21 L222.1 14.45 L222.7 14.51 L223.3 14.29 L223.9 14.52 L224.5 14.43 L225.1 14.39 L225.7 14.45 L226.3 14.61 L226.9 14.67 L227.5 14.46 L228.1 14.64 L228.7 14.5 L229.3 14.72 L229.9 14.64 L230.5 14.82 L231.1 14.88 L231.7 14.76 L232.3 14.94 L232.9 14.75 L233.5 14.71 L234.1 14.89 L234.7 14.74 L235.3 14.82 L235.9 14.91 L236.5 15 L237.1 14.88 L237.7 14.86 L238.3 15.15 L238.9 15 L239.5 15.24 L240.1 15.24 L240.7 15.09 L241.3 15.14 L241.9 15.19 L242.5 15.26 L243.1 15.26 L243.7 15.27 L244.3 15.32 L244.9 15.46 L245.5 15.33 L246.1 15.32 L246.7 15.46 L247.3 15.3 L247.9 15.35 L248.5 15.63 L249.1 15.48 L249.7 15.51 L250.3 15.32 L250.9 15.51 L251.5 15.6 L252.1 15.39 L252.7 15.66 L253.3 15.69 L253.9 15.47 L254.5 15.74 L255.1 15.69 L255.7 15.81 L256.3 15.69 L256.9 15.87 L257.5 15.9 L258.1 15.6 L258.7 15.64 L259.3 15.95 L259.9 16.11 L260.5 15.79 L261.1 15.91 L261.7 16 L262.3 15.89 L262.9 15.94 L263.5 15.93 L264.1 15.98 L264.7 16.12 L265.3 15.99 L265.9 16.05 L266.5 16.28 L267.1 15.91 L267.7 16.22 L268.3 16.34 L268.9 16.12 L269.5 16.09 L270.1 16.45 L270.7 16.14 L271.3 16.13 L271.9 16.3 L272.5 16.48 L273.1 16.14 L273.7 16.3 L274.3 16.32 L274.9 16.66 L275.5 16.43 L276.1 16.72 L276.7 16.3 L277.3 16.43 L277.9 16.66 L278.5 16.84 L279.1 16.57 L279.7 16.43 L280.3 16.38 L280.9 16.69 L281.5 16.47 L282.1 16.94 L282.7 16.98 L283.3 16.52 L283.9 16.61 L284.5 17.03 L285.1 16.93 L285.7 17.08 L286.3 16.74 L286.9 16.59 L287.5 16.74 L288.1 17.17 L288.7 16.76 L289.3 16.84 L289.9 16.92 L290.5 16.94 L291.1 16.95 L291.7 17.43 L292.3 16.77 L292.9 16.65 L293.5 17.52 L294.1 17.49 L294.7 17.62 L295.3 17.12 L295.9 17.64 L296.5 17.64 L297.1 16.97 L297.7 17.51 L298.3 17.63 L298.9 17.35 L299.5 17.09 L300.1 16.75 L300.7 17.21 L301.3 17.21 L301.9 18.1 L302.5 18.46 L303.1 18.18 L303.7 16.88 L304.3 16.61 L304.9 17.91 L305.5 17.84 L306.1 17.67 L306.7 17.31" fill="none" stroke="#ff33ff" stroke-width="0.75" stroke-linejoin="round" />
<path d="M182.5 12.93 L183.1 12.93 L183.7 13.05 L184.3 13.02 L184.9 13.04 L185.5 13.17 L186.1 13.34 L186.7 13.35 L187.3 13.38 L187.9 13.27 L188.5 13.39 L189.1 13.36 L189.7 13.37 L190.3 13.39 L190.9 13.46 L191.5 13.69 L192.1 13.7 L192.7 13.73 L193.3 13.77 L193.9 13.64 L194.5 13.71 L195.1 13.84 L195.7 13.9 L196.3 13.97 L196.9 14.02 L197.5 13.84 L198.1 14.02 L198.7 14.08 L199.3 14.07 L199.9 14.02 L200.5 14.14 L201.1 14.07 L201.7 14.34 L202.3 14.36 L202.9 14.31 L203.5 14.28 L204.1 14.48 L204.7 14.42 L205.3 14.55 L205.9 14.58 L206.5 14.52 L207.1 14.53 L207.7 14.62 L208.3 14.61 L208.9 14.57 L209.5 14.65 L210.1 14.82 L210.7 14.64 L211.3 14.68 L211.9 14.88 L212.5 14.82 L213.1 14.93 L213.7 14.95 L214.3 14.95 L214.9 15.17 L215.5 14.97 L216.1 15.07 L216.7 15.05 L217.3 15.21 L217.9 15.14 L218.5 15.2 L219.1 15.35 L219.7 15.26 L220.3 15.36 L220.9 15.5 L221.5 15.3 L222.1 15.32 L222.7 15.4 L223.3 15.6 L223.9 15.59 L224.5 15.51 L225.1 15.57 L225.7 15.56 L226.3 15.68 L226.9 15.58 L227.5 15.83 L228.1 15.92 L228.7 15.98 L229.3 15.94 L229.9 16.05 L230.5 15.77 L231.1 15.89 L231.7 16.15 L232.3 16.12 L232.9 16.03 L233.5 16.25 L234.1 16.17 L234.7 16.27 L235.3 16.12 L235.9 16.12 L236.5 16.24 L237.1 16.16 L237.7 16.28 L238.3 16.53 L238.9 16.33 L239.5 16.24 L240.1 16.28 L240.7 16.36 L241.3 16.62 L241.9 16.49 L242.5 16.5 L243.1 16.45 L243.7 16.83 L244.3 16.64 L244.9 16.58 L245.5 16.55 L246.1 16.58 L246.7 16.66 L247.3 16.9 L247.9 16.71 L248.5 16.69 L249.1 16.91 L249.7 16.84 L250.3 17.2 L250.9 16.84 L251.5 17.05 L252.1 17.19 L252.7 17.05 L253.3 17.35 L253.9 17.14 L254.5 17.06 L255.1 17.17 L255.7 17.01 L256.3 17.23 L256.9 17.17 L257.5 17.52 L258.1 17.52 L258.7 17.38 L259.3 17.16 L259.9 17.31 L260.5 17.33 L261.1 17.33 L261.7 17.37 L262.3 17.75 L262.9 17.38 L263.5 17.35 L264.1 17.88 L264.7 17.7 L265.3 17.97 L265.9 17.65 L266.5 17.98 L267.1 17.86 L267.7 17.97 L268.3 17.97 L268.9 17.84 L269.5 17.61 L270.1 17.71 L270.7 18.17 L271.3 18.21 L271.9 18.26 L272.5 17.89 L273.1 18.14 L273.7 18.26 L274.3 18.18 L274.9 18.33 L275.5 18.15 L276.1 18.27 L276.7 18.32 L277.3 18.03 L277.9 18.55 L278.5 18.61 L279.1 17.95 L279.7 18.68 L280.3 18.7 L280.9 18.49 L281.5 18.01 L282.1 18.73 L282.7 18.12 L283.3 18.85 L283.9 18.62 L284.5 18.13 L285.1 18.24 L285.7 18.67 L286.3 18.64 L286.9 18.83 L287.5 19.02 L288.1 18.39 L288.7 18.21 L289.3 19.1 L289.9 18.26 L290.5 19.11 L291.1 18.39 L291.7 19.1 L292.3 19.1 L292.9 19.23 L293.5 18.92 L294.1 19.29 L294.7 18.6 L295.3 19.12 L295.9 18.78 L296.5 19.41 L297.1 19.31 L297.7 19 L298.3 19.08 L298.9 18.4 L299.5 19.16 L300.1 19.66 L300.7 18.43 L301.3 19.72 L301.9 18.45 L302.5 19.61 L303.1 19.23 L303.7 20.06 L304.3 18.2 L304.9 20.85 L305.5 17.63 L306.1 21.39 L306.7 19.49" fill="none" stroke="#4646ff" stroke-width="0.75" stroke-linejoin="round" />
<path d="M182.5 13.2 L185.82 13.21 L190.62 13.21 L195.74 13.24 L200 13.3 L203.12 13.4 L205.72 13.52 L207.96 13.68 L210 13.9 L211.78 14.14 L213.25 14.42 L214.59 14.78 L216 15.3 L217.5 15.99 L219 16.81 L220.5 17.76 L222 18.8 L223.5 19.97 L225 21.26 L226.5 22.62 L228 24 L229.5 25.43 L231 26.92 L232.5 28.41 L234 29.8 L235.52 31.09 L237.06 32.31 L238.57 33.48 L240 34.6 L241.32 35.67 L242.56 36.69 L243.77 37.67 L245 38.6 L246.25 39.46 L247.5 40.27 L248.75 41.06 L250 41.9 L251.25 42.8 L252.5 43.73 L253.75 44.67 L255 45.6 L256.27 46.53 L257.56 47.48 L258.82 48.4 L260 49.3 L261.08 50.11 L262.1 50.87 L263.07 51.66 L264 52.6 L264.9 53.79 L265.76 55.16 L266.59 56.49 L267.4 57.6 L268.23 58.49 L269.06 59.24 L269.83 59.78 L270.5 60 L271.03 59.84 L271.45 59.37 L271.82 58.69 L272.2 57.87 L272.59 56.72 L272.96 55.19 L273.33 54.48" fill="none" stroke="#ff2a2a" stroke-width="0.8" stroke-linejoin="round" />
<path d="M273.33 54.48 L273.7 53.25 L274.05 53.76 L274.37 54.72 L274.74 55.11 L275.2 56.44 L275.8 57.58 L276.51 58.46 L277.24 59.96 L277.9 61.24 L278.44 61.89 L278.92 62.78 L279.41 62.89 L280 63.22 L280.7 63.07 L281.46 63.03 L282.3 62.86 L283.2 62.16 L284.2 61.76 L285.29 60.84 L286.41 60.52 L287.5 59.72 L288.55 59.89 L289.6 60.45 L290.65 60.79 L291.7 60.65 L292.79 60.09 L293.91 59.67 L295 59.09 L296 58.85 L296.88 59.35 L297.68 59.31 L298.43 60.18 L299.2 60.27 L299.98 59.4 L300.75 59.1 L301.52 58.54 L302.3 57.57 L303.13 57.19 L303.99 56.81 L304.8 55.52 L305.5 55.17 L306.07 54.13 L306.55 53.73 L306.93 53.32 L307.2 52.39" fill="none" stroke="#ff1010" stroke-width="1.2" stroke-linejoin="round" />
<path d="M182.3 97.5 L183.14 100.66 L184.33 104.87 L185.5 107 L186.49 104.77 L187.45 100.46 L188.5 97.8 L189.62 98.66 L190.83 101.17 L192.3 103.5 L194.23 104.98 L196.43 106.27 L198.5 107.5 L200.26 108.78 L201.88 110.01 L203.5 111 L205.17 111.66 L206.83 112.08 L208.5 112.4 L210.21 112.71 L211.92 112.93 L213.5 112.9 L214.81 112.57 L215.99 111.99 L217.3 111.2 L218.93 109.94 L220.69 108.48 L222.3 107.6 L223.67 107.77 L224.9 108.52 L226 109.3 L226.92 110.26 L227.71 111.25 L228.5 111.2 L229.31 109.6 L230.13 106.97 L231 103.8 L231.95 99.39 L232.96 94.43 L234 91.5 L235.08 92.24 L236.2 95.01 L237.3 97.5 L238.38 99.48 L239.45 101.19 L240.5 101 L241.53 97.98 L242.54 93.07 L243.5 87.5 L244.41 81.13 L245.26 74.09 L246 68 L246.56 63.48 L247 59.91 L247.5 57 L248.04 54.66 L248.64 52.99 L249.5 52 L250.79 51.64 L252.33 51.97 L253.8 53.2 L255.12 55.92 L256.38 59.54 L257.5 62.5 L258.42 64.36 L259.21 65.56 L260 65.8 L260.79 64.53 L261.58 62.3 L262.5 60.5 L263.66 59.55 L264.96 59.02 L266.2 59 L267.34 59.73 L268.43 60.96 L269.4 62.1 L270.25 63.38 L270.99 64.56 L271.6 64.3 L272.02 61.57 L272.3 57.4 L272.6 53.6 L272.94 50.75 L273.3 48.27 L273.7 46.2 L274.18 44.36 L274.71 42.93 L275.2 42.5 L275.57 43.97 L275.91 46.45 L276.4 47.8 L277.17 47 L278.09 45.09 L279 43 L279.87 40.9 L280.73 38.63 L281.5 36.7 L282.13 35.27 L282.66 34.19 L283.2 33.5 L283.75 33.24 L284.3 33.38 L284.9 33.9 L285.55 34.82 L286.25 36.12 L287 37.7 L287.85 39.85 L288.75 42.27 L289.6 44 L290.34 44.7 L291.02 44.7 L291.7 44 L292.41 42.31 L293.13 39.91 L293.8 37.7 L294.38 35.94 L294.91 34.36 L295.5 33 L296.2 31.8 L296.96 30.81 L297.7 30.3 L298.41 30.5 L299.1 31.17 L299.8 31.8 L300.5 32.39 L301.2 32.94 L301.9 33 L302.62 32.17 L303.34 30.83 L304 29.7 L304.56 29.13 L305.05 28.76 L305.5 28.2 L305.91 27.28 L306.29 26.17 L306.6 25 L306.86 23.64 L307.06 22.21 L307.2 21.2" fill="none" stroke="#555555" stroke-width="0.8" stroke-linejoin="round" />
<text x="183" y="35.4" font-family="'Liberation Sans', Arial, sans-serif" font-size="7" fill="#333" text-anchor="start" font-weight="normal" >H.T. temp. (°C)</text>
<line x1="183.6" y1="41.5" x2="199.3" y2="41.5" stroke="#555555" stroke-width="0.75"/>
<text x="201.2" y="44" font-family="'Liberation Sans', Arial, sans-serif" font-size="7" fill="#333" text-anchor="start" font-weight="normal" >Bare</text>
<line x1="183.6" y1="50.4" x2="199.3" y2="50.4" stroke="#ff2a2a" stroke-width="0.75"/>
<text x="201.2" y="52.9" font-family="'Liberation Sans', Arial, sans-serif" font-size="7" fill="#333" text-anchor="start" font-weight="normal" >300</text>
<line x1="183.6" y1="59.2" x2="199.3" y2="59.2" stroke="#33cc33" stroke-width="0.75"/>
<text x="201.2" y="61.7" font-family="'Liberation Sans', Arial, sans-serif" font-size="7" fill="#333" text-anchor="start" font-weight="normal" >400</text>
<line x1="183.6" y1="68" x2="199.3" y2="68" stroke="#4646ff" stroke-width="0.75"/>
<text x="201.2" y="70.5" font-family="'Liberation Sans', Arial, sans-serif" font-size="7" fill="#333" text-anchor="start" font-weight="normal" >600</text>
<line x1="183.6" y1="76.6" x2="199.3" y2="76.6" stroke="#33ffff" stroke-width="0.75"/>
<text x="201.2" y="79.1" font-family="'Liberation Sans', Arial, sans-serif" font-size="7" fill="#333" text-anchor="start" font-weight="normal" >800</text>
<line x1="183.6" y1="85.1" x2="199.3" y2="85.1" stroke="#ff33ff" stroke-width="0.75"/>
<text x="201.2" y="87.6" font-family="'Liberation Sans', Arial, sans-serif" font-size="7" fill="#333" text-anchor="start" font-weight="normal" >1000</text>
<rect x="177" y="150.7" width="136" height="112.5" fill="none" stroke="#8c8c8c" stroke-width="0.9"/>
<line x1="177" y1="257.9" x2="179.2" y2="257.9" stroke="#777" stroke-width="0.7"/>
<text x="174.8" y="261.1" font-family="'Liberation Sans', Arial, sans-serif" font-size="7.2" fill="#333" text-anchor="end" font-weight="normal" letter-spacing="0.4" stroke="#333" stroke-width="0.15">0</text>
<line x1="177" y1="247.16" x2="178.3" y2="247.16" stroke="#777" stroke-width="0.7"/>
<line x1="177" y1="236.43" x2="179.2" y2="236.43" stroke="#777" stroke-width="0.7"/>
<text x="174.8" y="239.63" font-family="'Liberation Sans', Arial, sans-serif" font-size="7.2" fill="#333" text-anchor="end" font-weight="normal" letter-spacing="0.4" stroke="#333" stroke-width="0.15">20</text>
<line x1="177" y1="225.69" x2="178.3" y2="225.69" stroke="#777" stroke-width="0.7"/>
<line x1="177" y1="214.96" x2="179.2" y2="214.96" stroke="#777" stroke-width="0.7"/>
<text x="174.8" y="218.16" font-family="'Liberation Sans', Arial, sans-serif" font-size="7.2" fill="#333" text-anchor="end" font-weight="normal" letter-spacing="0.4" stroke="#333" stroke-width="0.15">40</text>
<line x1="177" y1="204.22" x2="178.3" y2="204.22" stroke="#777" stroke-width="0.7"/>
<line x1="177" y1="193.49" x2="179.2" y2="193.49" stroke="#777" stroke-width="0.7"/>
<text x="174.8" y="196.69" font-family="'Liberation Sans', Arial, sans-serif" font-size="7.2" fill="#333" text-anchor="end" font-weight="normal" letter-spacing="0.4" stroke="#333" stroke-width="0.15">60</text>
<line x1="177" y1="182.75" x2="178.3" y2="182.75" stroke="#777" stroke-width="0.7"/>
<line x1="177" y1="172.02" x2="179.2" y2="172.02" stroke="#777" stroke-width="0.7"/>
<text x="174.8" y="175.22" font-family="'Liberation Sans', Arial, sans-serif" font-size="7.2" fill="#333" text-anchor="end" font-weight="normal" letter-spacing="0.4" stroke="#333" stroke-width="0.15">80</text>
<line x1="177" y1="161.28" x2="178.3" y2="161.28" stroke="#777" stroke-width="0.7"/>
<line x1="177" y1="150.55" x2="179.2" y2="150.55" stroke="#777" stroke-width="0.7"/>
<text x="174.8" y="153.75" font-family="'Liberation Sans', Arial, sans-serif" font-size="7.2" fill="#333" text-anchor="end" font-weight="normal" letter-spacing="0.4" stroke="#333" stroke-width="0.15">100</text>
<line x1="180.15" y1="263.2" x2="180.15" y2="261.9" stroke="#777" stroke-width="0.7"/>
<line x1="194.3" y1="263.2" x2="194.3" y2="261" stroke="#777" stroke-width="0.7"/>
<text x="194.5" y="271.6" font-family="'Liberation Sans', Arial, sans-serif" font-size="7.2" fill="#333" text-anchor="middle" font-weight="normal" letter-spacing="0.4" stroke="#333" stroke-width="0.15">500</text>
<line x1="208.45" y1="263.2" x2="208.45" y2="261.9" stroke="#777" stroke-width="0.7"/>
<line x1="222.6" y1="263.2" x2="222.6" y2="261" stroke="#777" stroke-width="0.7"/>
<text x="222.8" y="271.6" font-family="'Liberation Sans', Arial, sans-serif" font-size="7.2" fill="#333" text-anchor="middle" font-weight="normal" letter-spacing="0.4" stroke="#333" stroke-width="0.15">1000</text>
<line x1="236.75" y1="263.2" x2="236.75" y2="261.9" stroke="#777" stroke-width="0.7"/>
<line x1="250.9" y1="263.2" x2="250.9" y2="261" stroke="#777" stroke-width="0.7"/>
<text x="251.1" y="271.6" font-family="'Liberation Sans', Arial, sans-serif" font-size="7.2" fill="#333" text-anchor="middle" font-weight="normal" letter-spacing="0.4" stroke="#333" stroke-width="0.15">1500</text>
<line x1="265.05" y1="263.2" x2="265.05" y2="261.9" stroke="#777" stroke-width="0.7"/>
<line x1="279.2" y1="263.2" x2="279.2" y2="261" stroke="#777" stroke-width="0.7"/>
<text x="279.4" y="271.6" font-family="'Liberation Sans', Arial, sans-serif" font-size="7.2" fill="#333" text-anchor="middle" font-weight="normal" letter-spacing="0.4" stroke="#333" stroke-width="0.15">2000</text>
<line x1="293.35" y1="263.2" x2="293.35" y2="261.9" stroke="#777" stroke-width="0.7"/>
<line x1="307.5" y1="263.2" x2="307.5" y2="261" stroke="#777" stroke-width="0.7"/>
<text x="307.7" y="271.6" font-family="'Liberation Sans', Arial, sans-serif" font-size="7.2" fill="#333" text-anchor="middle" font-weight="normal" letter-spacing="0.4" stroke="#333" stroke-width="0.15">2500</text>
<text x="244.8" y="287.8" font-family="'Liberation Serif', 'Times New Roman', serif" font-size="12.3" fill="#222" text-anchor="middle" font-weight="normal" stroke="#222" stroke-width="0.3">Wavelength (nm)</text>
<text x="0" y="0" font-family="'Liberation Serif', 'Times New Roman', serif" font-size="12.4" fill="#222" stroke="#222" stroke-width="0.3" text-anchor="middle" transform="translate(159.1 203.2) rotate(-90)">Reflectance (%)</text>
<text x="146.4" y="149.2" font-family="'Liberation Sans', Arial, sans-serif" font-size="12.6" fill="#222" text-anchor="start" font-weight="normal" letter-spacing="0.8" stroke="#222" stroke-width="0.3">(c)</text>
<path d="M182.5 254.54 L183.1 254.62 L183.7 254.6 L184.3 254.57 L184.9 254.51 L185.5 254.6 L186.1 254.6 L186.7 254.53 L187.3 254.52 L187.9 254.46 L188.5 254.41 L189.1 254.47 L189.7 254.5 L190.3 254.39 L190.9 254.51 L191.5 254.4 L192.1 254.39 L192.7 254.35 L193.3 254.51 L193.9 254.45 L194.5 254.47 L195.1 254.41 L195.7 254.29 L196.3 254.33 L196.9 254.35 L197.5 254.27 L198.1 254.41 L198.7 254.3 L199.3 254.25 L199.9 254.36 L200.5 254.22 L201.1 254.35 L201.7 254.26 L202.3 254.26 L202.9 254.21 L203.5 254.23 L204.1 254.16 L204.7 254.12 L205.3 254.26 L205.9 254.13 L206.5 254.22 L207.1 254.1 L207.7 254.23 L208.3 254.2 L208.9 254.16 L209.5 254.15 L210.1 254.1 L210.7 254.12 L211.3 253.99 L211.9 254.04 L212.5 254.1 L213.1 253.96 L213.7 254.09 L214.3 254.07 L214.9 253.96 L215.5 253.94 L216.1 253.94 L216.7 253.91 L217.3 254.01 L217.9 253.88 L218.5 253.79 L219.1 253.79 L219.7 253.9 L220.3 253.94 L220.9 253.82 L221.5 253.8 L222.1 253.8 L222.7 253.82 L223.3 253.7 L223.9 253.76 L224.5 253.73 L225.1 253.73 L225.7 253.62 L226.3 253.6 L226.9 253.62 L227.5 253.72 L228.1 253.58 L228.7 253.61 L229.3 253.53 L229.9 253.47 L230.5 253.44 L231.1 253.58 L231.7 253.56 L232.3 253.45 L232.9 253.5 L233.5 253.47 L234.1 253.5 L234.7 253.5 L235.3 253.35 L235.9 253.46 L236.5 253.44 L237.1 253.33 L237.7 253.37 L238.3 253.26 L238.9 253.21 L239.5 253.15 L240.1 253.29 L240.7 253.08 L241.3 253.03 L241.9 253.2 L242.5 253.17 L243.1 253.07 L243.7 253.14 L244.3 252.9 L244.9 252.93 L245.5 252.92 L246.1 252.93 L246.7 252.83 L247.3 252.77 L247.9 252.82 L248.5 252.96 L249.1 252.96 L249.7 252.86 L250.3 252.76 L250.9 252.66 L251.5 252.85 L252.1 252.69 L252.7 252.72 L253.3 252.48 L253.9 252.51 L254.5 252.68 L255.1 252.63 L255.7 252.63 L256.3 252.51 L256.9 252.43 L257.5 252.45 L258.1 252.51 L258.7 252.3 L259.3 252.34 L259.9 252.22 L260.5 252.37 L261.1 252.06 L261.7 252.28 L262.3 252.34 L262.9 251.97 L263.5 252.15 L264.1 252.14 L264.7 252.19 L265.3 252.05 L265.9 251.89 L266.5 251.91 L267.1 252.1 L267.7 252.05 L268.3 251.7 L268.9 251.65 L269.5 251.61 L270.1 251.55 L270.7 251.69 L271.3 251.53 L271.9 251.81 L272.5 251.68 L273.1 251.41 L273.7 251.56 L274.3 251.43 L274.9 251.47 L275.5 251.3 L276.1 251.24 L276.7 251.21 L277.3 251.27 L277.9 251.4 L278.5 251.28 L279.1 250.99 L279.7 251.3 L280.3 251.35 L280.9 251.26 L281.5 251.23 L282.1 250.77 L282.7 250.98 L283.3 250.72 L283.9 251.08 L284.5 250.7 L285.1 250.97 L285.7 250.67 L286.3 250.89 L286.9 250.62 L287.5 250.42 L288.1 250.59 L288.7 250.5 L289.3 250.84 L289.9 250.41 L290.5 250.51 L291.1 250.5 L291.7 250.72 L292.3 250.12 L292.9 250.42 L293.5 250.32 L294.1 250.43 L294.7 250.56 L295.3 250.06 L295.9 250.3 L296.5 250.13 L297.1 250.12 L297.7 249.71 L298.3 250.23 L298.9 249.84 L299.5 250.3 L300.1 249.54 L300.7 250.08 L301.3 249.75 L301.9 249.36 L302.5 249.67 L303.1 249.58 L303.7 249.4 L304.3 249.54 L304.9 249.73 L305.5 249.71 L306.1 249.24 L306.7 249.42" fill="none" stroke="#33cc33" stroke-width="0.75" stroke-linejoin="round" />
<path d="M182.5 254.98 L183.1 254.83 L183.7 254.8 L184.3 254.96 L184.9 254.81 L185.5 254.78 L186.1 254.87 L186.7 254.81 L187.3 254.89 L187.9 254.77 L188.5 254.89 L189.1 254.76 L189.7 254.8 L190.3 254.85 L190.9 254.8 L191.5 254.83 L192.1 254.78 L192.7 254.66 L193.3 254.8 L193.9 254.73 L194.5 254.67 L195.1 254.64 L195.7 254.75 L196.3 254.69 L196.9 254.75 L197.5 254.71 L198.1 254.73 L198.7 254.65 L199.3 254.66 L199.9 254.63 L200.5 254.56 L201.1 254.67 L201.7 254.55 L202.3 254.62 L202.9 254.64 L203.5 254.57 L204.1 254.47 L204.7 254.58 L205.3 254.54 L205.9 254.44 L206.5 254.4 L207.1 254.48 L207.7 254.38 L208.3 254.53 L208.9 254.44 L209.5 254.43 L210.1 254.39 L210.7 254.43 L211.3 254.46 L211.9 254.34 L212.5 254.33 L213.1 254.36 L213.7 254.29 L214.3 254.34 L214.9 254.31 L215.5 254.28 L216.1 254.31 L216.7 254.27 L217.3 254.16 L217.9 254.33 L218.5 254.19 L219.1 254.19 L219.7 254.17 L220.3 254.25 L220.9 254.24 L221.5 254.14 L222.1 254.1 L222.7 254.02 L223.3 254.17 L223.9 254 L224.5 254.06 L225.1 254.01 L225.7 253.98 L226.3 253.97 L226.9 253.92 L227.5 253.87 L228.1 253.95 L228.7 253.99 L229.3 253.94 L229.9 253.83 L230.5 253.92 L231.1 253.75 L231.7 253.81 L232.3 253.89 L232.9 253.89 L233.5 253.76 L234.1 253.83 L234.7 253.73 L235.3 253.72 L235.9 253.71 L236.5 253.79 L237.1 253.71 L237.7 253.62 L238.3 253.66 L238.9 253.62 L239.5 253.52 L240.1 253.61 L240.7 253.6 L241.3 253.52 L241.9 253.58 L242.5 253.32 L243.1 253.42 L243.7 253.43 L244.3 253.33 L244.9 253.26 L245.5 253.38 L246.1 253.28 L246.7 253.21 L247.3 253.12 L247.9 253.35 L248.5 253.15 L249.1 253.06 L249.7 253.06 L250.3 253.05 L250.9 253.2 L251.5 252.97 L252.1 252.97 L252.7 252.89 L253.3 252.97 L253.9 252.86 L254.5 252.88 L255.1 252.97 L255.7 253.01 L256.3 252.95 L256.9 252.66 L257.5 252.74 L258.1 252.87 L258.7 252.56 L259.3 252.59 L259.9 252.66 L260.5 252.59 L261.1 252.69 L261.7 252.65 L262.3 252.53 L262.9 252.42 L263.5 252.38 L264.1 252.36 L264.7 252.25 L265.3 252.45 L265.9 252.22 L266.5 252.48 L267.1 252.35 L267.7 252.07 L268.3 252.22 L268.9 252.23 L269.5 251.96 L270.1 252.12 L270.7 251.88 L271.3 252.17 L271.9 251.8 L272.5 252.05 L273.1 252.17 L273.7 252.08 L274.3 251.76 L274.9 251.86 L275.5 251.64 L276.1 251.7 L276.7 251.92 L277.3 251.86 L277.9 251.42 L278.5 251.57 L279.1 251.67 L279.7 251.39 L280.3 251.69 L280.9 251.7 L281.5 251.48 L282.1 251.34 L282.7 251.57 L283.3 251.35 L283.9 251.13 L284.5 251.14 L285.1 251.03 L285.7 251.39 L286.3 251.16 L286.9 251.24 L287.5 251.28 L288.1 251.34 L288.7 250.81 L289.3 250.91 L289.9 251.17 L290.5 251.06 L291.1 250.78 L291.7 250.92 L292.3 250.57 L292.9 250.51 L293.5 250.39 L294.1 250.58 L294.7 250.43 L295.3 250.59 L295.9 250.88 L296.5 250.25 L297.1 250.51 L297.7 250.7 L298.3 250.46 L298.9 250.55 L299.5 250.54 L300.1 250.58 L300.7 250.08 L301.3 249.65 L301.9 250.51 L302.5 250.42 L303.1 250.4 L303.7 250.23 L304.3 250.77 L304.9 250.8 L305.5 250 L306.1 249.26 L306.7 249.38" fill="none" stroke="#33ffff" stroke-width="0.75" stroke-linejoin="round" />
<path d="M182.5 255.08 L183.1 255.07 L183.7 255.06 L184.3 254.91 L184.9 254.99 L185.5 254.95 L186.1 254.97 L186.7 254.89 L187.3 254.89 L187.9 254.93 L188.5 254.88 L189.1 254.92 L189.7 254.83 L190.3 254.84 L190.9 254.94 L191.5 254.89 L192.1 254.9 L192.7 254.93 L193.3 254.85 L193.9 254.79 L194.5 254.92 L195.1 254.87 L195.7 254.88 L196.3 254.86 L196.9 254.92 L197.5 254.8 L198.1 254.87 L198.7 254.79 L199.3 254.82 L199.9 254.83 L200.5 254.75 L201.1 254.7 L201.7 254.77 L202.3 254.8 L202.9 254.77 L203.5 254.74 L204.1 254.76 L204.7 254.67 L205.3 254.66 L205.9 254.68 L206.5 254.76 L207.1 254.64 L207.7 254.61 L208.3 254.6 L208.9 254.58 L209.5 254.61 L210.1 254.66 L210.7 254.69 L211.3 254.59 L211.9 254.59 L212.5 254.56 L213.1 254.56 L213.7 254.63 L214.3 254.58 L214.9 254.51 L215.5 254.47 L216.1 254.59 L216.7 254.57 L217.3 254.58 L217.9 254.45 L218.5 254.5 L219.1 254.56 L219.7 254.48 L220.3 254.54 L220.9 254.37 L221.5 254.52 L222.1 254.32 L222.7 254.38 L223.3 254.29 L223.9 254.43 L224.5 254.39 L225.1 254.44 L225.7 254.39 L226.3 254.41 L226.9 254.31 L227.5 254.39 L228.1 254.32 L228.7 254.22 L229.3 254.34 L229.9 254.19 L230.5 254.14 L231.1 254.09 L231.7 254.16 L232.3 254.08 L232.9 254.23 L233.5 254.22 L234.1 254.04 L234.7 253.99 L235.3 254.07 L235.9 253.97 L236.5 254.04 L237.1 254.09 L237.7 253.93 L238.3 253.95 L238.9 254.05 L239.5 253.92 L240.1 253.87 L240.7 253.99 L241.3 253.95 L241.9 253.96 L242.5 253.88 L243.1 253.79 L243.7 253.84 L244.3 253.86 L244.9 253.79 L245.5 253.66 L246.1 253.65 L246.7 253.66 L247.3 253.74 L247.9 253.65 L248.5 253.63 L249.1 253.69 L249.7 253.45 L250.3 253.58 L250.9 253.47 L251.5 253.51 L252.1 253.57 L252.7 253.37 L253.3 253.56 L253.9 253.26 L254.5 253.39 L255.1 253.36 L255.7 253.24 L256.3 253.32 L256.9 253.26 L257.5 253.23 L258.1 253.29 L258.7 253.02 L259.3 253.12 L259.9 253.24 L260.5 252.98 L261.1 253.21 L261.7 252.95 L262.3 253.09 L262.9 252.88 L263.5 252.95 L264.1 252.91 L264.7 252.75 L265.3 252.96 L265.9 252.85 L266.5 252.9 L267.1 252.81 L267.7 252.79 L268.3 252.75 L268.9 252.62 L269.5 252.84 L270.1 252.47 L270.7 252.78 L271.3 252.74 L271.9 252.55 L272.5 252.64 L273.1 252.57 L273.7 252.5 L274.3 252.33 L274.9 252.31 L275.5 252.29 L276.1 252.23 L276.7 252.52 L277.3 252.18 L277.9 252.17 L278.5 252.16 L279.1 252.33 L279.7 252.12 L280.3 252.13 L280.9 251.93 L281.5 251.91 L282.1 251.77 L282.7 251.81 L283.3 251.8 L283.9 252.09 L284.5 251.86 L285.1 251.6 L285.7 251.77 L286.3 251.53 L286.9 251.76 L287.5 251.65 L288.1 251.87 L288.7 251.47 L289.3 251.8 L289.9 251.38 L290.5 251.82 L291.1 251.56 L291.7 251.14 L292.3 251.61 L292.9 251.22 L293.5 251.24 L294.1 251.05 L294.7 251.5 L295.3 250.93 L295.9 251.36 L296.5 251.08 L297.1 251.25 L297.7 250.93 L298.3 250.72 L298.9 251.17 L299.5 251.26 L300.1 250.84 L300.7 250.74 L301.3 250.81 L301.9 250.97 L302.5 251.07 L303.1 251.18 L303.7 250.68 L304.3 249.84 L304.9 250.91 L305.5 250.33 L306.1 250.81 L306.7 251.15" fill="none" stroke="#ff33ff" stroke-width="0.75" stroke-linejoin="round" />
<path d="M182.5 254.84 L183.1 254.86 L183.7 254.71 L184.3 254.87 L184.9 254.68 L185.5 254.77 L186.1 254.64 L186.7 254.76 L187.3 254.62 L187.9 254.73 L188.5 254.72 L189.1 254.71 L189.7 254.63 L190.3 254.71 L190.9 254.72 L191.5 254.53 L192.1 254.6 L192.7 254.68 L193.3 254.62 L193.9 254.54 L194.5 254.5 L195.1 254.62 L195.7 254.42 L196.3 254.55 L196.9 254.56 L197.5 254.4 L198.1 254.42 L198.7 254.4 L199.3 254.44 L199.9 254.39 L200.5 254.48 L201.1 254.48 L201.7 254.33 L202.3 254.44 L202.9 254.25 L203.5 254.24 L204.1 254.35 L204.7 254.36 L205.3 254.35 L205.9 254.37 L206.5 254.33 L207.1 254.19 L207.7 254.27 L208.3 254.3 L208.9 254.1 L209.5 254.17 L210.1 254.08 L210.7 254.06 L211.3 254.12 L211.9 254.15 L212.5 254.2 L213.1 253.99 L213.7 254.06 L214.3 254.15 L214.9 254.08 L215.5 254.01 L216.1 253.93 L216.7 254 L217.3 253.9 L217.9 253.96 L218.5 253.95 L219.1 253.87 L219.7 253.94 L220.3 253.83 L220.9 253.83 L221.5 253.9 L222.1 253.74 L222.7 253.7 L223.3 253.78 L223.9 253.72 L224.5 253.81 L225.1 253.64 L225.7 253.65 L226.3 253.55 L226.9 253.62 L227.5 253.57 L228.1 253.58 L228.7 253.64 L229.3 253.43 L229.9 253.65 L230.5 253.56 L231.1 253.56 L231.7 253.47 L232.3 253.45 L232.9 253.39 L233.5 253.36 L234.1 253.29 L234.7 253.29 L235.3 253.26 L235.9 253.25 L236.5 253.38 L237.1 253.33 L237.7 253.26 L238.3 253.05 L238.9 253.1 L239.5 253.15 L240.1 253.17 L240.7 253.06 L241.3 253.1 L241.9 253.16 L242.5 252.94 L243.1 252.94 L243.7 253.03 L244.3 252.87 L244.9 252.97 L245.5 252.84 L246.1 252.69 L246.7 252.8 L247.3 252.64 L247.9 252.85 L248.5 252.84 L249.1 252.71 L249.7 252.8 L250.3 252.54 L250.9 252.59 L251.5 252.46 L252.1 252.39 L252.7 252.63 L253.3 252.32 L253.9 252.61 L254.5 252.44 L255.1 252.47 L255.7 252.19 L256.3 252.48 L256.9 252.41 L257.5 252.11 L258.1 252.1 L258.7 252.05 L259.3 252.16 L259.9 251.96 L260.5 252.22 L261.1 252.06 L261.7 252.11 L262.3 251.89 L262.9 252.03 L263.5 251.9 L264.1 251.96 L264.7 251.81 L265.3 252.04 L265.9 251.94 L266.5 251.9 L267.1 251.64 L267.7 251.53 L268.3 251.47 L268.9 251.42 L269.5 251.8 L270.1 251.42 L270.7 251.68 L271.3 251.32 L271.9 251.48 L272.5 251.25 L273.1 251.24 L273.7 251.44 L274.3 251.33 L274.9 251.48 L275.5 251.04 L276.1 251.02 L276.7 250.86 L277.3 250.91 L277.9 251.32 L278.5 251.03 L279.1 250.94 L279.7 250.82 L280.3 251.04 L280.9 250.96 L281.5 250.58 L282.1 250.47 L282.7 250.51 L283.3 250.89 L283.9 250.79 L284.5 250.41 L285.1 250.38 L285.7 250.38 L286.3 250.6 L286.9 250.61 L287.5 250.21 L288.1 250.23 L288.7 250.12 L289.3 250.6 L289.9 250.27 L290.5 250.52 L291.1 249.95 L291.7 250.2 L292.3 250.11 L292.9 250.36 L293.5 249.87 L294.1 249.71 L294.7 250.15 L295.3 250.23 L295.9 249.81 L296.5 249.62 L297.1 249.36 L297.7 249.63 L298.3 250.01 L298.9 249.51 L299.5 249.35 L300.1 249.16 L300.7 250.41 L301.3 249.37 L301.9 250.11 L302.5 248.72 L303.1 250.01 L303.7 248.04 L304.3 248.24 L304.9 250.6 L305.5 249.78 L306.1 247.6 L306.7 249.18" fill="none" stroke="#4646ff" stroke-width="0.75" stroke-linejoin="round" />
<path d="M182.5 256.5 L184.33 256.45 L186.97 256.38 L189.87 256.3 L192.5 256.2 L194.79 256.09 L197 255.97 L199.09 255.84 L201 255.7 L202.66 255.56 L204.12 255.41 L205.52 255.23 L207 255 L208.57 254.72 L210.16 254.41 L211.79 254.04 L213.5 253.6 L215.3 253.15 L217.19 252.69 L219.1 252.08 L221 251.2 L222.88 249.99 L224.75 248.53 L226.62 246.9 L228.5 245.2 L230.38 243.44 L232.25 241.57 L234.12 239.62 L236 237.6 L237.92 235.43 L239.88 233.12 L241.77 230.85 L243.5 228.8 L245.06 226.95 L246.5 225.22 L247.81 223.71 L249 222.5 L249.97 221.77 L250.75 221.41 L251.53 221.13 L252.5 220.6 L253.7 219.76 L255.03 218.76 L256.47 217.65 L258 216.5 L259.66 215.27 L261.46 213.94 L263.27 212.6 L265 211.3 L266.69 209.85 L268.38 208.29 L269.93 207.04 L271.2 206.5 L272.09 207.28 L272.68 208.87 L273.16 210.23" fill="none" stroke="#ff2a2a" stroke-width="0.8" stroke-linejoin="round" />
<path d="M273.16 210.23 L273.7 211.01 L274.32 210.6 L274.95 210.06 L275.57 208.37 L276.2 207.25 L276.77 206.43 L277.29 205.49 L277.9 204.79 L278.7 204.44 L279.8 204.68 L281.12 205.66 L282.48 206.59 L283.7 207.45 L284.71 207.52 L285.6 207.61 L286.49 207.77 L287.5 208.03 L288.7 207.83 L290.01 207.88 L291.31 207.74 L292.5 207.44 L293.49 207.44 L294.35 208.27 L295.21 208.67 L296.2 208.63 L297.42 208.71 L298.77 208.16 L300.1 208.32 L301.2 208.23 L301.98 208.47 L302.56 209.04 L303.08 209.12 L303.7 210.03 L304.55 211.07 L305.51 212.24 L306.39 213 L307 213.55" fill="none" stroke="#ff1010" stroke-width="1.2" stroke-linejoin="round" />
<path d="M182.5 176 L183.3 172.53 L184.43 167.89 L185.5 165.5 L186.35 167.8 L187.15 172.36 L188 175.3 L188.93 174.67 L189.91 172.43 L191 170.5 L192.22 169.63 L193.56 169.09 L195 168.6 L196.56 168.1 L198.22 167.65 L200 167.2 L201.91 166.72 L203.93 166.24 L206 165.8 L208.19 165.38 L210.43 165 L212.5 164.8 L214.28 164.81 L215.89 164.99 L217.5 165.4 L219.12 166.29 L220.74 167.4 L222.5 168 L224.59 167.1 L226.8 165.69 L228.7 166 L230.01 170.03 L230.99 175.77 L232 179.5 L233.16 179.16 L234.35 176.8 L235.5 174.8 L236.57 173.72 L237.6 173 L238.7 173.3 L239.97 175.01 L241.31 177.74 L242.5 181 L243.47 184.89 L244.3 189.3 L245 193.5 L245.51 197.27 L245.88 200.81 L246.3 204 L246.83 206.8 L247.4 209.25 L248 211.3 L248.58 212.94 L249.19 214.17 L250 215 L251.18 215.46 L252.56 215.51 L253.8 215 L254.73 213.8 L255.51 212.04 L256.3 210 L257.13 207.22 L257.97 204.17 L258.8 202.5 L259.63 203.43 L260.47 205.76 L261.3 207.5 L262.09 207.85 L262.88 207.63 L263.8 207.3 L264.97 207.1 L266.27 206.79 L267.5 206.2 L268.59 204.74 L269.6 203 L270.5 202.5 L271.27 204.17 L271.92 207.09 L272.5 210 L272.99 212.59 L273.4 215.19 L273.8 217.5 L274.18 219.67 L274.54 221.57 L275 222.5 L275.61 221.77 L276.32 220.08 L277 218.8 L277.59 218.25 L278.16 218.11 L278.8 218.8 L279.58 220.81 L280.44 223.64 L281.3 226.2 L282.13 228.32 L282.97 230.17 L283.8 231.2 L284.59 231.09 L285.38 230.16 L286.3 228.8 L287.47 226.57 L288.77 223.91 L290 222.5 L291.07 223.24 L292.06 225.23 L293 227.5 L293.84 230.04 L294.63 232.87 L295.5 235 L296.54 235.99 L297.68 236.29 L298.8 236.3 L299.93 235.94 L301.04 235.29 L302 235 L302.68 235.34 L303.2 236.04 L303.8 237 L304.63 238.38 L305.54 240.01 L306.3 241.3 L306.84 241.97 L307.24 242.3 L307.5 242.5" fill="none" stroke="#555555" stroke-width="0.8" stroke-linejoin="round" />
<text x="184.6" y="190.3" font-family="'Liberation Sans', Arial, sans-serif" font-size="7.3" fill="#333" text-anchor="start" font-weight="normal" stroke="#333" stroke-width="0.25">H.T. temp. (°C)</text>
<line x1="185.2" y1="196.7" x2="200.9" y2="196.7" stroke="#555555" stroke-width="0.75"/>
<text x="202.8" y="199.2" font-family="'Liberation Sans', Arial, sans-serif" font-size="7.3" fill="#333" text-anchor="start" font-weight="normal" stroke="#333" stroke-width="0.25">Bare</text>
<line x1="185.2" y1="204.9" x2="200.9" y2="204.9" stroke="#ff2a2a" stroke-width="0.75"/>
<text x="202.8" y="207.4" font-family="'Liberation Sans', Arial, sans-serif" font-size="7.3" fill="#333" text-anchor="start" font-weight="normal" stroke="#333" stroke-width="0.25">300</text>
<line x1="185.2" y1="213.9" x2="200.9" y2="213.9" stroke="#33cc33" stroke-width="0.75"/>
<text x="202.8" y="216.4" font-family="'Liberation Sans', Arial, sans-serif" font-size="7.3" fill="#333" text-anchor="start" font-weight="normal" stroke="#333" stroke-width="0.25">400</text>
<line x1="185.2" y1="222.6" x2="200.9" y2="222.6" stroke="#4646ff" stroke-width="0.75"/>
<text x="202.8" y="225.1" font-family="'Liberation Sans', Arial, sans-serif" font-size="7.3" fill="#333" text-anchor="start" font-weight="normal" stroke="#333" stroke-width="0.25">600</text>
<line x1="185.2" y1="231.2" x2="200.9" y2="231.2" stroke="#33ffff" stroke-width="0.75"/>
<text x="202.8" y="233.7" font-family="'Liberation Sans', Arial, sans-serif" font-size="7.3" fill="#333" text-anchor="start" font-weight="normal" stroke="#333" stroke-width="0.25">800</text>
<line x1="185.2" y1="239.9" x2="200.9" y2="239.9" stroke="#ff33ff" stroke-width="0.75"/>
<text x="202.8" y="242.4" font-family="'Liberation Sans', Arial, sans-serif" font-size="7.3" fill="#333" text-anchor="start" font-weight="normal" stroke="#333" stroke-width="0.25">1000</text>
<text x="315" y="12.9" font-family="'Liberation Sans', Arial, sans-serif" font-size="12.6" fill="#222" text-anchor="start" font-weight="normal" letter-spacing="0.8" stroke="#222" stroke-width="0.3">(d)</text>
<path d="M338.6 62.16 L339.3 62.17 L340 62.28 L340.7 62.39 L341.4 62.08 L342.1 62.03 L342.8 62.05 L343.5 62.28 L344.2 61.94 L344.9 62.2 L345.6 62.13 L346.3 61.83 L347 61.99 L347.7 61.91 L348.4 61.86 L349.1 62.12 L349.8 61.63 L350.5 61.56 L351.2 61.98 L351.9 61.68 L352.6 61.54 L353.3 61.57 L354 61.55 L354.7 61.81 L355.4 61.4 L356.1 61.37 L356.8 61.52 L357.5 61.47 L358.2 61.63 L358.9 61.54 L359.6 61.26 L360.3 61.15 L360.9 60.5 L361.6 61.1 L362.6 62.8 L363.3 62.97 L364 62.99 L364.7 62.45 L365.4 62.75 L366.1 62.76 L366.8 62.6 L367.5 62.33 L368.2 62.56 L368.9 62.47 L369.6 62.15 L370.3 62.32 L371 62.05 L371.7 61.91 L372.4 62 L373.1 61.94 L373.8 61.92 L374.5 61.99 L375.2 62.03 L375.9 62.04 L376.6 61.99 L377.3 61.94 L378 61.78 L378.7 61.49 L379.4 61.37 L380.1 61.53 L380.8 61.44 L381.5 61.45 L382.2 61.1 L382.9 61.1 L383.6 61.41 L384.3 61.19 L385 61.18 L385.7 60.83 L386.4 60.92 L387.1 61.12 L387.8 60.94 L388.5 61.05 L389.2 60.6 L389.9 60.68 L390.6 60.79 L391.3 60.56 L392 60.68 L392.7 60.51 L393.4 60.23 L394.1 60.17 L394.8 60.55 L395.5 60.07 L396.2 60.05 L396.9 60.06 L397.6 60.2 L398.3 60.21 L399 59.97 L399.7 59.92 L400.4 60.01 L401.1 59.7 L401.8 59.69 L402.5 59.76 L403.2 59.72 L403.9 59.36 L404.6 59.34 L405.3 59.3 L406 59.54 L406.7 59.47 L407.4 59.55 L408 59.7 L408.35 49.5 L408.8 51 L409.3 59.6 L410.3 59.73 L411 59.42 L411.7 59.61 L412.4 59.66 L413.1 59.29 L413.8 59.06 L414.5 59.18 L415.2 59.08 L415.9 58.96 L416.6 58.84 L417.3 58.82 L418 59.13 L418.7 58.66 L419.4 58.89 L420.1 58.62 L420.8 58.56 L421.5 58.81 L422.2 58.49 L422.9 58.37 L423.6 58.45 L424.3 58.51 L425 58.37 L425.7 58.47 L426.4 58.19 L427.1 58.19 L427.8 58.23 L428.5 58.04 L429.2 58.11 L429.9 57.92 L430.6 57.7 L431.3 57.63 L432 57.9 L432.7 57.82 L433.4 57.86 L434.25 34.2 L434.7 35.4 L435.3 64.8 L436.1 65.8 L437 65.86 L437.7 65.82 L438.4 65.7 L439.1 65.91 L439.8 65.69 L440.5 65.78 L441.2 65.69 L441.9 65.76 L442.6 65.74 L443.3 65.78 L444 65.86 L444.7 65.81 L445.4 65.72 L446.1 65.88 L446.8 65.87 L447.5 65.9 L448.2 65.66 L448.9 65.83 L449.6 65.92 L450.3 65.73 L451 65.71 L451.7 65.89 L452.4 65.76 L453.1 65.77 L453.8 65.9 L454.5 65.77 L455.2 65.71 L455.9 65.71 L456.6 65.75 L457.3 65.86 L458 65.76 L458.7 65.88 L459.4 65.67 L460.1 65.72 L460.8 65.84 L461.5 65.79 L462.2 65.8 L462.9 65.93 L463.6 65.73" fill="none" stroke="#0a0a0a" stroke-width="1.15" stroke-linejoin="round" />
<path d="M338.6 93.19 L339.3 93.21 L340 93.2 L340.7 93.45 L341.4 93.2 L342.1 93.27 L342.8 92.91 L343.5 93.07 L344.2 93.18 L344.9 92.98 L345.6 93.14 L346.3 93.06 L347 92.75 L347.7 92.52 L348.4 92.85 L349.1 92.49 L349.8 92.38 L350.5 92.69 L351.2 92.7 L351.9 92.65 L352.6 92.66 L353.3 92.23 L354 92.13 L354.7 92.1 L355.4 92.48 L356.1 92 L356.8 91.97 L357.5 91.85 L358.2 91.82 L358.9 91.77 L359.6 91.87 L360.3 91.73 L360.9 91.1 L361.6 91.7 L362.6 94.2 L363.3 94.1 L364 94.34 L364.7 93.89 L365.4 94.14 L366.1 94.03 L366.8 93.87 L367.5 93.8 L368.2 93.83 L368.9 93.66 L369.6 93.41 L370.3 93.39 L371 93.27 L371.7 93.28 L372.4 93.5 L373.1 93.15 L373.8 92.89 L374.5 93.03 L375.2 93.12 L375.9 92.86 L376.6 92.92 L377.3 92.54 L378 92.45 L378.7 92.68 L379.4 92.3 L380.1 92.36 L380.8 92.33 L381.5 92.16 L382.2 92.01 L382.9 91.92 L383.6 92.32 L384.3 92.11 L385 92.17 L385.7 91.87 L386.4 92.03 L387.1 91.91 L387.8 91.71 L388.5 91.6 L389.2 91.51 L389.9 91.3 L390.6 91.3 L391.3 91.4 L392 91.07 L392.7 91.32 L393.4 91.08 L394.1 91.05 L394.8 91.09 L395.5 90.93 L396.2 90.6 L396.9 90.58 L397.6 90.39 L398.3 90.33 L399 90.72 L399.7 90.47 L400.4 90.58 L401.1 90.42 L401.8 90.11 L402.5 90.36 L403.2 90.27 L403.9 89.96 L404.6 89.7 L405.3 89.75 L406 89.6 L406.7 89.63 L407.4 89.41 L408 90 L408.35 75.5 L408.8 77 L409.3 93.7 L410.3 93.81 L411 93.89 L411.7 93.45 L412.4 93.69 L413.1 93.54 L413.8 93.44 L414.5 93.6 L415.2 93.29 L415.9 93.46 L416.6 93.01 L417.3 93.43 L418 92.99 L418.7 92.85 L419.4 93.24 L420.1 93.1 L420.8 93.03 L421.5 93.03 L422.2 92.78 L422.9 92.6 L423.6 92.65 L424.3 92.92 L425 92.88 L425.7 92.46 L426.4 92.51 L427.1 92.47 L427.8 92.64 L428.5 92.14 L429.2 92.5 L429.9 92.16 L430.6 92.26 L431.3 92 L432 91.93 L432.7 92.28 L433.4 92.04 L434.25 69.5 L434.7 70.7 L435.3 98.3 L436.1 99.3 L437 99.44 L437.7 99.43 L438.4 99.41 L439.1 99.23 L439.8 99.4 L440.5 99.54 L441.2 99.41 L441.9 99.3 L442.6 99.35 L443.3 99.61 L444 99.63 L444.7 99.43 L445.4 99.47 L446.1 99.6 L446.8 99.56 L447.5 99.48 L448.2 99.74 L448.9 99.65 L449.6 99.59 L450.3 99.51 L451 99.67 L451.7 99.76 L452.4 99.61 L453.1 99.6 L453.8 99.81 L454.5 99.89 L455.2 99.74 L455.9 99.79 L456.6 99.86 L457.3 99.84 L458 99.74 L458.7 99.8 L459.4 99.8 L460.1 99.82 L460.8 99.8 L461.5 99.91 L462.2 99.88 L462.9 100.09 L463.6 99.95" fill="none" stroke="#0a0a0a" stroke-width="1.15" stroke-linejoin="round" />
<path d="M338.6 128.24 L339.3 128.19 L340 128.21 L340.7 127.87 L341.4 127.98 L342.1 128.02 L342.8 127.96 L343.5 127.52 L344.2 127.68 L344.9 127.59 L345.6 127.46 L346.3 127.62 L347 127.32 L347.7 127.21 L348.4 127.38 L349.1 127.15 L349.8 126.91 L350.5 126.84 L351.2 126.86 L351.9 126.57 L352.6 126.77 L353.3 126.76 L354 126.53 L354.7 126.67 L355.4 126.63 L356.1 126.37 L356.8 126.36 L357.5 126.01 L358.2 125.9 L358.9 126.29 L359.6 125.87 L360.3 125.76 L360.9 125.1 L361.6 125.7 L362.6 129.7 L363.3 129.9 L364 129.77 L364.7 129.4 L365.4 129.44 L366.1 129.34 L366.8 129.3 L367.5 129.11 L368.2 129.31 L368.9 129.15 L369.6 129.14 L370.3 128.97 L371 128.88 L371.7 128.78 L372.4 129.15 L373.1 129.03 L373.8 128.88 L374.5 128.6 L375.2 128.56 L375.9 128.49 L376.6 128.53 L377.3 128.34 L378 128.39 L378.7 128.3 L379.4 128.24 L380.1 128.41 L380.8 128.26 L381.5 128.21 L382.2 128.09 L382.9 128.13 L383.6 128.19 L384.3 127.9 L385 127.72 L385.7 127.87 L386.4 127.76 L387.1 127.91 L387.8 127.51 L388.5 127.84 L389.2 127.35 L389.9 127.56 L390.6 127.45 L391.3 127.33 L392 127.56 L392.7 127.41 L393.4 127.09 L394.1 127.19 L394.8 127.2 L395.5 126.85 L396.2 126.82 L396.9 127.02 L397.6 127.03 L398.3 126.84 L399 126.76 L399.7 126.75 L400.4 126.57 L401.1 126.82 L401.8 126.8 L402.5 126.51 L403.2 126.22 L403.9 126.35 L404.6 126.5 L405.3 126.2 L406 126.03 L406.7 126.02 L407.4 126.22 L408 126.5 L408.35 103.5 L408.8 105 L409.3 131.6 L410.3 131.66 L411 131.42 L411.7 131.52 L412.4 131.52 L413.1 131.55 L413.8 131.41 L414.5 131.14 L415.2 131.26 L415.9 131.24 L416.6 131.14 L417.3 131.01 L418 130.86 L418.7 130.75 L419.4 130.85 L420.1 130.67 L420.8 130.64 L421.5 130.32 L422.2 130.19 L422.9 130.2 L423.6 130.29 L424.3 130.21 L425 129.95 L425.7 129.88 L426.4 130.19 L427.1 129.68 L427.8 130.03 L428.5 129.89 L429.2 129.71 L429.9 129.85 L430.6 129.63 L431.3 129.22 L432 129.61 L432.7 129.28 L433.4 129.46 L434.25 117 L434.7 118.2 L435.3 132.7 L436.1 133.7 L437 133.79 L437.7 133.59 L438.4 133.56 L439.1 133.56 L439.8 133.78 L440.5 133.79 L441.2 133.62 L441.9 133.58 L442.6 133.66 L443.3 133.79 L444 133.77 L444.7 133.81 L445.4 133.84 L446.1 133.78 L446.8 133.8 L447.5 133.55 L448.2 133.55 L448.9 133.81 L449.6 133.74 L450.3 133.65 L451 133.59 L451.7 133.65 L452.4 133.65 L453.1 133.7 L453.8 133.68 L454.5 133.61 L455.2 133.57 L455.9 133.61 L456.6 133.59 L457.3 133.58 L458 133.67 L458.7 133.59 L459.4 133.79 L460.1 133.71 L460.8 133.69 L461.5 133.74 L462.2 133.62 L462.9 133.56 L463.6 133.57" fill="none" stroke="#0a0a0a" stroke-width="1.15" stroke-linejoin="round" />
<path d="M338.6 154.73 L339.3 154.71 L340 154.9 L340.7 154.88 L341.4 154.77 L342.1 154.12 L342.8 154.67 L343.5 154.01 L344.2 153.79 L344.9 153.47 L345.6 153.84 L346.3 153.36 L347 153.41 L347.7 153.69 L348.4 153.78 L349.1 153.67 L349.8 152.85 L350.5 152.74 L351.2 152.86 L351.9 153.1 L352.6 153.33 L353.3 153.2 L354 153.26 L354.7 152.79 L355.4 152.76 L356.1 152.29 L356.8 152.23 L357.5 152.02 L358.2 152.3 L358.9 152.29 L359.6 152.17 L360.3 151.88 L360.9 151.2 L361.6 151.8 L362.6 156.9 L363.3 156.82 L364 156.53 L364.7 157.07 L365.4 156.72 L366.1 156.81 L366.8 156.79 L367.5 156.12 L368.2 155.85 L368.9 155.94 L369.6 156.54 L370.3 156.32 L371 155.81 L371.7 156.12 L372.4 155.56 L373.1 156.04 L373.8 155.1 L374.5 155.72 L375.2 155.9 L375.9 155.19 L376.6 155.15 L377.3 154.69 L378 154.76 L378.7 154.63 L379.4 154.6 L380.1 154.26 L380.8 154.43 L381.5 154.12 L382.2 154.5 L382.9 154.28 L383.6 153.99 L384.3 154.69 L385 153.9 L385.7 154.05 L386.4 154.36 L387.1 154.12 L387.8 154.26 L388.5 153.78 L389.2 153.98 L389.9 153 L390.6 153.64 L391.3 153.12 L392 153.01 L392.7 153.41 L393.4 153.29 L394.1 152.76 L394.8 152.7 L395.5 152.51 L396.2 153.14 L396.9 152.7 L397.6 152.22 L398.3 152.43 L399 151.82 L399.7 151.96 L400.4 152.13 L401.1 152.56 L401.8 152.34 L402.5 151.91 L403.2 152.06 L403.9 151.4 L404.6 151.8 L405.3 152.04 L406 151.03 L406.7 151.79 L407.4 151.76 L408 151.6 L408.35 137.5 L408.8 139 L409.3 160 L410.3 159.85 L411 160.29 L411.7 160.42 L412.4 159.43 L413.1 159.72 L413.8 159.81 L414.5 159.97 L415.2 159.33 L415.9 159.8 L416.6 159.69 L417.3 159.8 L418 159.61 L418.7 159.69 L419.4 159.34 L420.1 159.22 L420.8 159.07 L421.5 158.95 L422.2 158.95 L422.9 158.92 L423.6 158.75 L424.3 158.42 L425 158.64 L425.7 159.18 L426.4 158.42 L427.1 159.11 L427.8 158.88 L428.5 158.41 L429.2 158.09 L429.9 158.76 L430.6 158.78 L431.3 158.01 L432 158.35 L432.7 158.38 L433.4 158.18 L434.25 142.5 L434.7 143.7 L435.3 166.1 L436.1 167.1 L437 166.85 L437.7 166.93 L438.4 167.25 L439.1 167.19 L439.8 167.21 L440.5 166.96 L441.2 167.35 L441.9 167.28 L442.6 167.09 L443.3 167.33 L444 166.97 L444.7 167.12 L445.4 167.11 L446.1 167.41 L446.8 167.39 L447.5 167 L448.2 167.29 L448.9 166.97 L449.6 167.35 L450.3 167.36 L451 167.22 L451.7 166.79 L452.4 166.97 L453.1 166.88 L453.8 167.1 L454.5 166.79 L455.2 166.81 L455.9 166.84 L456.6 167.34 L457.3 167.17 L458 167.34 L458.7 167.39 L459.4 167.15 L460.1 167.33 L460.8 167.06 L461.5 167.17 L462.2 166.88 L462.9 167.06 L463.6 166.83" fill="none" stroke="#0a0a0a" stroke-width="1.5" stroke-linejoin="round" />
<rect x="338.2" y="13.7" width="126" height="164.1" fill="none" stroke="#1a1a1a" stroke-width="1.4"/>
<line x1="464.5" y1="177.8" x2="464.5" y2="174.4" stroke="#111" stroke-width="0.9"/>
<text x="464.5" y="188.3" font-family="'Liberation Serif', 'Times New Roman', serif" font-size="8" fill="#222" text-anchor="middle" font-weight="normal" >0</text>
<line x1="453.96" y1="177.8" x2="453.96" y2="175.8" stroke="#111" stroke-width="0.9"/>
<line x1="443.42" y1="177.8" x2="443.42" y2="174.4" stroke="#111" stroke-width="0.9"/>
<text x="443.42" y="188.3" font-family="'Liberation Serif', 'Times New Roman', serif" font-size="8" fill="#222" text-anchor="middle" font-weight="normal" >200</text>
<line x1="432.88" y1="177.8" x2="432.88" y2="175.8" stroke="#111" stroke-width="0.9"/>
<line x1="422.34" y1="177.8" x2="422.34" y2="174.4" stroke="#111" stroke-width="0.9"/>
<text x="422.34" y="188.3" font-family="'Liberation Serif', 'Times New Roman', serif" font-size="8" fill="#222" text-anchor="middle" font-weight="normal" >400</text>
<line x1="411.79" y1="177.8" x2="411.79" y2="175.8" stroke="#111" stroke-width="0.9"/>
<line x1="401.25" y1="177.8" x2="401.25" y2="174.4" stroke="#111" stroke-width="0.9"/>
<text x="401.25" y="188.3" font-family="'Liberation Serif', 'Times New Roman', serif" font-size="8" fill="#222" text-anchor="middle" font-weight="normal" >600</text>
<line x1="390.71" y1="177.8" x2="390.71" y2="175.8" stroke="#111" stroke-width="0.9"/>
<line x1="380.17" y1="177.8" x2="380.17" y2="174.4" stroke="#111" stroke-width="0.9"/>
<text x="380.17" y="188.3" font-family="'Liberation Serif', 'Times New Roman', serif" font-size="8" fill="#222" text-anchor="middle" font-weight="normal" >800</text>
<line x1="369.63" y1="177.8" x2="369.63" y2="175.8" stroke="#111" stroke-width="0.9"/>
<line x1="359.08" y1="177.8" x2="359.08" y2="174.4" stroke="#111" stroke-width="0.9"/>
<text x="359.08" y="188.3" font-family="'Liberation Serif', 'Times New Roman', serif" font-size="8" fill="#222" text-anchor="middle" font-weight="normal" >1000</text>
<line x1="348.54" y1="177.8" x2="348.54" y2="175.8" stroke="#111" stroke-width="0.9"/>
<line x1="338" y1="177.8" x2="338" y2="174.4" stroke="#111" stroke-width="0.9"/>
<text x="338" y="188.3" font-family="'Liberation Serif', 'Times New Roman', serif" font-size="8" fill="#222" text-anchor="middle" font-weight="normal" >1200</text>
<text x="401.85" y="199.6" font-family="'Liberation Serif', 'Times New Roman', serif" font-size="11.15" fill="#222" text-anchor="middle" font-weight="normal" stroke="#222" stroke-width="0.25">Binding energy (eV)</text>
<text x="0" y="0" font-family="'Liberation Serif', 'Times New Roman', serif" font-size="11.6" fill="#222" stroke="#222" stroke-width="0.25" text-anchor="middle" transform="translate(328.3 97.2) rotate(-90)">Normalized intensity (a.u.)</text>
<text x="340" y="59.7" font-family="'Liberation Serif', 'Times New Roman', serif" font-size="9.4" fill="#222" text-anchor="start" font-weight="normal" >600 °C</text>
<text x="340" y="90.7" font-family="'Liberation Serif', 'Times New Roman', serif" font-size="9.4" fill="#222" text-anchor="start" font-weight="normal" >400 °C</text>
<text x="340" y="124.9" font-family="'Liberation Serif', 'Times New Roman', serif" font-size="9.4" fill="#222" text-anchor="start" font-weight="normal" >300 °C</text>
<text x="340" y="148.9" font-family="'Liberation Serif', 'Times New Roman', serif" font-size="9.4" fill="#222" text-anchor="start" font-weight="normal" >Raw cotton</text>
<rect x="403.5" y="49.5" width="9.6" height="117.3" fill="none" stroke="#ff1e1e" stroke-width="1.2" stroke-dasharray="3 1.9"/>
<rect x="430.0" y="34.2" width="9.3" height="137.6" fill="none" stroke="#2a2aff" stroke-width="1.2" stroke-dasharray="3 1.9"/>
<text x="412" y="47.2" font-family="'Liberation Serif', 'Times New Roman', serif" font-size="10.8" fill="#ff1e1e" text-anchor="middle" font-weight="normal" >O1s</text>
<text x="437.5" y="33.9" font-family="'Liberation Serif', 'Times New Roman', serif" font-size="10.8" fill="#2a2aff" text-anchor="middle" font-weight="normal" >C1s</text>
<path d="M499.5 49.72 L500 49.67 L500.5 49.62 L501 49.55 L501.5 49.47 L502 49.38 L502.5 49.28 L503 49.17 L503.5 49.05 L504 48.93 L504.5 48.8 L505 48.66 L505.5 48.53 L506 48.4 L506.5 48.28 L507 48.17 L507.5 48.08 L508 48 L508.5 47.95 L509 47.92 L509.5 47.91 L510 47.94 L510.5 47.98 L511 48.06 L511.5 48.15 L512 48.27 L512.5 48.4 L513 48.54 L513.5 48.7 L514 48.85 L514.5 49.01 L515 49.16 L515.5 49.31 L516 49.45 L516.5 49.59 L517 49.72 L517.5 49.84 L518 49.97 L518.5 50.08 L519 50.2" fill="none" stroke="#ff33ff" stroke-width="0.7" stroke-linejoin="round" />
<path d="M509 49.7 L509.5 49.6 L510 49.45 L510.5 49.24 L511 48.96 L511.5 48.59 L512 48.12 L512.5 47.54 L513 46.83 L513.5 45.99 L514 45.03 L514.5 43.97 L515 42.84 L515.5 41.67 L516 40.52 L516.5 39.44 L517 38.49 L517.5 37.73 L518 37.2 L518.5 36.95 L519 37.01 L519.5 37.64 L520 38.83 L520.5 40.41 L521 42.22 L521.5 44.07 L522 45.81 L522.5 47.33 L523 48.57 L523.5 49.53 L524 50.24 L524.5 50.74 L525 51.08 L525.5 51.31" fill="none" stroke="#22eeee" stroke-width="0.7" stroke-linejoin="round" />
<path d="M515.5 49.83 L516 49.66 L516.5 49.35 L517 48.82 L517.5 47.97 L518 46.7 L518.5 44.92 L519 42.55 L519.5 39.61 L520 36.21 L520.5 32.57 L521 29.01 L521.5 25.93 L522 23.69 L522.5 22.61 L523 22.74 L523.5 23.69 L524 25.33 L524.5 27.56 L525 30.19 L525.5 33.07 L526 36 L526.5 38.84 L527 41.46 L527.5 43.78 L528 45.75 L528.5 47.36 L529 48.64 L529.5 49.62 L530 50.35 L530.5 50.87 L531 51.23 L531.5 51.47 L532 51.63" fill="none" stroke="#4444ff" stroke-width="0.7" stroke-linejoin="round" />
<path d="M521.5 50.59 L522 50.58 L522.5 50.53 L523 50.44 L523.5 50.29 L524 50.08 L524.5 49.82 L525 49.51 L525.5 49.18 L526 48.85 L526.5 48.54 L527 48.29 L527.5 48.11 L528 48.04 L528.5 48.08 L529 48.24 L529.5 48.51 L530 48.86 L530.5 49.26 L531 49.69 L531.5 50.1 L532 50.49 L532.5 50.83 L533 51.11 L533.5 51.34 L534 51.52 L534.5 51.64 L535 51.73" fill="none" stroke="#33dd33" stroke-width="0.7" stroke-linejoin="round" />
<path d="M477.5 49.9 L478 49.9 L478.5 49.9 L479 49.9 L479.5 49.9 L480 49.9 L480.5 49.9 L481 49.9 L481.5 49.9 L482 49.9 L482.5 49.9 L483 49.9 L483.5 49.9 L484 49.9 L484.5 49.9 L485 49.9 L485.5 49.9 L486 49.9 L486.5 49.9 L487 49.9 L487.5 49.9 L488 49.9 L488.5 49.9 L489 49.9 L489.5 49.9 L490 49.9 L490.5 49.9 L491 49.9 L491.5 49.9 L492 49.9 L492.5 49.9 L493 49.9 L493.5 49.9 L494 49.89 L494.5 49.89 L495 49.89 L495.5 49.88 L496 49.88 L496.5 49.87 L497 49.86 L497.5 49.84 L498 49.82 L498.5 49.79 L499 49.76 L499.5 49.72 L500 49.67 L500.5 49.62 L501 49.55 L501.5 49.47 L502 49.38 L502.5 49.28 L503 49.17 L503.5 49.05 L504 48.93 L504.5 48.79 L505 48.66 L505.5 48.52 L506 48.39 L506.5 48.26 L507 48.14 L507.5 48.02 L508 47.92 L508.5 47.81 L509 47.71 L509.5 47.6 L510 47.47 L510.5 47.3 L511 47.09 L511.5 46.82 L512 46.46 L512.5 45.99 L513 45.41 L513.5 44.71 L514 43.88 L514.5 42.93 L515 41.88 L515.5 40.73 L516 39.49 L516.5 38.17 L517 36.75 L517.5 35.17 L518 33.39 L518.5 31.35 L519 29.02 L519.5 26.66 L520 24.37 L520.5 22.22 L521 20.35 L521.5 18.95 L522 18.25 L522.5 18.45 L523 19.54 L523.5 21.11 L524 23.09 L524.5 25.39 L525 27.91 L525.5 30.55 L526 33.18 L526.5 35.71 L527 38.06 L527.5 40.18 L528 42.05 L528.5 43.69 L529 45.1 L529.5 46.33 L530 47.38 L530.5 48.29 L531 49.07 L531.5 49.72 L532 50.26 L532.5 50.69 L533 51.04 L533.5 51.3 L534 51.49 L534.5 51.63 L535 51.73 L535.5 51.79 L536 51.83 L536.5 51.86 L537 51.88 L537.5 51.89 L538 51.89 L538.5 51.89 L539 51.9 L539.5 51.9 L540 51.9 L540.5 51.9 L541 51.9 L541.5 51.9 L542 51.9 L542.5 51.9 L543 51.9 L543.5 51.9 L544 51.9 L544.5 51.9 L545 51.9" fill="none" stroke="#f03c3c" stroke-width="0.85" stroke-linejoin="round" />
<circle cx="477.5" cy="49.68" r="0.42" fill="#6a3030" opacity="0.85"/>
<circle cx="478.5" cy="50.11" r="0.42" fill="#6a3030" opacity="0.85"/>
<circle cx="479.5" cy="50.06" r="0.42" fill="#6a3030" opacity="0.85"/>
<circle cx="480.5" cy="49.75" r="0.42" fill="#6a3030" opacity="0.85"/>
<circle cx="481.5" cy="49.9" r="0.42" fill="#6a3030" opacity="0.85"/>
<circle cx="482.5" cy="49.87" r="0.42" fill="#6a3030" opacity="0.85"/>
<circle cx="483.5" cy="49.99" r="0.42" fill="#6a3030" opacity="0.85"/>
<circle cx="484.5" cy="50.07" r="0.42" fill="#6a3030" opacity="0.85"/>
<circle cx="485.5" cy="49.66" r="0.42" fill="#6a3030" opacity="0.85"/>
<circle cx="486.5" cy="49.62" r="0.42" fill="#6a3030" opacity="0.85"/>
<circle cx="487.5" cy="50.1" r="0.42" fill="#6a3030" opacity="0.85"/>
<circle cx="488.5" cy="49.86" r="0.42" fill="#6a3030" opacity="0.85"/>
<circle cx="489.5" cy="50.06" r="0.42" fill="#6a3030" opacity="0.85"/>
<circle cx="490.5" cy="49.6" r="0.42" fill="#6a3030" opacity="0.85"/>
<circle cx="491.5" cy="49.87" r="0.42" fill="#6a3030" opacity="0.85"/>
<circle cx="492.5" cy="50.03" r="0.42" fill="#6a3030" opacity="0.85"/>
<circle cx="493.5" cy="49.73" r="0.42" fill="#6a3030" opacity="0.85"/>
<circle cx="494.5" cy="50.16" r="0.42" fill="#6a3030" opacity="0.85"/>
<circle cx="495.5" cy="50.12" r="0.42" fill="#6a3030" opacity="0.85"/>
<circle cx="496.5" cy="49.59" r="0.42" fill="#6a3030" opacity="0.85"/>
<circle cx="497.5" cy="49.55" r="0.42" fill="#6a3030" opacity="0.85"/>
<circle cx="498.5" cy="49.82" r="0.42" fill="#6a3030" opacity="0.85"/>
<circle cx="499.5" cy="49.99" r="0.42" fill="#6a3030" opacity="0.85"/>
<circle cx="500.5" cy="49.55" r="0.42" fill="#6a3030" opacity="0.85"/>
<circle cx="501.5" cy="49.3" r="0.42" fill="#6a3030" opacity="0.85"/>
<circle cx="502.5" cy="49.24" r="0.42" fill="#6a3030" opacity="0.85"/>
<circle cx="503.5" cy="48.77" r="0.42" fill="#6a3030" opacity="0.85"/>
<circle cx="504.5" cy="48.63" r="0.42" fill="#6a3030" opacity="0.85"/>
<circle cx="505.5" cy="48.49" r="0.42" fill="#6a3030" opacity="0.85"/>
<circle cx="506.5" cy="48.26" r="0.42" fill="#6a3030" opacity="0.85"/>
<circle cx="507.5" cy="47.86" r="0.42" fill="#6a3030" opacity="0.85"/>
<circle cx="508.5" cy="47.65" r="0.42" fill="#6a3030" opacity="0.85"/>
<circle cx="509.5" cy="47.43" r="0.42" fill="#6a3030" opacity="0.85"/>
<circle cx="510.5" cy="47.28" r="0.42" fill="#6a3030" opacity="0.85"/>
<circle cx="511.5" cy="46.69" r="0.42" fill="#6a3030" opacity="0.85"/>
<circle cx="512.5" cy="45.71" r="0.42" fill="#6a3030" opacity="0.85"/>
<circle cx="513.5" cy="44.91" r="0.42" fill="#6a3030" opacity="0.85"/>
<circle cx="514.5" cy="42.97" r="0.42" fill="#6a3030" opacity="0.85"/>
<circle cx="515.5" cy="40.81" r="0.42" fill="#6a3030" opacity="0.85"/>
<circle cx="516.5" cy="37.99" r="0.42" fill="#6a3030" opacity="0.85"/>
<circle cx="517.5" cy="35.47" r="0.42" fill="#6a3030" opacity="0.85"/>
<circle cx="518.5" cy="31.56" r="0.42" fill="#6a3030" opacity="0.85"/>
<circle cx="519.5" cy="26.43" r="0.42" fill="#6a3030" opacity="0.85"/>
<circle cx="520.5" cy="22.12" r="0.42" fill="#6a3030" opacity="0.85"/>
<circle cx="521.5" cy="19.08" r="0.42" fill="#6a3030" opacity="0.85"/>
<circle cx="522.5" cy="18.57" r="0.42" fill="#6a3030" opacity="0.85"/>
<circle cx="523.5" cy="21.37" r="0.42" fill="#6a3030" opacity="0.85"/>
<circle cx="524.5" cy="25.34" r="0.42" fill="#6a3030" opacity="0.85"/>
<circle cx="525.5" cy="30.75" r="0.42" fill="#6a3030" opacity="0.85"/>
<circle cx="526.5" cy="35.81" r="0.42" fill="#6a3030" opacity="0.85"/>
<circle cx="527.5" cy="40.06" r="0.42" fill="#6a3030" opacity="0.85"/>
<circle cx="528.5" cy="43.74" r="0.42" fill="#6a3030" opacity="0.85"/>
<circle cx="529.5" cy="46.56" r="0.42" fill="#6a3030" opacity="0.85"/>
<circle cx="530.5" cy="48.5" r="0.42" fill="#6a3030" opacity="0.85"/>
<circle cx="531.5" cy="49.72" r="0.42" fill="#6a3030" opacity="0.85"/>
<circle cx="532.5" cy="50.75" r="0.42" fill="#6a3030" opacity="0.85"/>
<circle cx="533.5" cy="51.02" r="0.42" fill="#6a3030" opacity="0.85"/>
<circle cx="534.5" cy="51.48" r="0.42" fill="#6a3030" opacity="0.85"/>
<circle cx="535.5" cy="51.97" r="0.42" fill="#6a3030" opacity="0.85"/>
<circle cx="536.5" cy="51.81" r="0.42" fill="#6a3030" opacity="0.85"/>
<circle cx="537.5" cy="51.69" r="0.42" fill="#6a3030" opacity="0.85"/>
<circle cx="538.5" cy="51.92" r="0.42" fill="#6a3030" opacity="0.85"/>
<circle cx="539.5" cy="52.02" r="0.42" fill="#6a3030" opacity="0.85"/>
<circle cx="540.5" cy="52" r="0.42" fill="#6a3030" opacity="0.85"/>
<circle cx="541.5" cy="51.82" r="0.42" fill="#6a3030" opacity="0.85"/>
<circle cx="542.5" cy="51.86" r="0.42" fill="#6a3030" opacity="0.85"/>
<circle cx="543.5" cy="51.9" r="0.42" fill="#6a3030" opacity="0.85"/>
<circle cx="544.5" cy="52.07" r="0.42" fill="#6a3030" opacity="0.85"/>
<path d="M498.5 86.2 L499 86.13 L499.5 86.04 L500 85.94 L500.5 85.82 L501 85.7 L501.5 85.58 L502 85.46 L502.5 85.36 L503 85.28 L503.5 85.23 L504 85.21 L504.5 85.23 L505 85.3 L505.5 85.39 L506 85.51 L506.5 85.65 L507 85.79 L507.5 85.93 L508 86.05 L508.5 86.17 L509 86.26 L509.5 86.35" fill="none" stroke="#ffaa44" stroke-width="0.7" stroke-linejoin="round" />
<path d="M502.5 86.21 L503 86.1 L503.5 85.94 L504 85.73 L504.5 85.44 L505 85.06 L505.5 84.58 L506 84 L506.5 83.3 L507 82.52 L507.5 81.65 L508 80.75 L508.5 79.85 L509 79.01 L509.5 78.27 L510 77.69 L510.5 77.32 L511 77.18 L511.5 77.27 L512 77.54 L512.5 77.98 L513 78.58 L513.5 79.3 L514 80.11 L514.5 80.98 L515 81.87 L515.5 82.75 L516 83.61 L516.5 84.41 L517 85.15 L517.5 85.81 L518 86.4 L518.5 86.91 L519 87.35 L519.5 87.72 L520 88.03 L520.5 88.28 L521 88.49" fill="none" stroke="#ff33ff" stroke-width="0.7" stroke-linejoin="round" />
<path d="M508 86.26 L508.5 86.16 L509 86 L509.5 85.76 L510 85.41 L510.5 84.93 L511 84.27 L511.5 83.43 L512 82.36 L512.5 81.06 L513 79.54 L513.5 77.82 L514 75.96 L514.5 74.03 L515 72.14 L515.5 70.4 L516 68.92 L516.5 67.81 L517 67.17 L517.5 67.05 L518 67.51 L518.5 68.54 L519 70.09 L519.5 72.02 L520 74.19 L520.5 76.47 L521 78.71 L521.5 80.81 L522 82.69 L522.5 84.29 L523 85.62 L523.5 86.67 L524 87.47 L524.5 88.07 L525 88.5 L525.5 88.8 L526 89 L526.5 89.14" fill="none" stroke="#22eeee" stroke-width="0.7" stroke-linejoin="round" />
<path d="M513.5 86.65 L514 86.61 L514.5 86.53 L515 86.38 L515.5 86.13 L516 85.76 L516.5 85.22 L517 84.5 L517.5 83.58 L518 82.44 L518.5 81.09 L519 79.58 L519.5 77.96 L520 76.31 L520.5 74.74 L521 73.35 L521.5 72.26 L522 71.55 L522.5 71.28 L523 71.45 L523.5 71.95 L524 72.74 L524.5 73.79 L525 75.05 L525.5 76.46 L526 77.95 L526.5 79.46 L527 80.93 L527.5 82.32 L528 83.6 L528.5 84.73 L529 85.72 L529.5 86.55 L530 87.24 L530.5 87.79 L531 88.22 L531.5 88.55 L532 88.8 L532.5 88.99 L533 89.12 L533.5 89.21" fill="none" stroke="#4444ff" stroke-width="0.7" stroke-linejoin="round" />
<path d="M518.5 87.89 L519 87.98 L519.5 88.05 L520 88.1 L520.5 88.12 L521 88.11 L521.5 88.09 L522 88.05 L522.5 87.99 L523 87.94 L523.5 87.89 L524 87.85 L524.5 87.83 L525 87.83 L525.5 87.86 L526 87.92 L526.5 88.01 L527 88.11 L527.5 88.24 L528 88.37 L528.5 88.51 L529 88.64 L529.5 88.77 L530 88.89 L530.5 88.99 L531 89.08 L531.5 89.16 L532 89.22" fill="none" stroke="#33dd33" stroke-width="0.7" stroke-linejoin="round" />
<path d="M477.5 86.4 L478 86.4 L478.5 86.4 L479 86.4 L479.5 86.4 L480 86.4 L480.5 86.4 L481 86.4 L481.5 86.4 L482 86.4 L482.5 86.4 L483 86.4 L483.5 86.4 L484 86.4 L484.5 86.4 L485 86.4 L485.5 86.4 L486 86.4 L486.5 86.4 L487 86.4 L487.5 86.4 L488 86.4 L488.5 86.4 L489 86.4 L489.5 86.4 L490 86.4 L490.5 86.4 L491 86.4 L491.5 86.4 L492 86.4 L492.5 86.4 L493 86.4 L493.5 86.4 L494 86.4 L494.5 86.39 L495 86.39 L495.5 86.38 L496 86.37 L496.5 86.36 L497 86.34 L497.5 86.3 L498 86.26 L498.5 86.2 L499 86.13 L499.5 86.03 L500 85.92 L500.5 85.8 L501 85.65 L501.5 85.5 L502 85.33 L502.5 85.16 L503 84.97 L503.5 84.76 L504 84.53 L504.5 84.26 L505 83.93 L505.5 83.54 L506 83.06 L506.5 82.48 L507 81.8 L507.5 81.02 L508 80.16 L508.5 79.25 L509 78.31 L509.5 77.38 L510 76.48 L510.5 75.63 L511 74.83 L511.5 74.04 L512 73.2 L512.5 72.28 L513 71.25 L513.5 70.11 L514 68.87 L514.5 67.55 L515 66.19 L515.5 64.85 L516 63.6 L516.5 62.49 L517 61.57 L517.5 60.86 L518 60.43 L518.5 60.29 L519 60.41 L519.5 60.74 L520 61.22 L520.5 61.83 L521 62.55 L521.5 63.4 L522 64.39 L522.5 65.56 L523 66.88 L523.5 68.27 L524 69.74 L524.5 71.29 L525 72.92 L525.5 74.6 L526 76.31 L526.5 78 L527 79.63 L527.5 81.17 L528 82.59 L528.5 83.87 L529 84.99 L529.5 85.95 L530 86.75 L530.5 87.4 L531 87.92 L531.5 88.33 L532 88.64 L532.5 88.87 L533 89.03 L533.5 89.15 L534 89.24 L534.5 89.29 L535 89.33 L535.5 89.36 L536 89.37 L536.5 89.38 L537 89.39 L537.5 89.39 L538 89.4 L538.5 89.4 L539 89.4 L539.5 89.4 L540 89.4 L540.5 89.4 L541 89.4 L541.5 89.4 L542 89.4 L542.5 89.4 L543 89.4 L543.5 89.4 L544 89.4 L544.5 89.4 L545 89.4" fill="none" stroke="#f03c3c" stroke-width="0.85" stroke-linejoin="round" />
<circle cx="477.5" cy="86.67" r="0.42" fill="#6a3030" opacity="0.85"/>
<circle cx="478.5" cy="86.67" r="0.42" fill="#6a3030" opacity="0.85"/>
<circle cx="479.5" cy="86.13" r="0.42" fill="#6a3030" opacity="0.85"/>
<circle cx="480.5" cy="86.15" r="0.42" fill="#6a3030" opacity="0.85"/>
<circle cx="481.5" cy="86.6" r="0.42" fill="#6a3030" opacity="0.85"/>
<circle cx="482.5" cy="86.54" r="0.42" fill="#6a3030" opacity="0.85"/>
<circle cx="483.5" cy="86.5" r="0.42" fill="#6a3030" opacity="0.85"/>
<circle cx="484.5" cy="86.28" r="0.42" fill="#6a3030" opacity="0.85"/>
<circle cx="485.5" cy="86.46" r="0.42" fill="#6a3030" opacity="0.85"/>
<circle cx="486.5" cy="86.46" r="0.42" fill="#6a3030" opacity="0.85"/>
<circle cx="487.5" cy="86.45" r="0.42" fill="#6a3030" opacity="0.85"/>
<circle cx="488.5" cy="86.2" r="0.42" fill="#6a3030" opacity="0.85"/>
<circle cx="489.5" cy="86.36" r="0.42" fill="#6a3030" opacity="0.85"/>
<circle cx="490.5" cy="86.34" r="0.42" fill="#6a3030" opacity="0.85"/>
<circle cx="491.5" cy="86.53" r="0.42" fill="#6a3030" opacity="0.85"/>
<circle cx="492.5" cy="86.7" r="0.42" fill="#6a3030" opacity="0.85"/>
<circle cx="493.5" cy="86.67" r="0.42" fill="#6a3030" opacity="0.85"/>
<circle cx="494.5" cy="86.42" r="0.42" fill="#6a3030" opacity="0.85"/>
<circle cx="495.5" cy="86.35" r="0.42" fill="#6a3030" opacity="0.85"/>
<circle cx="496.5" cy="86.22" r="0.42" fill="#6a3030" opacity="0.85"/>
<circle cx="497.5" cy="86.02" r="0.42" fill="#6a3030" opacity="0.85"/>
<circle cx="498.5" cy="85.92" r="0.42" fill="#6a3030" opacity="0.85"/>
<circle cx="499.5" cy="86.01" r="0.42" fill="#6a3030" opacity="0.85"/>
<circle cx="500.5" cy="85.69" r="0.42" fill="#6a3030" opacity="0.85"/>
<circle cx="501.5" cy="85.43" r="0.42" fill="#6a3030" opacity="0.85"/>
<circle cx="502.5" cy="85.39" r="0.42" fill="#6a3030" opacity="0.85"/>
<circle cx="503.5" cy="84.78" r="0.42" fill="#6a3030" opacity="0.85"/>
<circle cx="504.5" cy="84.29" r="0.42" fill="#6a3030" opacity="0.85"/>
<circle cx="505.5" cy="83.38" r="0.42" fill="#6a3030" opacity="0.85"/>
<circle cx="506.5" cy="82.2" r="0.42" fill="#6a3030" opacity="0.85"/>
<circle cx="507.5" cy="80.92" r="0.42" fill="#6a3030" opacity="0.85"/>
<circle cx="508.5" cy="79.03" r="0.42" fill="#6a3030" opacity="0.85"/>
<circle cx="509.5" cy="77.38" r="0.42" fill="#6a3030" opacity="0.85"/>
<circle cx="510.5" cy="75.93" r="0.42" fill="#6a3030" opacity="0.85"/>
<circle cx="511.5" cy="74.14" r="0.42" fill="#6a3030" opacity="0.85"/>
<circle cx="512.5" cy="72.09" r="0.42" fill="#6a3030" opacity="0.85"/>
<circle cx="513.5" cy="70.35" r="0.42" fill="#6a3030" opacity="0.85"/>
<circle cx="514.5" cy="67.73" r="0.42" fill="#6a3030" opacity="0.85"/>
<circle cx="515.5" cy="64.99" r="0.42" fill="#6a3030" opacity="0.85"/>
<circle cx="516.5" cy="62.73" r="0.42" fill="#6a3030" opacity="0.85"/>
<circle cx="517.5" cy="61.02" r="0.42" fill="#6a3030" opacity="0.85"/>
<circle cx="518.5" cy="60.47" r="0.42" fill="#6a3030" opacity="0.85"/>
<circle cx="519.5" cy="60.65" r="0.42" fill="#6a3030" opacity="0.85"/>
<circle cx="520.5" cy="62.12" r="0.42" fill="#6a3030" opacity="0.85"/>
<circle cx="521.5" cy="63.68" r="0.42" fill="#6a3030" opacity="0.85"/>
<circle cx="522.5" cy="65.36" r="0.42" fill="#6a3030" opacity="0.85"/>
<circle cx="523.5" cy="68.42" r="0.42" fill="#6a3030" opacity="0.85"/>
<circle cx="524.5" cy="71.42" r="0.42" fill="#6a3030" opacity="0.85"/>
<circle cx="525.5" cy="74.58" r="0.42" fill="#6a3030" opacity="0.85"/>
<circle cx="526.5" cy="78.01" r="0.42" fill="#6a3030" opacity="0.85"/>
<circle cx="527.5" cy="81.17" r="0.42" fill="#6a3030" opacity="0.85"/>
<circle cx="528.5" cy="84.12" r="0.42" fill="#6a3030" opacity="0.85"/>
<circle cx="529.5" cy="85.95" r="0.42" fill="#6a3030" opacity="0.85"/>
<circle cx="530.5" cy="87.6" r="0.42" fill="#6a3030" opacity="0.85"/>
<circle cx="531.5" cy="88.24" r="0.42" fill="#6a3030" opacity="0.85"/>
<circle cx="532.5" cy="89.1" r="0.42" fill="#6a3030" opacity="0.85"/>
<circle cx="533.5" cy="89.39" r="0.42" fill="#6a3030" opacity="0.85"/>
<circle cx="534.5" cy="89.27" r="0.42" fill="#6a3030" opacity="0.85"/>
<circle cx="535.5" cy="89.4" r="0.42" fill="#6a3030" opacity="0.85"/>
<circle cx="536.5" cy="89.64" r="0.42" fill="#6a3030" opacity="0.85"/>
<circle cx="537.5" cy="89.53" r="0.42" fill="#6a3030" opacity="0.85"/>
<circle cx="538.5" cy="89.39" r="0.42" fill="#6a3030" opacity="0.85"/>
<circle cx="539.5" cy="89.23" r="0.42" fill="#6a3030" opacity="0.85"/>
<circle cx="540.5" cy="89.29" r="0.42" fill="#6a3030" opacity="0.85"/>
<circle cx="541.5" cy="89.52" r="0.42" fill="#6a3030" opacity="0.85"/>
<circle cx="542.5" cy="89.2" r="0.42" fill="#6a3030" opacity="0.85"/>
<circle cx="543.5" cy="89.64" r="0.42" fill="#6a3030" opacity="0.85"/>
<circle cx="544.5" cy="89.26" r="0.42" fill="#6a3030" opacity="0.85"/>
<path d="M499 129.14 L499.5 129.07 L500 128.99 L500.5 128.89 L501 128.78 L501.5 128.64 L502 128.5 L502.5 128.34 L503 128.19 L503.5 128.05 L504 127.92 L504.5 127.83 L505 127.77 L505.5 127.74 L506 127.77 L506.5 127.85 L507 127.97 L507.5 128.12 L508 128.31 L508.5 128.5 L509 128.7 L509.5 128.89 L510 129.07 L510.5 129.24 L511 129.39 L511.5 129.52" fill="none" stroke="#ffaa44" stroke-width="0.7" stroke-linejoin="round" />
<path d="M502 129.12 L502.5 129.01 L503 128.85 L503.5 128.62 L504 128.29 L504.5 127.85 L505 127.27 L505.5 126.53 L506 125.61 L506.5 124.51 L507 123.22 L507.5 121.78 L508 120.23 L508.5 118.62 L509 117.03 L509.5 115.55 L510 114.27 L510.5 113.28 L511 112.64 L511.5 112.4 L512 112.58 L512.5 113.1 L513 113.95 L513.5 115.08 L514 116.43 L514.5 117.93 L515 119.51 L515.5 121.1 L516 122.65 L516.5 124.1 L517 125.42 L517.5 126.58 L518 127.59 L518.5 128.43 L519 129.11 L519.5 129.66 L520 130.09 L520.5 130.42 L521 130.66 L521.5 130.84 L522 130.98" fill="none" stroke="#ff33ff" stroke-width="0.7" stroke-linejoin="round" />
<path d="M507.5 129.16 L508 129.05 L508.5 128.87 L509 128.61 L509.5 128.23 L510 127.72 L510.5 127.03 L511 126.13 L511.5 125.01 L512 123.65 L512.5 122.05 L513 120.24 L513.5 118.27 L514 116.21 L514.5 114.16 L515 112.22 L515.5 110.51 L516 109.15 L516.5 108.23 L517 107.82 L517.5 107.95 L518 108.56 L518.5 109.62 L519 111.06 L519.5 112.8 L520 114.75 L520.5 116.8 L521 118.87 L521.5 120.87 L522 122.73 L522.5 124.41 L523 125.88 L523.5 127.12 L524 128.15 L524.5 128.97 L525 129.62 L525.5 130.11 L526 130.47 L526.5 130.74 L527 130.92 L527.5 131.05" fill="none" stroke="#22eeee" stroke-width="0.7" stroke-linejoin="round" />
<path d="M516 130.33 L516.5 130.33 L517 130.27 L517.5 130.16 L518 129.97 L518.5 129.71 L519 129.36 L519.5 128.94 L520 128.47 L520.5 127.97 L521 127.49 L521.5 127.05 L522 126.7 L522.5 126.49 L523 126.42 L523.5 126.5 L524 126.69 L524.5 126.99 L525 127.37 L525.5 127.8 L526 128.27 L526.5 128.74 L527 129.2 L527.5 129.61 L528 129.98 L528.5 130.3 L529 130.56 L529.5 130.76 L530 130.92 L530.5 131.04 L531 131.12" fill="none" stroke="#4444ff" stroke-width="0.7" stroke-linejoin="round" />
<path d="M477.5 129.3 L478 129.3 L478.5 129.3 L479 129.3 L479.5 129.3 L480 129.3 L480.5 129.3 L481 129.3 L481.5 129.3 L482 129.3 L482.5 129.3 L483 129.3 L483.5 129.3 L484 129.3 L484.5 129.3 L485 129.3 L485.5 129.3 L486 129.3 L486.5 129.3 L487 129.3 L487.5 129.3 L488 129.3 L488.5 129.3 L489 129.3 L489.5 129.3 L490 129.3 L490.5 129.3 L491 129.3 L491.5 129.3 L492 129.3 L492.5 129.3 L493 129.3 L493.5 129.3 L494 129.3 L494.5 129.3 L495 129.3 L495.5 129.29 L496 129.29 L496.5 129.28 L497 129.27 L497.5 129.25 L498 129.22 L498.5 129.18 L499 129.13 L499.5 129.06 L500 128.97 L500.5 128.85 L501 128.7 L501.5 128.52 L502 128.3 L502.5 128.04 L503 127.72 L503.5 127.34 L504 126.89 L504.5 126.34 L505 125.69 L505.5 124.9 L506 123.98 L506.5 122.9 L507 121.67 L507.5 120.28 L508 118.75 L508.5 117.11 L509 115.41 L509.5 113.68 L510 111.98 L510.5 110.37 L511 108.88 L511.5 107.54 L512 106.34 L512.5 105.23 L513 104.22 L513.5 103.3 L514 102.5 L514.5 101.84 L515 101.36 L515.5 101.11 L516 101.13 L516.5 101.47 L517 102.16 L517.5 103.17 L518 104.45 L518.5 105.94 L519 107.61 L519.5 109.37 L520 111.19 L520.5 112.99 L521 114.75 L521.5 116.44 L522 118.04 L522.5 119.56 L523 120.99 L523.5 122.33 L524 123.56 L524.5 124.68 L525 125.71 L525.5 126.63 L526 127.46 L526.5 128.2 L527 128.84 L527.5 129.38 L528 129.83 L528.5 130.2 L529 130.5 L529.5 130.73 L530 130.9 L530.5 131.03 L531 131.12 L531.5 131.18 L532 131.23 L532.5 131.25 L533 131.27 L533.5 131.28 L534 131.29 L534.5 131.29 L535 131.3 L535.5 131.3 L536 131.3 L536.5 131.3 L537 131.3 L537.5 131.3 L538 131.3 L538.5 131.3 L539 131.3 L539.5 131.3 L540 131.3 L540.5 131.3 L541 131.3 L541.5 131.3 L542 131.3 L542.5 131.3 L543 131.3 L543.5 131.3 L544 131.3 L544.5 131.3 L545 131.3" fill="none" stroke="#f03c3c" stroke-width="0.85" stroke-linejoin="round" />
<circle cx="477.5" cy="129.14" r="0.42" fill="#6a3030" opacity="0.85"/>
<circle cx="478.5" cy="129.33" r="0.42" fill="#6a3030" opacity="0.85"/>
<circle cx="479.5" cy="129.22" r="0.42" fill="#6a3030" opacity="0.85"/>
<circle cx="480.5" cy="129.36" r="0.42" fill="#6a3030" opacity="0.85"/>
<circle cx="481.5" cy="129.38" r="0.42" fill="#6a3030" opacity="0.85"/>
<circle cx="482.5" cy="129.04" r="0.42" fill="#6a3030" opacity="0.85"/>
<circle cx="483.5" cy="129.01" r="0.42" fill="#6a3030" opacity="0.85"/>
<circle cx="484.5" cy="129.5" r="0.42" fill="#6a3030" opacity="0.85"/>
<circle cx="485.5" cy="129.16" r="0.42" fill="#6a3030" opacity="0.85"/>
<circle cx="486.5" cy="129.14" r="0.42" fill="#6a3030" opacity="0.85"/>
<circle cx="487.5" cy="129.6" r="0.42" fill="#6a3030" opacity="0.85"/>
<circle cx="488.5" cy="129.28" r="0.42" fill="#6a3030" opacity="0.85"/>
<circle cx="489.5" cy="129.5" r="0.42" fill="#6a3030" opacity="0.85"/>
<circle cx="490.5" cy="129.29" r="0.42" fill="#6a3030" opacity="0.85"/>
<circle cx="491.5" cy="129.38" r="0.42" fill="#6a3030" opacity="0.85"/>
<circle cx="492.5" cy="129.09" r="0.42" fill="#6a3030" opacity="0.85"/>
<circle cx="493.5" cy="129.38" r="0.42" fill="#6a3030" opacity="0.85"/>
<circle cx="494.5" cy="129.52" r="0.42" fill="#6a3030" opacity="0.85"/>
<circle cx="495.5" cy="129.31" r="0.42" fill="#6a3030" opacity="0.85"/>
<circle cx="496.5" cy="129.42" r="0.42" fill="#6a3030" opacity="0.85"/>
<circle cx="497.5" cy="129.35" r="0.42" fill="#6a3030" opacity="0.85"/>
<circle cx="498.5" cy="128.92" r="0.42" fill="#6a3030" opacity="0.85"/>
<circle cx="499.5" cy="129.21" r="0.42" fill="#6a3030" opacity="0.85"/>
<circle cx="500.5" cy="128.91" r="0.42" fill="#6a3030" opacity="0.85"/>
<circle cx="501.5" cy="128.4" r="0.42" fill="#6a3030" opacity="0.85"/>
<circle cx="502.5" cy="127.76" r="0.42" fill="#6a3030" opacity="0.85"/>
<circle cx="503.5" cy="127.56" r="0.42" fill="#6a3030" opacity="0.85"/>
<circle cx="504.5" cy="126.33" r="0.42" fill="#6a3030" opacity="0.85"/>
<circle cx="505.5" cy="125.04" r="0.42" fill="#6a3030" opacity="0.85"/>
<circle cx="506.5" cy="123.13" r="0.42" fill="#6a3030" opacity="0.85"/>
<circle cx="507.5" cy="120.41" r="0.42" fill="#6a3030" opacity="0.85"/>
<circle cx="508.5" cy="117.37" r="0.42" fill="#6a3030" opacity="0.85"/>
<circle cx="509.5" cy="113.62" r="0.42" fill="#6a3030" opacity="0.85"/>
<circle cx="510.5" cy="110.55" r="0.42" fill="#6a3030" opacity="0.85"/>
<circle cx="511.5" cy="107.51" r="0.42" fill="#6a3030" opacity="0.85"/>
<circle cx="512.5" cy="105.5" r="0.42" fill="#6a3030" opacity="0.85"/>
<circle cx="513.5" cy="103.53" r="0.42" fill="#6a3030" opacity="0.85"/>
<circle cx="514.5" cy="101.6" r="0.42" fill="#6a3030" opacity="0.85"/>
<circle cx="515.5" cy="100.89" r="0.42" fill="#6a3030" opacity="0.85"/>
<circle cx="516.5" cy="101.3" r="0.42" fill="#6a3030" opacity="0.85"/>
<circle cx="517.5" cy="103.45" r="0.42" fill="#6a3030" opacity="0.85"/>
<circle cx="518.5" cy="105.91" r="0.42" fill="#6a3030" opacity="0.85"/>
<circle cx="519.5" cy="109.45" r="0.42" fill="#6a3030" opacity="0.85"/>
<circle cx="520.5" cy="112.87" r="0.42" fill="#6a3030" opacity="0.85"/>
<circle cx="521.5" cy="116.44" r="0.42" fill="#6a3030" opacity="0.85"/>
<circle cx="522.5" cy="119.49" r="0.42" fill="#6a3030" opacity="0.85"/>
<circle cx="523.5" cy="122.24" r="0.42" fill="#6a3030" opacity="0.85"/>
<circle cx="524.5" cy="124.73" r="0.42" fill="#6a3030" opacity="0.85"/>
<circle cx="525.5" cy="126.68" r="0.42" fill="#6a3030" opacity="0.85"/>
<circle cx="526.5" cy="128.44" r="0.42" fill="#6a3030" opacity="0.85"/>
<circle cx="527.5" cy="129.49" r="0.42" fill="#6a3030" opacity="0.85"/>
<circle cx="528.5" cy="130.46" r="0.42" fill="#6a3030" opacity="0.85"/>
<circle cx="529.5" cy="130.94" r="0.42" fill="#6a3030" opacity="0.85"/>
<circle cx="530.5" cy="131.32" r="0.42" fill="#6a3030" opacity="0.85"/>
<circle cx="531.5" cy="131.28" r="0.42" fill="#6a3030" opacity="0.85"/>
<circle cx="532.5" cy="131.05" r="0.42" fill="#6a3030" opacity="0.85"/>
<circle cx="533.5" cy="131.5" r="0.42" fill="#6a3030" opacity="0.85"/>
<circle cx="534.5" cy="131.57" r="0.42" fill="#6a3030" opacity="0.85"/>
<circle cx="535.5" cy="131.54" r="0.42" fill="#6a3030" opacity="0.85"/>
<circle cx="536.5" cy="131.34" r="0.42" fill="#6a3030" opacity="0.85"/>
<circle cx="537.5" cy="131.43" r="0.42" fill="#6a3030" opacity="0.85"/>
<circle cx="538.5" cy="131.13" r="0.42" fill="#6a3030" opacity="0.85"/>
<circle cx="539.5" cy="131.5" r="0.42" fill="#6a3030" opacity="0.85"/>
<circle cx="540.5" cy="131.34" r="0.42" fill="#6a3030" opacity="0.85"/>
<circle cx="541.5" cy="131.17" r="0.42" fill="#6a3030" opacity="0.85"/>
<circle cx="542.5" cy="131.04" r="0.42" fill="#6a3030" opacity="0.85"/>
<circle cx="543.5" cy="131.51" r="0.42" fill="#6a3030" opacity="0.85"/>
<circle cx="544.5" cy="131.59" r="0.42" fill="#6a3030" opacity="0.85"/>
<path d="M489 169.33 L489.5 169.27 L490 169.18 L490.5 169.08 L491 168.94 L491.5 168.76 L492 168.55 L492.5 168.28 L493 167.95 L493.5 167.56 L494 167.09 L494.5 166.54 L495 165.9 L495.5 165.18 L496 164.36 L496.5 163.46 L497 162.48 L497.5 161.43 L498 160.31 L498.5 159.16 L499 157.99 L499.5 156.82 L500 155.69 L500.5 154.61 L501 153.63 L501.5 152.76 L502 152.04 L502.5 151.49 L503 151.12 L503.5 150.94 L504 150.96 L504.5 151.16 L505 151.53 L505.5 152.07 L506 152.76 L506.5 153.57 L507 154.5 L507.5 155.51 L508 156.58 L508.5 157.69 L509 158.82 L509.5 159.95 L510 161.04 L510.5 162.1 L511 163.1 L511.5 164.04 L512 164.9 L512.5 165.69 L513 166.39 L513.5 167.02 L514 167.56 L514.5 168.04 L515 168.44 L515.5 168.78 L516 169.07 L516.5 169.3 L517 169.5 L517.5 169.65 L518 169.78 L518.5 169.88 L519 169.95 L519.5 170.01" fill="none" stroke="#ffaa44" stroke-width="0.7" stroke-linejoin="round" />
<path d="M495 169.32 L495.5 169.27 L496 169.21 L496.5 169.13 L497 169.03 L497.5 168.92 L498 168.78 L498.5 168.61 L499 168.42 L499.5 168.2 L500 167.94 L500.5 167.64 L501 167.31 L501.5 166.94 L502 166.54 L502.5 166.09 L503 165.62 L503.5 165.11 L504 164.58 L504.5 164.02 L505 163.46 L505.5 162.9 L506 162.34 L506.5 161.8 L507 161.29 L507.5 160.82 L508 160.4 L508.5 160.04 L509 159.75 L509.5 159.53 L510 159.4 L510.5 159.35 L511 159.4 L511.5 159.52 L512 159.73 L512.5 160.01 L513 160.36 L513.5 160.77 L514 161.24 L514.5 161.75 L515 162.29 L515.5 162.86 L516 163.44 L516.5 164.02 L517 164.59 L517.5 165.15 L518 165.7 L518.5 166.21 L519 166.69 L519.5 167.14 L520 167.55 L520.5 167.93 L521 168.27 L521.5 168.57 L522 168.83 L522.5 169.06 L523 169.26 L523.5 169.43 L524 169.57 L524.5 169.7 L525 169.8 L525.5 169.88 L526 169.95 L526.5 170 L527 170.05" fill="none" stroke="#ff33ff" stroke-width="0.7" stroke-linejoin="round" />
<path d="M504 169.37 L504.5 169.32 L505 169.26 L505.5 169.17 L506 169.06 L506.5 168.93 L507 168.75 L507.5 168.54 L508 168.29 L508.5 167.99 L509 167.63 L509.5 167.22 L510 166.75 L510.5 166.22 L511 165.63 L511.5 164.99 L512 164.3 L512.5 163.58 L513 162.83 L513.5 162.08 L514 161.34 L514.5 160.62 L515 159.95 L515.5 159.35 L516 158.84 L516.5 158.43 L517 158.14 L517.5 157.97 L518 157.94 L518.5 158.05 L519 158.3 L519.5 158.68 L520 159.18 L520.5 159.78 L521 160.46 L521.5 161.2 L522 161.99 L522.5 162.79 L523 163.59 L523.5 164.38 L524 165.13 L524.5 165.84 L525 166.49 L525.5 167.08 L526 167.61 L526.5 168.07 L527 168.47 L527.5 168.82 L528 169.1 L528.5 169.34 L529 169.54 L529.5 169.69 L530 169.82 L530.5 169.91 L531 169.99 L531.5 170.05" fill="none" stroke="#22eeee" stroke-width="0.7" stroke-linejoin="round" />
<path d="M514 169.78 L514.5 169.71 L515 169.6 L515.5 169.44 L516 169.22 L516.5 168.92 L517 168.55 L517.5 168.09 L518 167.54 L518.5 166.92 L519 166.23 L519.5 165.49 L520 164.75 L520.5 164.02 L521 163.36 L521.5 162.79 L522 162.36 L522.5 162.08 L523 161.99 L523.5 162.12 L524 162.5 L524.5 163.09 L525 163.84 L525.5 164.69 L526 165.58 L526.5 166.44 L527 167.24 L527.5 167.94 L528 168.53 L528.5 169.01 L529 169.37 L529.5 169.65 L530 169.84 L530.5 169.97" fill="none" stroke="#4444ff" stroke-width="0.7" stroke-linejoin="round" />
<path d="M477.5 169.5 L478 169.5 L478.5 169.5 L479 169.5 L479.5 169.5 L480 169.5 L480.5 169.5 L481 169.5 L481.5 169.5 L482 169.5 L482.5 169.5 L483 169.5 L483.5 169.5 L484 169.5 L484.5 169.49 L485 169.49 L485.5 169.49 L486 169.48 L486.5 169.47 L487 169.46 L487.5 169.44 L488 169.41 L488.5 169.37 L489 169.32 L489.5 169.26 L490 169.17 L490.5 169.06 L491 168.92 L491.5 168.74 L492 168.51 L492.5 168.23 L493 167.89 L493.5 167.48 L494 166.98 L494.5 166.4 L495 165.73 L495.5 164.95 L496 164.07 L496.5 163.09 L497 162.01 L497.5 160.84 L498 159.59 L498.5 158.27 L499 156.9 L499.5 155.51 L500 154.11 L500.5 152.74 L501 151.42 L501.5 150.17 L502 149.03 L502.5 148.01 L503 147.13 L503.5 146.41 L504 145.85 L504.5 145.44 L505 145.17 L505.5 145.04 L506 145.04 L506.5 145.16 L507 145.37 L507.5 145.67 L508 146.03 L508.5 146.44 L509 146.88 L509.5 147.32 L510 147.75 L510.5 148.17 L511 148.55 L511.5 148.9 L512 149.2 L512.5 149.45 L513 149.66 L513.5 149.84 L514 149.98 L514.5 150.09 L515 150.18 L515.5 150.25 L516 150.31 L516.5 150.37 L517 150.42 L517.5 150.48 L518 150.53 L518.5 150.6 L519 150.7 L519.5 150.83 L520 151.02 L520.5 151.29 L521 151.66 L521.5 152.15 L522 152.77 L522.5 153.53 L523 154.45 L523.5 155.53 L524 156.81 L524.5 158.23 L525 159.73 L525.5 161.26 L526 162.74 L526.5 164.12 L527 165.37 L527.5 166.45 L528 167.35 L528.5 168.08 L529 168.66 L529.5 169.1 L530 169.43 L530.5 169.67 L531 169.84 L531.5 169.95 L532 170.03 L532.5 170.09 L533 170.13 L533.5 170.15 L534 170.17 L534.5 170.18 L535 170.19 L535.5 170.19 L536 170.19 L536.5 170.2 L537 170.2 L537.5 170.2 L538 170.2 L538.5 170.2 L539 170.2 L539.5 170.2 L540 170.2 L540.5 170.2 L541 170.2 L541.5 170.2 L542 170.2 L542.5 170.2 L543 170.2 L543.5 170.2 L544 170.2 L544.5 170.2 L545 170.2" fill="none" stroke="#f03c3c" stroke-width="0.85" stroke-linejoin="round" />
<circle cx="477.5" cy="169.34" r="0.42" fill="#6a3030" opacity="0.85"/>
<circle cx="478.5" cy="169.26" r="0.42" fill="#6a3030" opacity="0.85"/>
<circle cx="479.5" cy="169.44" r="0.42" fill="#6a3030" opacity="0.85"/>
<circle cx="480.5" cy="169.29" r="0.42" fill="#6a3030" opacity="0.85"/>
<circle cx="481.5" cy="169.24" r="0.42" fill="#6a3030" opacity="0.85"/>
<circle cx="482.5" cy="169.44" r="0.42" fill="#6a3030" opacity="0.85"/>
<circle cx="483.5" cy="169.75" r="0.42" fill="#6a3030" opacity="0.85"/>
<circle cx="484.5" cy="169.67" r="0.42" fill="#6a3030" opacity="0.85"/>
<circle cx="485.5" cy="169.64" r="0.42" fill="#6a3030" opacity="0.85"/>
<circle cx="486.5" cy="169.3" r="0.42" fill="#6a3030" opacity="0.85"/>
<circle cx="487.5" cy="169.46" r="0.42" fill="#6a3030" opacity="0.85"/>
<circle cx="488.5" cy="169.24" r="0.42" fill="#6a3030" opacity="0.85"/>
<circle cx="489.5" cy="169.06" r="0.42" fill="#6a3030" opacity="0.85"/>
<circle cx="490.5" cy="168.83" r="0.42" fill="#6a3030" opacity="0.85"/>
<circle cx="491.5" cy="168.57" r="0.42" fill="#6a3030" opacity="0.85"/>
<circle cx="492.5" cy="168.49" r="0.42" fill="#6a3030" opacity="0.85"/>
<circle cx="493.5" cy="167.67" r="0.42" fill="#6a3030" opacity="0.85"/>
<circle cx="494.5" cy="166.59" r="0.42" fill="#6a3030" opacity="0.85"/>
<circle cx="495.5" cy="165.13" r="0.42" fill="#6a3030" opacity="0.85"/>
<circle cx="496.5" cy="162.91" r="0.42" fill="#6a3030" opacity="0.85"/>
<circle cx="497.5" cy="160.73" r="0.42" fill="#6a3030" opacity="0.85"/>
<circle cx="498.5" cy="158.35" r="0.42" fill="#6a3030" opacity="0.85"/>
<circle cx="499.5" cy="155.65" r="0.42" fill="#6a3030" opacity="0.85"/>
<circle cx="500.5" cy="152.95" r="0.42" fill="#6a3030" opacity="0.85"/>
<circle cx="501.5" cy="150.4" r="0.42" fill="#6a3030" opacity="0.85"/>
<circle cx="502.5" cy="147.76" r="0.42" fill="#6a3030" opacity="0.85"/>
<circle cx="503.5" cy="146.48" r="0.42" fill="#6a3030" opacity="0.85"/>
<circle cx="504.5" cy="145.54" r="0.42" fill="#6a3030" opacity="0.85"/>
<circle cx="505.5" cy="145.05" r="0.42" fill="#6a3030" opacity="0.85"/>
<circle cx="506.5" cy="144.97" r="0.42" fill="#6a3030" opacity="0.85"/>
<circle cx="507.5" cy="145.66" r="0.42" fill="#6a3030" opacity="0.85"/>
<circle cx="508.5" cy="146.2" r="0.42" fill="#6a3030" opacity="0.85"/>
<circle cx="509.5" cy="147.58" r="0.42" fill="#6a3030" opacity="0.85"/>
<circle cx="510.5" cy="148.39" r="0.42" fill="#6a3030" opacity="0.85"/>
<circle cx="511.5" cy="148.93" r="0.42" fill="#6a3030" opacity="0.85"/>
<circle cx="512.5" cy="149.33" r="0.42" fill="#6a3030" opacity="0.85"/>
<circle cx="513.5" cy="150.08" r="0.42" fill="#6a3030" opacity="0.85"/>
<circle cx="514.5" cy="150.13" r="0.42" fill="#6a3030" opacity="0.85"/>
<circle cx="515.5" cy="150.48" r="0.42" fill="#6a3030" opacity="0.85"/>
<circle cx="516.5" cy="150.58" r="0.42" fill="#6a3030" opacity="0.85"/>
<circle cx="517.5" cy="150.48" r="0.42" fill="#6a3030" opacity="0.85"/>
<circle cx="518.5" cy="150.55" r="0.42" fill="#6a3030" opacity="0.85"/>
<circle cx="519.5" cy="150.89" r="0.42" fill="#6a3030" opacity="0.85"/>
<circle cx="520.5" cy="151.25" r="0.42" fill="#6a3030" opacity="0.85"/>
<circle cx="521.5" cy="151.94" r="0.42" fill="#6a3030" opacity="0.85"/>
<circle cx="522.5" cy="153.42" r="0.42" fill="#6a3030" opacity="0.85"/>
<circle cx="523.5" cy="155.72" r="0.42" fill="#6a3030" opacity="0.85"/>
<circle cx="524.5" cy="157.96" r="0.42" fill="#6a3030" opacity="0.85"/>
<circle cx="525.5" cy="160.99" r="0.42" fill="#6a3030" opacity="0.85"/>
<circle cx="526.5" cy="164.2" r="0.42" fill="#6a3030" opacity="0.85"/>
<circle cx="527.5" cy="166.31" r="0.42" fill="#6a3030" opacity="0.85"/>
<circle cx="528.5" cy="168.1" r="0.42" fill="#6a3030" opacity="0.85"/>
<circle cx="529.5" cy="169.08" r="0.42" fill="#6a3030" opacity="0.85"/>
<circle cx="530.5" cy="169.57" r="0.42" fill="#6a3030" opacity="0.85"/>
<circle cx="531.5" cy="170.25" r="0.42" fill="#6a3030" opacity="0.85"/>
<circle cx="532.5" cy="169.91" r="0.42" fill="#6a3030" opacity="0.85"/>
<circle cx="533.5" cy="170.1" r="0.42" fill="#6a3030" opacity="0.85"/>
<circle cx="534.5" cy="170" r="0.42" fill="#6a3030" opacity="0.85"/>
<circle cx="535.5" cy="170.27" r="0.42" fill="#6a3030" opacity="0.85"/>
<circle cx="536.5" cy="170.06" r="0.42" fill="#6a3030" opacity="0.85"/>
<circle cx="537.5" cy="170.11" r="0.42" fill="#6a3030" opacity="0.85"/>
<circle cx="538.5" cy="170.35" r="0.42" fill="#6a3030" opacity="0.85"/>
<circle cx="539.5" cy="170.09" r="0.42" fill="#6a3030" opacity="0.85"/>
<circle cx="540.5" cy="170.24" r="0.42" fill="#6a3030" opacity="0.85"/>
<circle cx="541.5" cy="170.44" r="0.42" fill="#6a3030" opacity="0.85"/>
<circle cx="542.5" cy="169.96" r="0.42" fill="#6a3030" opacity="0.85"/>
<circle cx="543.5" cy="169.94" r="0.42" fill="#6a3030" opacity="0.85"/>
<circle cx="544.5" cy="170.04" r="0.42" fill="#6a3030" opacity="0.85"/>
<path d="M580.8 49.22 L581.3 49.18 L581.8 49.13 L582.3 49.08 L582.8 49.02 L583.3 48.95 L583.8 48.88 L584.3 48.81 L584.8 48.73 L585.3 48.66 L585.8 48.58 L586.3 48.51 L586.8 48.44 L587.3 48.39 L587.8 48.34 L588.3 48.3 L588.8 48.28 L589.3 48.28 L589.8 48.29 L590.3 48.32 L590.8 48.37 L591.3 48.44 L591.8 48.52 L592.3 48.62 L592.8 48.74 L593.3 48.87 L593.8 49.02 L594.3 49.17 L594.8 49.33 L595.3 49.5 L595.8 49.67 L596.3 49.85 L596.8 50.03 L597.3 50.21 L597.8 50.38 L598.3 50.55" fill="none" stroke="#ff33ff" stroke-width="0.7" stroke-linejoin="round" />
<path d="M589.3 49.26 L589.8 49.18 L590.3 49.06 L590.8 48.91 L591.3 48.72 L591.8 48.49 L592.3 48.24 L592.8 47.98 L593.3 47.72 L593.8 47.49 L594.3 47.3 L594.8 47.19 L595.3 47.16 L595.8 47.24 L596.3 47.42 L596.8 47.72 L597.3 48.11 L597.8 48.56 L598.3 49.04 L598.8 49.5 L599.3 49.94 L599.8 50.33 L600.3 50.65 L600.8 50.92 L601.3 51.14" fill="none" stroke="#22eeee" stroke-width="0.7" stroke-linejoin="round" />
<path d="M590.8 49.35 L591.3 49.25 L591.8 49.1 L592.3 48.88 L592.8 48.58 L593.3 48.17 L593.8 47.65 L594.3 47.03 L594.8 46.35 L595.3 45.62 L595.8 44.93 L596.3 44.31 L596.8 43.85 L597.3 43.6 L597.8 43.6 L598.3 43.99 L598.8 44.85 L599.3 46.02 L599.8 47.31 L600.3 48.52 L600.8 49.54 L601.3 50.32 L601.8 50.86 L602.3 51.21" fill="none" stroke="#4444ff" stroke-width="0.7" stroke-linejoin="round" />
<path d="M595.3 49.83 L595.8 49.63 L596.3 49.11 L596.8 48.03 L597.3 46.1 L597.8 43.06 L598.3 38.8 L598.8 33.55 L599.3 27.96 L599.8 23.01 L600.3 19.77 L600.8 19.02 L601.3 20.25 L601.8 22.95 L602.3 26.73 L602.8 31.1 L603.3 35.57 L603.8 39.71 L604.3 43.25 L604.8 46.06 L605.3 48.14 L605.8 49.6 L606.3 50.55 L606.8 51.14 L607.3 51.48 L607.8 51.67" fill="none" stroke="#33dd33" stroke-width="0.7" stroke-linejoin="round" />
<path d="M549.8 49.4 L550.3 49.4 L550.8 49.4 L551.3 49.4 L551.8 49.4 L552.3 49.4 L552.8 49.4 L553.3 49.4 L553.8 49.4 L554.3 49.4 L554.8 49.4 L555.3 49.4 L555.8 49.4 L556.3 49.4 L556.8 49.4 L557.3 49.4 L557.8 49.4 L558.3 49.4 L558.8 49.4 L559.3 49.4 L559.8 49.4 L560.3 49.4 L560.8 49.4 L561.3 49.4 L561.8 49.4 L562.3 49.4 L562.8 49.4 L563.3 49.4 L563.8 49.4 L564.3 49.4 L564.8 49.4 L565.3 49.4 L565.8 49.4 L566.3 49.4 L566.8 49.4 L567.3 49.4 L567.8 49.4 L568.3 49.4 L568.8 49.4 L569.3 49.4 L569.8 49.4 L570.3 49.4 L570.8 49.4 L571.3 49.4 L571.8 49.4 L572.3 49.4 L572.8 49.4 L573.3 49.4 L573.8 49.4 L574.3 49.4 L574.8 49.39 L575.3 49.39 L575.8 49.39 L576.3 49.38 L576.8 49.38 L577.3 49.37 L577.8 49.36 L578.3 49.35 L578.8 49.33 L579.3 49.31 L579.8 49.28 L580.3 49.25 L580.8 49.22 L581.3 49.18 L581.8 49.13 L582.3 49.08 L582.8 49.02 L583.3 48.95 L583.8 48.88 L584.3 48.81 L584.8 48.73 L585.3 48.65 L585.8 48.58 L586.3 48.5 L586.8 48.42 L587.3 48.35 L587.8 48.28 L588.3 48.21 L588.8 48.13 L589.3 48.03 L589.8 47.91 L590.3 47.76 L590.8 47.56 L591.3 47.29 L591.8 46.93 L592.3 46.49 L592.8 45.94 L593.3 45.3 L593.8 44.56 L594.3 43.75 L594.8 42.9 L595.3 42.01 L595.8 41.06 L596.3 39.97 L596.8 38.57 L597.3 36.6 L597.8 33.8 L598.3 30.2 L598.8 26.07 L599.3 21.87 L599.8 18.39 L600.3 16.5 L600.8 16.86 L601.3 18.92 L601.8 22.18 L602.3 26.31 L602.8 30.89 L603.3 35.46 L603.8 39.66 L604.3 43.22 L604.8 46.05 L605.3 48.14 L605.8 49.59 L606.3 50.55 L606.8 51.14 L607.3 51.48 L607.8 51.67 L608.3 51.78 L608.8 51.83 L609.3 51.86 L609.8 51.87 L610.3 51.88 L610.8 51.88 L611.3 51.89 L611.8 51.89 L612.3 51.89 L612.8 51.89 L613.3 51.89 L613.8 51.9 L614.3 51.9 L614.8 51.9 L615.3 51.9 L615.8 51.9 L616.3 51.9 L616.8 51.9" fill="none" stroke="#f03c3c" stroke-width="0.85" stroke-linejoin="round" />
<circle cx="549.8" cy="49.47" r="0.42" fill="#6a3030" opacity="0.85"/>
<circle cx="550.8" cy="49.55" r="0.42" fill="#6a3030" opacity="0.85"/>
<circle cx="551.8" cy="49.58" r="0.42" fill="#6a3030" opacity="0.85"/>
<circle cx="552.8" cy="49.67" r="0.42" fill="#6a3030" opacity="0.85"/>
<circle cx="553.8" cy="49.54" r="0.42" fill="#6a3030" opacity="0.85"/>
<circle cx="554.8" cy="49.65" r="0.42" fill="#6a3030" opacity="0.85"/>
<circle cx="555.8" cy="49.12" r="0.42" fill="#6a3030" opacity="0.85"/>
<circle cx="556.8" cy="49.38" r="0.42" fill="#6a3030" opacity="0.85"/>
<circle cx="557.8" cy="49.67" r="0.42" fill="#6a3030" opacity="0.85"/>
<circle cx="558.8" cy="49.49" r="0.42" fill="#6a3030" opacity="0.85"/>
<circle cx="559.8" cy="49.64" r="0.42" fill="#6a3030" opacity="0.85"/>
<circle cx="560.8" cy="49.17" r="0.42" fill="#6a3030" opacity="0.85"/>
<circle cx="561.8" cy="49.38" r="0.42" fill="#6a3030" opacity="0.85"/>
<circle cx="562.8" cy="49.25" r="0.42" fill="#6a3030" opacity="0.85"/>
<circle cx="563.8" cy="49.43" r="0.42" fill="#6a3030" opacity="0.85"/>
<circle cx="564.8" cy="49.44" r="0.42" fill="#6a3030" opacity="0.85"/>
<circle cx="565.8" cy="49.11" r="0.42" fill="#6a3030" opacity="0.85"/>
<circle cx="566.8" cy="49.23" r="0.42" fill="#6a3030" opacity="0.85"/>
<circle cx="567.8" cy="49.27" r="0.42" fill="#6a3030" opacity="0.85"/>
<circle cx="568.8" cy="49.65" r="0.42" fill="#6a3030" opacity="0.85"/>
<circle cx="569.8" cy="49.56" r="0.42" fill="#6a3030" opacity="0.85"/>
<circle cx="570.8" cy="49.2" r="0.42" fill="#6a3030" opacity="0.85"/>
<circle cx="571.8" cy="49.58" r="0.42" fill="#6a3030" opacity="0.85"/>
<circle cx="572.8" cy="49.18" r="0.42" fill="#6a3030" opacity="0.85"/>
<circle cx="573.8" cy="49.47" r="0.42" fill="#6a3030" opacity="0.85"/>
<circle cx="574.8" cy="49.17" r="0.42" fill="#6a3030" opacity="0.85"/>
<circle cx="575.8" cy="49.09" r="0.42" fill="#6a3030" opacity="0.85"/>
<circle cx="576.8" cy="49.6" r="0.42" fill="#6a3030" opacity="0.85"/>
<circle cx="577.8" cy="49.18" r="0.42" fill="#6a3030" opacity="0.85"/>
<circle cx="578.8" cy="49.16" r="0.42" fill="#6a3030" opacity="0.85"/>
<circle cx="579.8" cy="49.57" r="0.42" fill="#6a3030" opacity="0.85"/>
<circle cx="580.8" cy="49.44" r="0.42" fill="#6a3030" opacity="0.85"/>
<circle cx="581.8" cy="49" r="0.42" fill="#6a3030" opacity="0.85"/>
<circle cx="582.8" cy="49.29" r="0.42" fill="#6a3030" opacity="0.85"/>
<circle cx="583.8" cy="48.9" r="0.42" fill="#6a3030" opacity="0.85"/>
<circle cx="584.8" cy="48.84" r="0.42" fill="#6a3030" opacity="0.85"/>
<circle cx="585.8" cy="48.4" r="0.42" fill="#6a3030" opacity="0.85"/>
<circle cx="586.8" cy="48.69" r="0.42" fill="#6a3030" opacity="0.85"/>
<circle cx="587.8" cy="48.4" r="0.42" fill="#6a3030" opacity="0.85"/>
<circle cx="588.8" cy="48.41" r="0.42" fill="#6a3030" opacity="0.85"/>
<circle cx="589.8" cy="48.15" r="0.42" fill="#6a3030" opacity="0.85"/>
<circle cx="590.8" cy="47.44" r="0.42" fill="#6a3030" opacity="0.85"/>
<circle cx="591.8" cy="46.85" r="0.42" fill="#6a3030" opacity="0.85"/>
<circle cx="592.8" cy="45.74" r="0.42" fill="#6a3030" opacity="0.85"/>
<circle cx="593.8" cy="44.35" r="0.42" fill="#6a3030" opacity="0.85"/>
<circle cx="594.8" cy="42.64" r="0.42" fill="#6a3030" opacity="0.85"/>
<circle cx="595.8" cy="40.94" r="0.42" fill="#6a3030" opacity="0.85"/>
<circle cx="596.8" cy="38.63" r="0.42" fill="#6a3030" opacity="0.85"/>
<circle cx="597.8" cy="33.51" r="0.42" fill="#6a3030" opacity="0.85"/>
<circle cx="598.8" cy="26.17" r="0.42" fill="#6a3030" opacity="0.85"/>
<circle cx="599.8" cy="18.29" r="0.42" fill="#6a3030" opacity="0.85"/>
<circle cx="600.8" cy="16.75" r="0.42" fill="#6a3030" opacity="0.85"/>
<circle cx="601.8" cy="22.37" r="0.42" fill="#6a3030" opacity="0.85"/>
<circle cx="602.8" cy="30.87" r="0.42" fill="#6a3030" opacity="0.85"/>
<circle cx="603.8" cy="39.55" r="0.42" fill="#6a3030" opacity="0.85"/>
<circle cx="604.8" cy="46.03" r="0.42" fill="#6a3030" opacity="0.85"/>
<circle cx="605.8" cy="49.72" r="0.42" fill="#6a3030" opacity="0.85"/>
<circle cx="606.8" cy="50.87" r="0.42" fill="#6a3030" opacity="0.85"/>
<circle cx="607.8" cy="51.96" r="0.42" fill="#6a3030" opacity="0.85"/>
<circle cx="608.8" cy="51.54" r="0.42" fill="#6a3030" opacity="0.85"/>
<circle cx="609.8" cy="52.02" r="0.42" fill="#6a3030" opacity="0.85"/>
<circle cx="610.8" cy="52.09" r="0.42" fill="#6a3030" opacity="0.85"/>
<circle cx="611.8" cy="51.6" r="0.42" fill="#6a3030" opacity="0.85"/>
<circle cx="612.8" cy="52.07" r="0.42" fill="#6a3030" opacity="0.85"/>
<circle cx="613.8" cy="51.82" r="0.42" fill="#6a3030" opacity="0.85"/>
<circle cx="614.8" cy="51.94" r="0.42" fill="#6a3030" opacity="0.85"/>
<circle cx="615.8" cy="51.6" r="0.42" fill="#6a3030" opacity="0.85"/>
<circle cx="616.8" cy="51.63" r="0.42" fill="#6a3030" opacity="0.85"/>
<path d="M572.8 88.04 L573.3 87.99 L573.8 87.94 L574.3 87.87 L574.8 87.79 L575.3 87.7 L575.8 87.59 L576.3 87.46 L576.8 87.31 L577.3 87.13 L577.8 86.93 L578.3 86.71 L578.8 86.45 L579.3 86.17 L579.8 85.86 L580.3 85.52 L580.8 85.15 L581.3 84.76 L581.8 84.34 L582.3 83.91 L582.8 83.47 L583.3 83.01 L583.8 82.56 L584.3 82.1 L584.8 81.67 L585.3 81.25 L585.8 80.86 L586.3 80.51 L586.8 80.2 L587.3 79.95 L587.8 79.76 L588.3 79.63 L588.8 79.57 L589.3 79.6 L589.8 79.7 L590.3 79.92 L590.8 80.26 L591.3 80.71 L591.8 81.25 L592.3 81.88 L592.8 82.58 L593.3 83.32 L593.8 84.1 L594.3 84.88 L594.8 85.66 L595.3 86.41 L595.8 87.13 L596.3 87.79 L596.8 88.41 L597.3 88.96 L597.8 89.45 L598.3 89.88 L598.8 90.25 L599.3 90.56 L599.8 90.83 L600.3 91.05 L600.8 91.23 L601.3 91.37 L601.8 91.49 L602.3 91.58" fill="none" stroke="#ff33ff" stroke-width="0.7" stroke-linejoin="round" />
<path d="M585.8 88.15 L586.3 88.03 L586.8 87.83 L587.3 87.5 L587.8 86.99 L588.3 86.26 L588.8 85.24 L589.3 83.9 L589.8 82.23 L590.3 80.24 L590.8 78.01 L591.3 75.66 L591.8 73.37 L592.3 71.32 L592.8 69.74 L593.3 68.78 L593.8 68.58 L594.3 69.67 L594.8 72.34 L595.3 76.02 L595.8 79.98 L596.3 83.59 L596.8 86.48 L597.3 88.55 L597.8 89.89 L598.3 90.69 L598.8 91.14" fill="none" stroke="#22eeee" stroke-width="0.7" stroke-linejoin="round" />
<path d="M591.3 88.89 L591.8 88.78 L592.3 88.49 L592.8 87.91 L593.3 86.92 L593.8 85.45 L594.3 83.45 L594.8 81 L595.3 78.29 L595.8 75.66 L596.3 73.49 L596.8 72.17 L597.3 71.94 L597.8 72.8 L598.3 74.6 L598.8 77.06 L599.3 79.86 L599.8 82.65 L600.3 85.17 L600.8 87.25 L601.3 88.86 L601.8 90 L602.3 90.76 L602.8 91.25 L603.3 91.53" fill="none" stroke="#4444ff" stroke-width="0.7" stroke-linejoin="round" />
<path d="M592.3 89.26 L592.8 89.32 L593.3 89.33 L593.8 89.27 L594.3 89.13 L594.8 88.88 L595.3 88.52 L595.8 88.05 L596.3 87.48 L596.8 86.84 L597.3 86.18 L597.8 85.55 L598.3 85.02 L598.8 84.63 L599.3 84.45 L599.8 84.48 L600.3 84.7 L600.8 85.08 L601.3 85.6 L601.8 86.22 L602.3 86.91 L602.8 87.63 L603.3 88.33 L603.8 88.99 L604.3 89.59 L604.8 90.11 L605.3 90.55 L605.8 90.91 L606.3 91.19 L606.8 91.4 L607.3 91.56 L607.8 91.67" fill="none" stroke="#33dd33" stroke-width="0.7" stroke-linejoin="round" />
<path d="M549.8 88.2 L550.3 88.2 L550.8 88.2 L551.3 88.2 L551.8 88.2 L552.3 88.2 L552.8 88.2 L553.3 88.2 L553.8 88.2 L554.3 88.2 L554.8 88.2 L555.3 88.2 L555.8 88.2 L556.3 88.2 L556.8 88.2 L557.3 88.2 L557.8 88.2 L558.3 88.2 L558.8 88.2 L559.3 88.2 L559.8 88.2 L560.3 88.2 L560.8 88.2 L561.3 88.2 L561.8 88.2 L562.3 88.2 L562.8 88.2 L563.3 88.2 L563.8 88.2 L564.3 88.2 L564.8 88.2 L565.3 88.2 L565.8 88.2 L566.3 88.2 L566.8 88.19 L567.3 88.19 L567.8 88.19 L568.3 88.19 L568.8 88.18 L569.3 88.17 L569.8 88.17 L570.3 88.15 L570.8 88.14 L571.3 88.12 L571.8 88.1 L572.3 88.07 L572.8 88.04 L573.3 87.99 L573.8 87.94 L574.3 87.87 L574.8 87.79 L575.3 87.7 L575.8 87.59 L576.3 87.46 L576.8 87.31 L577.3 87.13 L577.8 86.93 L578.3 86.71 L578.8 86.45 L579.3 86.17 L579.8 85.86 L580.3 85.52 L580.8 85.15 L581.3 84.76 L581.8 84.34 L582.3 83.91 L582.8 83.46 L583.3 83.01 L583.8 82.54 L584.3 82.08 L584.8 81.61 L585.3 81.15 L585.8 80.67 L586.3 80.17 L586.8 79.63 L587.3 79.01 L587.8 78.26 L588.3 77.34 L588.8 76.2 L589.3 74.8 L589.8 73.12 L590.3 71.21 L590.8 69.11 L591.3 66.92 L591.8 64.72 L592.3 62.63 L592.8 60.7 L593.3 58.98 L593.8 57.46 L594.3 56.64 L594.8 56.85 L595.3 57.69 L595.8 58.75 L596.3 59.82 L596.8 60.93 L597.3 62.27 L597.8 63.99 L598.3 66.17 L598.8 68.81 L599.3 71.75 L599.8 74.78 L600.3 77.65 L600.8 80.22 L601.3 82.41 L601.8 84.23 L602.3 85.72 L602.8 86.94 L603.3 87.95 L603.8 88.78 L604.3 89.48 L604.8 90.05 L605.3 90.51 L605.8 90.88 L606.3 91.17 L606.8 91.39 L607.3 91.55 L607.8 91.67 L608.3 91.75 L608.8 91.8 L609.3 91.84 L609.8 91.86 L610.3 91.88 L610.8 91.88 L611.3 91.89 L611.8 91.89 L612.3 91.9 L612.8 91.9 L613.3 91.9 L613.8 91.9 L614.3 91.9 L614.8 91.9 L615.3 91.9 L615.8 91.9 L616.3 91.9 L616.8 91.9" fill="none" stroke="#f03c3c" stroke-width="0.85" stroke-linejoin="round" />
<circle cx="549.8" cy="88.38" r="0.42" fill="#6a3030" opacity="0.85"/>
<circle cx="550.8" cy="88.39" r="0.42" fill="#6a3030" opacity="0.85"/>
<circle cx="551.8" cy="88.19" r="0.42" fill="#6a3030" opacity="0.85"/>
<circle cx="552.8" cy="88.06" r="0.42" fill="#6a3030" opacity="0.85"/>
<circle cx="553.8" cy="87.9" r="0.42" fill="#6a3030" opacity="0.85"/>
<circle cx="554.8" cy="88.3" r="0.42" fill="#6a3030" opacity="0.85"/>
<circle cx="555.8" cy="88.18" r="0.42" fill="#6a3030" opacity="0.85"/>
<circle cx="556.8" cy="88.36" r="0.42" fill="#6a3030" opacity="0.85"/>
<circle cx="557.8" cy="88.12" r="0.42" fill="#6a3030" opacity="0.85"/>
<circle cx="558.8" cy="88.36" r="0.42" fill="#6a3030" opacity="0.85"/>
<circle cx="559.8" cy="88.06" r="0.42" fill="#6a3030" opacity="0.85"/>
<circle cx="560.8" cy="88.38" r="0.42" fill="#6a3030" opacity="0.85"/>
<circle cx="561.8" cy="88.34" r="0.42" fill="#6a3030" opacity="0.85"/>
<circle cx="562.8" cy="88.15" r="0.42" fill="#6a3030" opacity="0.85"/>
<circle cx="563.8" cy="88.22" r="0.42" fill="#6a3030" opacity="0.85"/>
<circle cx="564.8" cy="88.31" r="0.42" fill="#6a3030" opacity="0.85"/>
<circle cx="565.8" cy="88.01" r="0.42" fill="#6a3030" opacity="0.85"/>
<circle cx="566.8" cy="88.23" r="0.42" fill="#6a3030" opacity="0.85"/>
<circle cx="567.8" cy="88.37" r="0.42" fill="#6a3030" opacity="0.85"/>
<circle cx="568.8" cy="88.04" r="0.42" fill="#6a3030" opacity="0.85"/>
<circle cx="569.8" cy="88.35" r="0.42" fill="#6a3030" opacity="0.85"/>
<circle cx="570.8" cy="88.25" r="0.42" fill="#6a3030" opacity="0.85"/>
<circle cx="571.8" cy="88.31" r="0.42" fill="#6a3030" opacity="0.85"/>
<circle cx="572.8" cy="87.94" r="0.42" fill="#6a3030" opacity="0.85"/>
<circle cx="573.8" cy="87.69" r="0.42" fill="#6a3030" opacity="0.85"/>
<circle cx="574.8" cy="87.97" r="0.42" fill="#6a3030" opacity="0.85"/>
<circle cx="575.8" cy="87.77" r="0.42" fill="#6a3030" opacity="0.85"/>
<circle cx="576.8" cy="87.27" r="0.42" fill="#6a3030" opacity="0.85"/>
<circle cx="577.8" cy="86.69" r="0.42" fill="#6a3030" opacity="0.85"/>
<circle cx="578.8" cy="86.27" r="0.42" fill="#6a3030" opacity="0.85"/>
<circle cx="579.8" cy="85.94" r="0.42" fill="#6a3030" opacity="0.85"/>
<circle cx="580.8" cy="85.03" r="0.42" fill="#6a3030" opacity="0.85"/>
<circle cx="581.8" cy="84.62" r="0.42" fill="#6a3030" opacity="0.85"/>
<circle cx="582.8" cy="83.52" r="0.42" fill="#6a3030" opacity="0.85"/>
<circle cx="583.8" cy="82.36" r="0.42" fill="#6a3030" opacity="0.85"/>
<circle cx="584.8" cy="81.7" r="0.42" fill="#6a3030" opacity="0.85"/>
<circle cx="585.8" cy="80.59" r="0.42" fill="#6a3030" opacity="0.85"/>
<circle cx="586.8" cy="79.89" r="0.42" fill="#6a3030" opacity="0.85"/>
<circle cx="587.8" cy="78.51" r="0.42" fill="#6a3030" opacity="0.85"/>
<circle cx="588.8" cy="76.21" r="0.42" fill="#6a3030" opacity="0.85"/>
<circle cx="589.8" cy="73.2" r="0.42" fill="#6a3030" opacity="0.85"/>
<circle cx="590.8" cy="69.23" r="0.42" fill="#6a3030" opacity="0.85"/>
<circle cx="591.8" cy="64.91" r="0.42" fill="#6a3030" opacity="0.85"/>
<circle cx="592.8" cy="60.99" r="0.42" fill="#6a3030" opacity="0.85"/>
<circle cx="593.8" cy="57.18" r="0.42" fill="#6a3030" opacity="0.85"/>
<circle cx="594.8" cy="56.77" r="0.42" fill="#6a3030" opacity="0.85"/>
<circle cx="595.8" cy="58.81" r="0.42" fill="#6a3030" opacity="0.85"/>
<circle cx="596.8" cy="60.81" r="0.42" fill="#6a3030" opacity="0.85"/>
<circle cx="597.8" cy="64.04" r="0.42" fill="#6a3030" opacity="0.85"/>
<circle cx="598.8" cy="68.56" r="0.42" fill="#6a3030" opacity="0.85"/>
<circle cx="599.8" cy="75.01" r="0.42" fill="#6a3030" opacity="0.85"/>
<circle cx="600.8" cy="80.23" r="0.42" fill="#6a3030" opacity="0.85"/>
<circle cx="601.8" cy="84" r="0.42" fill="#6a3030" opacity="0.85"/>
<circle cx="602.8" cy="87.04" r="0.42" fill="#6a3030" opacity="0.85"/>
<circle cx="603.8" cy="88.67" r="0.42" fill="#6a3030" opacity="0.85"/>
<circle cx="604.8" cy="89.87" r="0.42" fill="#6a3030" opacity="0.85"/>
<circle cx="605.8" cy="90.88" r="0.42" fill="#6a3030" opacity="0.85"/>
<circle cx="606.8" cy="91.17" r="0.42" fill="#6a3030" opacity="0.85"/>
<circle cx="607.8" cy="91.49" r="0.42" fill="#6a3030" opacity="0.85"/>
<circle cx="608.8" cy="92.02" r="0.42" fill="#6a3030" opacity="0.85"/>
<circle cx="609.8" cy="91.98" r="0.42" fill="#6a3030" opacity="0.85"/>
<circle cx="610.8" cy="91.59" r="0.42" fill="#6a3030" opacity="0.85"/>
<circle cx="611.8" cy="92.06" r="0.42" fill="#6a3030" opacity="0.85"/>
<circle cx="612.8" cy="91.61" r="0.42" fill="#6a3030" opacity="0.85"/>
<circle cx="613.8" cy="91.8" r="0.42" fill="#6a3030" opacity="0.85"/>
<circle cx="614.8" cy="92.14" r="0.42" fill="#6a3030" opacity="0.85"/>
<circle cx="615.8" cy="91.97" r="0.42" fill="#6a3030" opacity="0.85"/>
<circle cx="616.8" cy="91.78" r="0.42" fill="#6a3030" opacity="0.85"/>
<path d="M568.8 129.21 L569.3 129.16 L569.8 129.1 L570.3 129.02 L570.8 128.92 L571.3 128.8 L571.8 128.66 L572.3 128.49 L572.8 128.28 L573.3 128.04 L573.8 127.76 L574.3 127.44 L574.8 127.06 L575.3 126.64 L575.8 126.15 L576.3 125.6 L576.8 124.99 L577.3 124.32 L577.8 123.58 L578.3 122.78 L578.8 121.92 L579.3 121 L579.8 120.03 L580.3 119.01 L580.8 117.96 L581.3 116.89 L581.8 115.8 L582.3 114.72 L582.8 113.66 L583.3 112.64 L583.8 111.67 L584.3 110.76 L584.8 109.95 L585.3 109.24 L585.8 108.65 L586.3 108.19 L586.8 107.87 L587.3 107.7 L587.8 107.69 L588.3 107.89 L588.8 108.5 L589.3 109.52 L589.8 110.9 L590.3 112.56 L590.8 114.44 L591.3 116.43 L591.8 118.47 L592.3 120.47 L592.8 122.37 L593.3 124.12 L593.8 125.69 L594.3 127.06 L594.8 128.22 L595.3 129.19 L595.8 129.97 L596.3 130.59 L596.8 131.08 L597.3 131.44 L597.8 131.72 L598.3 131.92 L598.8 132.06 L599.3 132.17" fill="none" stroke="#ff33ff" stroke-width="0.7" stroke-linejoin="round" />
<path d="M582.3 129.34 L582.8 129.27 L583.3 129.17 L583.8 129.03 L584.3 128.83 L584.8 128.55 L585.3 128.19 L585.8 127.73 L586.3 127.14 L586.8 126.42 L587.3 125.57 L587.8 124.57 L588.3 123.44 L588.8 122.2 L589.3 120.87 L589.8 119.5 L590.3 118.12 L590.8 116.81 L591.3 115.61 L591.8 114.59 L592.3 113.8 L592.8 113.29 L593.3 113.09 L593.8 113.33 L594.3 114.44 L594.8 116.31 L595.3 118.7 L595.8 121.3 L596.3 123.86 L596.8 126.14 L597.3 128.04 L597.8 129.5 L598.3 130.56 L598.8 131.29 L599.3 131.75 L599.8 132.03 L600.3 132.19" fill="none" stroke="#22eeee" stroke-width="0.7" stroke-linejoin="round" />
<path d="M591.3 131.12 L591.8 131.11 L592.3 130.99 L592.8 130.73 L593.3 130.27 L593.8 129.6 L594.3 128.71 L594.8 127.64 L595.3 126.5 L595.8 125.41 L596.3 124.51 L596.8 123.97 L597.3 123.86 L597.8 124.18 L598.3 124.88 L598.8 125.87 L599.3 127 L599.8 128.16 L600.3 129.24 L600.8 130.16 L601.3 130.89 L601.8 131.43 L602.3 131.81 L602.8 132.05 L603.3 132.21" fill="none" stroke="#4444ff" stroke-width="0.7" stroke-linejoin="round" />
<path d="M593.3 131.62 L593.8 131.62 L594.3 131.57 L594.8 131.45 L595.3 131.27 L595.8 131.03 L596.3 130.72 L596.8 130.37 L597.3 130.01 L597.8 129.65 L598.3 129.35 L598.8 129.14 L599.3 129.04 L599.8 129.06 L600.3 129.2 L600.8 129.45 L601.3 129.77 L601.8 130.14 L602.3 130.53 L602.8 130.91 L603.3 131.25 L603.8 131.55 L604.3 131.79 L604.8 131.98 L605.3 132.12 L605.8 132.22" fill="none" stroke="#33dd33" stroke-width="0.7" stroke-linejoin="round" />
<path d="M549.8 129.4 L550.3 129.4 L550.8 129.4 L551.3 129.4 L551.8 129.4 L552.3 129.4 L552.8 129.4 L553.3 129.4 L553.8 129.4 L554.3 129.4 L554.8 129.4 L555.3 129.4 L555.8 129.4 L556.3 129.4 L556.8 129.4 L557.3 129.4 L557.8 129.4 L558.3 129.4 L558.8 129.4 L559.3 129.4 L559.8 129.4 L560.3 129.4 L560.8 129.4 L561.3 129.4 L561.8 129.4 L562.3 129.4 L562.8 129.39 L563.3 129.39 L563.8 129.39 L564.3 129.38 L564.8 129.38 L565.3 129.37 L565.8 129.36 L566.3 129.35 L566.8 129.33 L567.3 129.31 L567.8 129.29 L568.3 129.26 L568.8 129.21 L569.3 129.16 L569.8 129.1 L570.3 129.02 L570.8 128.92 L571.3 128.8 L571.8 128.66 L572.3 128.49 L572.8 128.28 L573.3 128.04 L573.8 127.76 L574.3 127.44 L574.8 127.06 L575.3 126.64 L575.8 126.15 L576.3 125.6 L576.8 124.99 L577.3 124.32 L577.8 123.58 L578.3 122.78 L578.8 121.91 L579.3 120.99 L579.8 120.01 L580.3 118.98 L580.8 117.91 L581.3 116.8 L581.8 115.68 L582.3 114.53 L582.8 113.38 L583.3 112.22 L583.8 111.06 L584.3 109.92 L584.8 108.77 L585.3 107.64 L585.8 106.51 L586.3 105.37 L586.8 104.24 L587.3 103.11 L587.8 101.98 L588.3 100.92 L588.8 100.15 L589.3 99.69 L589.8 99.53 L590.3 99.66 L590.8 100.02 L591.3 100.59 L591.8 101.31 L592.3 102.12 L592.8 102.98 L593.3 103.8 L593.8 104.65 L594.3 105.94 L594.8 107.58 L595.3 109.42 L595.8 111.31 L596.3 113.16 L596.8 114.91 L597.3 116.6 L597.8 118.24 L598.3 119.83 L598.8 121.41 L599.3 122.97 L599.8 124.47 L600.3 125.87 L600.8 127.13 L601.3 128.23 L601.8 129.17 L602.3 129.94 L602.8 130.57 L603.3 131.07 L603.8 131.45 L604.3 131.74 L604.8 131.96 L605.3 132.11 L605.8 132.22 L606.3 132.29 L606.8 132.33 L607.3 132.36 L607.8 132.38 L608.3 132.39 L608.8 132.39 L609.3 132.4 L609.8 132.4 L610.3 132.4 L610.8 132.4 L611.3 132.4 L611.8 132.4 L612.3 132.4 L612.8 132.4 L613.3 132.4 L613.8 132.4 L614.3 132.4 L614.8 132.4 L615.3 132.4 L615.8 132.4 L616.3 132.4 L616.8 132.4" fill="none" stroke="#f03c3c" stroke-width="0.85" stroke-linejoin="round" />
<circle cx="549.8" cy="129.29" r="0.42" fill="#6a3030" opacity="0.85"/>
<circle cx="550.8" cy="129.19" r="0.42" fill="#6a3030" opacity="0.85"/>
<circle cx="551.8" cy="129.49" r="0.42" fill="#6a3030" opacity="0.85"/>
<circle cx="552.8" cy="129.14" r="0.42" fill="#6a3030" opacity="0.85"/>
<circle cx="553.8" cy="129.42" r="0.42" fill="#6a3030" opacity="0.85"/>
<circle cx="554.8" cy="129.32" r="0.42" fill="#6a3030" opacity="0.85"/>
<circle cx="555.8" cy="129.13" r="0.42" fill="#6a3030" opacity="0.85"/>
<circle cx="556.8" cy="129.4" r="0.42" fill="#6a3030" opacity="0.85"/>
<circle cx="557.8" cy="129.12" r="0.42" fill="#6a3030" opacity="0.85"/>
<circle cx="558.8" cy="129.36" r="0.42" fill="#6a3030" opacity="0.85"/>
<circle cx="559.8" cy="129.14" r="0.42" fill="#6a3030" opacity="0.85"/>
<circle cx="560.8" cy="129.15" r="0.42" fill="#6a3030" opacity="0.85"/>
<circle cx="561.8" cy="129.35" r="0.42" fill="#6a3030" opacity="0.85"/>
<circle cx="562.8" cy="129.59" r="0.42" fill="#6a3030" opacity="0.85"/>
<circle cx="563.8" cy="129.16" r="0.42" fill="#6a3030" opacity="0.85"/>
<circle cx="564.8" cy="129.21" r="0.42" fill="#6a3030" opacity="0.85"/>
<circle cx="565.8" cy="129.44" r="0.42" fill="#6a3030" opacity="0.85"/>
<circle cx="566.8" cy="129.6" r="0.42" fill="#6a3030" opacity="0.85"/>
<circle cx="567.8" cy="129.33" r="0.42" fill="#6a3030" opacity="0.85"/>
<circle cx="568.8" cy="129.15" r="0.42" fill="#6a3030" opacity="0.85"/>
<circle cx="569.8" cy="129.38" r="0.42" fill="#6a3030" opacity="0.85"/>
<circle cx="570.8" cy="128.65" r="0.42" fill="#6a3030" opacity="0.85"/>
<circle cx="571.8" cy="128.87" r="0.42" fill="#6a3030" opacity="0.85"/>
<circle cx="572.8" cy="128.16" r="0.42" fill="#6a3030" opacity="0.85"/>
<circle cx="573.8" cy="127.55" r="0.42" fill="#6a3030" opacity="0.85"/>
<circle cx="574.8" cy="126.83" r="0.42" fill="#6a3030" opacity="0.85"/>
<circle cx="575.8" cy="126.03" r="0.42" fill="#6a3030" opacity="0.85"/>
<circle cx="576.8" cy="125.18" r="0.42" fill="#6a3030" opacity="0.85"/>
<circle cx="577.8" cy="123.39" r="0.42" fill="#6a3030" opacity="0.85"/>
<circle cx="578.8" cy="121.96" r="0.42" fill="#6a3030" opacity="0.85"/>
<circle cx="579.8" cy="120.09" r="0.42" fill="#6a3030" opacity="0.85"/>
<circle cx="580.8" cy="117.83" r="0.42" fill="#6a3030" opacity="0.85"/>
<circle cx="581.8" cy="115.7" r="0.42" fill="#6a3030" opacity="0.85"/>
<circle cx="582.8" cy="113.11" r="0.42" fill="#6a3030" opacity="0.85"/>
<circle cx="583.8" cy="110.8" r="0.42" fill="#6a3030" opacity="0.85"/>
<circle cx="584.8" cy="108.6" r="0.42" fill="#6a3030" opacity="0.85"/>
<circle cx="585.8" cy="106.61" r="0.42" fill="#6a3030" opacity="0.85"/>
<circle cx="586.8" cy="104.2" r="0.42" fill="#6a3030" opacity="0.85"/>
<circle cx="587.8" cy="101.87" r="0.42" fill="#6a3030" opacity="0.85"/>
<circle cx="588.8" cy="100.2" r="0.42" fill="#6a3030" opacity="0.85"/>
<circle cx="589.8" cy="99.51" r="0.42" fill="#6a3030" opacity="0.85"/>
<circle cx="590.8" cy="99.9" r="0.42" fill="#6a3030" opacity="0.85"/>
<circle cx="591.8" cy="101.48" r="0.42" fill="#6a3030" opacity="0.85"/>
<circle cx="592.8" cy="103.1" r="0.42" fill="#6a3030" opacity="0.85"/>
<circle cx="593.8" cy="104.5" r="0.42" fill="#6a3030" opacity="0.85"/>
<circle cx="594.8" cy="107.63" r="0.42" fill="#6a3030" opacity="0.85"/>
<circle cx="595.8" cy="111.33" r="0.42" fill="#6a3030" opacity="0.85"/>
<circle cx="596.8" cy="115.14" r="0.42" fill="#6a3030" opacity="0.85"/>
<circle cx="597.8" cy="118.37" r="0.42" fill="#6a3030" opacity="0.85"/>
<circle cx="598.8" cy="121.29" r="0.42" fill="#6a3030" opacity="0.85"/>
<circle cx="599.8" cy="124.76" r="0.42" fill="#6a3030" opacity="0.85"/>
<circle cx="600.8" cy="126.9" r="0.42" fill="#6a3030" opacity="0.85"/>
<circle cx="601.8" cy="129.12" r="0.42" fill="#6a3030" opacity="0.85"/>
<circle cx="602.8" cy="130.73" r="0.42" fill="#6a3030" opacity="0.85"/>
<circle cx="603.8" cy="131.24" r="0.42" fill="#6a3030" opacity="0.85"/>
<circle cx="604.8" cy="131.95" r="0.42" fill="#6a3030" opacity="0.85"/>
<circle cx="605.8" cy="131.94" r="0.42" fill="#6a3030" opacity="0.85"/>
<circle cx="606.8" cy="132.43" r="0.42" fill="#6a3030" opacity="0.85"/>
<circle cx="607.8" cy="132.54" r="0.42" fill="#6a3030" opacity="0.85"/>
<circle cx="608.8" cy="132.44" r="0.42" fill="#6a3030" opacity="0.85"/>
<circle cx="609.8" cy="132.62" r="0.42" fill="#6a3030" opacity="0.85"/>
<circle cx="610.8" cy="132.29" r="0.42" fill="#6a3030" opacity="0.85"/>
<circle cx="611.8" cy="132.52" r="0.42" fill="#6a3030" opacity="0.85"/>
<circle cx="612.8" cy="132.46" r="0.42" fill="#6a3030" opacity="0.85"/>
<circle cx="613.8" cy="132.45" r="0.42" fill="#6a3030" opacity="0.85"/>
<circle cx="614.8" cy="132.37" r="0.42" fill="#6a3030" opacity="0.85"/>
<circle cx="615.8" cy="132.6" r="0.42" fill="#6a3030" opacity="0.85"/>
<circle cx="616.8" cy="132.67" r="0.42" fill="#6a3030" opacity="0.85"/>
<path d="M556.8 169.02 L557.3 168.96 L557.8 168.9 L558.3 168.82 L558.8 168.72 L559.3 168.59 L559.8 168.45 L560.3 168.27 L560.8 168.06 L561.3 167.81 L561.8 167.51 L562.3 167.17 L562.8 166.77 L563.3 166.31 L563.8 165.79 L564.3 165.21 L564.8 164.55 L565.3 163.81 L565.8 163 L566.3 162.12 L566.8 161.16 L567.3 160.13 L567.8 159.04 L568.3 157.89 L568.8 156.69 L569.3 155.45 L569.8 154.19 L570.3 152.92 L570.8 151.66 L571.3 150.42 L571.8 149.22 L572.3 148.09 L572.8 147.03 L573.3 146.07 L573.8 145.23 L574.3 144.52 L574.8 143.95 L575.3 143.54 L575.8 143.29 L576.3 143.2 L576.8 143.42 L577.3 144.05 L577.8 145.06 L578.3 146.41 L578.8 148.04 L579.3 149.87 L579.8 151.83 L580.3 153.85 L580.8 155.86 L581.3 157.79 L581.8 159.61 L582.3 161.27 L582.8 162.76 L583.3 164.06 L583.8 165.17 L584.3 166.1 L584.8 166.87 L585.3 167.5 L585.8 167.99 L586.3 168.39 L586.8 168.7 L587.3 168.94 L587.8 169.13 L588.3 169.29 L588.8 169.42" fill="none" stroke="#ff33ff" stroke-width="0.7" stroke-linejoin="round" />
<path d="M571.3 169 L571.8 168.92 L572.3 168.81 L572.8 168.67 L573.3 168.5 L573.8 168.27 L574.3 167.99 L574.8 167.65 L575.3 167.23 L575.8 166.74 L576.3 166.17 L576.8 165.51 L577.3 164.77 L577.8 163.95 L578.3 163.07 L578.8 162.14 L579.3 161.17 L579.8 160.19 L580.3 159.24 L580.8 158.32 L581.3 157.48 L581.8 156.75 L582.3 156.15 L582.8 155.71 L583.3 155.44 L583.8 155.36 L584.3 155.46 L584.8 155.74 L585.3 156.19 L585.8 156.8 L586.3 157.53 L586.8 158.37 L587.3 159.29 L587.8 160.27 L588.3 161.28 L588.8 162.28 L589.3 163.27 L589.8 164.21 L590.3 165.1 L590.8 165.93 L591.3 166.68 L591.8 167.35 L592.3 167.95 L592.8 168.47 L593.3 168.91 L593.8 169.29 L594.3 169.61 L594.8 169.87 L595.3 170.08 L595.8 170.26 L596.3 170.4 L596.8 170.51" fill="none" stroke="#22eeee" stroke-width="0.7" stroke-linejoin="round" />
<path d="M581.8 169.02 L582.3 168.94 L582.8 168.82 L583.3 168.65 L583.8 168.44 L584.3 168.17 L584.8 167.83 L585.3 167.41 L585.8 166.91 L586.3 166.34 L586.8 165.69 L587.3 164.98 L587.8 164.23 L588.3 163.47 L588.8 162.72 L589.3 162.01 L589.8 161.39 L590.3 160.88 L590.8 160.52 L591.3 160.32 L591.8 160.32 L592.3 160.48 L592.8 160.78 L593.3 161.22 L593.8 161.78 L594.3 162.44 L594.8 163.16 L595.3 163.93 L595.8 164.71 L596.3 165.49 L596.8 166.24 L597.3 166.95 L597.8 167.6 L598.3 168.18 L598.8 168.7 L599.3 169.14 L599.8 169.52 L600.3 169.83 L600.8 170.08 L601.3 170.28 L601.8 170.44 L602.3 170.56 L602.8 170.66 L603.3 170.73" fill="none" stroke="#4444ff" stroke-width="0.7" stroke-linejoin="round" />
<path d="M587.8 169.31 L588.3 169.29 L588.8 169.25 L589.3 169.18 L589.8 169.07 L590.3 168.91 L590.8 168.7 L591.3 168.43 L591.8 168.08 L592.3 167.64 L592.8 167.13 L593.3 166.54 L593.8 165.88 L594.3 165.17 L594.8 164.42 L595.3 163.66 L595.8 162.93 L596.3 162.26 L596.8 161.68 L597.3 161.23 L597.8 160.93 L598.3 160.79 L598.8 160.83 L599.3 161.09 L599.8 161.53 L600.3 162.15 L600.8 162.9 L601.3 163.74 L601.8 164.62 L602.3 165.52 L602.8 166.38 L603.3 167.19 L603.8 167.92 L604.3 168.55 L604.8 169.09 L605.3 169.54 L605.8 169.9 L606.3 170.17 L606.8 170.39 L607.3 170.55 L607.8 170.66 L608.3 170.74" fill="none" stroke="#33dd33" stroke-width="0.7" stroke-linejoin="round" />
<path d="M549.8 169.2 L550.3 169.2 L550.8 169.19 L551.3 169.19 L551.8 169.19 L552.3 169.19 L552.8 169.18 L553.3 169.17 L553.8 169.16 L554.3 169.15 L554.8 169.14 L555.3 169.12 L555.8 169.09 L556.3 169.06 L556.8 169.02 L557.3 168.96 L557.8 168.9 L558.3 168.82 L558.8 168.72 L559.3 168.59 L559.8 168.45 L560.3 168.27 L560.8 168.06 L561.3 167.81 L561.8 167.51 L562.3 167.17 L562.8 166.77 L563.3 166.31 L563.8 165.79 L564.3 165.2 L564.8 164.54 L565.3 163.81 L565.8 163 L566.3 162.12 L566.8 161.16 L567.3 160.13 L567.8 159.03 L568.3 157.87 L568.8 156.66 L569.3 155.41 L569.8 154.12 L570.3 152.82 L570.8 151.51 L571.3 150.21 L571.8 148.94 L572.3 147.7 L572.8 146.5 L573.3 145.37 L573.8 144.3 L574.3 143.31 L574.8 142.4 L575.3 141.57 L575.8 140.82 L576.3 140.17 L576.8 139.72 L577.3 139.61 L577.8 139.8 L578.3 140.27 L578.8 140.95 L579.3 141.81 L579.8 142.78 L580.3 143.81 L580.8 144.87 L581.3 145.92 L581.8 146.93 L582.3 147.89 L582.8 148.8 L583.3 149.65 L583.8 150.44 L584.3 151.18 L584.8 151.85 L585.3 152.46 L585.8 153.01 L586.3 153.5 L586.8 153.91 L587.3 154.26 L587.8 154.55 L588.3 154.78 L588.8 154.95 L589.3 155.09 L589.8 155.2 L590.3 155.31 L590.8 155.42 L591.3 155.55 L591.8 155.7 L592.3 155.86 L592.8 156.01 L593.3 156.15 L593.8 156.27 L594.3 156.38 L594.8 156.48 L595.3 156.59 L595.8 156.71 L596.3 156.86 L596.8 157.07 L597.3 157.34 L597.8 157.69 L598.3 158.14 L598.8 158.69 L599.3 159.39 L599.8 160.2 L600.3 161.12 L600.8 162.12 L601.3 163.15 L601.8 164.19 L602.3 165.21 L602.8 166.16 L603.3 167.03 L603.8 167.81 L604.3 168.48 L604.8 169.04 L605.3 169.51 L605.8 169.87 L606.3 170.16 L606.8 170.38 L607.3 170.54 L607.8 170.66 L608.3 170.74 L608.8 170.8 L609.3 170.83 L609.8 170.86 L610.3 170.87 L610.8 170.88 L611.3 170.89 L611.8 170.89 L612.3 170.9 L612.8 170.9 L613.3 170.9 L613.8 170.9 L614.3 170.9 L614.8 170.9 L615.3 170.9 L615.8 170.9 L616.3 170.9 L616.8 170.9" fill="none" stroke="#f03c3c" stroke-width="0.85" stroke-linejoin="round" />
<circle cx="549.8" cy="169.03" r="0.42" fill="#6a3030" opacity="0.85"/>
<circle cx="550.8" cy="169.47" r="0.42" fill="#6a3030" opacity="0.85"/>
<circle cx="551.8" cy="168.97" r="0.42" fill="#6a3030" opacity="0.85"/>
<circle cx="552.8" cy="169.3" r="0.42" fill="#6a3030" opacity="0.85"/>
<circle cx="553.8" cy="168.92" r="0.42" fill="#6a3030" opacity="0.85"/>
<circle cx="554.8" cy="168.98" r="0.42" fill="#6a3030" opacity="0.85"/>
<circle cx="555.8" cy="169.39" r="0.42" fill="#6a3030" opacity="0.85"/>
<circle cx="556.8" cy="168.84" r="0.42" fill="#6a3030" opacity="0.85"/>
<circle cx="557.8" cy="168.98" r="0.42" fill="#6a3030" opacity="0.85"/>
<circle cx="558.8" cy="168.69" r="0.42" fill="#6a3030" opacity="0.85"/>
<circle cx="559.8" cy="168.42" r="0.42" fill="#6a3030" opacity="0.85"/>
<circle cx="560.8" cy="168.05" r="0.42" fill="#6a3030" opacity="0.85"/>
<circle cx="561.8" cy="167.33" r="0.42" fill="#6a3030" opacity="0.85"/>
<circle cx="562.8" cy="166.97" r="0.42" fill="#6a3030" opacity="0.85"/>
<circle cx="563.8" cy="165.55" r="0.42" fill="#6a3030" opacity="0.85"/>
<circle cx="564.8" cy="164.39" r="0.42" fill="#6a3030" opacity="0.85"/>
<circle cx="565.8" cy="162.71" r="0.42" fill="#6a3030" opacity="0.85"/>
<circle cx="566.8" cy="161.02" r="0.42" fill="#6a3030" opacity="0.85"/>
<circle cx="567.8" cy="158.97" r="0.42" fill="#6a3030" opacity="0.85"/>
<circle cx="568.8" cy="156.9" r="0.42" fill="#6a3030" opacity="0.85"/>
<circle cx="569.8" cy="154.05" r="0.42" fill="#6a3030" opacity="0.85"/>
<circle cx="570.8" cy="151.28" r="0.42" fill="#6a3030" opacity="0.85"/>
<circle cx="571.8" cy="148.79" r="0.42" fill="#6a3030" opacity="0.85"/>
<circle cx="572.8" cy="146.8" r="0.42" fill="#6a3030" opacity="0.85"/>
<circle cx="573.8" cy="144.04" r="0.42" fill="#6a3030" opacity="0.85"/>
<circle cx="574.8" cy="142.47" r="0.42" fill="#6a3030" opacity="0.85"/>
<circle cx="575.8" cy="140.75" r="0.42" fill="#6a3030" opacity="0.85"/>
<circle cx="576.8" cy="139.82" r="0.42" fill="#6a3030" opacity="0.85"/>
<circle cx="577.8" cy="139.71" r="0.42" fill="#6a3030" opacity="0.85"/>
<circle cx="578.8" cy="141.07" r="0.42" fill="#6a3030" opacity="0.85"/>
<circle cx="579.8" cy="142.77" r="0.42" fill="#6a3030" opacity="0.85"/>
<circle cx="580.8" cy="144.96" r="0.42" fill="#6a3030" opacity="0.85"/>
<circle cx="581.8" cy="147.17" r="0.42" fill="#6a3030" opacity="0.85"/>
<circle cx="582.8" cy="148.85" r="0.42" fill="#6a3030" opacity="0.85"/>
<circle cx="583.8" cy="150.23" r="0.42" fill="#6a3030" opacity="0.85"/>
<circle cx="584.8" cy="151.59" r="0.42" fill="#6a3030" opacity="0.85"/>
<circle cx="585.8" cy="153.28" r="0.42" fill="#6a3030" opacity="0.85"/>
<circle cx="586.8" cy="153.91" r="0.42" fill="#6a3030" opacity="0.85"/>
<circle cx="587.8" cy="154.37" r="0.42" fill="#6a3030" opacity="0.85"/>
<circle cx="588.8" cy="155.22" r="0.42" fill="#6a3030" opacity="0.85"/>
<circle cx="589.8" cy="155.25" r="0.42" fill="#6a3030" opacity="0.85"/>
<circle cx="590.8" cy="155.56" r="0.42" fill="#6a3030" opacity="0.85"/>
<circle cx="591.8" cy="155.93" r="0.42" fill="#6a3030" opacity="0.85"/>
<circle cx="592.8" cy="155.88" r="0.42" fill="#6a3030" opacity="0.85"/>
<circle cx="593.8" cy="156.18" r="0.42" fill="#6a3030" opacity="0.85"/>
<circle cx="594.8" cy="156.71" r="0.42" fill="#6a3030" opacity="0.85"/>
<circle cx="595.8" cy="156.49" r="0.42" fill="#6a3030" opacity="0.85"/>
<circle cx="596.8" cy="157.23" r="0.42" fill="#6a3030" opacity="0.85"/>
<circle cx="597.8" cy="157.45" r="0.42" fill="#6a3030" opacity="0.85"/>
<circle cx="598.8" cy="158.81" r="0.42" fill="#6a3030" opacity="0.85"/>
<circle cx="599.8" cy="160.32" r="0.42" fill="#6a3030" opacity="0.85"/>
<circle cx="600.8" cy="162.39" r="0.42" fill="#6a3030" opacity="0.85"/>
<circle cx="601.8" cy="164.4" r="0.42" fill="#6a3030" opacity="0.85"/>
<circle cx="602.8" cy="166.16" r="0.42" fill="#6a3030" opacity="0.85"/>
<circle cx="603.8" cy="167.63" r="0.42" fill="#6a3030" opacity="0.85"/>
<circle cx="604.8" cy="168.83" r="0.42" fill="#6a3030" opacity="0.85"/>
<circle cx="605.8" cy="169.89" r="0.42" fill="#6a3030" opacity="0.85"/>
<circle cx="606.8" cy="170.38" r="0.42" fill="#6a3030" opacity="0.85"/>
<circle cx="607.8" cy="170.4" r="0.42" fill="#6a3030" opacity="0.85"/>
<circle cx="608.8" cy="171.04" r="0.42" fill="#6a3030" opacity="0.85"/>
<circle cx="609.8" cy="170.86" r="0.42" fill="#6a3030" opacity="0.85"/>
<circle cx="610.8" cy="171.01" r="0.42" fill="#6a3030" opacity="0.85"/>
<circle cx="611.8" cy="170.73" r="0.42" fill="#6a3030" opacity="0.85"/>
<circle cx="612.8" cy="170.74" r="0.42" fill="#6a3030" opacity="0.85"/>
<circle cx="613.8" cy="170.61" r="0.42" fill="#6a3030" opacity="0.85"/>
<circle cx="614.8" cy="170.81" r="0.42" fill="#6a3030" opacity="0.85"/>
<circle cx="615.8" cy="170.76" r="0.42" fill="#6a3030" opacity="0.85"/>
<circle cx="616.8" cy="170.85" r="0.42" fill="#6a3030" opacity="0.85"/>
<line x1="476.4" y1="53.9" x2="545.7" y2="53.9" stroke="#777" stroke-width="0.75"/>
<line x1="477.5" y1="53.9" x2="477.5" y2="52.5" stroke="#666" stroke-width="0.6"/>
<line x1="485.1" y1="53.9" x2="485.1" y2="52.5" stroke="#666" stroke-width="0.6"/>
<line x1="492.7" y1="53.9" x2="492.7" y2="52.5" stroke="#666" stroke-width="0.6"/>
<line x1="500.3" y1="53.9" x2="500.3" y2="52.5" stroke="#666" stroke-width="0.6"/>
<line x1="507.9" y1="53.9" x2="507.9" y2="52.5" stroke="#666" stroke-width="0.6"/>
<line x1="515.5" y1="53.9" x2="515.5" y2="52.5" stroke="#666" stroke-width="0.6"/>
<line x1="523.1" y1="53.9" x2="523.1" y2="52.5" stroke="#666" stroke-width="0.6"/>
<line x1="530.7" y1="53.9" x2="530.7" y2="52.5" stroke="#666" stroke-width="0.6"/>
<line x1="538.3" y1="53.9" x2="538.3" y2="52.5" stroke="#666" stroke-width="0.6"/>
<line x1="476.4" y1="95.1" x2="545.7" y2="95.1" stroke="#777" stroke-width="0.75"/>
<line x1="477.5" y1="95.1" x2="477.5" y2="93.7" stroke="#666" stroke-width="0.6"/>
<line x1="485.1" y1="95.1" x2="485.1" y2="93.7" stroke="#666" stroke-width="0.6"/>
<line x1="492.7" y1="95.1" x2="492.7" y2="93.7" stroke="#666" stroke-width="0.6"/>
<line x1="500.3" y1="95.1" x2="500.3" y2="93.7" stroke="#666" stroke-width="0.6"/>
<line x1="507.9" y1="95.1" x2="507.9" y2="93.7" stroke="#666" stroke-width="0.6"/>
<line x1="515.5" y1="95.1" x2="515.5" y2="93.7" stroke="#666" stroke-width="0.6"/>
<line x1="523.1" y1="95.1" x2="523.1" y2="93.7" stroke="#666" stroke-width="0.6"/>
<line x1="530.7" y1="95.1" x2="530.7" y2="93.7" stroke="#666" stroke-width="0.6"/>
<line x1="538.3" y1="95.1" x2="538.3" y2="93.7" stroke="#666" stroke-width="0.6"/>
<line x1="476.4" y1="135.3" x2="545.7" y2="135.3" stroke="#777" stroke-width="0.75"/>
<line x1="477.5" y1="135.3" x2="477.5" y2="133.9" stroke="#666" stroke-width="0.6"/>
<line x1="485.1" y1="135.3" x2="485.1" y2="133.9" stroke="#666" stroke-width="0.6"/>
<line x1="492.7" y1="135.3" x2="492.7" y2="133.9" stroke="#666" stroke-width="0.6"/>
<line x1="500.3" y1="135.3" x2="500.3" y2="133.9" stroke="#666" stroke-width="0.6"/>
<line x1="507.9" y1="135.3" x2="507.9" y2="133.9" stroke="#666" stroke-width="0.6"/>
<line x1="515.5" y1="135.3" x2="515.5" y2="133.9" stroke="#666" stroke-width="0.6"/>
<line x1="523.1" y1="135.3" x2="523.1" y2="133.9" stroke="#666" stroke-width="0.6"/>
<line x1="530.7" y1="135.3" x2="530.7" y2="133.9" stroke="#666" stroke-width="0.6"/>
<line x1="538.3" y1="135.3" x2="538.3" y2="133.9" stroke="#666" stroke-width="0.6"/>
<line x1="548.7" y1="53.9" x2="617.4" y2="53.9" stroke="#777" stroke-width="0.75"/>
<line x1="555.6" y1="53.9" x2="555.6" y2="52.5" stroke="#666" stroke-width="0.6"/>
<line x1="563.4" y1="53.9" x2="563.4" y2="52.5" stroke="#666" stroke-width="0.6"/>
<line x1="571.2" y1="53.9" x2="571.2" y2="52.5" stroke="#666" stroke-width="0.6"/>
<line x1="579" y1="53.9" x2="579" y2="52.5" stroke="#666" stroke-width="0.6"/>
<line x1="586.8" y1="53.9" x2="586.8" y2="52.5" stroke="#666" stroke-width="0.6"/>
<line x1="594.6" y1="53.9" x2="594.6" y2="52.5" stroke="#666" stroke-width="0.6"/>
<line x1="602.4" y1="53.9" x2="602.4" y2="52.5" stroke="#666" stroke-width="0.6"/>
<line x1="610.2" y1="53.9" x2="610.2" y2="52.5" stroke="#666" stroke-width="0.6"/>
<line x1="548.7" y1="95.1" x2="617.4" y2="95.1" stroke="#777" stroke-width="0.75"/>
<line x1="555.6" y1="95.1" x2="555.6" y2="93.7" stroke="#666" stroke-width="0.6"/>
<line x1="563.4" y1="95.1" x2="563.4" y2="93.7" stroke="#666" stroke-width="0.6"/>
<line x1="571.2" y1="95.1" x2="571.2" y2="93.7" stroke="#666" stroke-width="0.6"/>
<line x1="579" y1="95.1" x2="579" y2="93.7" stroke="#666" stroke-width="0.6"/>
<line x1="586.8" y1="95.1" x2="586.8" y2="93.7" stroke="#666" stroke-width="0.6"/>
<line x1="594.6" y1="95.1" x2="594.6" y2="93.7" stroke="#666" stroke-width="0.6"/>
<line x1="602.4" y1="95.1" x2="602.4" y2="93.7" stroke="#666" stroke-width="0.6"/>
<line x1="610.2" y1="95.1" x2="610.2" y2="93.7" stroke="#666" stroke-width="0.6"/>
<line x1="548.7" y1="135.3" x2="617.4" y2="135.3" stroke="#777" stroke-width="0.75"/>
<line x1="555.6" y1="135.3" x2="555.6" y2="133.9" stroke="#666" stroke-width="0.6"/>
<line x1="563.4" y1="135.3" x2="563.4" y2="133.9" stroke="#666" stroke-width="0.6"/>
<line x1="571.2" y1="135.3" x2="571.2" y2="133.9" stroke="#666" stroke-width="0.6"/>
<line x1="579" y1="135.3" x2="579" y2="133.9" stroke="#666" stroke-width="0.6"/>
<line x1="586.8" y1="135.3" x2="586.8" y2="133.9" stroke="#666" stroke-width="0.6"/>
<line x1="594.6" y1="135.3" x2="594.6" y2="133.9" stroke="#666" stroke-width="0.6"/>
<line x1="602.4" y1="135.3" x2="602.4" y2="133.9" stroke="#666" stroke-width="0.6"/>
<line x1="610.2" y1="135.3" x2="610.2" y2="133.9" stroke="#666" stroke-width="0.6"/>
<rect x="476.4" y="13.6" width="69.3" height="162.4" fill="none" stroke="#ff8c8c" stroke-width="1.3"/>
<rect x="548.7" y="13.6" width="68.7" height="162.4" fill="none" stroke="#9090ff" stroke-width="1.3"/>
<text x="514.6" y="10.8" font-family="'Liberation Serif', 'Times New Roman', serif" font-size="13.5" fill="#ff1414" text-anchor="middle" font-weight="normal" >O1s</text>
<text x="584.6" y="10.8" font-family="'Liberation Serif', 'Times New Roman', serif" font-size="13.5" fill="#1c1cff" text-anchor="middle" font-weight="normal" >C1s</text>
<text x="544.8" y="21.8" font-family="'Liberation Serif', 'Times New Roman', serif" font-size="8.4" fill="#222" text-anchor="end" font-weight="normal" >600</text>
<text x="616.4" y="21.8" font-family="'Liberation Serif', 'Times New Roman', serif" font-size="8.4" fill="#222" text-anchor="end" font-weight="normal" >600</text>
<text x="544.8" y="62.6" font-family="'Liberation Serif', 'Times New Roman', serif" font-size="8.4" fill="#222" text-anchor="end" font-weight="normal" >400</text>
<text x="616.4" y="62.6" font-family="'Liberation Serif', 'Times New Roman', serif" font-size="8.4" fill="#222" text-anchor="end" font-weight="normal" >400</text>
<text x="544.8" y="103.4" font-family="'Liberation Serif', 'Times New Roman', serif" font-size="8.4" fill="#222" text-anchor="end" font-weight="normal" >300</text>
<text x="616.4" y="103.4" font-family="'Liberation Serif', 'Times New Roman', serif" font-size="8.4" fill="#222" text-anchor="end" font-weight="normal" >300</text>
<text x="544.8" y="144.6" font-family="'Liberation Serif', 'Times New Roman', serif" font-size="8.4" fill="#222" text-anchor="end" font-weight="normal" >Raw</text>
<text x="616.4" y="144.6" font-family="'Liberation Serif', 'Times New Roman', serif" font-size="8.4" fill="#222" text-anchor="end" font-weight="normal" >Raw</text>
<line x1="478.2" y1="18.8" x2="488.4" y2="18.8" stroke="#33dd33" stroke-width="0.8"/>
<text x="490.3" y="20.6" font-family="'Liberation Serif', 'Times New Roman', serif" font-size="5.3" fill="#222" text-anchor="start" font-weight="bold" >C=O</text>
<line x1="478.2" y1="25.2" x2="488.4" y2="25.2" stroke="#4444ff" stroke-width="0.8"/>
<text x="490.3" y="27" font-family="'Liberation Serif', 'Times New Roman', serif" font-size="5.3" fill="#222" text-anchor="start" font-weight="bold" >C-O-H</text>
<line x1="478.2" y1="31.3" x2="488.4" y2="31.3" stroke="#22eeee" stroke-width="0.8"/>
<text x="490.3" y="33.1" font-family="'Liberation Serif', 'Times New Roman', serif" font-size="5.3" fill="#222" text-anchor="start" font-weight="bold" >C-O-C</text>
<line x1="478.2" y1="37.6" x2="488.4" y2="37.6" stroke="#ff33ff" stroke-width="0.8"/>
<text x="490.3" y="39.4" font-family="'Liberation Serif', 'Times New Roman', serif" font-size="5.3" fill="#222" text-anchor="start" font-weight="bold" >O=C-O-R</text>
<line x1="478.9" y1="139.9" x2="488.8" y2="139.9" stroke="#ffaa44" stroke-width="0.8"/>
<text x="490.3" y="141.7" font-family="'Liberation Serif', 'Times New Roman', serif" font-size="5.4" fill="#222" text-anchor="start" font-weight="bold" >O<tspan font-size="3.4" dy="1">x</tspan><tspan dy="-1">/H</tspan><tspan font-size="3.4" dy="1">2</tspan><tspan dy="-1">O</tspan></text>
<line x1="551.3" y1="21.8" x2="560.6" y2="21.8" stroke="#33dd33" stroke-width="0.8"/>
<text x="561.9" y="23.6" font-family="'Liberation Serif', 'Times New Roman', serif" font-size="5.3" fill="#222" text-anchor="start" font-weight="bold" >sp<tspan font-size="3.4" dy="-1.8">2</tspan><tspan dy="1.8"> carbon</tspan></text>
<line x1="551.3" y1="30.4" x2="560.6" y2="30.4" stroke="#4444ff" stroke-width="0.8"/>
<text x="561.9" y="32.2" font-family="'Liberation Serif', 'Times New Roman', serif" font-size="5.3" fill="#222" text-anchor="start" font-weight="bold" >sp<tspan font-size="3.4" dy="-1.8">3</tspan><tspan dy="1.8"> carbon</tspan></text>
<line x1="551.3" y1="36.6" x2="560.6" y2="36.6" stroke="#22eeee" stroke-width="0.8"/>
<text x="561.9" y="38.4" font-family="'Liberation Serif', 'Times New Roman', serif" font-size="5.3" fill="#222" text-anchor="start" font-weight="bold" >C-O</text>
<line x1="551.3" y1="42.9" x2="560.6" y2="42.9" stroke="#ff33ff" stroke-width="0.8"/>
<text x="561.9" y="44.7" font-family="'Liberation Serif', 'Times New Roman', serif" font-size="5.3" fill="#222" text-anchor="start" font-weight="bold" >C=O</text>
<text x="477.5" y="187" font-family="'Liberation Serif', 'Times New Roman', serif" font-size="8" fill="#ee1c1c" text-anchor="middle" font-weight="normal" >544</text>
<text x="492.7" y="187" font-family="'Liberation Serif', 'Times New Roman', serif" font-size="8" fill="#ee1c1c" text-anchor="middle" font-weight="normal" >540</text>
<text x="508" y="187" font-family="'Liberation Serif', 'Times New Roman', serif" font-size="8" fill="#ee1c1c" text-anchor="middle" font-weight="normal" >536</text>
<text x="523.3" y="187" font-family="'Liberation Serif', 'Times New Roman', serif" font-size="8" fill="#ee1c1c" text-anchor="middle" font-weight="normal" >532</text>
<text x="538.5" y="187" font-family="'Liberation Serif', 'Times New Roman', serif" font-size="8" fill="#ee1c1c" text-anchor="middle" font-weight="normal" >528</text>
<text x="555.6" y="187" font-family="'Liberation Serif', 'Times New Roman', serif" font-size="8" fill="#2222ee" text-anchor="middle" font-weight="normal" >296</text>
<text x="570.8" y="187" font-family="'Liberation Serif', 'Times New Roman', serif" font-size="8" fill="#2222ee" text-anchor="middle" font-weight="normal" >292</text>
<text x="586.4" y="187" font-family="'Liberation Serif', 'Times New Roman', serif" font-size="8" fill="#2222ee" text-anchor="middle" font-weight="normal" >288</text>
<text x="602.1" y="187" font-family="'Liberation Serif', 'Times New Roman', serif" font-size="8" fill="#2222ee" text-anchor="middle" font-weight="normal" >284</text>
<text x="617.9" y="187" font-family="'Liberation Serif', 'Times New Roman', serif" font-size="8" fill="#2222ee" text-anchor="middle" font-weight="normal" >280</text>
<text x="543.2" y="200.6" font-family="'Liberation Serif', 'Times New Roman', serif" font-size="12.2" fill="#222" text-anchor="middle" font-weight="normal" stroke="#222" stroke-width="0.25">Binding energy (eV)</text>
<defs><filter id="grain" x="0" y="0" width="100%" height="100%"><feTurbulence type="fractalNoise" baseFrequency="0.6 0.9" numOctaves="2" seed="5" result="n"/><feColorMatrix in="n" type="matrix" values="0 0 0 0 0.35  0 0 0 0 0.35  0 0 0 0 0.35  0 0 0 -1.6 1.15" result="c"/><feComposite in="c" in2="SourceGraphic" operator="in"/></filter></defs>
<path d="M323.6 284.3 L323.6 278.32 L325.34 278.01 L326.53 277.83 L327.72 278.22 L329.13 277.82 L330.55 277.73 L331.59 277.52 L332.62 277.29 L333.66 277.41 L334.73 277.19 L335.8 277.22 L336.87 277.02 L337.91 277.04 L338.96 276.66 L340 276.36 L341.03 276.26 L342.07 276.57 L343.1 276.08 L344.18 276.33 L345.25 276.21 L346.33 275.73 L347.43 276.14 L348.54 275.53 L349.65 276.02 L350.78 275.91 L351.92 275.39 L353.05 275.65 L354.2 275.57 L355.36 275.06 L356.51 275.36 L357.67 274.9 L358.84 275.37 L360 275.13 L361.2 275.26 L362.4 274.53 L363.6 274.64 L364.84 274.78 L366.09 274.7 L367.33 274.33 L368.6 274.75 L369.86 274.65 L371.12 274.2 L372.38 274.02 L373.63 274.32 L374.89 274.08 L376.11 274.2 L377.32 274.02 L378.54 273.89 L379.69 273.57 L380.85 273.6 L382 273.77 L383.03 273.91 L384.06 273.66 L385.09 273.83 L386.47 273.63 L387.85 273.81 L389.18 273.61 L390.5 273.33 L391.88 273.15 L393.26 273.06 L394.29 273.01 L395.32 273.56 L396.35 273.54 L397.57 273.43 L398.78 272.95 L400 273.31 L401.11 272.92 L402.21 273.43 L403.32 273.25 L404.42 273.3 L405.43 273.18 L406.45 273.04 L407.46 273.32 L408.47 273.39 L409.48 272.87 L410.56 273 L411.64 273.19 L412.72 273.14 L413.8 272.94 L414.88 272.95 L415.96 273.3 L417.04 272.81 L418.13 272.75 L419.21 273.07 L420.3 272.77 L421.32 273.19 L422.35 272.78 L423.38 273.19 L424.41 272.79 L425.44 273.13 L426.58 273.02 L427.72 272.99 L428.86 272.62 L430 272.56 L431.31 272.45 L432.62 272.53 L433.94 272.85 L435.12 272.4 L436.3 272.49 L437.49 272.7 L438.58 272.38 L439.67 272.48 L440.76 272.38 L441.79 272.67 L442.82 272.26 L443.86 272.85 L444.87 272.55 L445.89 272.61 L446.9 272.48 L447.94 272.43 L448.97 272.74 L450 272.68 L451.1 272.62 L452.21 272.06 L453.31 272.44 L454.47 272.68 L455.63 272.47 L456.79 272.38 L457.92 272.48 L459.06 272.15 L460.2 272.53 L461.25 272.58 L462.29 272.08 L463.34 272.39 L464.66 272.46 L465.98 272.29 L467.9 272.53 L467.9 284.3 Z" fill="#0d0d0d"/>
<path d="M323.6 279.72 L325.34 279.41 L326.53 279.23 L327.72 279.62 L329.13 279.22 L330.55 279.13 L331.59 278.92 L332.62 278.69 L333.66 278.81 L334.73 278.59 L335.8 278.62 L336.87 278.42 L337.91 278.44 L338.96 278.06 L340 277.76 L341.03 277.66 L342.07 277.97 L343.1 277.48 L344.18 277.73 L345.25 277.61 L346.33 277.13 L347.43 277.54 L348.54 276.93 L349.65 277.42 L350.78 277.31 L351.92 276.79 L353.05 277.05 L354.2 276.97 L355.36 276.46 L356.51 276.76 L357.67 276.3 L358.84 276.77 L360 276.53 L361.2 276.66 L362.4 275.93 L363.6 276.04 L364.84 276.18 L366.09 276.1 L367.33 275.73 L368.6 276.15 L369.86 276.05 L371.12 275.6 L372.38 275.42 L373.63 275.72 L374.89 275.48 L376.11 275.6 L377.32 275.42 L378.54 275.29 L379.69 274.97 L380.85 275 L382 275.17 L383.03 275.31 L384.06 275.06 L385.09 275.23 L386.47 275.03 L387.85 275.21 L389.18 275.01 L390.5 274.73 L391.88 274.55 L393.26 274.46 L394.29 274.41 L395.32 274.96 L396.35 274.94 L397.57 274.83 L398.78 274.35 L400 274.71 L401.11 274.32 L402.21 274.83 L403.32 274.65 L404.42 274.7 L405.43 274.58 L406.45 274.44 L407.46 274.72 L408.47 274.79 L409.48 274.27 L410.56 274.4 L411.64 274.59 L412.72 274.54 L413.8 274.34 L414.88 274.35 L415.96 274.7 L417.04 274.21 L418.13 274.15 L419.21 274.47 L420.3 274.17 L421.32 274.59 L422.35 274.18 L423.38 274.59 L424.41 274.19 L425.44 274.53 L426.58 274.42 L427.72 274.39 L428.86 274.02 L430 273.96 L431.31 273.85 L432.62 273.93 L433.94 274.25 L435.12 273.8 L436.3 273.89 L437.49 274.1 L438.58 273.78 L439.67 273.88 L440.76 273.78 L441.79 274.07 L442.82 273.66 L443.86 274.25 L444.87 273.95 L445.89 274.01 L446.9 273.88 L447.94 273.83 L448.97 274.14 L450 274.08 L451.1 274.02 L452.21 273.46 L453.31 273.84 L454.47 274.08 L455.63 273.87 L456.79 273.78 L457.92 273.88 L459.06 273.55 L460.2 273.93 L461.25 273.98 L462.29 273.48 L463.34 273.79 L464.66 273.86 L465.98 273.69 L467.9 273.93" fill="none" stroke="#3c3c3c" stroke-width="2.0" stroke-linejoin="round" opacity="0.9"/>
<rect x="455.79" y="274.84" width="1.21" height="0.8" fill="#3b3b3b"/>
<rect x="378.63" y="275.74" width="2.13" height="0.8" fill="#404040"/>
<rect x="448.25" y="273.77" width="1.45" height="0.8" fill="#454545"/>
<rect x="394.54" y="276.69" width="0.96" height="0.8" fill="#414141"/>
<rect x="391.46" y="276.31" width="1.27" height="0.8" fill="#505050"/>
<rect x="359.75" y="276.85" width="2.3" height="0.8" fill="#505050"/>
<rect x="442.14" y="277.35" width="2.11" height="0.8" fill="#5f5f5f"/>
<rect x="400.74" y="275.1" width="2.02" height="0.8" fill="#626262"/>
<rect x="352.41" y="276.82" width="1.73" height="0.8" fill="#494949"/>
<rect x="385.46" y="276.47" width="1.15" height="0.8" fill="#333333"/>
<rect x="448.8" y="274.79" width="1.74" height="0.8" fill="#5b5b5b"/>
<rect x="377.97" y="274.8" width="2.12" height="0.8" fill="#404040"/>
<rect x="363.15" y="279.15" width="1.19" height="0.8" fill="#606060"/>
<rect x="427.87" y="274.36" width="1.64" height="0.8" fill="#343434"/>
<rect x="408.05" y="275.14" width="1.66" height="0.8" fill="#565656"/>
<rect x="330.3" y="280.9" width="1.09" height="0.8" fill="#494949"/>
<rect x="393.54" y="273.96" width="0.83" height="0.8" fill="#4e4e4e"/>
<rect x="368.77" y="279.51" width="1.42" height="0.8" fill="#454545"/>
<rect x="419.89" y="281.32" width="1.95" height="0.8" fill="#626262"/>
<rect x="397.46" y="274.6" width="1.36" height="0.8" fill="#4a4a4a"/>
<rect x="447.54" y="273.99" width="1.22" height="0.8" fill="#3d3d3d"/>
<rect x="454.73" y="273.83" width="2.24" height="0.8" fill="#454545"/>
<rect x="369.14" y="275.7" width="1.11" height="0.8" fill="#333333"/>
<rect x="453.02" y="277.69" width="0.99" height="0.8" fill="#5e5e5e"/>
<rect x="326.83" y="279.37" width="2.34" height="0.8" fill="#3b3b3b"/>
<rect x="363.79" y="277.69" width="2.37" height="0.8" fill="#484848"/>
<rect x="431.73" y="276.35" width="2.03" height="0.8" fill="#505050"/>
<rect x="434.48" y="276.3" width="1.9" height="0.8" fill="#5c5c5c"/>
<rect x="400.35" y="275.94" width="1.72" height="0.8" fill="#434343"/>
<rect x="347.56" y="280.61" width="2.01" height="0.8" fill="#333333"/>
<rect x="398.95" y="275.26" width="2.13" height="0.8" fill="#3e3e3e"/>
<rect x="370.34" y="276.5" width="1.23" height="0.8" fill="#444444"/>
<rect x="337.76" y="282.76" width="2.39" height="0.8" fill="#424242"/>
<rect x="368.05" y="277.83" width="1.95" height="0.8" fill="#626262"/>
<rect x="377.79" y="276.37" width="1.4" height="0.8" fill="#404040"/>
<rect x="436.75" y="275.92" width="1.85" height="0.8" fill="#4c4c4c"/>
<rect x="329.99" y="280.44" width="0.9" height="0.8" fill="#3e3e3e"/>
<rect x="411.55" y="276.54" width="0.94" height="0.8" fill="#5e5e5e"/>
<rect x="405.18" y="274.33" width="2.17" height="0.8" fill="#505050"/>
<rect x="413.1" y="277.47" width="1.45" height="0.8" fill="#5a5a5a"/>
<rect x="418.1" y="273.96" width="2.23" height="0.8" fill="#555555"/>
<rect x="452.13" y="273.99" width="2.33" height="0.8" fill="#626262"/>
<rect x="462.91" y="276.36" width="2.35" height="0.8" fill="#636363"/>
<rect x="336.96" y="278.55" width="1.42" height="0.8" fill="#4d4d4d"/>
<rect x="452.02" y="274.46" width="1.79" height="0.8" fill="#3b3b3b"/>
<rect x="412.47" y="278.2" width="2.18" height="0.8" fill="#646464"/>
<rect x="401.07" y="276.29" width="1.37" height="0.8" fill="#4a4a4a"/>
<rect x="353.02" y="276.68" width="2.24" height="0.8" fill="#373737"/>
<rect x="398.56" y="276.67" width="1.05" height="0.8" fill="#525252"/>
<rect x="423.19" y="275.41" width="1.23" height="0.8" fill="#5a5a5a"/>
<rect x="363.04" y="280.52" width="1.98" height="0.8" fill="#515151"/>
<rect x="359.42" y="276.25" width="0.93" height="0.8" fill="#5c5c5c"/>
<rect x="438.73" y="273.68" width="2.3" height="0.8" fill="#434343"/>
<rect x="371" y="275.1" width="2.38" height="0.8" fill="#3a3a3a"/>
<rect x="345.66" y="281.49" width="1.73" height="0.8" fill="#484848"/>
<rect x="435.96" y="274.04" width="2.29" height="0.8" fill="#5f5f5f"/>
<rect x="435.84" y="273.71" width="1.04" height="0.8" fill="#5b5b5b"/>
<rect x="353.11" y="276.76" width="1.03" height="0.8" fill="#363636"/>
<rect x="367.15" y="276.74" width="2" height="0.8" fill="#3c3c3c"/>
<rect x="351.12" y="279.37" width="1.56" height="0.8" fill="#424242"/>
<rect x="366.08" y="276.22" width="1.62" height="0.8" fill="#484848"/>
<rect x="383.78" y="275.93" width="2.05" height="0.8" fill="#484848"/>
<rect x="413.45" y="275.77" width="1.04" height="0.8" fill="#454545"/>
<rect x="338.18" y="279.56" width="1.53" height="0.8" fill="#505050"/>
<rect x="346.43" y="277.12" width="2.11" height="0.8" fill="#505050"/>
<rect x="455.61" y="273.52" width="1.66" height="0.8" fill="#393939"/>
<rect x="365.59" y="277.51" width="2.37" height="0.8" fill="#414141"/>
<rect x="355.01" y="278.99" width="1.64" height="0.8" fill="#595959"/>
<rect x="431.17" y="273.36" width="1.95" height="0.8" fill="#5c5c5c"/>
<rect x="385.15" y="277.73" width="1.17" height="0.8" fill="#4f4f4f"/>
<rect x="338.69" y="278.9" width="1.05" height="0.8" fill="#4d4d4d"/>
<rect x="415.68" y="275.03" width="1.51" height="0.8" fill="#636363"/>
<rect x="359.7" y="276.24" width="2.33" height="0.8" fill="#4c4c4c"/>
<rect x="373.2" y="275.88" width="2.23" height="0.8" fill="#4c4c4c"/>
<rect x="365.9" y="276.92" width="0.85" height="0.8" fill="#4b4b4b"/>
<rect x="431.74" y="273.39" width="1.1" height="0.8" fill="#484848"/>
<rect x="421.49" y="275.46" width="1.07" height="0.8" fill="#5a5a5a"/>
<rect x="435.95" y="278.14" width="0.89" height="0.8" fill="#5e5e5e"/>
<rect x="391.49" y="276.44" width="1.76" height="0.8" fill="#545454"/>
<rect x="437.83" y="273.74" width="1.51" height="0.8" fill="#545454"/>
<rect x="388.19" y="275.93" width="0.98" height="0.8" fill="#636363"/>
<rect x="439.53" y="273.73" width="1.04" height="0.8" fill="#3e3e3e"/>
<rect x="331.83" y="278.34" width="1.37" height="0.8" fill="#5c5c5c"/>
<rect x="444.01" y="274.79" width="1.38" height="0.8" fill="#585858"/>
<rect x="390.4" y="276.54" width="2.12" height="0.8" fill="#474747"/>
<rect x="370.62" y="278.04" width="1.13" height="0.8" fill="#565656"/>
<rect x="402.26" y="275.15" width="1" height="0.8" fill="#4f4f4f"/>
<rect x="400.37" y="274.2" width="1.96" height="0.8" fill="#585858"/>
<rect x="415.37" y="276.31" width="0.88" height="0.8" fill="#4b4b4b"/>
<rect x="414.39" y="273.9" width="1.8" height="0.8" fill="#373737"/>
<rect x="343.38" y="278.35" width="2.14" height="0.8" fill="#5d5d5d"/>
<rect x="339.77" y="279.81" width="2.31" height="0.8" fill="#636363"/>
<rect x="464.86" y="273.38" width="0.95" height="0.8" fill="#636363"/>
<rect x="464.76" y="274.54" width="1.66" height="0.8" fill="#343434"/>
<rect x="341.74" y="278.75" width="2.29" height="0.8" fill="#424242"/>
<rect x="361.55" y="278.48" width="1.36" height="0.8" fill="#3d3d3d"/>
<rect x="441.02" y="276.89" width="1.35" height="0.8" fill="#4e4e4e"/>
<rect x="366.3" y="279.19" width="0.91" height="0.8" fill="#323232"/>
<rect x="386.79" y="276.92" width="1.63" height="0.8" fill="#525252"/>
<rect x="372.41" y="278.32" width="2.27" height="0.8" fill="#424242"/>
<rect x="415.06" y="276.14" width="2.01" height="0.8" fill="#323232"/>
<rect x="422.82" y="274.94" width="2.01" height="0.8" fill="#5a5a5a"/>
<rect x="413.23" y="274.96" width="1.1" height="0.8" fill="#595959"/>
<rect x="388.25" y="275.98" width="2.03" height="0.8" fill="#5b5b5b"/>
<rect x="348.22" y="277.02" width="0.9" height="0.8" fill="#5a5a5a"/>
<rect x="362.82" y="276.61" width="1.82" height="0.8" fill="#5d5d5d"/>
<rect x="388.45" y="275.98" width="1.64" height="0.8" fill="#5d5d5d"/>
<rect x="443.34" y="274.67" width="1.54" height="0.8" fill="#343434"/>
<rect x="349.12" y="278.49" width="1.82" height="0.8" fill="#585858"/>
<rect x="439.27" y="275.97" width="2.29" height="0.8" fill="#454545"/>
<rect x="436.53" y="276.93" width="0.97" height="0.8" fill="#353535"/>
<rect x="398.1" y="276.83" width="2.07" height="0.8" fill="#5d5d5d"/>
<rect x="421.19" y="277.49" width="1.89" height="0.8" fill="#595959"/>
<rect x="435.17" y="273.57" width="1.73" height="0.8" fill="#575757"/>
<rect x="401.54" y="278.09" width="1.9" height="0.8" fill="#4f4f4f"/>
<rect x="429.16" y="273.92" width="1.1" height="0.8" fill="#464646"/>
<rect x="437.8" y="276.19" width="2.39" height="0.8" fill="#373737"/>
<rect x="420.06" y="280.27" width="1.11" height="0.8" fill="#414141"/>
<rect x="332.68" y="278.19" width="2.07" height="0.8" fill="#565656"/>
<rect x="380.24" y="275.52" width="1.87" height="0.8" fill="#626262"/>
<rect x="362.5" y="276.25" width="1.07" height="0.8" fill="#565656"/>
<rect x="381.15" y="276.28" width="2.31" height="0.8" fill="#636363"/>
<rect x="336.52" y="280.32" width="1.25" height="0.8" fill="#606060"/>
<rect x="456.19" y="274.2" width="0.87" height="0.8" fill="#606060"/>
<rect x="377.27" y="276.64" width="1.46" height="0.8" fill="#5f5f5f"/>
<rect x="324.87" y="280.32" width="2.11" height="0.8" fill="#555555"/>
<path d="M473.8 284.3 L473.8 278.3 L475.52 277.69 L476.69 277.74 L477.86 277.58 L479.25 277.8 L480.65 277.61 L481.67 277.66 L482.7 276.99 L483.72 277.12 L484.78 276.75 L485.83 276.78 L486.89 276.88 L487.93 276.45 L488.96 276.48 L490 276.7 L491.5 276.51 L493 276.16 L494 276.34 L495.01 276.42 L496.01 275.78 L497.06 276.26 L498.1 276.11 L499.14 275.79 L500.24 275.58 L501.35 276.07 L502.45 275.56 L503.65 275.31 L504.85 275.24 L506.04 275.69 L507.36 275.43 L508.68 275.5 L510 275.36 L511.11 275.16 L512.21 275.4 L513.32 274.91 L514.42 274.97 L515.63 275.09 L516.84 274.87 L518.05 274.96 L519.26 274.69 L520.28 274.72 L521.31 274.2 L522.33 274.27 L523.35 274.25 L524.38 274.04 L525.43 274.09 L526.48 273.94 L527.53 274.01 L528.58 274.2 L529.63 273.96 L530.68 273.91 L531.73 273.75 L532.78 273.74 L533.83 274.16 L534.88 273.9 L535.91 273.84 L536.93 273.49 L537.95 273.84 L538.98 273.4 L540 273.52 L541 273.91 L542 273.64 L543 273.56 L544 273.62 L545 273.7 L546 273.64 L547 273.24 L548 273.08 L549 273.26 L550 273.21 L551 273.16 L552 273.66 L553 273.6 L554 273.19 L555 273.42 L556 273.23 L557 273.59 L558 273.26 L559 273.12 L560 273.1 L561 273.31 L562 273.09 L563 273.31 L564 273.53 L565 273.17 L566 273.04 L567 273.57 L568 273.22 L569 272.92 L570 272.88 L571.03 272.92 L572.06 273.27 L573.09 273.38 L574.12 273.11 L575.15 272.85 L576.21 273.06 L577.28 273.49 L578.34 273.15 L579.41 273.46 L580.47 273.37 L581.54 272.77 L582.6 273.26 L583.66 273.23 L584.73 273.12 L585.79 272.92 L586.82 273.18 L587.85 272.8 L588.88 273.02 L589.91 273.03 L590.94 273.38 L592.14 273.32 L593.34 272.88 L594.54 273.04 L595.73 272.81 L596.8 273.31 L597.87 273.27 L598.93 272.87 L600 273.1 L601.27 273.06 L602.55 272.73 L603.82 273.15 L605 272.98 L606.17 273.13 L607.35 272.95 L608.41 272.56 L609.47 272.78 L610.52 272.55 L611.91 273.17 L613.29 273.12 L614.42 273.07 L615.56 272.69 L617.3 272.49 L617.3 284.3 Z" fill="#0d0d0d"/>
<path d="M473.8 279.7 L475.52 279.09 L476.69 279.14 L477.86 278.98 L479.25 279.2 L480.65 279.01 L481.67 279.06 L482.7 278.39 L483.72 278.52 L484.78 278.15 L485.83 278.18 L486.89 278.28 L487.93 277.85 L488.96 277.88 L490 278.1 L491.5 277.91 L493 277.56 L494 277.74 L495.01 277.82 L496.01 277.18 L497.06 277.66 L498.1 277.51 L499.14 277.19 L500.24 276.98 L501.35 277.47 L502.45 276.96 L503.65 276.71 L504.85 276.64 L506.04 277.09 L507.36 276.83 L508.68 276.9 L510 276.76 L511.11 276.56 L512.21 276.8 L513.32 276.31 L514.42 276.37 L515.63 276.49 L516.84 276.27 L518.05 276.36 L519.26 276.09 L520.28 276.12 L521.31 275.6 L522.33 275.67 L523.35 275.65 L524.38 275.44 L525.43 275.49 L526.48 275.34 L527.53 275.41 L528.58 275.6 L529.63 275.36 L530.68 275.31 L531.73 275.15 L532.78 275.14 L533.83 275.56 L534.88 275.3 L535.91 275.24 L536.93 274.89 L537.95 275.24 L538.98 274.8 L540 274.92 L541 275.31 L542 275.04 L543 274.96 L544 275.02 L545 275.1 L546 275.04 L547 274.64 L548 274.48 L549 274.66 L550 274.61 L551 274.56 L552 275.06 L553 275 L554 274.59 L555 274.82 L556 274.63 L557 274.99 L558 274.66 L559 274.52 L560 274.5 L561 274.71 L562 274.49 L563 274.71 L564 274.93 L565 274.57 L566 274.44 L567 274.97 L568 274.62 L569 274.32 L570 274.28 L571.03 274.32 L572.06 274.67 L573.09 274.78 L574.12 274.51 L575.15 274.25 L576.21 274.46 L577.28 274.89 L578.34 274.55 L579.41 274.86 L580.47 274.77 L581.54 274.17 L582.6 274.66 L583.66 274.63 L584.73 274.52 L585.79 274.32 L586.82 274.58 L587.85 274.2 L588.88 274.42 L589.91 274.43 L590.94 274.78 L592.14 274.72 L593.34 274.28 L594.54 274.44 L595.73 274.21 L596.8 274.71 L597.87 274.67 L598.93 274.27 L600 274.5 L601.27 274.46 L602.55 274.13 L603.82 274.55 L605 274.38 L606.17 274.53 L607.35 274.35 L608.41 273.96 L609.47 274.18 L610.52 273.95 L611.91 274.57 L613.29 274.52 L614.42 274.47 L615.56 274.09 L617.3 273.89" fill="none" stroke="#3c3c3c" stroke-width="2.0" stroke-linejoin="round" opacity="0.9"/>
<rect x="599.04" y="274.55" width="2.11" height="0.8" fill="#515151"/>
<rect x="613.18" y="274.22" width="2.03" height="0.8" fill="#545454"/>
<rect x="492.97" y="279.71" width="1.64" height="0.8" fill="#424242"/>
<rect x="560.63" y="274.54" width="2.29" height="0.8" fill="#3f3f3f"/>
<rect x="581.67" y="274.85" width="2.39" height="0.8" fill="#4b4b4b"/>
<rect x="566.76" y="277.6" width="2.24" height="0.8" fill="#4e4e4e"/>
<rect x="538.69" y="274.21" width="1.74" height="0.8" fill="#333333"/>
<rect x="507.36" y="277.03" width="0.81" height="0.8" fill="#404040"/>
<rect x="574.96" y="274.42" width="2.18" height="0.8" fill="#343434"/>
<rect x="484.83" y="277.84" width="1.25" height="0.8" fill="#414141"/>
<rect x="543.49" y="277.78" width="1.72" height="0.8" fill="#565656"/>
<rect x="509.18" y="277.16" width="2.09" height="0.8" fill="#505050"/>
<rect x="501.74" y="278.79" width="1.46" height="0.8" fill="#4d4d4d"/>
<rect x="597.03" y="275.45" width="1.88" height="0.8" fill="#353535"/>
<rect x="614.06" y="275.69" width="2.08" height="0.8" fill="#474747"/>
<rect x="490.26" y="278.8" width="1.1" height="0.8" fill="#3e3e3e"/>
<rect x="538.28" y="276.21" width="2.2" height="0.8" fill="#414141"/>
<rect x="485.47" y="278.42" width="0.96" height="0.8" fill="#555555"/>
<rect x="567.08" y="274.74" width="2.28" height="0.8" fill="#373737"/>
<rect x="594.89" y="273.93" width="1.45" height="0.8" fill="#3c3c3c"/>
<rect x="542.91" y="277.49" width="1.41" height="0.8" fill="#3c3c3c"/>
<rect x="614.22" y="277.44" width="2.28" height="0.8" fill="#424242"/>
<rect x="585.9" y="274.47" width="2.39" height="0.8" fill="#606060"/>
<rect x="553.44" y="277.71" width="1.58" height="0.8" fill="#5f5f5f"/>
<rect x="501.67" y="277.02" width="1.67" height="0.8" fill="#616161"/>
<rect x="580.64" y="274.92" width="0.88" height="0.8" fill="#353535"/>
<rect x="542.27" y="276.81" width="2.34" height="0.8" fill="#353535"/>
<rect x="486.14" y="278.89" width="0.91" height="0.8" fill="#3d3d3d"/>
<rect x="484.42" y="278.99" width="1.19" height="0.8" fill="#565656"/>
<rect x="558.92" y="275.62" width="0.93" height="0.8" fill="#595959"/>
<rect x="567.82" y="275.78" width="1.13" height="0.8" fill="#424242"/>
<rect x="576.14" y="274.63" width="1.22" height="0.8" fill="#414141"/>
<rect x="493.32" y="278.45" width="2.3" height="0.8" fill="#626262"/>
<rect x="476.12" y="280.47" width="2.4" height="0.8" fill="#595959"/>
<rect x="615.75" y="274.85" width="1.01" height="0.8" fill="#424242"/>
<rect x="524.18" y="275.52" width="2.21" height="0.8" fill="#363636"/>
<rect x="527.09" y="277.09" width="1.28" height="0.8" fill="#5f5f5f"/>
<rect x="614.02" y="277.36" width="1.65" height="0.8" fill="#5b5b5b"/>
<rect x="569.3" y="278.52" width="2.3" height="0.8" fill="#383838"/>
<rect x="493.8" y="278.86" width="2.22" height="0.8" fill="#393939"/>
<rect x="579.85" y="275.26" width="1.95" height="0.8" fill="#3f3f3f"/>
<rect x="503.61" y="277.6" width="2.16" height="0.8" fill="#5a5a5a"/>
<rect x="546.32" y="274.47" width="0.95" height="0.8" fill="#353535"/>
<rect x="534.74" y="279.51" width="0.87" height="0.8" fill="#434343"/>
<rect x="522" y="279.25" width="1.99" height="0.8" fill="#3c3c3c"/>
<rect x="552.86" y="278.9" width="1.7" height="0.8" fill="#4d4d4d"/>
<rect x="490.63" y="280.68" width="1.67" height="0.8" fill="#3b3b3b"/>
<rect x="592.9" y="274.82" width="1.68" height="0.8" fill="#575757"/>
<rect x="535.61" y="276.66" width="2.36" height="0.8" fill="#646464"/>
<rect x="480.45" y="278.96" width="1.14" height="0.8" fill="#484848"/>
<rect x="510.11" y="279.22" width="2.36" height="0.8" fill="#4c4c4c"/>
<rect x="580.85" y="276.48" width="2.18" height="0.8" fill="#414141"/>
<rect x="612.93" y="275.61" width="1.09" height="0.8" fill="#333333"/>
<rect x="605.61" y="278.15" width="2.29" height="0.8" fill="#646464"/>
<rect x="588.32" y="276.24" width="1.05" height="0.8" fill="#434343"/>
<rect x="574.03" y="276.94" width="2.2" height="0.8" fill="#4a4a4a"/>
<rect x="596.29" y="274.81" width="1.36" height="0.8" fill="#4f4f4f"/>
<rect x="590.91" y="278.17" width="1.16" height="0.8" fill="#404040"/>
<rect x="568.19" y="275.45" width="2.35" height="0.8" fill="#363636"/>
<rect x="514.3" y="276.83" width="1.62" height="0.8" fill="#5b5b5b"/>
<rect x="570.95" y="274.81" width="0.98" height="0.8" fill="#333333"/>
<rect x="612.11" y="275.61" width="1.73" height="0.8" fill="#3d3d3d"/>
<rect x="613.97" y="276.75" width="1.97" height="0.8" fill="#484848"/>
<rect x="519.19" y="276.2" width="2.37" height="0.8" fill="#585858"/>
<rect x="491.16" y="278.46" width="1.93" height="0.8" fill="#343434"/>
<rect x="475.04" y="279.33" width="1.9" height="0.8" fill="#545454"/>
<rect x="607.85" y="273.87" width="0.91" height="0.8" fill="#4d4d4d"/>
<rect x="568.79" y="275.17" width="1.8" height="0.8" fill="#474747"/>
<rect x="568.67" y="277.07" width="1.29" height="0.8" fill="#525252"/>
<rect x="532.59" y="277.87" width="1.92" height="0.8" fill="#4b4b4b"/>
<rect x="553.25" y="275.56" width="1.88" height="0.8" fill="#4a4a4a"/>
<rect x="602.55" y="276.57" width="1.71" height="0.8" fill="#595959"/>
<rect x="532.26" y="275.48" width="1.49" height="0.8" fill="#3f3f3f"/>
<rect x="556.87" y="276.01" width="1.32" height="0.8" fill="#5b5b5b"/>
<rect x="537.31" y="275.48" width="2.24" height="0.8" fill="#646464"/>
<rect x="587.44" y="275.95" width="1.85" height="0.8" fill="#3c3c3c"/>
<rect x="514.96" y="277.34" width="2.11" height="0.8" fill="#373737"/>
<rect x="581.09" y="276.19" width="1.3" height="0.8" fill="#5d5d5d"/>
<rect x="588.93" y="274.23" width="1.78" height="0.8" fill="#505050"/>
<rect x="583.54" y="274.57" width="1.46" height="0.8" fill="#4f4f4f"/>
<rect x="563.91" y="275.49" width="1.44" height="0.8" fill="#515151"/>
<rect x="495.68" y="279.77" width="0.81" height="0.8" fill="#5e5e5e"/>
<rect x="581.06" y="273.7" width="1.15" height="0.8" fill="#4d4d4d"/>
<rect x="588.58" y="274.86" width="1.63" height="0.8" fill="#5e5e5e"/>
<rect x="481.91" y="278.48" width="1.01" height="0.8" fill="#4f4f4f"/>
<rect x="540.55" y="278.99" width="2.38" height="0.8" fill="#535353"/>
<rect x="559.06" y="278.33" width="2.1" height="0.8" fill="#595959"/>
<rect x="601.02" y="275.3" width="2.13" height="0.8" fill="#4d4d4d"/>
<rect x="552.32" y="277.36" width="1.52" height="0.8" fill="#505050"/>
<rect x="581.18" y="275.76" width="1.24" height="0.8" fill="#5a5a5a"/>
<rect x="584.84" y="275.54" width="0.92" height="0.8" fill="#4e4e4e"/>
<rect x="515.23" y="276.05" width="1.34" height="0.8" fill="#434343"/>
<rect x="601.16" y="274.96" width="1.91" height="0.8" fill="#4a4a4a"/>
<rect x="574.76" y="274.26" width="1.46" height="0.8" fill="#363636"/>
<rect x="521.62" y="275.77" width="1.42" height="0.8" fill="#4c4c4c"/>
<rect x="583.73" y="274.19" width="0.83" height="0.8" fill="#5e5e5e"/>
<rect x="599.41" y="275.89" width="1.28" height="0.8" fill="#484848"/>
<rect x="529.98" y="275.9" width="1.66" height="0.8" fill="#4c4c4c"/>
<rect x="578.75" y="275.4" width="1.15" height="0.8" fill="#515151"/>
<rect x="536.47" y="278.76" width="1.42" height="0.8" fill="#333333"/>
<rect x="569.45" y="274.77" width="2.27" height="0.8" fill="#4f4f4f"/>
<rect x="613.57" y="277.29" width="0.84" height="0.8" fill="#545454"/>
<rect x="530.55" y="275.18" width="1.49" height="0.8" fill="#5b5b5b"/>
<rect x="597.46" y="274.28" width="0.88" height="0.8" fill="#3d3d3d"/>
<rect x="528.44" y="275.47" width="2.21" height="0.8" fill="#626262"/>
<rect x="514.17" y="277.67" width="1.2" height="0.8" fill="#4c4c4c"/>
<rect x="486.39" y="280.4" width="1.16" height="0.8" fill="#484848"/>
<rect x="484.51" y="277.88" width="0.86" height="0.8" fill="#5b5b5b"/>
<rect x="479.19" y="278.67" width="1.04" height="0.8" fill="#595959"/>
<rect x="492.66" y="281.17" width="0.98" height="0.8" fill="#5c5c5c"/>
<rect x="608.91" y="275.02" width="1.07" height="0.8" fill="#494949"/>
<rect x="560.73" y="274.48" width="1.95" height="0.8" fill="#616161"/>
<rect x="584.86" y="274.9" width="0.84" height="0.8" fill="#575757"/>
<rect x="518.94" y="277.12" width="2.25" height="0.8" fill="#5d5d5d"/>
<rect x="527.91" y="276.18" width="1.9" height="0.8" fill="#575757"/>
<rect x="563.55" y="274.85" width="1.92" height="0.8" fill="#383838"/>
<rect x="517.47" y="277.36" width="2.37" height="0.8" fill="#646464"/>
<rect x="585.54" y="277.37" width="1.65" height="0.8" fill="#484848"/>
<rect x="568.41" y="276.91" width="2.16" height="0.8" fill="#323232"/>
<rect x="591.16" y="275.51" width="1.49" height="0.8" fill="#383838"/>
<rect x="526.05" y="276.64" width="1.5" height="0.8" fill="#3b3b3b"/>
<rect x="578.63" y="275.49" width="1.23" height="0.8" fill="#5b5b5b"/>
<rect x="589.16" y="276.28" width="2.12" height="0.8" fill="#4d4d4d"/>
<rect x="558.64" y="274.52" width="2.16" height="0.8" fill="#464646"/>
<rect x="592.35" y="278" width="2" height="0.8" fill="#414141"/>
<rect x="555.43" y="276.58" width="1.41" height="0.8" fill="#5c5c5c"/>
<rect x="478.86" y="279.42" width="1.37" height="0.8" fill="#3f3f3f"/>
<rect x="511.36" y="277.08" width="2.21" height="0.8" fill="#434343"/>
<rect x="574.02" y="273.96" width="0.94" height="0.8" fill="#3e3e3e"/>
<path d="M396.3 270.4 L397.2 270.0 L399.0 272.6 L397.6 273.2 Z" fill="#1a1a1a"/>
<path d="M545.4 270.4 L546.3 270.0 L548.1 272.6 L546.7 273.2 Z" fill="#1a1a1a"/>
<path d="M393.6 212.0 L398.0 212.0 L397.6 231.2 L392.8 231.2 Z" fill="#2e2e2e"/>
<path d="M394.8 212.5 L396.4 212.5 L396.0 230.5 L394.3 230.5 Z" fill="#5a5a5a"/>
<path d="M397.4 230.6 L397.88 231.01 L398.56 231.59 L399.32 232.28 L400 233 L400.57 233.76 L401.11 234.58 L401.65 235.44 L402.2 236.3 L402.81 237.17 L403.46 238.06 L404.07 238.94 L404.6 239.8 L405.01 240.59 L405.35 241.34 L405.64 242.12 L405.9 243 L406.16 244.03 L406.39 245.17 L406.57 246.34 L406.7 247.5 L406.76 248.62 L406.76 249.75 L406.71 250.88 L406.6 252 L406.45 253.14 L406.24 254.3 L405.97 255.43 L405.6 256.5 L405.13 257.52 L404.57 258.49 L403.92 259.4 L403.2 260.2 L402.39 260.89 L401.49 261.49 L400.53 262 L399.5 262.4 L398.4 262.69 L397.22 262.87 L396.01 262.96 L394.8 263 L393.58 262.99 L392.34 262.93 L391.13 262.78 L390 262.5 L388.95 262.08 L387.96 261.55 L387.04 260.92 L386.2 260.2 L385.45 259.39 L384.77 258.49 L384.19 257.51 L383.7 256.5 L383.32 255.43 L383.04 254.3 L382.84 253.14 L382.7 252 L382.63 250.88 L382.63 249.75 L382.69 248.62 L382.8 247.5 L382.95 246.34 L383.16 245.17 L383.41 244.03 L383.7 243 L384.01 242.12 L384.36 241.34 L384.75 240.59 L385.2 239.8 L385.74 238.94 L386.34 238.06 L386.98 237.17 L387.6 236.3 L388.2 235.44 L388.79 234.58 L389.39 233.76 L390 233 L390.7 232.28 L391.45 231.59 L392.13 231.01 L392.6 230.6 Z" fill="#161616"/>
<path d="M386.2 250.0 C386.2 246.2 389.0 245.4 395.3 245.4 C401.6 245.4 404.4 246.2 404.4 250.0 C404.4 256.8 400.8 260.2 395.3 260.2 C389.8 260.2 386.2 256.8 386.2 250.0 Z" fill="#fbfbfb"/>
<circle cx="393.7" cy="238.0" r="0.75" fill="#e0e0e0"/><circle cx="391.0" cy="242.7" r="0.7" fill="#d0d0d0"/><circle cx="399.2" cy="242.7" r="0.7" fill="#d0d0d0"/>
<path d="M544.0 212.0 L547.7 212.0 L546.7 228.9 L542.7 228.9 Z" fill="#262626"/>
<path d="M545.1 212.5 L546.3 212.5 L545.4 228.0 L544.2 228.0 Z" fill="#555"/>
<path d="M542.9 228.7 Q540.4 230.2 542.4 231.3 Q545.2 232.1 546.4 229.0" fill="none" stroke="#3a3a3a" stroke-width="0.8"/>
<text x="323.2" y="222.3" font-family="'Liberation Sans', Arial, sans-serif" font-size="12.6" fill="#222" text-anchor="start" font-weight="normal" letter-spacing="0.6" stroke="#222" stroke-width="0.3">(e)</text>
<text x="330.3" y="263.7" font-family="'Liberation Sans', Arial, sans-serif" font-size="12" fill="#1a1a1a" text-anchor="start" font-weight="normal" letter-spacing="0.5" word-spacing="1">0 s</text>
<text x="480" y="263.7" font-family="'Liberation Sans', Arial, sans-serif" font-size="12" fill="#1a1a1a" text-anchor="start" font-weight="normal" letter-spacing="0.5" word-spacing="1">0.1 s</text>
<rect x="322.3" y="210.4" width="295.5" height="73.9" fill="none" stroke="#7c7c7c" stroke-width="1.0"/>
</svg></body></html>
